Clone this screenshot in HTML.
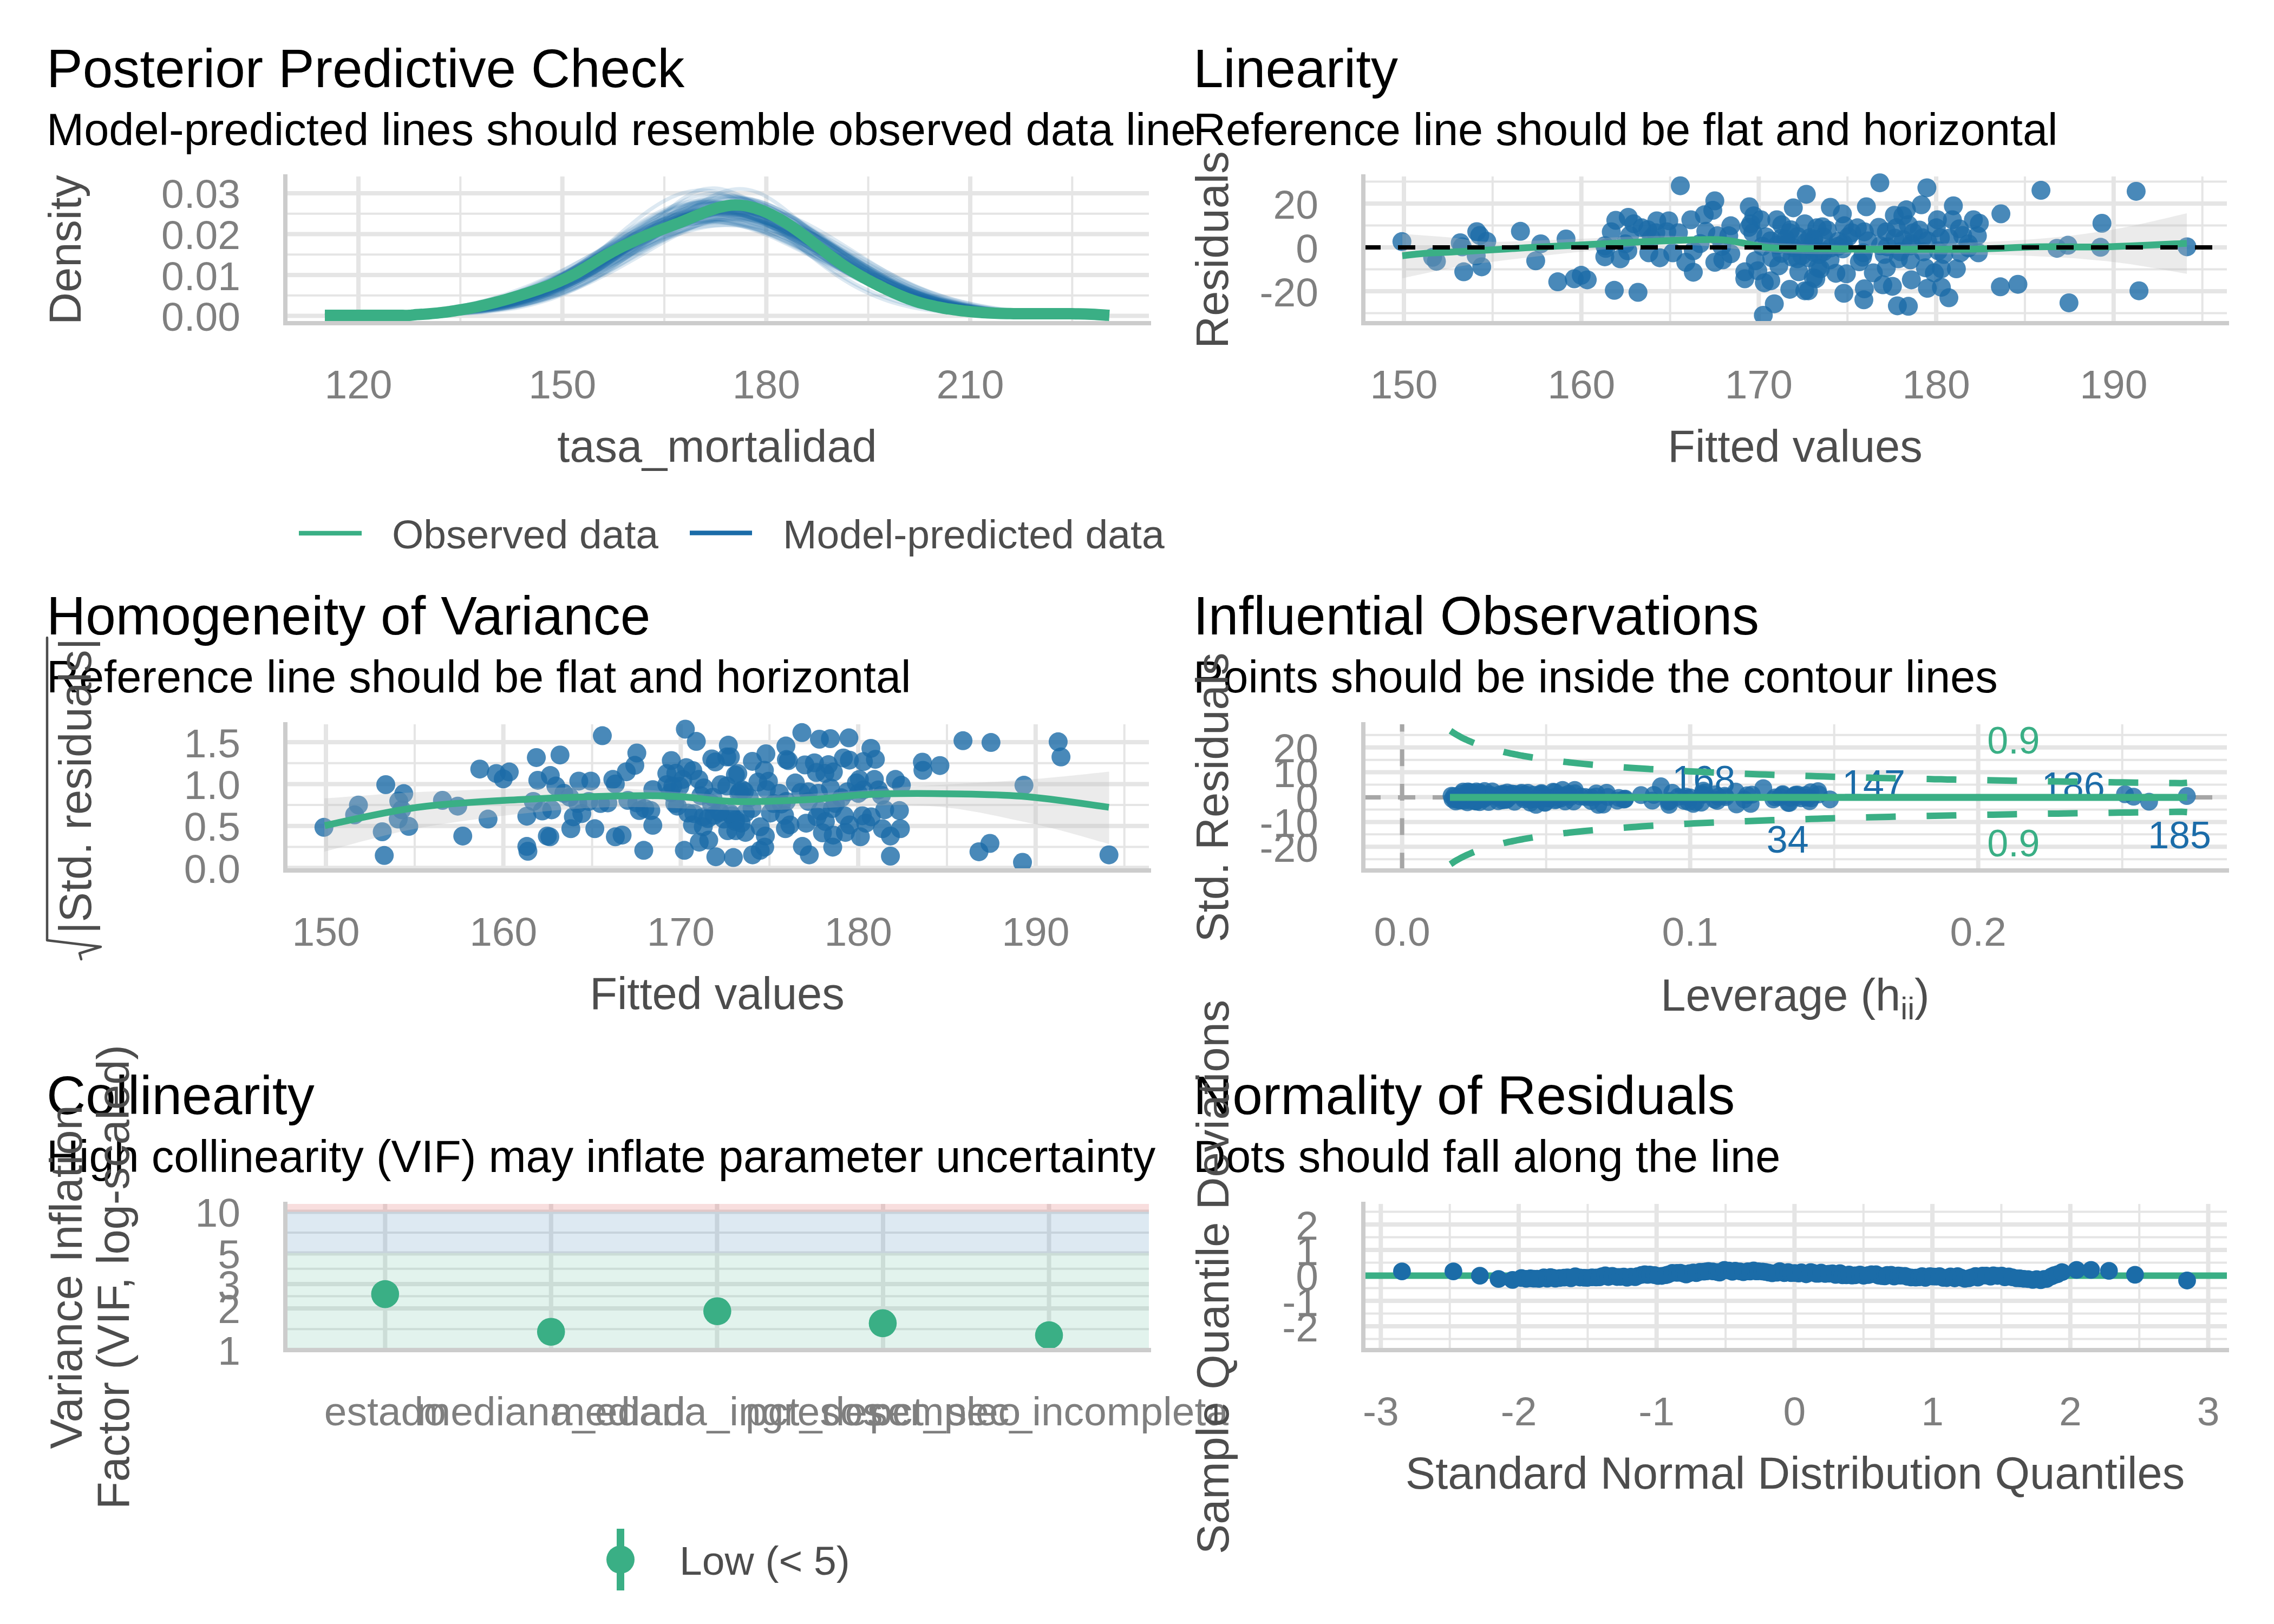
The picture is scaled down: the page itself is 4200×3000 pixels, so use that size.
<!DOCTYPE html>
<html><head><meta charset="utf-8"><style>
html,body{margin:0;padding:0;background:#fff;width:4200px;height:3000px;overflow:hidden}
svg{display:block}
text{font-family:"Liberation Sans", sans-serif}
</style></head><body>
<svg width="4200" height="3000" viewBox="0 0 4200 3000">
<rect width="4200" height="3000" fill="#fff"/>
<!-- ppc -->
<text x="86.0" y="160.8" font-size="100" fill="#000" text-anchor="start">Posterior Predictive Check</text>
<text x="86.0" y="267.9" font-size="83" fill="#000" text-anchor="start">Model-predicted lines should resemble observed data line</text>
<line x1="850.3" y1="326" x2="850.3" y2="597" stroke="#e5e5e5" stroke-width="4"/>
<line x1="1227.0" y1="326" x2="1227.0" y2="597" stroke="#e5e5e5" stroke-width="4"/>
<line x1="1603.6" y1="326" x2="1603.6" y2="597" stroke="#e5e5e5" stroke-width="4"/>
<line x1="1980.3" y1="326" x2="1980.3" y2="597" stroke="#e5e5e5" stroke-width="4"/>
<line x1="527" y1="545.8" x2="2122" y2="545.8" stroke="#e5e5e5" stroke-width="4"/>
<line x1="527" y1="470.2" x2="2122" y2="470.2" stroke="#e5e5e5" stroke-width="4"/>
<line x1="527" y1="394.7" x2="2122" y2="394.7" stroke="#e5e5e5" stroke-width="4"/>
<line x1="662.0" y1="326" x2="662.0" y2="597" stroke="#e5e5e5" stroke-width="8"/>
<line x1="1038.7" y1="326" x2="1038.7" y2="597" stroke="#e5e5e5" stroke-width="8"/>
<line x1="1415.3" y1="326" x2="1415.3" y2="597" stroke="#e5e5e5" stroke-width="8"/>
<line x1="1792.0" y1="326" x2="1792.0" y2="597" stroke="#e5e5e5" stroke-width="8"/>
<line x1="527" y1="583.6" x2="2122" y2="583.6" stroke="#e5e5e5" stroke-width="8"/>
<line x1="527" y1="508.0" x2="2122" y2="508.0" stroke="#e5e5e5" stroke-width="8"/>
<line x1="527" y1="432.5" x2="2122" y2="432.5" stroke="#e5e5e5" stroke-width="8"/>
<line x1="527" y1="356.9" x2="2122" y2="356.9" stroke="#e5e5e5" stroke-width="8"/>
<g fill="none" stroke="#1b6ca8" stroke-opacity="0.15" stroke-width="7" stroke-linejoin="round"><path d="M600.0 582.4 C603.3 582.4 613.3 582.4 620.0 582.3 C626.7 582.3 633.3 582.2 640.0 582.2 C646.7 582.1 653.3 582.1 660.0 582.0 C666.7 582.0 673.3 581.9 680.0 581.8 C686.7 581.7 693.3 581.6 700.0 581.5 C706.7 581.4 713.3 581.2 720.0 581.1 C726.7 580.9 733.3 580.7 740.0 580.5 C746.7 580.3 753.3 580.0 760.0 579.8 C766.7 579.5 773.3 579.2 780.0 578.8 C786.7 578.5 793.3 578.1 800.0 577.6 C806.7 577.1 813.3 576.6 820.0 576.1 C826.7 575.5 833.3 574.9 840.0 574.1 C846.7 573.4 853.3 572.6 860.0 571.7 C866.7 570.9 873.3 569.9 880.0 568.8 C886.7 567.8 893.3 566.6 900.0 565.3 C906.7 564.0 913.3 562.7 920.0 561.1 C926.7 559.6 933.3 558.0 940.0 556.2 C946.7 554.4 953.3 552.5 960.0 550.5 C966.7 548.4 973.3 546.3 980.0 543.9 C986.7 541.6 993.3 539.1 1000.0 536.5 C1006.7 533.9 1013.3 531.1 1020.0 528.2 C1026.7 525.3 1033.3 522.3 1040.0 519.1 C1046.7 515.9 1053.3 512.6 1060.0 509.2 C1066.7 505.8 1073.3 502.3 1080.0 498.7 C1086.7 495.1 1093.3 491.4 1100.0 487.6 C1106.7 483.9 1113.3 480.1 1120.0 476.2 C1126.7 472.4 1133.3 468.5 1140.0 464.7 C1146.7 460.8 1153.3 457.0 1160.0 453.2 C1166.7 449.5 1173.3 445.7 1180.0 442.1 C1186.7 438.5 1193.3 435.0 1200.0 431.6 C1206.7 428.3 1213.3 425.0 1220.0 422.0 C1226.7 419.0 1233.3 416.1 1240.0 413.5 C1246.7 410.9 1253.3 408.5 1260.0 406.4 C1266.7 404.3 1273.3 402.5 1280.0 400.9 C1286.7 399.4 1293.3 398.1 1300.0 397.1 C1306.7 396.2 1313.3 395.5 1320.0 395.2 C1326.7 394.9 1333.3 394.9 1340.0 395.2 C1346.7 395.5 1353.3 396.2 1360.0 397.1 C1366.7 398.1 1373.3 399.3 1380.0 400.9 C1386.7 402.4 1393.3 404.3 1400.0 406.4 C1406.7 408.5 1413.3 410.8 1420.0 413.4 C1426.7 416.0 1433.3 418.8 1440.0 421.8 C1446.7 424.8 1453.3 428.1 1460.0 431.4 C1466.7 434.7 1473.3 438.2 1480.0 441.8 C1486.7 445.4 1493.3 449.1 1500.0 452.8 C1506.7 456.6 1513.3 460.4 1520.0 464.2 C1526.7 468.0 1533.3 471.9 1540.0 475.6 C1546.7 479.4 1553.3 483.3 1560.0 487.0 C1566.7 490.7 1573.3 494.4 1580.0 498.0 C1586.7 501.5 1593.3 505.1 1600.0 508.4 C1606.7 511.8 1613.3 515.1 1620.0 518.3 C1626.7 521.4 1633.3 524.5 1640.0 527.4 C1646.7 530.3 1653.3 533.0 1660.0 535.6 C1666.7 538.3 1673.3 540.8 1680.0 543.1 C1686.7 545.4 1693.3 547.6 1700.0 549.7 C1706.7 551.8 1713.3 553.7 1720.0 555.5 C1726.7 557.3 1733.3 558.9 1740.0 560.5 C1746.7 562.0 1753.3 563.4 1760.0 564.7 C1766.7 566.0 1773.3 567.2 1780.0 568.3 C1786.7 569.4 1793.3 570.4 1800.0 571.3 C1806.7 572.2 1813.3 573.0 1820.0 573.7 C1826.7 574.5 1833.3 575.1 1840.0 575.7 C1846.7 576.3 1853.3 576.8 1860.0 577.3 C1866.7 577.8 1873.3 578.2 1880.0 578.6 C1886.7 579.0 1893.3 579.3 1900.0 579.6 C1906.7 579.9 1913.3 580.1 1920.0 580.3 C1926.7 580.6 1933.3 580.8 1940.0 580.9 C1946.7 581.1 1953.3 581.3 1960.0 581.4 C1966.7 581.5 1973.3 581.6 1980.0 581.7 C1986.7 581.8 1993.3 581.9 2000.0 582.0 C2006.7 582.0 2013.3 582.1 2020.0 582.2 C2026.7 582.2 2036.7 582.3 2040.0 582.3"/><path d="M600.0 582.4 C603.3 582.4 613.3 582.4 620.0 582.4 C626.7 582.3 633.3 582.3 640.0 582.3 C646.7 582.2 653.3 582.2 660.0 582.1 C666.7 582.1 673.3 582.0 680.0 581.9 C686.7 581.8 693.3 581.7 700.0 581.6 C706.7 581.5 713.3 581.4 720.0 581.2 C726.7 581.1 733.3 580.9 740.0 580.7 C746.7 580.5 753.3 580.3 760.0 580.0 C766.7 579.8 773.3 579.5 780.0 579.1 C786.7 578.8 793.3 578.4 800.0 577.9 C806.7 577.5 813.3 577.0 820.0 576.4 C826.7 575.8 833.3 575.2 840.0 574.4 C846.7 573.7 853.3 572.9 860.0 572.0 C866.7 571.1 873.3 570.1 880.0 569.0 C886.7 567.9 893.3 566.7 900.0 565.3 C906.7 564.0 913.3 562.5 920.0 560.9 C926.7 559.3 933.3 557.6 940.0 555.7 C946.7 553.8 953.3 551.7 960.0 549.5 C966.7 547.3 973.3 544.9 980.0 542.4 C986.7 539.8 993.3 537.1 1000.0 534.3 C1006.7 531.4 1013.3 528.4 1020.0 525.2 C1026.7 521.9 1033.3 518.6 1040.0 515.1 C1046.7 511.5 1053.3 507.8 1060.0 504.0 C1066.7 500.2 1073.3 496.3 1080.0 492.2 C1086.7 488.2 1093.3 484.0 1100.0 479.8 C1106.7 475.6 1113.3 471.2 1120.0 466.9 C1126.7 462.6 1133.3 458.2 1140.0 453.8 C1146.7 449.5 1153.3 445.1 1160.0 440.8 C1166.7 436.5 1173.3 432.3 1180.0 428.2 C1186.7 424.1 1193.3 420.1 1200.0 416.3 C1206.7 412.5 1213.3 408.8 1220.0 405.4 C1226.7 402.0 1233.3 398.8 1240.0 395.9 C1246.7 393.0 1253.3 390.3 1260.0 388.0 C1266.7 385.7 1273.3 383.7 1280.0 382.1 C1286.7 380.4 1293.3 379.1 1300.0 378.2 C1306.7 377.3 1313.3 376.7 1320.0 376.6 C1326.7 376.4 1333.3 376.6 1340.0 377.2 C1346.7 377.8 1353.3 378.8 1360.0 380.1 C1366.7 381.5 1373.3 383.2 1380.0 385.2 C1386.7 387.3 1393.3 389.7 1400.0 392.3 C1406.7 395.0 1413.3 398.0 1420.0 401.2 C1426.7 404.4 1433.3 408.0 1440.0 411.6 C1446.7 415.3 1453.3 419.2 1460.0 423.2 C1466.7 427.3 1473.3 431.5 1480.0 435.7 C1486.7 440.0 1493.3 444.4 1500.0 448.7 C1506.7 453.1 1513.3 457.6 1520.0 462.0 C1526.7 466.4 1533.3 470.8 1540.0 475.1 C1546.7 479.5 1553.3 483.8 1560.0 487.9 C1566.7 492.1 1573.3 496.2 1580.0 500.1 C1586.7 504.1 1593.3 507.9 1600.0 511.6 C1606.7 515.2 1613.3 518.8 1620.0 522.1 C1626.7 525.5 1633.3 528.6 1640.0 531.7 C1646.7 534.7 1653.3 537.5 1660.0 540.2 C1666.7 542.9 1673.3 545.4 1680.0 547.7 C1686.7 550.0 1693.3 552.2 1700.0 554.2 C1706.7 556.2 1713.3 558.0 1720.0 559.7 C1726.7 561.4 1733.3 563.0 1740.0 564.4 C1746.7 565.8 1753.3 567.1 1760.0 568.3 C1766.7 569.4 1773.3 570.5 1780.0 571.4 C1786.7 572.4 1793.3 573.2 1800.0 574.0 C1806.7 574.8 1813.3 575.5 1820.0 576.1 C1826.7 576.7 1833.3 577.2 1840.0 577.7 C1846.7 578.2 1853.3 578.6 1860.0 578.9 C1866.7 579.3 1873.3 579.6 1880.0 579.9 C1886.7 580.2 1893.3 580.4 1900.0 580.6 C1906.7 580.9 1913.3 581.0 1920.0 581.2 C1926.7 581.3 1933.3 581.5 1940.0 581.6 C1946.7 581.7 1953.3 581.8 1960.0 581.9 C1966.7 582.0 1973.3 582.0 1980.0 582.1 C1986.7 582.2 1993.3 582.2 2000.0 582.3 C2006.7 582.3 2013.3 582.3 2020.0 582.4 C2026.7 582.4 2036.7 582.4 2040.0 582.4"/><path d="M600.0 582.5 C603.3 582.5 613.3 582.5 620.0 582.5 C626.7 582.4 633.3 582.4 640.0 582.4 C646.7 582.4 653.3 582.3 660.0 582.3 C666.7 582.2 673.3 582.2 680.0 582.1 C686.7 582.1 693.3 582.0 700.0 582.0 C706.7 581.9 713.3 581.8 720.0 581.7 C726.7 581.6 733.3 581.5 740.0 581.3 C746.7 581.2 753.3 581.0 760.0 580.9 C766.7 580.7 773.3 580.5 780.0 580.2 C786.7 580.0 793.3 579.7 800.0 579.4 C806.7 579.1 813.3 578.7 820.0 578.3 C826.7 577.9 833.3 577.5 840.0 577.0 C846.7 576.4 853.3 575.9 860.0 575.2 C866.7 574.6 873.3 573.9 880.0 573.1 C886.7 572.3 893.3 571.4 900.0 570.4 C906.7 569.4 913.3 568.3 920.0 567.1 C926.7 566.0 933.3 564.7 940.0 563.2 C946.7 561.8 953.3 560.3 960.0 558.6 C966.7 556.9 973.3 555.1 980.0 553.2 C986.7 551.2 993.3 549.1 1000.0 546.9 C1006.7 544.6 1013.3 542.2 1020.0 539.7 C1026.7 537.1 1033.3 534.4 1040.0 531.6 C1046.7 528.7 1053.3 525.7 1060.0 522.5 C1066.7 519.4 1073.3 516.1 1080.0 512.7 C1086.7 509.3 1093.3 505.7 1100.0 502.1 C1106.7 498.4 1113.3 494.6 1120.0 490.8 C1126.7 487.0 1133.3 483.0 1140.0 479.0 C1146.7 475.1 1153.3 471.0 1160.0 467.0 C1166.7 463.0 1173.3 458.9 1180.0 454.9 C1186.7 450.9 1193.3 446.9 1200.0 443.0 C1206.7 439.1 1213.3 435.2 1220.0 431.5 C1226.7 427.9 1233.3 424.3 1240.0 420.9 C1246.7 417.5 1253.3 414.3 1260.0 411.3 C1266.7 408.3 1273.3 405.5 1280.0 403.0 C1286.7 400.5 1293.3 398.3 1300.0 396.3 C1306.7 394.4 1313.3 392.7 1320.0 391.4 C1326.7 390.1 1333.3 389.1 1340.0 388.4 C1346.7 387.8 1353.3 387.4 1360.0 387.4 C1366.7 387.5 1373.3 387.8 1380.0 388.5 C1386.7 389.2 1393.3 390.3 1400.0 391.6 C1406.7 393.0 1413.3 394.7 1420.0 396.6 C1426.7 398.6 1433.3 400.9 1440.0 403.4 C1446.7 406.0 1453.3 408.8 1460.0 411.8 C1466.7 414.8 1473.3 418.1 1480.0 421.5 C1486.7 424.9 1493.3 428.5 1500.0 432.2 C1506.7 436.0 1513.3 439.8 1520.0 443.7 C1526.7 447.7 1533.3 451.7 1540.0 455.7 C1546.7 459.8 1553.3 463.9 1560.0 467.9 C1566.7 471.9 1573.3 476.0 1580.0 480.0 C1586.7 484.0 1593.3 487.9 1600.0 491.8 C1606.7 495.6 1613.3 499.4 1620.0 503.1 C1626.7 506.7 1633.3 510.3 1640.0 513.7 C1646.7 517.1 1653.3 520.4 1660.0 523.5 C1666.7 526.7 1673.3 529.7 1680.0 532.5 C1686.7 535.3 1693.3 538.0 1700.0 540.5 C1706.7 543.1 1713.3 545.4 1720.0 547.7 C1726.7 549.9 1733.3 552.0 1740.0 553.9 C1746.7 555.8 1753.3 557.6 1760.0 559.3 C1766.7 560.9 1773.3 562.4 1780.0 563.8 C1786.7 565.2 1793.3 566.5 1800.0 567.7 C1806.7 568.8 1813.3 569.9 1820.0 570.8 C1826.7 571.8 1833.3 572.6 1840.0 573.4 C1846.7 574.2 1853.3 574.9 1860.0 575.5 C1866.7 576.2 1873.3 576.7 1880.0 577.2 C1886.7 577.7 1893.3 578.1 1900.0 578.5 C1906.7 578.9 1913.3 579.3 1920.0 579.6 C1926.7 579.9 1933.3 580.1 1940.0 580.4 C1946.7 580.6 1953.3 580.8 1960.0 581.0 C1966.7 581.1 1973.3 581.3 1980.0 581.4 C1986.7 581.5 1993.3 581.6 2000.0 581.7 C2006.7 581.8 2013.3 581.9 2020.0 582.0 C2026.7 582.1 2036.7 582.1 2040.0 582.2"/><path d="M600.0 582.2 C603.3 582.2 613.3 582.1 620.0 582.0 C626.7 582.0 633.3 581.9 640.0 581.8 C646.7 581.7 653.3 581.6 660.0 581.5 C666.7 581.4 673.3 581.3 680.0 581.1 C686.7 581.0 693.3 580.8 700.0 580.6 C706.7 580.4 713.3 580.2 720.0 579.9 C726.7 579.7 733.3 579.4 740.0 579.0 C746.7 578.7 753.3 578.3 760.0 577.9 C766.7 577.5 773.3 577.0 780.0 576.5 C786.7 576.0 793.3 575.4 800.0 574.8 C806.7 574.1 813.3 573.4 820.0 572.6 C826.7 571.8 833.3 570.9 840.0 569.9 C846.7 569.0 853.3 567.9 860.0 566.8 C866.7 565.6 873.3 564.4 880.0 563.0 C886.7 561.6 893.3 560.1 900.0 558.5 C906.7 556.9 913.3 555.2 920.0 553.3 C926.7 551.5 933.3 549.5 940.0 547.4 C946.7 545.2 953.3 543.0 960.0 540.6 C966.7 538.2 973.3 535.7 980.0 533.0 C986.7 530.3 993.3 527.5 1000.0 524.6 C1006.7 521.7 1013.3 518.6 1020.0 515.4 C1026.7 512.3 1033.3 508.9 1040.0 505.6 C1046.7 502.2 1053.3 498.7 1060.0 495.1 C1066.7 491.5 1073.3 487.8 1080.0 484.2 C1086.7 480.5 1093.3 476.7 1100.0 472.9 C1106.7 469.2 1113.3 465.3 1120.0 461.6 C1126.7 457.8 1133.3 454.0 1140.0 450.4 C1146.7 446.7 1153.3 443.0 1160.0 439.5 C1166.7 436.0 1173.3 432.5 1180.0 429.2 C1186.7 426.0 1193.3 422.8 1200.0 419.8 C1206.7 416.9 1213.3 414.1 1220.0 411.5 C1226.7 409.0 1233.3 406.6 1240.0 404.5 C1246.7 402.5 1253.3 400.6 1260.0 399.1 C1266.7 397.5 1273.3 396.3 1280.0 395.3 C1286.7 394.4 1293.3 393.7 1300.0 393.3 C1306.7 393.0 1313.3 392.9 1320.0 393.2 C1326.7 393.5 1333.3 394.1 1340.0 394.9 C1346.7 395.8 1353.3 397.0 1360.0 398.5 C1366.7 400.0 1373.3 401.7 1380.0 403.8 C1386.7 405.8 1393.3 408.1 1400.0 410.6 C1406.7 413.1 1413.3 415.9 1420.0 418.8 C1426.7 421.7 1433.3 424.9 1440.0 428.2 C1446.7 431.5 1453.3 434.9 1460.0 438.5 C1466.7 442.0 1473.3 445.7 1480.0 449.4 C1486.7 453.1 1493.3 456.9 1500.0 460.7 C1506.7 464.5 1513.3 468.4 1520.0 472.2 C1526.7 476.0 1533.3 479.9 1540.0 483.6 C1546.7 487.4 1553.3 491.1 1560.0 494.7 C1566.7 498.4 1573.3 501.9 1580.0 505.4 C1586.7 508.8 1593.3 512.2 1600.0 515.4 C1606.7 518.6 1613.3 521.7 1620.0 524.7 C1626.7 527.7 1633.3 530.5 1640.0 533.2 C1646.7 535.9 1653.3 538.5 1660.0 540.9 C1666.7 543.3 1673.3 545.6 1680.0 547.8 C1686.7 549.9 1693.3 551.9 1700.0 553.8 C1706.7 555.6 1713.3 557.4 1720.0 559.0 C1726.7 560.6 1733.3 562.1 1740.0 563.4 C1746.7 564.8 1753.3 566.1 1760.0 567.2 C1766.7 568.4 1773.3 569.4 1780.0 570.4 C1786.7 571.3 1793.3 572.2 1800.0 573.0 C1806.7 573.8 1813.3 574.5 1820.0 575.1 C1826.7 575.7 1833.3 576.3 1840.0 576.8 C1846.7 577.3 1853.3 577.8 1860.0 578.2 C1866.7 578.6 1873.3 578.9 1880.0 579.2 C1886.7 579.6 1893.3 579.8 1900.0 580.1 C1906.7 580.3 1913.3 580.5 1920.0 580.7 C1926.7 580.9 1933.3 581.1 1940.0 581.2 C1946.7 581.4 1953.3 581.5 1960.0 581.6 C1966.7 581.7 1973.3 581.8 1980.0 581.9 C1986.7 582.0 1993.3 582.0 2000.0 582.1 C2006.7 582.1 2013.3 582.2 2020.0 582.2 C2026.7 582.3 2036.7 582.3 2040.0 582.3"/><path d="M600.0 582.5 C603.3 582.5 613.3 582.5 620.0 582.5 C626.7 582.5 633.3 582.5 640.0 582.5 C646.7 582.5 653.3 582.4 660.0 582.4 C666.7 582.4 673.3 582.3 680.0 582.3 C686.7 582.3 693.3 582.2 700.0 582.1 C706.7 582.1 713.3 582.0 720.0 581.9 C726.7 581.8 733.3 581.7 740.0 581.6 C746.7 581.5 753.3 581.3 760.0 581.2 C766.7 581.0 773.3 580.8 780.0 580.5 C786.7 580.3 793.3 580.0 800.0 579.7 C806.7 579.3 813.3 579.0 820.0 578.5 C826.7 578.1 833.3 577.6 840.0 577.0 C846.7 576.4 853.3 575.7 860.0 574.9 C866.7 574.2 873.3 573.3 880.0 572.3 C886.7 571.4 893.3 570.3 900.0 569.0 C906.7 567.8 913.3 566.4 920.0 564.9 C926.7 563.4 933.3 561.7 940.0 559.8 C946.7 558.0 953.3 555.9 960.0 553.7 C966.7 551.5 973.3 549.0 980.0 546.4 C986.7 543.8 993.3 540.9 1000.0 537.9 C1006.7 534.8 1013.3 531.6 1020.0 528.1 C1026.7 524.6 1033.3 520.9 1040.0 517.0 C1046.7 513.2 1053.3 509.1 1060.0 504.8 C1066.7 500.6 1073.3 496.2 1080.0 491.6 C1086.7 487.1 1093.3 482.4 1100.0 477.6 C1106.7 472.8 1113.3 467.9 1120.0 463.0 C1126.7 458.2 1133.3 453.2 1140.0 448.3 C1146.7 443.4 1153.3 438.5 1160.0 433.8 C1166.7 429.1 1173.3 424.4 1180.0 419.9 C1186.7 415.5 1193.3 411.2 1200.0 407.2 C1206.7 403.2 1213.3 399.4 1220.0 396.0 C1226.7 392.6 1233.3 389.4 1240.0 386.8 C1246.7 384.1 1253.3 381.7 1260.0 379.8 C1266.7 377.9 1273.3 376.4 1280.0 375.4 C1286.7 374.4 1293.3 373.9 1300.0 373.8 C1306.7 373.7 1313.3 374.1 1320.0 374.9 C1326.7 375.8 1333.3 377.1 1340.0 378.8 C1346.7 380.5 1353.3 382.7 1360.0 385.3 C1366.7 387.8 1373.3 390.8 1380.0 394.0 C1386.7 397.3 1393.3 400.9 1400.0 404.8 C1406.7 408.7 1413.3 412.8 1420.0 417.2 C1426.7 421.5 1433.3 426.1 1440.0 430.7 C1446.7 435.3 1453.3 440.1 1460.0 444.9 C1466.7 449.7 1473.3 454.6 1480.0 459.5 C1486.7 464.3 1493.3 469.2 1500.0 473.9 C1506.7 478.7 1513.3 483.4 1520.0 487.9 C1526.7 492.5 1533.3 497.0 1540.0 501.2 C1546.7 505.5 1553.3 509.6 1560.0 513.6 C1566.7 517.5 1573.3 521.2 1580.0 524.8 C1586.7 528.3 1593.3 531.7 1600.0 534.8 C1606.7 538.0 1613.3 540.9 1620.0 543.6 C1626.7 546.4 1633.3 548.9 1640.0 551.2 C1646.7 553.6 1653.3 555.7 1660.0 557.7 C1666.7 559.6 1673.3 561.4 1680.0 563.1 C1686.7 564.7 1693.3 566.2 1700.0 567.5 C1706.7 568.8 1713.3 570.0 1720.0 571.1 C1726.7 572.1 1733.3 573.1 1740.0 573.9 C1746.7 574.8 1753.3 575.5 1760.0 576.1 C1766.7 576.8 1773.3 577.4 1780.0 577.9 C1786.7 578.4 1793.3 578.8 1800.0 579.2 C1806.7 579.5 1813.3 579.9 1820.0 580.1 C1826.7 580.4 1833.3 580.7 1840.0 580.9 C1846.7 581.1 1853.3 581.2 1860.0 581.4 C1866.7 581.5 1873.3 581.7 1880.0 581.8 C1886.7 581.9 1893.3 582.0 1900.0 582.0 C1906.7 582.1 1913.3 582.2 1920.0 582.2 C1926.7 582.3 1933.3 582.3 1940.0 582.4 C1946.7 582.4 1953.3 582.4 1960.0 582.4 C1966.7 582.5 1973.3 582.5 1980.0 582.5 C1986.7 582.5 1993.3 582.5 2000.0 582.5 C2006.7 582.5 2013.3 582.6 2020.0 582.6 C2026.7 582.6 2036.7 582.6 2040.0 582.6"/><path d="M600.0 582.5 C603.3 582.5 613.3 582.5 620.0 582.4 C626.7 582.4 633.3 582.4 640.0 582.4 C646.7 582.3 653.3 582.3 660.0 582.3 C666.7 582.2 673.3 582.2 680.0 582.1 C686.7 582.0 693.3 582.0 700.0 581.9 C706.7 581.8 713.3 581.7 720.0 581.6 C726.7 581.5 733.3 581.3 740.0 581.2 C746.7 581.0 753.3 580.9 760.0 580.6 C766.7 580.4 773.3 580.2 780.0 579.9 C786.7 579.6 793.3 579.3 800.0 579.0 C806.7 578.6 813.3 578.2 820.0 577.7 C826.7 577.3 833.3 576.7 840.0 576.1 C846.7 575.6 853.3 574.9 860.0 574.1 C866.7 573.4 873.3 572.6 880.0 571.6 C886.7 570.7 893.3 569.7 900.0 568.5 C906.7 567.4 913.3 566.2 920.0 564.8 C926.7 563.4 933.3 561.9 940.0 560.3 C946.7 558.6 953.3 556.8 960.0 554.9 C966.7 553.0 973.3 550.9 980.0 548.6 C986.7 546.4 993.3 544.0 1000.0 541.4 C1006.7 538.8 1013.3 536.1 1020.0 533.2 C1026.7 530.3 1033.3 527.2 1040.0 524.0 C1046.7 520.7 1053.3 517.3 1060.0 513.8 C1066.7 510.3 1073.3 506.6 1080.0 502.8 C1086.7 499.0 1093.3 495.1 1100.0 491.1 C1106.7 487.1 1113.3 482.9 1120.0 478.8 C1126.7 474.6 1133.3 470.4 1140.0 466.1 C1146.7 461.9 1153.3 457.6 1160.0 453.4 C1166.7 449.2 1173.3 445.0 1180.0 440.9 C1186.7 436.8 1193.3 432.7 1200.0 428.8 C1206.7 425.0 1213.3 421.2 1220.0 417.6 C1226.7 414.1 1233.3 410.7 1240.0 407.5 C1246.7 404.4 1253.3 401.5 1260.0 398.9 C1266.7 396.3 1273.3 393.9 1280.0 391.9 C1286.7 389.9 1293.3 388.2 1300.0 386.9 C1306.7 385.6 1313.3 384.5 1320.0 383.9 C1326.7 383.3 1333.3 383.0 1340.0 383.1 C1346.7 383.2 1353.3 383.6 1360.0 384.4 C1366.7 385.2 1373.3 386.4 1380.0 387.9 C1386.7 389.4 1393.3 391.2 1400.0 393.3 C1406.7 395.5 1413.3 397.9 1420.0 400.6 C1426.7 403.3 1433.3 406.3 1440.0 409.5 C1446.7 412.7 1453.3 416.2 1460.0 419.8 C1466.7 423.3 1473.3 427.1 1480.0 431.0 C1486.7 434.9 1493.3 438.9 1500.0 443.0 C1506.7 447.1 1513.3 451.2 1520.0 455.4 C1526.7 459.5 1533.3 463.8 1540.0 467.9 C1546.7 472.1 1553.3 476.2 1560.0 480.3 C1566.7 484.4 1573.3 488.4 1580.0 492.3 C1586.7 496.2 1593.3 500.1 1600.0 503.8 C1606.7 507.5 1613.3 511.1 1620.0 514.5 C1626.7 517.9 1633.3 521.3 1640.0 524.4 C1646.7 527.5 1653.3 530.5 1660.0 533.4 C1666.7 536.2 1673.3 538.9 1680.0 541.4 C1686.7 543.9 1693.3 546.3 1700.0 548.5 C1706.7 550.7 1713.3 552.8 1720.0 554.7 C1726.7 556.6 1733.3 558.3 1740.0 560.0 C1746.7 561.6 1753.3 563.1 1760.0 564.4 C1766.7 565.8 1773.3 567.1 1780.0 568.2 C1786.7 569.3 1793.3 570.4 1800.0 571.3 C1806.7 572.2 1813.3 573.1 1820.0 573.8 C1826.7 574.6 1833.3 575.3 1840.0 575.9 C1846.7 576.5 1853.3 577.0 1860.0 577.5 C1866.7 578.0 1873.3 578.4 1880.0 578.8 C1886.7 579.1 1893.3 579.4 1900.0 579.7 C1906.7 580.0 1913.3 580.3 1920.0 580.5 C1926.7 580.7 1933.3 580.9 1940.0 581.1 C1946.7 581.2 1953.3 581.4 1960.0 581.5 C1966.7 581.6 1973.3 581.7 1980.0 581.8 C1986.7 581.9 1993.3 582.0 2000.0 582.0 C2006.7 582.1 2013.3 582.2 2020.0 582.2 C2026.7 582.3 2036.7 582.3 2040.0 582.3"/><path d="M600.0 582.5 C603.3 582.5 613.3 582.4 620.0 582.4 C626.7 582.4 633.3 582.3 640.0 582.3 C646.7 582.3 653.3 582.2 660.0 582.2 C666.7 582.1 673.3 582.1 680.0 582.0 C686.7 582.0 693.3 581.9 700.0 581.8 C706.7 581.7 713.3 581.6 720.0 581.5 C726.7 581.4 733.3 581.2 740.0 581.1 C746.7 580.9 753.3 580.7 760.0 580.5 C766.7 580.3 773.3 580.1 780.0 579.8 C786.7 579.5 793.3 579.2 800.0 578.9 C806.7 578.6 813.3 578.2 820.0 577.7 C826.7 577.3 833.3 576.8 840.0 576.3 C846.7 575.7 853.3 575.1 860.0 574.5 C866.7 573.8 873.3 573.0 880.0 572.2 C886.7 571.4 893.3 570.5 900.0 569.5 C906.7 568.5 913.3 567.4 920.0 566.2 C926.7 565.0 933.3 563.7 940.0 562.3 C946.7 560.9 953.3 559.4 960.0 557.8 C966.7 556.1 973.3 554.4 980.0 552.5 C986.7 550.6 993.3 548.5 1000.0 546.4 C1006.7 544.2 1013.3 541.9 1020.0 539.5 C1026.7 537.1 1033.3 534.5 1040.0 531.8 C1046.7 529.1 1053.3 526.2 1060.0 523.3 C1066.7 520.3 1073.3 517.2 1080.0 514.0 C1086.7 510.8 1093.3 507.5 1100.0 504.1 C1106.7 500.7 1113.3 497.1 1120.0 493.6 C1126.7 490.0 1133.3 486.3 1140.0 482.6 C1146.7 478.9 1153.3 475.1 1160.0 471.4 C1166.7 467.6 1173.3 463.8 1180.0 460.1 C1186.7 456.4 1193.3 452.6 1200.0 449.0 C1206.7 445.4 1213.3 441.8 1220.0 438.3 C1226.7 434.9 1233.3 431.5 1240.0 428.3 C1246.7 425.2 1253.3 422.1 1260.0 419.3 C1266.7 416.5 1273.3 413.9 1280.0 411.5 C1286.7 409.1 1293.3 407.0 1300.0 405.1 C1306.7 403.3 1313.3 401.6 1320.0 400.4 C1326.7 399.1 1333.3 398.1 1340.0 397.4 C1346.7 396.8 1353.3 396.4 1360.0 396.4 C1366.7 396.4 1373.3 396.7 1380.0 397.3 C1386.7 398.0 1393.3 398.9 1400.0 400.2 C1406.7 401.5 1413.3 403.1 1420.0 404.9 C1426.7 406.8 1433.3 409.0 1440.0 411.4 C1446.7 413.8 1453.3 416.5 1460.0 419.4 C1466.7 422.2 1473.3 425.4 1480.0 428.6 C1486.7 431.9 1493.3 435.4 1500.0 439.0 C1506.7 442.6 1513.3 446.3 1520.0 450.1 C1526.7 453.9 1533.3 457.8 1540.0 461.6 C1546.7 465.5 1553.3 469.5 1560.0 473.4 C1566.7 477.3 1573.3 481.3 1580.0 485.1 C1586.7 489.0 1593.3 492.8 1600.0 496.5 C1606.7 500.2 1613.3 503.9 1620.0 507.4 C1626.7 510.9 1633.3 514.4 1640.0 517.6 C1646.7 520.9 1653.3 524.1 1660.0 527.1 C1666.7 530.1 1673.3 533.0 1680.0 535.7 C1686.7 538.4 1693.3 541.0 1700.0 543.4 C1706.7 545.8 1713.3 548.1 1720.0 550.2 C1726.7 552.3 1733.3 554.3 1740.0 556.1 C1746.7 557.9 1753.3 559.6 1760.0 561.2 C1766.7 562.7 1773.3 564.1 1780.0 565.4 C1786.7 566.7 1793.3 567.9 1800.0 569.0 C1806.7 570.1 1813.3 571.1 1820.0 572.0 C1826.7 572.8 1833.3 573.6 1840.0 574.3 C1846.7 575.1 1853.3 575.7 1860.0 576.3 C1866.7 576.8 1873.3 577.3 1880.0 577.8 C1886.7 578.3 1893.3 578.6 1900.0 579.0 C1906.7 579.4 1913.3 579.7 1920.0 579.9 C1926.7 580.2 1933.3 580.4 1940.0 580.6 C1946.7 580.8 1953.3 581.0 1960.0 581.2 C1966.7 581.3 1973.3 581.5 1980.0 581.6 C1986.7 581.7 1993.3 581.8 2000.0 581.9 C2006.7 582.0 2013.3 582.0 2020.0 582.1 C2026.7 582.1 2036.7 582.2 2040.0 582.2"/><path d="M600.0 582.4 C603.3 582.4 613.3 582.3 620.0 582.3 C626.7 582.2 633.3 582.2 640.0 582.1 C646.7 582.1 653.3 582.0 660.0 581.9 C666.7 581.9 673.3 581.8 680.0 581.7 C686.7 581.6 693.3 581.5 700.0 581.4 C706.7 581.2 713.3 581.1 720.0 580.9 C726.7 580.8 733.3 580.6 740.0 580.4 C746.7 580.1 753.3 579.9 760.0 579.6 C766.7 579.3 773.3 579.0 780.0 578.7 C786.7 578.3 793.3 577.9 800.0 577.4 C806.7 577.0 813.3 576.5 820.0 575.9 C826.7 575.4 833.3 574.8 840.0 574.1 C846.7 573.4 853.3 572.6 860.0 571.8 C866.7 570.9 873.3 570.0 880.0 569.0 C886.7 568.0 893.3 566.9 900.0 565.7 C906.7 564.5 913.3 563.2 920.0 561.7 C926.7 560.3 933.3 558.8 940.0 557.1 C946.7 555.5 953.3 553.7 960.0 551.8 C966.7 549.9 973.3 547.9 980.0 545.7 C986.7 543.6 993.3 541.3 1000.0 538.9 C1006.7 536.5 1013.3 533.9 1020.0 531.3 C1026.7 528.6 1033.3 525.8 1040.0 522.9 C1046.7 520.0 1053.3 517.0 1060.0 513.9 C1066.7 510.8 1073.3 507.6 1080.0 504.3 C1086.7 501.0 1093.3 497.6 1100.0 494.2 C1106.7 490.7 1113.3 487.2 1120.0 483.7 C1126.7 480.2 1133.3 476.7 1140.0 473.1 C1146.7 469.6 1153.3 466.0 1160.0 462.6 C1166.7 459.1 1173.3 455.6 1180.0 452.2 C1186.7 448.9 1193.3 445.6 1200.0 442.4 C1206.7 439.2 1213.3 436.2 1220.0 433.3 C1226.7 430.4 1233.3 427.6 1240.0 425.1 C1246.7 422.6 1253.3 420.2 1260.0 418.1 C1266.7 416.0 1273.3 414.0 1280.0 412.4 C1286.7 410.7 1293.3 409.3 1300.0 408.2 C1306.7 407.1 1313.3 406.2 1320.0 405.6 C1326.7 405.0 1333.3 404.7 1340.0 404.7 C1346.7 404.6 1353.3 404.9 1360.0 405.4 C1366.7 405.9 1373.3 406.8 1380.0 407.8 C1386.7 408.9 1393.3 410.3 1400.0 411.9 C1406.7 413.4 1413.3 415.3 1420.0 417.3 C1426.7 419.4 1433.3 421.7 1440.0 424.2 C1446.7 426.6 1453.3 429.3 1460.0 432.1 C1466.7 434.9 1473.3 437.9 1480.0 441.0 C1486.7 444.1 1493.3 447.3 1500.0 450.6 C1506.7 453.9 1513.3 457.3 1520.0 460.7 C1526.7 464.1 1533.3 467.6 1540.0 471.0 C1546.7 474.5 1553.3 478.0 1560.0 481.4 C1566.7 484.9 1573.3 488.3 1580.0 491.7 C1586.7 495.1 1593.3 498.5 1600.0 501.7 C1606.7 505.0 1613.3 508.2 1620.0 511.3 C1626.7 514.4 1633.3 517.4 1640.0 520.3 C1646.7 523.2 1653.3 526.0 1660.0 528.6 C1666.7 531.3 1673.3 533.9 1680.0 536.3 C1686.7 538.8 1693.3 541.1 1700.0 543.3 C1706.7 545.5 1713.3 547.5 1720.0 549.5 C1726.7 551.4 1733.3 553.2 1740.0 555.0 C1746.7 556.7 1753.3 558.3 1760.0 559.8 C1766.7 561.2 1773.3 562.6 1780.0 563.9 C1786.7 565.2 1793.3 566.3 1800.0 567.4 C1806.7 568.5 1813.3 569.5 1820.0 570.4 C1826.7 571.3 1833.3 572.1 1840.0 572.9 C1846.7 573.6 1853.3 574.3 1860.0 574.9 C1866.7 575.6 1873.3 576.1 1880.0 576.6 C1886.7 577.1 1893.3 577.6 1900.0 578.0 C1906.7 578.4 1913.3 578.7 1920.0 579.0 C1926.7 579.4 1933.3 579.6 1940.0 579.9 C1946.7 580.1 1953.3 580.4 1960.0 580.6 C1966.7 580.8 1973.3 580.9 1980.0 581.1 C1986.7 581.2 1993.3 581.4 2000.0 581.5 C2006.7 581.6 2013.3 581.7 2020.0 581.8 C2026.7 581.9 2036.7 582.0 2040.0 582.0"/><path d="M600.0 582.5 C603.3 582.5 613.3 582.4 620.0 582.4 C626.7 582.4 633.3 582.4 640.0 582.3 C646.7 582.3 653.3 582.2 660.0 582.2 C666.7 582.1 673.3 582.1 680.0 582.0 C686.7 581.9 693.3 581.9 700.0 581.8 C706.7 581.7 713.3 581.6 720.0 581.4 C726.7 581.3 733.3 581.1 740.0 581.0 C746.7 580.8 753.3 580.6 760.0 580.4 C766.7 580.1 773.3 579.9 780.0 579.5 C786.7 579.2 793.3 578.9 800.0 578.5 C806.7 578.1 813.3 577.6 820.0 577.1 C826.7 576.6 833.3 576.0 840.0 575.4 C846.7 574.7 853.3 574.0 860.0 573.2 C866.7 572.4 873.3 571.5 880.0 570.5 C886.7 569.5 893.3 568.4 900.0 567.2 C906.7 566.0 913.3 564.7 920.0 563.2 C926.7 561.7 933.3 560.2 940.0 558.4 C946.7 556.7 953.3 554.8 960.0 552.8 C966.7 550.8 973.3 548.6 980.0 546.2 C986.7 543.9 993.3 541.4 1000.0 538.7 C1006.7 536.1 1013.3 533.2 1020.0 530.3 C1026.7 527.3 1033.3 524.1 1040.0 520.8 C1046.7 517.5 1053.3 514.1 1060.0 510.5 C1066.7 506.9 1073.3 503.1 1080.0 499.3 C1086.7 495.5 1093.3 491.5 1100.0 487.4 C1106.7 483.4 1113.3 479.2 1120.0 475.1 C1126.7 470.9 1133.3 466.6 1140.0 462.4 C1146.7 458.2 1153.3 453.9 1160.0 449.7 C1166.7 445.5 1173.3 441.3 1180.0 437.2 C1186.7 433.2 1193.3 429.1 1200.0 425.3 C1206.7 421.5 1213.3 417.8 1220.0 414.3 C1226.7 410.8 1233.3 407.5 1240.0 404.4 C1246.7 401.4 1253.3 398.6 1260.0 396.1 C1266.7 393.6 1273.3 391.3 1280.0 389.4 C1286.7 387.5 1293.3 385.9 1300.0 384.7 C1306.7 383.5 1313.3 382.6 1320.0 382.1 C1326.7 381.6 1333.3 381.5 1340.0 381.7 C1346.7 381.9 1353.3 382.5 1360.0 383.5 C1366.7 384.4 1373.3 385.7 1380.0 387.4 C1386.7 389.0 1393.3 391.0 1400.0 393.3 C1406.7 395.6 1413.3 398.2 1420.0 401.1 C1426.7 404.0 1433.3 407.1 1440.0 410.5 C1446.7 413.8 1453.3 417.4 1460.0 421.1 C1466.7 424.9 1473.3 428.8 1480.0 432.8 C1486.7 436.8 1493.3 441.0 1500.0 445.2 C1506.7 449.4 1513.3 453.7 1520.0 457.9 C1526.7 462.2 1533.3 466.5 1540.0 470.7 C1546.7 474.9 1553.3 479.2 1560.0 483.3 C1566.7 487.4 1573.3 491.5 1580.0 495.4 C1586.7 499.4 1593.3 503.2 1600.0 506.9 C1606.7 510.7 1613.3 514.2 1620.0 517.7 C1626.7 521.1 1633.3 524.4 1640.0 527.5 C1646.7 530.6 1653.3 533.5 1660.0 536.3 C1666.7 539.1 1673.3 541.7 1680.0 544.2 C1686.7 546.6 1693.3 548.9 1700.0 551.0 C1706.7 553.2 1713.3 555.1 1720.0 557.0 C1726.7 558.8 1733.3 560.5 1740.0 562.0 C1746.7 563.6 1753.3 564.9 1760.0 566.2 C1766.7 567.5 1773.3 568.7 1780.0 569.7 C1786.7 570.8 1793.3 571.7 1800.0 572.6 C1806.7 573.5 1813.3 574.2 1820.0 574.9 C1826.7 575.6 1833.3 576.2 1840.0 576.8 C1846.7 577.3 1853.3 577.8 1860.0 578.2 C1866.7 578.6 1873.3 579.0 1880.0 579.3 C1886.7 579.7 1893.3 579.9 1900.0 580.2 C1906.7 580.5 1913.3 580.7 1920.0 580.9 C1926.7 581.0 1933.3 581.2 1940.0 581.3 C1946.7 581.5 1953.3 581.6 1960.0 581.7 C1966.7 581.8 1973.3 581.9 1980.0 582.0 C1986.7 582.0 1993.3 582.1 2000.0 582.2 C2006.7 582.2 2013.3 582.3 2020.0 582.3 C2026.7 582.3 2036.7 582.4 2040.0 582.4"/><path d="M600.0 582.5 C603.3 582.5 613.3 582.5 620.0 582.5 C626.7 582.5 633.3 582.5 640.0 582.5 C646.7 582.4 653.3 582.4 660.0 582.4 C666.7 582.4 673.3 582.3 680.0 582.3 C686.7 582.2 693.3 582.2 700.0 582.1 C706.7 582.1 713.3 582.0 720.0 581.9 C726.7 581.8 733.3 581.7 740.0 581.6 C746.7 581.5 753.3 581.4 760.0 581.2 C766.7 581.0 773.3 580.9 780.0 580.6 C786.7 580.4 793.3 580.2 800.0 579.9 C806.7 579.6 813.3 579.3 820.0 578.9 C826.7 578.5 833.3 578.1 840.0 577.6 C846.7 577.1 853.3 576.5 860.0 575.9 C866.7 575.3 873.3 574.6 880.0 573.8 C886.7 573.0 893.3 572.1 900.0 571.1 C906.7 570.1 913.3 569.0 920.0 567.8 C926.7 566.6 933.3 565.2 940.0 563.8 C946.7 562.3 953.3 560.7 960.0 558.9 C966.7 557.1 973.3 555.2 980.0 553.1 C986.7 551.0 993.3 548.8 1000.0 546.4 C1006.7 544.0 1013.3 541.4 1020.0 538.6 C1026.7 535.9 1033.3 532.9 1040.0 529.8 C1046.7 526.7 1053.3 523.4 1060.0 520.0 C1066.7 516.5 1073.3 512.9 1080.0 509.1 C1086.7 505.3 1093.3 501.4 1100.0 497.4 C1106.7 493.3 1113.3 489.2 1120.0 484.9 C1126.7 480.7 1133.3 476.3 1140.0 471.9 C1146.7 467.5 1153.3 463.1 1160.0 458.6 C1166.7 454.2 1173.3 449.7 1180.0 445.4 C1186.7 441.0 1193.3 436.6 1200.0 432.4 C1206.7 428.2 1213.3 424.1 1220.0 420.2 C1226.7 416.3 1233.3 412.5 1240.0 409.0 C1246.7 405.6 1253.3 402.3 1260.0 399.3 C1266.7 396.3 1273.3 393.6 1280.0 391.3 C1286.7 389.0 1293.3 387.0 1300.0 385.4 C1306.7 383.7 1313.3 382.5 1320.0 381.7 C1326.7 380.8 1333.3 380.4 1340.0 380.4 C1346.7 380.3 1353.3 380.7 1360.0 381.5 C1366.7 382.3 1373.3 383.6 1380.0 385.1 C1386.7 386.7 1393.3 388.7 1400.0 391.1 C1406.7 393.4 1413.3 396.1 1420.0 399.1 C1426.7 402.1 1433.3 405.5 1440.0 409.0 C1446.7 412.5 1453.3 416.4 1460.0 420.4 C1466.7 424.4 1473.3 428.6 1480.0 432.9 C1486.7 437.2 1493.3 441.7 1500.0 446.2 C1506.7 450.7 1513.3 455.4 1520.0 459.9 C1526.7 464.5 1533.3 469.1 1540.0 473.6 C1546.7 478.1 1553.3 482.6 1560.0 487.0 C1566.7 491.4 1573.3 495.7 1580.0 499.8 C1586.7 503.9 1593.3 508.0 1600.0 511.8 C1606.7 515.6 1613.3 519.3 1620.0 522.8 C1626.7 526.3 1633.3 529.6 1640.0 532.8 C1646.7 535.9 1653.3 538.8 1660.0 541.6 C1666.7 544.3 1673.3 546.9 1680.0 549.2 C1686.7 551.6 1693.3 553.8 1700.0 555.8 C1706.7 557.8 1713.3 559.7 1720.0 561.4 C1726.7 563.1 1733.3 564.6 1740.0 566.0 C1746.7 567.4 1753.3 568.6 1760.0 569.7 C1766.7 570.9 1773.3 571.9 1780.0 572.8 C1786.7 573.7 1793.3 574.5 1800.0 575.2 C1806.7 575.9 1813.3 576.5 1820.0 577.1 C1826.7 577.6 1833.3 578.1 1840.0 578.5 C1846.7 579.0 1853.3 579.3 1860.0 579.6 C1866.7 580.0 1873.3 580.2 1880.0 580.5 C1886.7 580.7 1893.3 580.9 1900.0 581.1 C1906.7 581.3 1913.3 581.4 1920.0 581.5 C1926.7 581.7 1933.3 581.8 1940.0 581.9 C1946.7 582.0 1953.3 582.0 1960.0 582.1 C1966.7 582.2 1973.3 582.2 1980.0 582.3 C1986.7 582.3 1993.3 582.3 2000.0 582.4 C2006.7 582.4 2013.3 582.4 2020.0 582.5 C2026.7 582.5 2036.7 582.5 2040.0 582.5"/><path d="M600.0 582.4 C603.3 582.4 613.3 582.3 620.0 582.3 C626.7 582.3 633.3 582.2 640.0 582.2 C646.7 582.1 653.3 582.1 660.0 582.0 C666.7 581.9 673.3 581.8 680.0 581.7 C686.7 581.6 693.3 581.5 700.0 581.4 C706.7 581.2 713.3 581.1 720.0 580.9 C726.7 580.7 733.3 580.5 740.0 580.3 C746.7 580.0 753.3 579.7 760.0 579.4 C766.7 579.1 773.3 578.7 780.0 578.3 C786.7 577.9 793.3 577.4 800.0 576.9 C806.7 576.4 813.3 575.8 820.0 575.1 C826.7 574.5 833.3 573.7 840.0 572.9 C846.7 572.1 853.3 571.1 860.0 570.1 C866.7 569.1 873.3 568.0 880.0 566.7 C886.7 565.5 893.3 564.1 900.0 562.6 C906.7 561.1 913.3 559.5 920.0 557.7 C926.7 555.9 933.3 554.0 940.0 551.9 C946.7 549.9 953.3 547.7 960.0 545.3 C966.7 542.9 973.3 540.3 980.0 537.6 C986.7 534.9 993.3 532.1 1000.0 529.0 C1006.7 526.0 1013.3 522.8 1020.0 519.5 C1026.7 516.2 1033.3 512.7 1040.0 509.1 C1046.7 505.5 1053.3 501.7 1060.0 497.9 C1066.7 494.1 1073.3 490.1 1080.0 486.1 C1086.7 482.1 1093.3 478.0 1100.0 473.9 C1106.7 469.7 1113.3 465.5 1120.0 461.4 C1126.7 457.3 1133.3 453.1 1140.0 449.0 C1146.7 445.0 1153.3 440.9 1160.0 437.0 C1166.7 433.1 1173.3 429.3 1180.0 425.6 C1186.7 422.0 1193.3 418.5 1200.0 415.3 C1206.7 412.0 1213.3 408.9 1220.0 406.1 C1226.7 403.3 1233.3 400.8 1240.0 398.5 C1246.7 396.3 1253.3 394.3 1260.0 392.6 C1266.7 391.0 1273.3 389.7 1280.0 388.7 C1286.7 387.7 1293.3 387.1 1300.0 386.8 C1306.7 386.5 1313.3 386.6 1320.0 387.0 C1326.7 387.4 1333.3 388.1 1340.0 389.2 C1346.7 390.3 1353.3 391.7 1360.0 393.5 C1366.7 395.2 1373.3 397.2 1380.0 399.5 C1386.7 401.8 1393.3 404.4 1400.0 407.2 C1406.7 410.0 1413.3 413.1 1420.0 416.3 C1426.7 419.5 1433.3 423.0 1440.0 426.6 C1446.7 430.1 1453.3 433.9 1460.0 437.6 C1466.7 441.4 1473.3 445.4 1480.0 449.3 C1486.7 453.2 1493.3 457.3 1500.0 461.3 C1506.7 465.3 1513.3 469.3 1520.0 473.2 C1526.7 477.2 1533.3 481.2 1540.0 485.0 C1546.7 488.9 1553.3 492.7 1560.0 496.4 C1566.7 500.1 1573.3 503.7 1580.0 507.2 C1586.7 510.7 1593.3 514.1 1600.0 517.3 C1606.7 520.5 1613.3 523.6 1620.0 526.6 C1626.7 529.6 1633.3 532.4 1640.0 535.1 C1646.7 537.7 1653.3 540.2 1660.0 542.6 C1666.7 545.0 1673.3 547.2 1680.0 549.3 C1686.7 551.4 1693.3 553.4 1700.0 555.2 C1706.7 557.0 1713.3 558.7 1720.0 560.2 C1726.7 561.8 1733.3 563.2 1740.0 564.5 C1746.7 565.9 1753.3 567.0 1760.0 568.2 C1766.7 569.3 1773.3 570.3 1780.0 571.2 C1786.7 572.1 1793.3 572.9 1800.0 573.6 C1806.7 574.4 1813.3 575.0 1820.0 575.7 C1826.7 576.3 1833.3 576.8 1840.0 577.3 C1846.7 577.8 1853.3 578.2 1860.0 578.6 C1866.7 578.9 1873.3 579.3 1880.0 579.6 C1886.7 579.9 1893.3 580.1 1900.0 580.3 C1906.7 580.6 1913.3 580.8 1920.0 580.9 C1926.7 581.1 1933.3 581.3 1940.0 581.4 C1946.7 581.5 1953.3 581.6 1960.0 581.7 C1966.7 581.8 1973.3 581.9 1980.0 582.0 C1986.7 582.0 1993.3 582.1 2000.0 582.2 C2006.7 582.2 2013.3 582.3 2020.0 582.3 C2026.7 582.3 2036.7 582.4 2040.0 582.4"/><path d="M600.0 582.3 C603.3 582.3 613.3 582.3 620.0 582.2 C626.7 582.2 633.3 582.1 640.0 582.1 C646.7 582.0 653.3 581.9 660.0 581.8 C666.7 581.8 673.3 581.7 680.0 581.6 C686.7 581.5 693.3 581.3 700.0 581.2 C706.7 581.1 713.3 580.9 720.0 580.7 C726.7 580.5 733.3 580.3 740.0 580.1 C746.7 579.9 753.3 579.6 760.0 579.3 C766.7 579.0 773.3 578.7 780.0 578.3 C786.7 577.9 793.3 577.5 800.0 577.0 C806.7 576.5 813.3 576.0 820.0 575.4 C826.7 574.8 833.3 574.2 840.0 573.5 C846.7 572.8 853.3 572.0 860.0 571.1 C866.7 570.3 873.3 569.3 880.0 568.3 C886.7 567.3 893.3 566.2 900.0 564.9 C906.7 563.7 913.3 562.4 920.0 561.0 C926.7 559.6 933.3 558.0 940.0 556.4 C946.7 554.8 953.3 553.0 960.0 551.2 C966.7 549.3 973.3 547.3 980.0 545.2 C986.7 543.1 993.3 540.9 1000.0 538.6 C1006.7 536.2 1013.3 533.8 1020.0 531.2 C1026.7 528.7 1033.3 526.0 1040.0 523.2 C1046.7 520.5 1053.3 517.6 1060.0 514.6 C1066.7 511.7 1073.3 508.6 1080.0 505.5 C1086.7 502.4 1093.3 499.2 1100.0 496.0 C1106.7 492.8 1113.3 489.5 1120.0 486.3 C1126.7 483.0 1133.3 479.7 1140.0 476.4 C1146.7 473.2 1153.3 469.9 1160.0 466.7 C1166.7 463.5 1173.3 460.3 1180.0 457.3 C1186.7 454.2 1193.3 451.2 1200.0 448.4 C1206.7 445.5 1213.3 442.8 1220.0 440.2 C1226.7 437.6 1233.3 435.1 1240.0 432.9 C1246.7 430.7 1253.3 428.6 1260.0 426.7 C1266.7 424.9 1273.3 423.2 1280.0 421.9 C1286.7 420.5 1293.3 419.3 1300.0 418.4 C1306.7 417.5 1313.3 416.8 1320.0 416.4 C1326.7 416.0 1333.3 415.8 1340.0 415.9 C1346.7 416.1 1353.3 416.4 1360.0 417.1 C1366.7 417.7 1373.3 418.6 1380.0 419.7 C1386.7 420.8 1393.3 422.2 1400.0 423.8 C1406.7 425.4 1413.3 427.2 1420.0 429.3 C1426.7 431.3 1433.3 433.5 1440.0 435.9 C1446.7 438.3 1453.3 440.8 1460.0 443.5 C1466.7 446.2 1473.3 449.1 1480.0 452.0 C1486.7 454.9 1493.3 458.0 1500.0 461.1 C1506.7 464.2 1513.3 467.4 1520.0 470.6 C1526.7 473.8 1533.3 477.1 1540.0 480.3 C1546.7 483.6 1553.3 486.8 1560.0 490.1 C1566.7 493.3 1573.3 496.5 1580.0 499.6 C1586.7 502.8 1593.3 505.9 1600.0 508.9 C1606.7 511.9 1613.3 514.9 1620.0 517.8 C1626.7 520.6 1633.3 523.4 1640.0 526.1 C1646.7 528.7 1653.3 531.3 1660.0 533.8 C1666.7 536.2 1673.3 538.6 1680.0 540.8 C1686.7 543.1 1693.3 545.2 1700.0 547.2 C1706.7 549.2 1713.3 551.1 1720.0 552.8 C1726.7 554.6 1733.3 556.3 1740.0 557.8 C1746.7 559.4 1753.3 560.8 1760.0 562.2 C1766.7 563.5 1773.3 564.8 1780.0 565.9 C1786.7 567.1 1793.3 568.1 1800.0 569.1 C1806.7 570.1 1813.3 571.0 1820.0 571.8 C1826.7 572.6 1833.3 573.3 1840.0 574.0 C1846.7 574.7 1853.3 575.3 1860.0 575.8 C1866.7 576.4 1873.3 576.9 1880.0 577.3 C1886.7 577.8 1893.3 578.2 1900.0 578.5 C1906.7 578.9 1913.3 579.2 1920.0 579.5 C1926.7 579.8 1933.3 580.0 1940.0 580.2 C1946.7 580.5 1953.3 580.6 1960.0 580.8 C1966.7 581.0 1973.3 581.1 1980.0 581.3 C1986.7 581.4 1993.3 581.5 2000.0 581.6 C2006.7 581.7 2013.3 581.8 2020.0 581.9 C2026.7 582.0 2036.7 582.1 2040.0 582.1"/><path d="M600.0 582.5 C603.3 582.5 613.3 582.5 620.0 582.5 C626.7 582.5 633.3 582.5 640.0 582.4 C646.7 582.4 653.3 582.4 660.0 582.4 C666.7 582.3 673.3 582.3 680.0 582.3 C686.7 582.2 693.3 582.2 700.0 582.1 C706.7 582.0 713.3 582.0 720.0 581.9 C726.7 581.8 733.3 581.7 740.0 581.6 C746.7 581.4 753.3 581.3 760.0 581.1 C766.7 581.0 773.3 580.8 780.0 580.5 C786.7 580.3 793.3 580.0 800.0 579.7 C806.7 579.4 813.3 579.1 820.0 578.7 C826.7 578.3 833.3 577.8 840.0 577.3 C846.7 576.8 853.3 576.2 860.0 575.5 C866.7 574.8 873.3 574.1 880.0 573.2 C886.7 572.4 893.3 571.4 900.0 570.4 C906.7 569.3 913.3 568.1 920.0 566.8 C926.7 565.5 933.3 564.1 940.0 562.5 C946.7 560.9 953.3 559.1 960.0 557.2 C966.7 555.3 973.3 553.3 980.0 551.1 C986.7 548.8 993.3 546.4 1000.0 543.8 C1006.7 541.2 1013.3 538.4 1020.0 535.5 C1026.7 532.5 1033.3 529.4 1040.0 526.0 C1046.7 522.7 1053.3 519.2 1060.0 515.5 C1066.7 511.8 1073.3 508.0 1080.0 504.0 C1086.7 500.0 1093.3 495.8 1100.0 491.5 C1106.7 487.3 1113.3 482.8 1120.0 478.4 C1126.7 473.9 1133.3 469.3 1140.0 464.8 C1146.7 460.2 1153.3 455.5 1160.0 450.9 C1166.7 446.4 1173.3 441.7 1180.0 437.3 C1186.7 432.8 1193.3 428.3 1200.0 424.1 C1206.7 419.8 1213.3 415.6 1220.0 411.7 C1226.7 407.8 1233.3 404.1 1240.0 400.6 C1246.7 397.2 1253.3 393.9 1260.0 391.1 C1266.7 388.2 1273.3 385.6 1280.0 383.5 C1286.7 381.3 1293.3 379.4 1300.0 378.0 C1306.7 376.5 1313.3 375.5 1320.0 374.8 C1326.7 374.2 1333.3 374.0 1340.0 374.2 C1346.7 374.4 1353.3 375.0 1360.0 376.0 C1366.7 377.0 1373.3 378.4 1380.0 380.2 C1386.7 382.0 1393.3 384.2 1400.0 386.7 C1406.7 389.2 1413.3 392.1 1420.0 395.2 C1426.7 398.4 1433.3 401.8 1440.0 405.5 C1446.7 409.2 1453.3 413.1 1460.0 417.2 C1466.7 421.3 1473.3 425.6 1480.0 430.0 C1486.7 434.3 1493.3 438.9 1500.0 443.4 C1506.7 447.9 1513.3 452.6 1520.0 457.2 C1526.7 461.8 1533.3 466.4 1540.0 470.9 C1546.7 475.4 1553.3 480.0 1560.0 484.3 C1566.7 488.7 1573.3 493.0 1580.0 497.2 C1586.7 501.3 1593.3 505.3 1600.0 509.2 C1606.7 513.0 1613.3 516.8 1620.0 520.3 C1626.7 523.8 1633.3 527.2 1640.0 530.3 C1646.7 533.5 1653.3 536.5 1660.0 539.3 C1666.7 542.1 1673.3 544.7 1680.0 547.1 C1686.7 549.5 1693.3 551.8 1700.0 553.9 C1706.7 555.9 1713.3 557.8 1720.0 559.6 C1726.7 561.4 1733.3 563.0 1740.0 564.4 C1746.7 565.9 1753.3 567.2 1760.0 568.4 C1766.7 569.6 1773.3 570.7 1780.0 571.6 C1786.7 572.6 1793.3 573.5 1800.0 574.2 C1806.7 575.0 1813.3 575.7 1820.0 576.3 C1826.7 576.9 1833.3 577.4 1840.0 577.9 C1846.7 578.4 1853.3 578.8 1860.0 579.2 C1866.7 579.5 1873.3 579.8 1880.0 580.1 C1886.7 580.4 1893.3 580.6 1900.0 580.8 C1906.7 581.0 1913.3 581.2 1920.0 581.3 C1926.7 581.5 1933.3 581.6 1940.0 581.7 C1946.7 581.8 1953.3 581.9 1960.0 582.0 C1966.7 582.1 1973.3 582.1 1980.0 582.2 C1986.7 582.2 1993.3 582.3 2000.0 582.3 C2006.7 582.4 2013.3 582.4 2020.0 582.4 C2026.7 582.4 2036.7 582.5 2040.0 582.5"/><path d="M600.0 582.2 C603.3 582.2 613.3 582.1 620.0 582.1 C626.7 582.0 633.3 582.0 640.0 581.9 C646.7 581.8 653.3 581.7 660.0 581.6 C666.7 581.5 673.3 581.4 680.0 581.2 C686.7 581.1 693.3 580.9 700.0 580.8 C706.7 580.6 713.3 580.4 720.0 580.1 C726.7 579.9 733.3 579.6 740.0 579.3 C746.7 579.0 753.3 578.7 760.0 578.3 C766.7 577.9 773.3 577.4 780.0 576.9 C786.7 576.5 793.3 575.9 800.0 575.3 C806.7 574.7 813.3 574.0 820.0 573.3 C826.7 572.5 833.3 571.7 840.0 570.8 C846.7 569.9 853.3 568.9 860.0 567.8 C866.7 566.7 873.3 565.5 880.0 564.2 C886.7 562.9 893.3 561.5 900.0 560.0 C906.7 558.4 913.3 556.8 920.0 555.0 C926.7 553.3 933.3 551.4 940.0 549.3 C946.7 547.3 953.3 545.1 960.0 542.8 C966.7 540.5 973.3 538.1 980.0 535.5 C986.7 533.0 993.3 530.3 1000.0 527.4 C1006.7 524.6 1013.3 521.6 1020.0 518.5 C1026.7 515.4 1033.3 512.2 1040.0 508.9 C1046.7 505.6 1053.3 502.1 1060.0 498.6 C1066.7 495.1 1073.3 491.5 1080.0 487.8 C1086.7 484.1 1093.3 480.4 1100.0 476.6 C1106.7 472.8 1113.3 469.0 1120.0 465.2 C1126.7 461.4 1133.3 457.6 1140.0 453.9 C1146.7 450.1 1153.3 446.4 1160.0 442.8 C1166.7 439.1 1173.3 435.6 1180.0 432.1 C1186.7 428.7 1193.3 425.4 1200.0 422.3 C1206.7 419.2 1213.3 416.2 1220.0 413.4 C1226.7 410.7 1233.3 408.1 1240.0 405.8 C1246.7 403.5 1253.3 401.4 1260.0 399.6 C1266.7 397.8 1273.3 396.3 1280.0 395.1 C1286.7 393.8 1293.3 392.9 1300.0 392.3 C1306.7 391.7 1313.3 391.4 1320.0 391.4 C1326.7 391.4 1333.3 391.7 1340.0 392.4 C1346.7 393.0 1353.3 394.0 1360.0 395.2 C1366.7 396.5 1373.3 398.0 1380.0 399.9 C1386.7 401.7 1393.3 403.8 1400.0 406.2 C1406.7 408.5 1413.3 411.2 1420.0 414.0 C1426.7 416.8 1433.3 419.9 1440.0 423.1 C1446.7 426.3 1453.3 429.7 1460.0 433.2 C1466.7 436.7 1473.3 440.4 1480.0 444.1 C1486.7 447.8 1493.3 451.6 1500.0 455.5 C1506.7 459.3 1513.3 463.2 1520.0 467.1 C1526.7 471.0 1533.3 474.9 1540.0 478.8 C1546.7 482.6 1553.3 486.4 1560.0 490.2 C1566.7 493.9 1573.3 497.6 1580.0 501.2 C1586.7 504.8 1593.3 508.3 1600.0 511.6 C1606.7 515.0 1613.3 518.2 1620.0 521.3 C1626.7 524.4 1633.3 527.4 1640.0 530.3 C1646.7 533.1 1653.3 535.8 1660.0 538.3 C1666.7 540.9 1673.3 543.3 1680.0 545.5 C1686.7 547.8 1693.3 549.9 1700.0 551.9 C1706.7 553.9 1713.3 555.7 1720.0 557.4 C1726.7 559.1 1733.3 560.7 1740.0 562.2 C1746.7 563.6 1753.3 564.9 1760.0 566.2 C1766.7 567.4 1773.3 568.5 1780.0 569.5 C1786.7 570.5 1793.3 571.5 1800.0 572.3 C1806.7 573.1 1813.3 573.9 1820.0 574.6 C1826.7 575.2 1833.3 575.8 1840.0 576.4 C1846.7 576.9 1853.3 577.4 1860.0 577.9 C1866.7 578.3 1873.3 578.7 1880.0 579.0 C1886.7 579.4 1893.3 579.6 1900.0 579.9 C1906.7 580.2 1913.3 580.4 1920.0 580.6 C1926.7 580.8 1933.3 581.0 1940.0 581.1 C1946.7 581.3 1953.3 581.4 1960.0 581.5 C1966.7 581.7 1973.3 581.7 1980.0 581.8 C1986.7 581.9 1993.3 582.0 2000.0 582.1 C2006.7 582.1 2013.3 582.2 2020.0 582.2 C2026.7 582.3 2036.7 582.3 2040.0 582.3"/><path d="M600.0 582.5 C603.3 582.5 613.3 582.5 620.0 582.5 C626.7 582.4 633.3 582.4 640.0 582.4 C646.7 582.4 653.3 582.3 660.0 582.3 C666.7 582.3 673.3 582.2 680.0 582.2 C686.7 582.1 693.3 582.0 700.0 582.0 C706.7 581.9 713.3 581.8 720.0 581.7 C726.7 581.6 733.3 581.5 740.0 581.4 C746.7 581.2 753.3 581.1 760.0 580.9 C766.7 580.7 773.3 580.5 780.0 580.3 C786.7 580.0 793.3 579.8 800.0 579.4 C806.7 579.1 813.3 578.8 820.0 578.4 C826.7 578.0 833.3 577.5 840.0 577.0 C846.7 576.5 853.3 575.9 860.0 575.3 C866.7 574.6 873.3 573.9 880.0 573.1 C886.7 572.3 893.3 571.4 900.0 570.4 C906.7 569.4 913.3 568.3 920.0 567.1 C926.7 565.9 933.3 564.6 940.0 563.1 C946.7 561.7 953.3 560.1 960.0 558.4 C966.7 556.7 973.3 554.9 980.0 552.9 C986.7 550.9 993.3 548.7 1000.0 546.4 C1006.7 544.1 1013.3 541.7 1020.0 539.1 C1026.7 536.5 1033.3 533.7 1040.0 530.8 C1046.7 527.9 1053.3 524.8 1060.0 521.6 C1066.7 518.4 1073.3 515.1 1080.0 511.6 C1086.7 508.1 1093.3 504.5 1100.0 500.8 C1106.7 497.1 1113.3 493.3 1120.0 489.4 C1126.7 485.5 1133.3 481.5 1140.0 477.5 C1146.7 473.5 1153.3 469.5 1160.0 465.4 C1166.7 461.4 1173.3 457.4 1180.0 453.4 C1186.7 449.4 1193.3 445.4 1200.0 441.6 C1206.7 437.8 1213.3 434.0 1220.0 430.5 C1226.7 426.9 1233.3 423.4 1240.0 420.2 C1246.7 416.9 1253.3 413.9 1260.0 411.1 C1266.7 408.3 1273.3 405.7 1280.0 403.4 C1286.7 401.1 1293.3 399.0 1300.0 397.3 C1306.7 395.6 1313.3 394.2 1320.0 393.1 C1326.7 392.0 1333.3 391.2 1340.0 390.8 C1346.7 390.4 1353.3 390.3 1360.0 390.5 C1366.7 390.8 1373.3 391.4 1380.0 392.3 C1386.7 393.2 1393.3 394.4 1400.0 395.9 C1406.7 397.4 1413.3 399.3 1420.0 401.4 C1426.7 403.5 1433.3 405.9 1440.0 408.5 C1446.7 411.1 1453.3 414.0 1460.0 417.1 C1466.7 420.1 1473.3 423.4 1480.0 426.8 C1486.7 430.2 1493.3 433.8 1500.0 437.4 C1506.7 441.1 1513.3 444.8 1520.0 448.7 C1526.7 452.5 1533.3 456.4 1540.0 460.3 C1546.7 464.2 1553.3 468.1 1560.0 472.0 C1566.7 475.9 1573.3 479.8 1580.0 483.6 C1586.7 487.4 1593.3 491.1 1600.0 494.8 C1606.7 498.5 1613.3 502.1 1620.0 505.5 C1626.7 509.0 1633.3 512.4 1640.0 515.6 C1646.7 518.9 1653.3 522.0 1660.0 525.0 C1666.7 527.9 1673.3 530.8 1680.0 533.5 C1686.7 536.2 1693.3 538.7 1700.0 541.1 C1706.7 543.6 1713.3 545.8 1720.0 548.0 C1726.7 550.1 1733.3 552.1 1740.0 554.0 C1746.7 555.8 1753.3 557.5 1760.0 559.1 C1766.7 560.7 1773.3 562.2 1780.0 563.6 C1786.7 564.9 1793.3 566.2 1800.0 567.3 C1806.7 568.5 1813.3 569.5 1820.0 570.5 C1826.7 571.4 1833.3 572.3 1840.0 573.1 C1846.7 573.8 1853.3 574.5 1860.0 575.2 C1866.7 575.8 1873.3 576.4 1880.0 576.9 C1886.7 577.4 1893.3 577.8 1900.0 578.2 C1906.7 578.6 1913.3 579.0 1920.0 579.3 C1926.7 579.6 1933.3 579.9 1940.0 580.1 C1946.7 580.4 1953.3 580.6 1960.0 580.8 C1966.7 581.0 1973.3 581.1 1980.0 581.3 C1986.7 581.4 1993.3 581.5 2000.0 581.6 C2006.7 581.7 2013.3 581.8 2020.0 581.9 C2026.7 582.0 2036.7 582.1 2040.0 582.1"/><path d="M600.0 582.5 C603.3 582.5 613.3 582.5 620.0 582.5 C626.7 582.5 633.3 582.5 640.0 582.5 C646.7 582.4 653.3 582.4 660.0 582.4 C666.7 582.4 673.3 582.3 680.0 582.3 C686.7 582.3 693.3 582.2 700.0 582.2 C706.7 582.1 713.3 582.0 720.0 582.0 C726.7 581.9 733.3 581.8 740.0 581.7 C746.7 581.6 753.3 581.4 760.0 581.3 C766.7 581.1 773.3 581.0 780.0 580.8 C786.7 580.6 793.3 580.3 800.0 580.0 C806.7 579.8 813.3 579.5 820.0 579.1 C826.7 578.7 833.3 578.3 840.0 577.8 C846.7 577.4 853.3 576.8 860.0 576.2 C866.7 575.6 873.3 574.9 880.0 574.1 C886.7 573.4 893.3 572.5 900.0 571.5 C906.7 570.5 913.3 569.5 920.0 568.3 C926.7 567.0 933.3 565.7 940.0 564.2 C946.7 562.8 953.3 561.2 960.0 559.4 C966.7 557.6 973.3 555.7 980.0 553.6 C986.7 551.5 993.3 549.3 1000.0 546.9 C1006.7 544.4 1013.3 541.8 1020.0 539.0 C1026.7 536.3 1033.3 533.3 1040.0 530.2 C1046.7 527.0 1053.3 523.7 1060.0 520.2 C1066.7 516.7 1073.3 513.1 1080.0 509.3 C1086.7 505.5 1093.3 501.5 1100.0 497.5 C1106.7 493.4 1113.3 489.2 1120.0 484.9 C1126.7 480.7 1133.3 476.3 1140.0 471.9 C1146.7 467.6 1153.3 463.1 1160.0 458.7 C1166.7 454.3 1173.3 449.9 1180.0 445.6 C1186.7 441.3 1193.3 437.0 1200.0 432.9 C1206.7 428.8 1213.3 424.8 1220.0 421.0 C1226.7 417.3 1233.3 413.6 1240.0 410.3 C1246.7 407.0 1253.3 403.8 1260.0 401.0 C1266.7 398.3 1273.3 395.7 1280.0 393.6 C1286.7 391.4 1293.3 389.6 1300.0 388.1 C1306.7 386.7 1313.3 385.6 1320.0 384.9 C1326.7 384.2 1333.3 383.9 1340.0 383.9 C1346.7 384.0 1353.3 384.5 1360.0 385.3 C1366.7 386.2 1373.3 387.4 1380.0 389.0 C1386.7 390.5 1393.3 392.5 1400.0 394.7 C1406.7 397.0 1413.3 399.6 1420.0 402.4 C1426.7 405.3 1433.3 408.4 1440.0 411.8 C1446.7 415.1 1453.3 418.7 1460.0 422.5 C1466.7 426.2 1473.3 430.1 1480.0 434.2 C1486.7 438.2 1493.3 442.4 1500.0 446.6 C1506.7 450.7 1513.3 455.0 1520.0 459.3 C1526.7 463.6 1533.3 467.9 1540.0 472.1 C1546.7 476.3 1553.3 480.5 1560.0 484.7 C1566.7 488.8 1573.3 492.8 1580.0 496.7 C1586.7 500.7 1593.3 504.5 1600.0 508.2 C1606.7 511.8 1613.3 515.4 1620.0 518.8 C1626.7 522.2 1633.3 525.4 1640.0 528.5 C1646.7 531.6 1653.3 534.5 1660.0 537.2 C1666.7 540.0 1673.3 542.5 1680.0 545.0 C1686.7 547.4 1693.3 549.6 1700.0 551.7 C1706.7 553.8 1713.3 555.8 1720.0 557.6 C1726.7 559.4 1733.3 561.0 1740.0 562.5 C1746.7 564.0 1753.3 565.4 1760.0 566.7 C1766.7 567.9 1773.3 569.1 1780.0 570.1 C1786.7 571.2 1793.3 572.1 1800.0 572.9 C1806.7 573.8 1813.3 574.5 1820.0 575.2 C1826.7 575.9 1833.3 576.4 1840.0 577.0 C1846.7 577.5 1853.3 578.0 1860.0 578.4 C1866.7 578.8 1873.3 579.2 1880.0 579.5 C1886.7 579.8 1893.3 580.1 1900.0 580.3 C1906.7 580.6 1913.3 580.8 1920.0 580.9 C1926.7 581.1 1933.3 581.3 1940.0 581.4 C1946.7 581.6 1953.3 581.7 1960.0 581.8 C1966.7 581.9 1973.3 581.9 1980.0 582.0 C1986.7 582.1 1993.3 582.1 2000.0 582.2 C2006.7 582.2 2013.3 582.3 2020.0 582.3 C2026.7 582.4 2036.7 582.4 2040.0 582.4"/><path d="M600.0 582.5 C603.3 582.5 613.3 582.4 620.0 582.4 C626.7 582.4 633.3 582.4 640.0 582.3 C646.7 582.3 653.3 582.2 660.0 582.2 C666.7 582.1 673.3 582.1 680.0 582.0 C686.7 581.9 693.3 581.8 700.0 581.7 C706.7 581.6 713.3 581.5 720.0 581.3 C726.7 581.2 733.3 581.0 740.0 580.8 C746.7 580.6 753.3 580.4 760.0 580.1 C766.7 579.8 773.3 579.5 780.0 579.2 C786.7 578.8 793.3 578.4 800.0 577.9 C806.7 577.4 813.3 576.9 820.0 576.3 C826.7 575.7 833.3 575.0 840.0 574.2 C846.7 573.4 853.3 572.6 860.0 571.6 C866.7 570.6 873.3 569.5 880.0 568.2 C886.7 567.0 893.3 565.7 900.0 564.2 C906.7 562.7 913.3 561.0 920.0 559.2 C926.7 557.4 933.3 555.4 940.0 553.2 C946.7 551.1 953.3 548.8 960.0 546.2 C966.7 543.7 973.3 541.0 980.0 538.1 C986.7 535.2 993.3 532.1 1000.0 528.8 C1006.7 525.5 1013.3 522.0 1020.0 518.3 C1026.7 514.6 1033.3 510.8 1040.0 506.8 C1046.7 502.7 1053.3 498.5 1060.0 494.2 C1066.7 489.9 1073.3 485.4 1080.0 480.9 C1086.7 476.3 1093.3 471.7 1100.0 467.0 C1106.7 462.3 1113.3 457.5 1120.0 452.8 C1126.7 448.0 1133.3 443.3 1140.0 438.6 C1146.7 434.0 1153.3 429.3 1160.0 424.9 C1166.7 420.4 1173.3 416.0 1180.0 411.9 C1186.7 407.8 1193.3 403.8 1200.0 400.1 C1206.7 396.5 1213.3 393.0 1220.0 389.9 C1226.7 386.8 1233.3 384.0 1240.0 381.6 C1246.7 379.2 1253.3 377.1 1260.0 375.4 C1266.7 373.7 1273.3 372.4 1280.0 371.6 C1286.7 370.7 1293.3 370.2 1300.0 370.2 C1306.7 370.2 1313.3 370.5 1320.0 371.3 C1326.7 372.1 1333.3 373.3 1340.0 374.9 C1346.7 376.4 1353.3 378.4 1360.0 380.7 C1366.7 383.0 1373.3 385.7 1380.0 388.6 C1386.7 391.5 1393.3 394.8 1400.0 398.3 C1406.7 401.8 1413.3 405.5 1420.0 409.4 C1426.7 413.4 1433.3 417.5 1440.0 421.7 C1446.7 425.9 1453.3 430.3 1460.0 434.8 C1466.7 439.2 1473.3 443.7 1480.0 448.2 C1486.7 452.7 1493.3 457.3 1500.0 461.7 C1506.7 466.2 1513.3 470.7 1520.0 475.1 C1526.7 479.4 1533.3 483.8 1540.0 488.0 C1546.7 492.1 1553.3 496.2 1560.0 500.2 C1566.7 504.1 1573.3 507.9 1580.0 511.6 C1586.7 515.2 1593.3 518.7 1600.0 522.0 C1606.7 525.3 1613.3 528.5 1620.0 531.5 C1626.7 534.5 1633.3 537.3 1640.0 539.9 C1646.7 542.6 1653.3 545.0 1660.0 547.4 C1666.7 549.7 1673.3 551.8 1680.0 553.8 C1686.7 555.8 1693.3 557.6 1700.0 559.3 C1706.7 561.0 1713.3 562.5 1720.0 564.0 C1726.7 565.4 1733.3 566.7 1740.0 567.9 C1746.7 569.0 1753.3 570.1 1760.0 571.1 C1766.7 572.0 1773.3 572.9 1780.0 573.7 C1786.7 574.5 1793.3 575.1 1800.0 575.8 C1806.7 576.4 1813.3 576.9 1820.0 577.4 C1826.7 577.9 1833.3 578.3 1840.0 578.7 C1846.7 579.1 1853.3 579.4 1860.0 579.7 C1866.7 580.0 1873.3 580.3 1880.0 580.5 C1886.7 580.7 1893.3 580.9 1900.0 581.1 C1906.7 581.3 1913.3 581.4 1920.0 581.5 C1926.7 581.6 1933.3 581.7 1940.0 581.8 C1946.7 581.9 1953.3 582.0 1960.0 582.1 C1966.7 582.1 1973.3 582.2 1980.0 582.2 C1986.7 582.3 1993.3 582.3 2000.0 582.3 C2006.7 582.4 2013.3 582.4 2020.0 582.4 C2026.7 582.5 2036.7 582.5 2040.0 582.5"/><path d="M600.0 582.3 C603.3 582.3 613.3 582.3 620.0 582.2 C626.7 582.2 633.3 582.1 640.0 582.1 C646.7 582.0 653.3 581.9 660.0 581.8 C666.7 581.8 673.3 581.7 680.0 581.5 C686.7 581.4 693.3 581.3 700.0 581.1 C706.7 581.0 713.3 580.8 720.0 580.6 C726.7 580.4 733.3 580.2 740.0 579.9 C746.7 579.6 753.3 579.3 760.0 579.0 C766.7 578.6 773.3 578.2 780.0 577.8 C786.7 577.3 793.3 576.8 800.0 576.2 C806.7 575.7 813.3 575.0 820.0 574.3 C826.7 573.6 833.3 572.8 840.0 571.9 C846.7 571.1 853.3 570.1 860.0 569.0 C866.7 568.0 873.3 566.8 880.0 565.5 C886.7 564.2 893.3 562.8 900.0 561.3 C906.7 559.7 913.3 558.1 920.0 556.2 C926.7 554.4 933.3 552.5 940.0 550.4 C946.7 548.3 953.3 546.0 960.0 543.6 C966.7 541.2 973.3 538.7 980.0 536.0 C986.7 533.2 993.3 530.4 1000.0 527.4 C1006.7 524.3 1013.3 521.1 1020.0 517.8 C1026.7 514.5 1033.3 511.0 1040.0 507.4 C1046.7 503.8 1053.3 500.1 1060.0 496.3 C1066.7 492.4 1073.3 488.5 1080.0 484.4 C1086.7 480.4 1093.3 476.3 1100.0 472.2 C1106.7 468.0 1113.3 463.8 1120.0 459.6 C1126.7 455.4 1133.3 451.2 1140.0 447.1 C1146.7 442.9 1153.3 438.8 1160.0 434.8 C1166.7 430.8 1173.3 426.8 1180.0 423.0 C1186.7 419.3 1193.3 415.6 1200.0 412.2 C1206.7 408.7 1213.3 405.4 1220.0 402.4 C1226.7 399.4 1233.3 396.6 1240.0 394.1 C1246.7 391.6 1253.3 389.3 1260.0 387.4 C1266.7 385.5 1273.3 383.9 1280.0 382.6 C1286.7 381.4 1293.3 380.4 1300.0 379.9 C1306.7 379.3 1313.3 379.1 1320.0 379.2 C1326.7 379.4 1333.3 379.9 1340.0 380.8 C1346.7 381.6 1353.3 382.8 1360.0 384.4 C1366.7 385.9 1373.3 387.8 1380.0 390.0 C1386.7 392.1 1393.3 394.7 1400.0 397.4 C1406.7 400.2 1413.3 403.2 1420.0 406.4 C1426.7 409.7 1433.3 413.2 1440.0 416.8 C1446.7 420.5 1453.3 424.3 1460.0 428.3 C1466.7 432.2 1473.3 436.3 1480.0 440.4 C1486.7 444.6 1493.3 448.8 1500.0 453.1 C1506.7 457.3 1513.3 461.6 1520.0 465.8 C1526.7 470.1 1533.3 474.3 1540.0 478.5 C1546.7 482.6 1553.3 486.7 1560.0 490.7 C1566.7 494.7 1573.3 498.6 1580.0 502.4 C1586.7 506.2 1593.3 509.9 1600.0 513.4 C1606.7 516.9 1613.3 520.3 1620.0 523.5 C1626.7 526.7 1633.3 529.7 1640.0 532.6 C1646.7 535.5 1653.3 538.3 1660.0 540.8 C1666.7 543.4 1673.3 545.8 1680.0 548.1 C1686.7 550.3 1693.3 552.4 1700.0 554.3 C1706.7 556.3 1713.3 558.1 1720.0 559.7 C1726.7 561.4 1733.3 562.9 1740.0 564.3 C1746.7 565.7 1753.3 566.9 1760.0 568.1 C1766.7 569.2 1773.3 570.3 1780.0 571.2 C1786.7 572.2 1793.3 573.0 1800.0 573.8 C1806.7 574.5 1813.3 575.2 1820.0 575.8 C1826.7 576.4 1833.3 577.0 1840.0 577.5 C1846.7 577.9 1853.3 578.4 1860.0 578.7 C1866.7 579.1 1873.3 579.4 1880.0 579.7 C1886.7 580.0 1893.3 580.3 1900.0 580.5 C1906.7 580.7 1913.3 580.9 1920.0 581.1 C1926.7 581.2 1933.3 581.4 1940.0 581.5 C1946.7 581.6 1953.3 581.7 1960.0 581.8 C1966.7 581.9 1973.3 582.0 1980.0 582.0 C1986.7 582.1 1993.3 582.2 2000.0 582.2 C2006.7 582.3 2013.3 582.3 2020.0 582.3 C2026.7 582.4 2036.7 582.4 2040.0 582.4"/><path d="M600.0 582.6 C603.3 582.6 613.3 582.6 620.0 582.6 C626.7 582.6 633.3 582.5 640.0 582.5 C646.7 582.5 653.3 582.5 660.0 582.5 C666.7 582.5 673.3 582.4 680.0 582.4 C686.7 582.4 693.3 582.4 700.0 582.3 C706.7 582.3 713.3 582.2 720.0 582.2 C726.7 582.1 733.3 582.0 740.0 581.9 C746.7 581.8 753.3 581.7 760.0 581.6 C766.7 581.4 773.3 581.3 780.0 581.1 C786.7 580.9 793.3 580.6 800.0 580.4 C806.7 580.1 813.3 579.8 820.0 579.4 C826.7 579.0 833.3 578.6 840.0 578.0 C846.7 577.5 853.3 576.9 860.0 576.2 C866.7 575.5 873.3 574.7 880.0 573.8 C886.7 572.8 893.3 571.8 900.0 570.6 C906.7 569.4 913.3 568.0 920.0 566.5 C926.7 565.0 933.3 563.3 940.0 561.4 C946.7 559.5 953.3 557.4 960.0 555.0 C966.7 552.7 973.3 550.2 980.0 547.3 C986.7 544.5 993.3 541.5 1000.0 538.2 C1006.7 534.9 1013.3 531.3 1020.0 527.4 C1026.7 523.6 1033.3 519.5 1040.0 515.2 C1046.7 510.8 1053.3 506.2 1060.0 501.4 C1066.7 496.6 1073.3 491.5 1080.0 486.3 C1086.7 481.1 1093.3 475.7 1100.0 470.1 C1106.7 464.6 1113.3 458.9 1120.0 453.2 C1126.7 447.5 1133.3 441.7 1140.0 436.0 C1146.7 430.3 1153.3 424.6 1160.0 419.0 C1166.7 413.5 1173.3 408.0 1180.0 402.8 C1186.7 397.6 1193.3 392.6 1200.0 387.9 C1206.7 383.3 1213.3 378.9 1220.0 375.0 C1226.7 371.1 1233.3 367.6 1240.0 364.5 C1246.7 361.5 1253.3 358.9 1260.0 356.9 C1266.7 355.0 1273.3 353.5 1280.0 352.6 C1286.7 351.7 1293.3 351.3 1300.0 351.6 C1306.7 351.8 1313.3 352.6 1320.0 354.0 C1326.7 355.3 1333.3 357.3 1340.0 359.7 C1346.7 362.1 1353.3 365.1 1360.0 368.4 C1366.7 371.8 1373.3 375.6 1380.0 379.8 C1386.7 384.0 1393.3 388.6 1400.0 393.4 C1406.7 398.2 1413.3 403.3 1420.0 408.6 C1426.7 413.8 1433.3 419.4 1440.0 424.9 C1446.7 430.4 1453.3 436.1 1460.0 441.7 C1466.7 447.3 1473.3 453.0 1480.0 458.5 C1486.7 464.1 1493.3 469.6 1500.0 474.9 C1506.7 480.3 1513.3 485.5 1520.0 490.5 C1526.7 495.5 1533.3 500.3 1540.0 504.9 C1546.7 509.5 1553.3 513.9 1560.0 518.0 C1566.7 522.2 1573.3 526.1 1580.0 529.7 C1586.7 533.3 1593.3 536.7 1600.0 539.9 C1606.7 543.0 1613.3 545.9 1620.0 548.6 C1626.7 551.3 1633.3 553.7 1640.0 555.9 C1646.7 558.1 1653.3 560.1 1660.0 562.0 C1666.7 563.8 1673.3 565.4 1680.0 566.9 C1686.7 568.3 1693.3 569.6 1700.0 570.8 C1706.7 572.0 1713.3 573.0 1720.0 573.9 C1726.7 574.8 1733.3 575.5 1740.0 576.2 C1746.7 576.9 1753.3 577.5 1760.0 578.0 C1766.7 578.5 1773.3 579.0 1780.0 579.4 C1786.7 579.7 1793.3 580.1 1800.0 580.3 C1806.7 580.6 1813.3 580.8 1820.0 581.0 C1826.7 581.2 1833.3 581.4 1840.0 581.5 C1846.7 581.7 1853.3 581.8 1860.0 581.9 C1866.7 582.0 1873.3 582.1 1880.0 582.1 C1886.7 582.2 1893.3 582.3 1900.0 582.3 C1906.7 582.3 1913.3 582.4 1920.0 582.4 C1926.7 582.4 1933.3 582.5 1940.0 582.5 C1946.7 582.5 1953.3 582.5 1960.0 582.5 C1966.7 582.5 1973.3 582.5 1980.0 582.6 C1986.7 582.6 1993.3 582.6 2000.0 582.6 C2006.7 582.6 2013.3 582.6 2020.0 582.6 C2026.7 582.6 2036.7 582.6 2040.0 582.6"/><path d="M600.0 582.2 C603.3 582.2 613.3 582.1 620.0 582.1 C626.7 582.0 633.3 582.0 640.0 581.9 C646.7 581.8 653.3 581.7 660.0 581.6 C666.7 581.5 673.3 581.4 680.0 581.2 C686.7 581.1 693.3 580.9 700.0 580.7 C706.7 580.5 713.3 580.3 720.0 580.1 C726.7 579.8 733.3 579.6 740.0 579.3 C746.7 578.9 753.3 578.6 760.0 578.2 C766.7 577.8 773.3 577.4 780.0 576.8 C786.7 576.3 793.3 575.8 800.0 575.2 C806.7 574.5 813.3 573.9 820.0 573.1 C826.7 572.3 833.3 571.5 840.0 570.6 C846.7 569.6 853.3 568.6 860.0 567.5 C866.7 566.4 873.3 565.2 880.0 563.8 C886.7 562.5 893.3 561.1 900.0 559.5 C906.7 557.9 913.3 556.3 920.0 554.4 C926.7 552.6 933.3 550.7 940.0 548.6 C946.7 546.5 953.3 544.3 960.0 542.0 C966.7 539.6 973.3 537.1 980.0 534.5 C986.7 531.9 993.3 529.1 1000.0 526.2 C1006.7 523.3 1013.3 520.3 1020.0 517.1 C1026.7 514.0 1033.3 510.7 1040.0 507.3 C1046.7 503.9 1053.3 500.4 1060.0 496.9 C1066.7 493.3 1073.3 489.6 1080.0 485.9 C1086.7 482.2 1093.3 478.4 1100.0 474.6 C1106.7 470.8 1113.3 466.9 1120.0 463.1 C1126.7 459.3 1133.3 455.4 1140.0 451.6 C1146.7 447.9 1153.3 444.1 1160.0 440.5 C1166.7 436.9 1173.3 433.3 1180.0 429.9 C1186.7 426.5 1193.3 423.2 1200.0 420.1 C1206.7 417.0 1213.3 414.0 1220.0 411.3 C1226.7 408.6 1233.3 406.0 1240.0 403.8 C1246.7 401.5 1253.3 399.5 1260.0 397.7 C1266.7 396.0 1273.3 394.5 1280.0 393.3 C1286.7 392.2 1293.3 391.3 1300.0 390.7 C1306.7 390.2 1313.3 389.9 1320.0 389.9 C1326.7 390.0 1333.3 390.4 1340.0 391.0 C1346.7 391.7 1353.3 392.7 1360.0 394.0 C1366.7 395.2 1373.3 396.8 1380.0 398.7 C1386.7 400.5 1393.3 402.6 1400.0 405.0 C1406.7 407.3 1413.3 409.9 1420.0 412.7 C1426.7 415.5 1433.3 418.6 1440.0 421.7 C1446.7 424.9 1453.3 428.3 1460.0 431.7 C1466.7 435.2 1473.3 438.8 1480.0 442.5 C1486.7 446.2 1493.3 450.0 1500.0 453.8 C1506.7 457.5 1513.3 461.4 1520.0 465.3 C1526.7 469.1 1533.3 473.0 1540.0 476.8 C1546.7 480.6 1553.3 484.4 1560.0 488.1 C1566.7 491.8 1573.3 495.5 1580.0 499.0 C1586.7 502.6 1593.3 506.1 1600.0 509.4 C1606.7 512.8 1613.3 516.0 1620.0 519.1 C1626.7 522.2 1633.3 525.2 1640.0 528.1 C1646.7 530.9 1653.3 533.7 1660.0 536.2 C1666.7 538.8 1673.3 541.3 1680.0 543.6 C1686.7 545.9 1693.3 548.0 1700.0 550.0 C1706.7 552.1 1713.3 554.0 1720.0 555.7 C1726.7 557.5 1733.3 559.1 1740.0 560.6 C1746.7 562.1 1753.3 563.5 1760.0 564.8 C1766.7 566.1 1773.3 567.2 1780.0 568.3 C1786.7 569.4 1793.3 570.4 1800.0 571.3 C1806.7 572.2 1813.3 573.0 1820.0 573.7 C1826.7 574.4 1833.3 575.1 1840.0 575.7 C1846.7 576.2 1853.3 576.8 1860.0 577.2 C1866.7 577.7 1873.3 578.1 1880.0 578.5 C1886.7 578.9 1893.3 579.2 1900.0 579.5 C1906.7 579.8 1913.3 580.1 1920.0 580.3 C1926.7 580.5 1933.3 580.7 1940.0 580.9 C1946.7 581.1 1953.3 581.2 1960.0 581.3 C1966.7 581.5 1973.3 581.6 1980.0 581.7 C1986.7 581.8 1993.3 581.9 2000.0 581.9 C2006.7 582.0 2013.3 582.1 2020.0 582.1 C2026.7 582.2 2036.7 582.2 2040.0 582.3"/><path d="M600.0 582.4 C603.3 582.4 613.3 582.4 620.0 582.4 C626.7 582.3 633.3 582.3 640.0 582.3 C646.7 582.2 653.3 582.2 660.0 582.1 C666.7 582.1 673.3 582.0 680.0 581.9 C686.7 581.8 693.3 581.8 700.0 581.6 C706.7 581.5 713.3 581.4 720.0 581.3 C726.7 581.1 733.3 581.0 740.0 580.8 C746.7 580.6 753.3 580.4 760.0 580.1 C766.7 579.9 773.3 579.6 780.0 579.3 C786.7 579.0 793.3 578.6 800.0 578.2 C806.7 577.8 813.3 577.3 820.0 576.8 C826.7 576.3 833.3 575.7 840.0 575.1 C846.7 574.4 853.3 573.7 860.0 572.9 C866.7 572.1 873.3 571.2 880.0 570.3 C886.7 569.3 893.3 568.2 900.0 567.0 C906.7 565.8 913.3 564.5 920.0 563.1 C926.7 561.7 933.3 560.2 940.0 558.5 C946.7 556.9 953.3 555.1 960.0 553.1 C966.7 551.2 973.3 549.1 980.0 546.9 C986.7 544.6 993.3 542.3 1000.0 539.7 C1006.7 537.2 1013.3 534.5 1020.0 531.7 C1026.7 528.8 1033.3 525.8 1040.0 522.7 C1046.7 519.6 1053.3 516.3 1060.0 512.9 C1066.7 509.5 1073.3 505.9 1080.0 502.2 C1086.7 498.6 1093.3 494.8 1100.0 490.9 C1106.7 487.1 1113.3 483.1 1120.0 479.1 C1126.7 475.0 1133.3 470.9 1140.0 466.8 C1146.7 462.7 1153.3 458.6 1160.0 454.5 C1166.7 450.4 1173.3 446.2 1180.0 442.2 C1186.7 438.2 1193.3 434.2 1200.0 430.3 C1206.7 426.5 1213.3 422.7 1220.0 419.1 C1226.7 415.5 1233.3 412.0 1240.0 408.8 C1246.7 405.6 1253.3 402.6 1260.0 399.8 C1266.7 397.0 1273.3 394.5 1280.0 392.2 C1286.7 390.0 1293.3 388.0 1300.0 386.4 C1306.7 384.7 1313.3 383.4 1320.0 382.4 C1326.7 381.4 1333.3 380.8 1340.0 380.5 C1346.7 380.2 1353.3 380.2 1360.0 380.6 C1366.7 381.0 1373.3 381.7 1380.0 382.8 C1386.7 383.9 1393.3 385.3 1400.0 387.0 C1406.7 388.8 1413.3 390.8 1420.0 393.2 C1426.7 395.5 1433.3 398.1 1440.0 401.0 C1446.7 403.9 1453.3 407.0 1460.0 410.3 C1466.7 413.6 1473.3 417.2 1480.0 420.9 C1486.7 424.6 1493.3 428.4 1500.0 432.4 C1506.7 436.3 1513.3 440.4 1520.0 444.5 C1526.7 448.6 1533.3 452.8 1540.0 457.0 C1546.7 461.2 1553.3 465.4 1560.0 469.6 C1566.7 473.7 1573.3 477.9 1580.0 481.9 C1586.7 486.0 1593.3 490.0 1600.0 493.9 C1606.7 497.8 1613.3 501.6 1620.0 505.3 C1626.7 508.9 1633.3 512.5 1640.0 515.9 C1646.7 519.3 1653.3 522.5 1660.0 525.6 C1666.7 528.7 1673.3 531.7 1680.0 534.5 C1686.7 537.3 1693.3 539.9 1700.0 542.4 C1706.7 544.9 1713.3 547.2 1720.0 549.3 C1726.7 551.5 1733.3 553.5 1740.0 555.4 C1746.7 557.2 1753.3 559.0 1760.0 560.5 C1766.7 562.1 1773.3 563.6 1780.0 564.9 C1786.7 566.3 1793.3 567.5 1800.0 568.6 C1806.7 569.7 1813.3 570.7 1820.0 571.6 C1826.7 572.5 1833.3 573.3 1840.0 574.1 C1846.7 574.8 1853.3 575.4 1860.0 576.0 C1866.7 576.6 1873.3 577.1 1880.0 577.6 C1886.7 578.1 1893.3 578.5 1900.0 578.8 C1906.7 579.2 1913.3 579.5 1920.0 579.8 C1926.7 580.1 1933.3 580.3 1940.0 580.5 C1946.7 580.7 1953.3 580.9 1960.0 581.1 C1966.7 581.3 1973.3 581.4 1980.0 581.5 C1986.7 581.6 1993.3 581.7 2000.0 581.8 C2006.7 581.9 2013.3 582.0 2020.0 582.0 C2026.7 582.1 2036.7 582.2 2040.0 582.2"/><path d="M600.0 582.5 C603.3 582.5 613.3 582.4 620.0 582.4 C626.7 582.4 633.3 582.3 640.0 582.3 C646.7 582.3 653.3 582.2 660.0 582.2 C666.7 582.1 673.3 582.1 680.0 582.0 C686.7 582.0 693.3 581.9 700.0 581.8 C706.7 581.7 713.3 581.6 720.0 581.5 C726.7 581.4 733.3 581.2 740.0 581.1 C746.7 580.9 753.3 580.8 760.0 580.5 C766.7 580.3 773.3 580.1 780.0 579.9 C786.7 579.6 793.3 579.3 800.0 579.0 C806.7 578.6 813.3 578.3 820.0 577.8 C826.7 577.4 833.3 576.9 840.0 576.4 C846.7 575.9 853.3 575.3 860.0 574.6 C866.7 574.0 873.3 573.3 880.0 572.4 C886.7 571.6 893.3 570.8 900.0 569.8 C906.7 568.8 913.3 567.8 920.0 566.6 C926.7 565.5 933.3 564.2 940.0 562.8 C946.7 561.5 953.3 560.0 960.0 558.4 C966.7 556.8 973.3 555.1 980.0 553.3 C986.7 551.5 993.3 549.5 1000.0 547.4 C1006.7 545.3 1013.3 543.1 1020.0 540.8 C1026.7 538.5 1033.3 536.0 1040.0 533.4 C1046.7 530.8 1053.3 528.1 1060.0 525.2 C1066.7 522.4 1073.3 519.4 1080.0 516.3 C1086.7 513.3 1093.3 510.1 1100.0 506.8 C1106.7 503.6 1113.3 500.2 1120.0 496.8 C1126.7 493.4 1133.3 489.9 1140.0 486.3 C1146.7 482.8 1153.3 479.2 1160.0 475.7 C1166.7 472.1 1173.3 468.5 1180.0 465.0 C1186.7 461.5 1193.3 457.9 1200.0 454.5 C1206.7 451.1 1213.3 447.7 1220.0 444.4 C1226.7 441.2 1233.3 438.0 1240.0 435.0 C1246.7 432.1 1253.3 429.2 1260.0 426.6 C1266.7 423.9 1273.3 421.4 1280.0 419.2 C1286.7 417.0 1293.3 415.0 1300.0 413.3 C1306.7 411.5 1313.3 410.0 1320.0 408.8 C1326.7 407.7 1333.3 406.7 1340.0 406.1 C1346.7 405.5 1353.3 405.2 1360.0 405.2 C1366.7 405.2 1373.3 405.4 1380.0 406.0 C1386.7 406.6 1393.3 407.5 1400.0 408.7 C1406.7 409.9 1413.3 411.4 1420.0 413.1 C1426.7 414.8 1433.3 416.9 1440.0 419.1 C1446.7 421.3 1453.3 423.9 1460.0 426.5 C1466.7 429.2 1473.3 432.2 1480.0 435.2 C1486.7 438.3 1493.3 441.5 1500.0 444.8 C1506.7 448.2 1513.3 451.7 1520.0 455.2 C1526.7 458.7 1533.3 462.4 1540.0 466.0 C1546.7 469.7 1553.3 473.4 1560.0 477.1 C1566.7 480.8 1573.3 484.5 1580.0 488.1 C1586.7 491.7 1593.3 495.3 1600.0 498.8 C1606.7 502.4 1613.3 505.8 1620.0 509.2 C1626.7 512.5 1633.3 515.8 1640.0 518.9 C1646.7 522.0 1653.3 525.0 1660.0 527.9 C1666.7 530.8 1673.3 533.6 1680.0 536.2 C1686.7 538.8 1693.3 541.3 1700.0 543.6 C1706.7 545.9 1713.3 548.1 1720.0 550.2 C1726.7 552.2 1733.3 554.1 1740.0 555.9 C1746.7 557.7 1753.3 559.4 1760.0 560.9 C1766.7 562.4 1773.3 563.8 1780.0 565.1 C1786.7 566.4 1793.3 567.6 1800.0 568.7 C1806.7 569.7 1813.3 570.7 1820.0 571.6 C1826.7 572.5 1833.3 573.3 1840.0 574.0 C1846.7 574.7 1853.3 575.4 1860.0 576.0 C1866.7 576.6 1873.3 577.1 1880.0 577.5 C1886.7 578.0 1893.3 578.4 1900.0 578.8 C1906.7 579.1 1913.3 579.4 1920.0 579.7 C1926.7 580.0 1933.3 580.3 1940.0 580.5 C1946.7 580.7 1953.3 580.9 1960.0 581.0 C1966.7 581.2 1973.3 581.3 1980.0 581.5 C1986.7 581.6 1993.3 581.7 2000.0 581.8 C2006.7 581.9 2013.3 582.0 2020.0 582.0 C2026.7 582.1 2036.7 582.2 2040.0 582.2"/><path d="M600.0 582.5 C603.3 582.5 613.3 582.4 620.0 582.4 C626.7 582.4 633.3 582.4 640.0 582.3 C646.7 582.3 653.3 582.3 660.0 582.2 C666.7 582.2 673.3 582.1 680.0 582.1 C686.7 582.0 693.3 582.0 700.0 581.9 C706.7 581.8 713.3 581.7 720.0 581.6 C726.7 581.5 733.3 581.4 740.0 581.2 C746.7 581.1 753.3 580.9 760.0 580.7 C766.7 580.5 773.3 580.3 780.0 580.0 C786.7 579.8 793.3 579.5 800.0 579.2 C806.7 578.8 813.3 578.5 820.0 578.0 C826.7 577.6 833.3 577.2 840.0 576.6 C846.7 576.1 853.3 575.5 860.0 574.9 C866.7 574.2 873.3 573.5 880.0 572.7 C886.7 571.9 893.3 571.0 900.0 570.0 C906.7 569.0 913.3 567.9 920.0 566.8 C926.7 565.6 933.3 564.3 940.0 562.9 C946.7 561.5 953.3 560.0 960.0 558.3 C966.7 556.7 973.3 554.9 980.0 553.0 C986.7 551.1 993.3 549.1 1000.0 546.9 C1006.7 544.8 1013.3 542.5 1020.0 540.0 C1026.7 537.6 1033.3 535.0 1040.0 532.3 C1046.7 529.7 1053.3 526.8 1060.0 523.9 C1066.7 520.9 1073.3 517.8 1080.0 514.7 C1086.7 511.5 1093.3 508.2 1100.0 504.9 C1106.7 501.5 1113.3 498.1 1120.0 494.6 C1126.7 491.1 1133.3 487.5 1140.0 483.9 C1146.7 480.4 1153.3 476.7 1160.0 473.2 C1166.7 469.6 1173.3 466.0 1180.0 462.5 C1186.7 459.0 1193.3 455.5 1200.0 452.1 C1206.7 448.8 1213.3 445.5 1220.0 442.4 C1226.7 439.2 1233.3 436.2 1240.0 433.4 C1246.7 430.6 1253.3 427.9 1260.0 425.5 C1266.7 423.1 1273.3 420.9 1280.0 418.9 C1286.7 417.0 1293.3 415.2 1300.0 413.8 C1306.7 412.4 1313.3 411.2 1320.0 410.3 C1326.7 409.4 1333.3 408.8 1340.0 408.5 C1346.7 408.3 1353.3 408.3 1360.0 408.6 C1366.7 408.9 1373.3 409.5 1380.0 410.3 C1386.7 411.2 1393.3 412.4 1400.0 413.8 C1406.7 415.3 1413.3 417.0 1420.0 418.9 C1426.7 420.9 1433.3 423.1 1440.0 425.5 C1446.7 427.9 1453.3 430.5 1460.0 433.3 C1466.7 436.0 1473.3 439.0 1480.0 442.1 C1486.7 445.2 1493.3 448.4 1500.0 451.7 C1506.7 455.0 1513.3 458.5 1520.0 461.9 C1526.7 465.4 1533.3 468.9 1540.0 472.4 C1546.7 475.9 1553.3 479.5 1560.0 483.0 C1566.7 486.5 1573.3 490.1 1580.0 493.5 C1586.7 496.9 1593.3 500.3 1600.0 503.7 C1606.7 507.0 1613.3 510.2 1620.0 513.3 C1626.7 516.5 1633.3 519.5 1640.0 522.5 C1646.7 525.4 1653.3 528.2 1660.0 530.9 C1666.7 533.6 1673.3 536.1 1680.0 538.6 C1686.7 541.0 1693.3 543.3 1700.0 545.5 C1706.7 547.7 1713.3 549.7 1720.0 551.6 C1726.7 553.6 1733.3 555.3 1740.0 557.0 C1746.7 558.7 1753.3 560.2 1760.0 561.7 C1766.7 563.1 1773.3 564.4 1780.0 565.7 C1786.7 566.9 1793.3 568.0 1800.0 569.0 C1806.7 570.0 1813.3 571.0 1820.0 571.8 C1826.7 572.7 1833.3 573.4 1840.0 574.1 C1846.7 574.8 1853.3 575.4 1860.0 576.0 C1866.7 576.6 1873.3 577.1 1880.0 577.5 C1886.7 578.0 1893.3 578.4 1900.0 578.7 C1906.7 579.1 1913.3 579.4 1920.0 579.7 C1926.7 580.0 1933.3 580.2 1940.0 580.4 C1946.7 580.6 1953.3 580.8 1960.0 581.0 C1966.7 581.2 1973.3 581.3 1980.0 581.4 C1986.7 581.5 1993.3 581.7 2000.0 581.7 C2006.7 581.8 2013.3 581.9 2020.0 582.0 C2026.7 582.1 2036.7 582.1 2040.0 582.2"/><path d="M600.0 582.6 C603.3 582.6 613.3 582.6 620.0 582.6 C626.7 582.6 633.3 582.6 640.0 582.6 C646.7 582.6 653.3 582.5 660.0 582.5 C666.7 582.5 673.3 582.5 680.0 582.5 C686.7 582.5 693.3 582.5 700.0 582.4 C706.7 582.4 713.3 582.4 720.0 582.4 C726.7 582.3 733.3 582.3 740.0 582.2 C746.7 582.2 753.3 582.1 760.0 582.1 C766.7 582.0 773.3 581.9 780.0 581.8 C786.7 581.7 793.3 581.6 800.0 581.4 C806.7 581.3 813.3 581.1 820.0 580.9 C826.7 580.7 833.3 580.5 840.0 580.2 C846.7 579.9 853.3 579.6 860.0 579.2 C866.7 578.9 873.3 578.5 880.0 578.0 C886.7 577.5 893.3 576.9 900.0 576.3 C906.7 575.6 913.3 574.9 920.0 574.1 C926.7 573.2 933.3 572.3 940.0 571.3 C946.7 570.2 953.3 569.1 960.0 567.7 C966.7 566.4 973.3 565.0 980.0 563.4 C986.7 561.8 993.3 560.0 1000.0 558.0 C1006.7 556.1 1013.3 554.0 1020.0 551.6 C1026.7 549.3 1033.3 546.8 1040.0 544.1 C1046.7 541.3 1053.3 538.4 1060.0 535.3 C1066.7 532.1 1073.3 528.8 1080.0 525.2 C1086.7 521.7 1093.3 517.9 1100.0 513.9 C1106.7 510.0 1113.3 505.8 1120.0 501.5 C1126.7 497.2 1133.3 492.6 1140.0 488.0 C1146.7 483.4 1153.3 478.6 1160.0 473.7 C1166.7 468.9 1173.3 463.9 1180.0 458.9 C1186.7 453.9 1193.3 448.8 1200.0 443.9 C1206.7 438.9 1213.3 433.9 1220.0 429.0 C1226.7 424.2 1233.3 419.4 1240.0 414.8 C1246.7 410.2 1253.3 405.8 1260.0 401.7 C1266.7 397.5 1273.3 393.6 1280.0 390.0 C1286.7 386.5 1293.3 383.2 1300.0 380.4 C1306.7 377.6 1313.3 375.1 1320.0 373.1 C1326.7 371.1 1333.3 369.5 1340.0 368.4 C1346.7 367.3 1353.3 366.7 1360.0 366.5 C1366.7 366.4 1373.3 366.8 1380.0 367.6 C1386.7 368.4 1393.3 369.8 1400.0 371.6 C1406.7 373.3 1413.3 375.6 1420.0 378.3 C1426.7 380.9 1433.3 384.0 1440.0 387.4 C1446.7 390.9 1453.3 394.7 1460.0 398.8 C1466.7 402.9 1473.3 407.3 1480.0 411.8 C1486.7 416.4 1493.3 421.3 1500.0 426.2 C1506.7 431.1 1513.3 436.2 1520.0 441.3 C1526.7 446.4 1533.3 451.6 1540.0 456.7 C1546.7 461.8 1553.3 467.0 1560.0 472.0 C1566.7 477.0 1573.3 482.0 1580.0 486.8 C1586.7 491.6 1593.3 496.3 1600.0 500.8 C1606.7 505.2 1613.3 509.6 1620.0 513.7 C1626.7 517.8 1633.3 521.7 1640.0 525.3 C1646.7 529.0 1653.3 532.5 1660.0 535.7 C1666.7 538.9 1673.3 541.9 1680.0 544.7 C1686.7 547.5 1693.3 550.1 1700.0 552.4 C1706.7 554.8 1713.3 556.9 1720.0 558.9 C1726.7 560.9 1733.3 562.6 1740.0 564.2 C1746.7 565.8 1753.3 567.3 1760.0 568.6 C1766.7 569.9 1773.3 571.0 1780.0 572.0 C1786.7 573.0 1793.3 573.9 1800.0 574.7 C1806.7 575.5 1813.3 576.2 1820.0 576.8 C1826.7 577.4 1833.3 578.0 1840.0 578.4 C1846.7 578.9 1853.3 579.3 1860.0 579.6 C1866.7 580.0 1873.3 580.2 1880.0 580.5 C1886.7 580.8 1893.3 581.0 1900.0 581.1 C1906.7 581.3 1913.3 581.5 1920.0 581.6 C1926.7 581.7 1933.3 581.8 1940.0 581.9 C1946.7 582.0 1953.3 582.1 1960.0 582.2 C1966.7 582.2 1973.3 582.3 1980.0 582.3 C1986.7 582.3 1993.3 582.4 2000.0 582.4 C2006.7 582.4 2013.3 582.5 2020.0 582.5 C2026.7 582.5 2036.7 582.5 2040.0 582.5"/><path d="M600.0 582.0 C603.3 582.0 613.3 581.9 620.0 581.8 C626.7 581.7 633.3 581.6 640.0 581.5 C646.7 581.4 653.3 581.3 660.0 581.2 C666.7 581.0 673.3 580.9 680.0 580.7 C686.7 580.5 693.3 580.3 700.0 580.0 C706.7 579.8 713.3 579.5 720.0 579.2 C726.7 578.9 733.3 578.6 740.0 578.2 C746.7 577.8 753.3 577.4 760.0 576.9 C766.7 576.5 773.3 575.9 780.0 575.3 C786.7 574.8 793.3 574.1 800.0 573.4 C806.7 572.7 813.3 571.9 820.0 571.0 C826.7 570.2 833.3 569.2 840.0 568.2 C846.7 567.1 853.3 566.0 860.0 564.8 C866.7 563.6 873.3 562.2 880.0 560.8 C886.7 559.4 893.3 557.8 900.0 556.2 C906.7 554.5 913.3 552.8 920.0 550.9 C926.7 549.0 933.3 547.0 940.0 544.8 C946.7 542.7 953.3 540.4 960.0 538.0 C966.7 535.7 973.3 533.2 980.0 530.5 C986.7 527.9 993.3 525.2 1000.0 522.3 C1006.7 519.4 1013.3 516.5 1020.0 513.4 C1026.7 510.3 1033.3 507.2 1040.0 503.9 C1046.7 500.7 1053.3 497.3 1060.0 493.9 C1066.7 490.5 1073.3 487.1 1080.0 483.6 C1086.7 480.1 1093.3 476.6 1100.0 473.1 C1106.7 469.6 1113.3 466.0 1120.0 462.5 C1126.7 459.0 1133.3 455.6 1140.0 452.2 C1146.7 448.8 1153.3 445.4 1160.0 442.2 C1166.7 439.0 1173.3 435.8 1180.0 432.9 C1186.7 429.9 1193.3 427.0 1200.0 424.3 C1206.7 421.7 1213.3 419.1 1220.0 416.8 C1226.7 414.5 1233.3 412.4 1240.0 410.6 C1246.7 408.7 1253.3 407.1 1260.0 405.7 C1266.7 404.3 1273.3 403.2 1280.0 402.3 C1286.7 401.4 1293.3 400.8 1300.0 400.5 C1306.7 400.2 1313.3 400.2 1320.0 400.4 C1326.7 400.6 1333.3 401.2 1340.0 401.9 C1346.7 402.7 1353.3 403.8 1360.0 405.1 C1366.7 406.4 1373.3 407.9 1380.0 409.7 C1386.7 411.5 1393.3 413.6 1400.0 415.8 C1406.7 418.0 1413.3 420.5 1420.0 423.1 C1426.7 425.7 1433.3 428.5 1440.0 431.4 C1446.7 434.4 1453.3 437.5 1460.0 440.6 C1466.7 443.8 1473.3 447.1 1480.0 450.5 C1486.7 453.8 1493.3 457.3 1500.0 460.8 C1506.7 464.2 1513.3 467.8 1520.0 471.2 C1526.7 474.7 1533.3 478.3 1540.0 481.8 C1546.7 485.2 1553.3 488.7 1560.0 492.1 C1566.7 495.5 1573.3 498.8 1580.0 502.1 C1586.7 505.3 1593.3 508.5 1600.0 511.6 C1606.7 514.7 1613.3 517.7 1620.0 520.6 C1626.7 523.5 1633.3 526.3 1640.0 528.9 C1646.7 531.6 1653.3 534.1 1660.0 536.6 C1666.7 539.0 1673.3 541.3 1680.0 543.5 C1686.7 545.6 1693.3 547.7 1700.0 549.6 C1706.7 551.6 1713.3 553.4 1720.0 555.1 C1726.7 556.8 1733.3 558.4 1740.0 559.8 C1746.7 561.3 1753.3 562.7 1760.0 563.9 C1766.7 565.2 1773.3 566.4 1780.0 567.4 C1786.7 568.5 1793.3 569.5 1800.0 570.4 C1806.7 571.3 1813.3 572.1 1820.0 572.9 C1826.7 573.6 1833.3 574.3 1840.0 574.9 C1846.7 575.5 1853.3 576.1 1860.0 576.6 C1866.7 577.1 1873.3 577.5 1880.0 577.9 C1886.7 578.3 1893.3 578.7 1900.0 579.0 C1906.7 579.3 1913.3 579.6 1920.0 579.8 C1926.7 580.1 1933.3 580.3 1940.0 580.5 C1946.7 580.7 1953.3 580.9 1960.0 581.0 C1966.7 581.2 1973.3 581.3 1980.0 581.4 C1986.7 581.6 1993.3 581.7 2000.0 581.8 C2006.7 581.8 2013.3 581.9 2020.0 582.0 C2026.7 582.0 2036.7 582.1 2040.0 582.2"/><path d="M600.0 582.4 C603.3 582.4 613.3 582.4 620.0 582.4 C626.7 582.3 633.3 582.3 640.0 582.2 C646.7 582.2 653.3 582.2 660.0 582.1 C666.7 582.0 673.3 582.0 680.0 581.9 C686.7 581.8 693.3 581.7 700.0 581.6 C706.7 581.5 713.3 581.4 720.0 581.3 C726.7 581.1 733.3 581.0 740.0 580.8 C746.7 580.6 753.3 580.4 760.0 580.2 C766.7 579.9 773.3 579.7 780.0 579.4 C786.7 579.0 793.3 578.7 800.0 578.3 C806.7 577.9 813.3 577.5 820.0 577.0 C826.7 576.5 833.3 576.0 840.0 575.4 C846.7 574.8 853.3 574.1 860.0 573.3 C866.7 572.6 873.3 571.8 880.0 570.9 C886.7 569.9 893.3 569.0 900.0 567.9 C906.7 566.8 913.3 565.6 920.0 564.3 C926.7 563.0 933.3 561.6 940.0 560.0 C946.7 558.5 953.3 556.9 960.0 555.1 C966.7 553.3 973.3 551.4 980.0 549.4 C986.7 547.4 993.3 545.2 1000.0 542.9 C1006.7 540.6 1013.3 538.1 1020.0 535.6 C1026.7 533.0 1033.3 530.3 1040.0 527.4 C1046.7 524.6 1053.3 521.6 1060.0 518.5 C1066.7 515.4 1073.3 512.2 1080.0 508.9 C1086.7 505.5 1093.3 502.1 1100.0 498.6 C1106.7 495.1 1113.3 491.4 1120.0 487.8 C1126.7 484.1 1133.3 480.3 1140.0 476.6 C1146.7 472.8 1153.3 469.0 1160.0 465.3 C1166.7 461.5 1173.3 457.7 1180.0 453.9 C1186.7 450.2 1193.3 446.5 1200.0 442.9 C1206.7 439.3 1213.3 435.8 1220.0 432.4 C1226.7 429.1 1233.3 425.8 1240.0 422.7 C1246.7 419.6 1253.3 416.7 1260.0 414.0 C1266.7 411.4 1273.3 408.9 1280.0 406.6 C1286.7 404.4 1293.3 402.4 1300.0 400.7 C1306.7 399.1 1313.3 397.6 1320.0 396.5 C1326.7 395.4 1333.3 394.6 1340.0 394.1 C1346.7 393.6 1353.3 393.4 1360.0 393.6 C1366.7 393.7 1373.3 394.2 1380.0 395.0 C1386.7 395.7 1393.3 396.8 1400.0 398.2 C1406.7 399.6 1413.3 401.3 1420.0 403.3 C1426.7 405.2 1433.3 407.5 1440.0 410.0 C1446.7 412.5 1453.3 415.2 1460.0 418.2 C1466.7 421.1 1473.3 424.3 1480.0 427.6 C1486.7 430.9 1493.3 434.4 1500.0 437.9 C1506.7 441.5 1513.3 445.2 1520.0 449.0 C1526.7 452.8 1533.3 456.7 1540.0 460.5 C1546.7 464.4 1553.3 468.3 1560.0 472.2 C1566.7 476.1 1573.3 480.0 1580.0 483.8 C1586.7 487.6 1593.3 491.4 1600.0 495.1 C1606.7 498.8 1613.3 502.5 1620.0 506.0 C1626.7 509.5 1633.3 512.9 1640.0 516.1 C1646.7 519.4 1653.3 522.6 1660.0 525.6 C1666.7 528.6 1673.3 531.5 1680.0 534.2 C1686.7 536.9 1693.3 539.5 1700.0 541.9 C1706.7 544.4 1713.3 546.6 1720.0 548.8 C1726.7 550.9 1733.3 552.9 1740.0 554.8 C1746.7 556.6 1753.3 558.3 1760.0 559.9 C1766.7 561.5 1773.3 563.0 1780.0 564.3 C1786.7 565.7 1793.3 566.9 1800.0 568.0 C1806.7 569.2 1813.3 570.2 1820.0 571.1 C1826.7 572.0 1833.3 572.9 1840.0 573.6 C1846.7 574.4 1853.3 575.0 1860.0 575.6 C1866.7 576.3 1873.3 576.8 1880.0 577.3 C1886.7 577.8 1893.3 578.2 1900.0 578.6 C1906.7 579.0 1913.3 579.3 1920.0 579.6 C1926.7 579.9 1933.3 580.1 1940.0 580.4 C1946.7 580.6 1953.3 580.8 1960.0 581.0 C1966.7 581.1 1973.3 581.3 1980.0 581.4 C1986.7 581.5 1993.3 581.6 2000.0 581.7 C2006.7 581.8 2013.3 581.9 2020.0 582.0 C2026.7 582.1 2036.7 582.1 2040.0 582.2"/><path d="M600.0 582.5 C603.3 582.5 613.3 582.4 620.0 582.4 C626.7 582.4 633.3 582.4 640.0 582.3 C646.7 582.3 653.3 582.3 660.0 582.2 C666.7 582.2 673.3 582.1 680.0 582.0 C686.7 582.0 693.3 581.9 700.0 581.8 C706.7 581.7 713.3 581.6 720.0 581.5 C726.7 581.3 733.3 581.2 740.0 581.0 C746.7 580.8 753.3 580.6 760.0 580.4 C766.7 580.2 773.3 579.9 780.0 579.6 C786.7 579.3 793.3 578.9 800.0 578.5 C806.7 578.1 813.3 577.7 820.0 577.1 C826.7 576.6 833.3 576.0 840.0 575.3 C846.7 574.7 853.3 573.9 860.0 573.1 C866.7 572.2 873.3 571.3 880.0 570.3 C886.7 569.2 893.3 568.1 900.0 566.8 C906.7 565.5 913.3 564.1 920.0 562.6 C926.7 561.0 933.3 559.4 940.0 557.5 C946.7 555.7 953.3 553.7 960.0 551.6 C966.7 549.4 973.3 547.1 980.0 544.6 C986.7 542.1 993.3 539.4 1000.0 536.6 C1006.7 533.8 1013.3 530.8 1020.0 527.6 C1026.7 524.4 1033.3 521.0 1040.0 517.5 C1046.7 514.0 1053.3 510.3 1060.0 506.4 C1066.7 502.6 1073.3 498.6 1080.0 494.5 C1086.7 490.4 1093.3 486.2 1100.0 481.9 C1106.7 477.6 1113.3 473.1 1120.0 468.7 C1126.7 464.3 1133.3 459.8 1140.0 455.3 C1146.7 450.8 1153.3 446.3 1160.0 441.9 C1166.7 437.5 1173.3 433.1 1180.0 428.9 C1186.7 424.6 1193.3 420.5 1200.0 416.5 C1206.7 412.6 1213.3 408.8 1220.0 405.2 C1226.7 401.7 1233.3 398.3 1240.0 395.3 C1246.7 392.3 1253.3 389.5 1260.0 387.1 C1266.7 384.6 1273.3 382.5 1280.0 380.8 C1286.7 379.0 1293.3 377.6 1300.0 376.6 C1306.7 375.6 1313.3 375.0 1320.0 374.8 C1326.7 374.6 1333.3 374.7 1340.0 375.3 C1346.7 375.9 1353.3 376.8 1360.0 378.1 C1366.7 379.5 1373.3 381.2 1380.0 383.2 C1386.7 385.3 1393.3 387.7 1400.0 390.4 C1406.7 393.1 1413.3 396.2 1420.0 399.4 C1426.7 402.7 1433.3 406.3 1440.0 410.0 C1446.7 413.7 1453.3 417.7 1460.0 421.8 C1466.7 425.9 1473.3 430.1 1480.0 434.5 C1486.7 438.8 1493.3 443.3 1500.0 447.7 C1506.7 452.1 1513.3 456.7 1520.0 461.1 C1526.7 465.6 1533.3 470.1 1540.0 474.5 C1546.7 478.9 1553.3 483.2 1560.0 487.5 C1566.7 491.7 1573.3 495.8 1580.0 499.8 C1586.7 503.8 1593.3 507.7 1600.0 511.4 C1606.7 515.1 1613.3 518.7 1620.0 522.0 C1626.7 525.4 1633.3 528.6 1640.0 531.7 C1646.7 534.7 1653.3 537.6 1660.0 540.3 C1666.7 543.0 1673.3 545.5 1680.0 547.8 C1686.7 550.2 1693.3 552.3 1700.0 554.3 C1706.7 556.3 1713.3 558.2 1720.0 559.9 C1726.7 561.6 1733.3 563.1 1740.0 564.6 C1746.7 566.0 1753.3 567.3 1760.0 568.4 C1766.7 569.6 1773.3 570.6 1780.0 571.6 C1786.7 572.6 1793.3 573.4 1800.0 574.2 C1806.7 574.9 1813.3 575.6 1820.0 576.2 C1826.7 576.8 1833.3 577.3 1840.0 577.8 C1846.7 578.3 1853.3 578.7 1860.0 579.0 C1866.7 579.4 1873.3 579.7 1880.0 580.0 C1886.7 580.3 1893.3 580.5 1900.0 580.7 C1906.7 580.9 1913.3 581.1 1920.0 581.2 C1926.7 581.4 1933.3 581.5 1940.0 581.6 C1946.7 581.8 1953.3 581.8 1960.0 581.9 C1966.7 582.0 1973.3 582.1 1980.0 582.1 C1986.7 582.2 1993.3 582.2 2000.0 582.3 C2006.7 582.3 2013.3 582.4 2020.0 582.4 C2026.7 582.4 2036.7 582.4 2040.0 582.5"/><path d="M600.0 582.3 C603.3 582.2 613.3 582.2 620.0 582.1 C626.7 582.1 633.3 582.0 640.0 581.9 C646.7 581.8 653.3 581.7 660.0 581.6 C666.7 581.5 673.3 581.4 680.0 581.3 C686.7 581.1 693.3 581.0 700.0 580.8 C706.7 580.6 713.3 580.4 720.0 580.2 C726.7 579.9 733.3 579.7 740.0 579.4 C746.7 579.1 753.3 578.7 760.0 578.3 C766.7 577.9 773.3 577.5 780.0 577.0 C786.7 576.5 793.3 576.0 800.0 575.3 C806.7 574.7 813.3 574.1 820.0 573.3 C826.7 572.5 833.3 571.7 840.0 570.8 C846.7 569.8 853.3 568.8 860.0 567.7 C866.7 566.6 873.3 565.3 880.0 564.0 C886.7 562.7 893.3 561.2 900.0 559.6 C906.7 558.0 913.3 556.3 920.0 554.5 C926.7 552.7 933.3 550.7 940.0 548.6 C946.7 546.5 953.3 544.2 960.0 541.8 C966.7 539.4 973.3 536.9 980.0 534.2 C986.7 531.5 993.3 528.7 1000.0 525.7 C1006.7 522.8 1013.3 519.7 1020.0 516.4 C1026.7 513.2 1033.3 509.8 1040.0 506.4 C1046.7 502.9 1053.3 499.3 1060.0 495.6 C1066.7 492.0 1073.3 488.2 1080.0 484.4 C1086.7 480.6 1093.3 476.7 1100.0 472.8 C1106.7 468.9 1113.3 464.9 1120.0 461.0 C1126.7 457.1 1133.3 453.1 1140.0 449.3 C1146.7 445.4 1153.3 441.6 1160.0 437.9 C1166.7 434.1 1173.3 430.5 1180.0 427.0 C1186.7 423.5 1193.3 420.2 1200.0 417.0 C1206.7 413.9 1213.3 410.9 1220.0 408.1 C1226.7 405.4 1233.3 402.8 1240.0 400.5 C1246.7 398.2 1253.3 396.2 1260.0 394.5 C1266.7 392.7 1273.3 391.2 1280.0 390.1 C1286.7 388.9 1293.3 388.1 1300.0 387.6 C1306.7 387.0 1313.3 386.8 1320.0 386.9 C1326.7 387.0 1333.3 387.4 1340.0 388.2 C1346.7 388.9 1353.3 390.0 1360.0 391.3 C1366.7 392.6 1373.3 394.3 1380.0 396.2 C1386.7 398.1 1393.3 400.3 1400.0 402.7 C1406.7 405.1 1413.3 407.8 1420.0 410.7 C1426.7 413.6 1433.3 416.7 1440.0 419.9 C1446.7 423.1 1453.3 426.6 1460.0 430.1 C1466.7 433.6 1473.3 437.3 1480.0 441.0 C1486.7 444.7 1493.3 448.6 1500.0 452.4 C1506.7 456.3 1513.3 460.2 1520.0 464.0 C1526.7 467.9 1533.3 471.8 1540.0 475.7 C1546.7 479.5 1553.3 483.3 1560.0 487.1 C1566.7 490.8 1573.3 494.5 1580.0 498.1 C1586.7 501.7 1593.3 505.2 1600.0 508.5 C1606.7 511.9 1613.3 515.2 1620.0 518.3 C1626.7 521.4 1633.3 524.5 1640.0 527.3 C1646.7 530.2 1653.3 532.9 1660.0 535.5 C1666.7 538.1 1673.3 540.6 1680.0 542.9 C1686.7 545.2 1693.3 547.4 1700.0 549.5 C1706.7 551.5 1713.3 553.4 1720.0 555.2 C1726.7 557.0 1733.3 558.6 1740.0 560.1 C1746.7 561.7 1753.3 563.1 1760.0 564.4 C1766.7 565.7 1773.3 566.9 1780.0 567.9 C1786.7 569.0 1793.3 570.0 1800.0 570.9 C1806.7 571.8 1813.3 572.7 1820.0 573.4 C1826.7 574.2 1833.3 574.8 1840.0 575.4 C1846.7 576.0 1853.3 576.6 1860.0 577.1 C1866.7 577.5 1873.3 578.0 1880.0 578.4 C1886.7 578.7 1893.3 579.1 1900.0 579.4 C1906.7 579.7 1913.3 579.9 1920.0 580.2 C1926.7 580.4 1933.3 580.6 1940.0 580.8 C1946.7 581.0 1953.3 581.1 1960.0 581.3 C1966.7 581.4 1973.3 581.5 1980.0 581.6 C1986.7 581.7 1993.3 581.8 2000.0 581.9 C2006.7 582.0 2013.3 582.0 2020.0 582.1 C2026.7 582.2 2036.7 582.2 2040.0 582.2"/><path d="M600.0 582.4 C603.3 582.4 613.3 582.4 620.0 582.3 C626.7 582.3 633.3 582.3 640.0 582.2 C646.7 582.2 653.3 582.1 660.0 582.0 C666.7 582.0 673.3 581.9 680.0 581.8 C686.7 581.7 693.3 581.6 700.0 581.5 C706.7 581.3 713.3 581.2 720.0 581.0 C726.7 580.8 733.3 580.6 740.0 580.4 C746.7 580.2 753.3 579.9 760.0 579.6 C766.7 579.3 773.3 579.0 780.0 578.6 C786.7 578.2 793.3 577.7 800.0 577.2 C806.7 576.7 813.3 576.2 820.0 575.5 C826.7 574.9 833.3 574.2 840.0 573.4 C846.7 572.6 853.3 571.7 860.0 570.7 C866.7 569.7 873.3 568.6 880.0 567.4 C886.7 566.2 893.3 564.9 900.0 563.4 C906.7 562.0 913.3 560.4 920.0 558.7 C926.7 556.9 933.3 555.1 940.0 553.0 C946.7 551.0 953.3 548.9 960.0 546.5 C966.7 544.2 973.3 541.7 980.0 539.0 C986.7 536.4 993.3 533.6 1000.0 530.6 C1006.7 527.6 1013.3 524.5 1020.0 521.2 C1026.7 517.9 1033.3 514.5 1040.0 510.9 C1046.7 507.4 1053.3 503.7 1060.0 499.9 C1066.7 496.0 1073.3 492.1 1080.0 488.1 C1086.7 484.1 1093.3 480.0 1100.0 475.9 C1106.7 471.8 1113.3 467.6 1120.0 463.5 C1126.7 459.3 1133.3 455.1 1140.0 451.1 C1146.7 447.0 1153.3 442.9 1160.0 438.9 C1166.7 435.0 1173.3 431.1 1180.0 427.5 C1186.7 423.8 1193.3 420.2 1200.0 416.9 C1206.7 413.6 1213.3 410.4 1220.0 407.6 C1226.7 404.7 1233.3 402.1 1240.0 399.8 C1246.7 397.5 1253.3 395.4 1260.0 393.7 C1266.7 392.0 1273.3 390.6 1280.0 389.6 C1286.7 388.6 1293.3 387.9 1300.0 387.6 C1306.7 387.3 1313.3 387.3 1320.0 387.7 C1326.7 388.1 1333.3 388.9 1340.0 390.0 C1346.7 391.0 1353.3 392.5 1360.0 394.3 C1366.7 396.0 1373.3 398.1 1380.0 400.5 C1386.7 402.8 1393.3 405.5 1400.0 408.4 C1406.7 411.3 1413.3 414.5 1420.0 417.8 C1426.7 421.2 1433.3 424.7 1440.0 428.4 C1446.7 432.1 1453.3 436.0 1460.0 439.9 C1466.7 443.8 1473.3 447.9 1480.0 452.0 C1486.7 456.0 1493.3 460.2 1500.0 464.3 C1506.7 468.4 1513.3 472.6 1520.0 476.6 C1526.7 480.7 1533.3 484.8 1540.0 488.7 C1546.7 492.7 1553.3 496.6 1560.0 500.3 C1566.7 504.1 1573.3 507.8 1580.0 511.3 C1586.7 514.8 1593.3 518.2 1600.0 521.4 C1606.7 524.7 1613.3 527.8 1620.0 530.7 C1626.7 533.7 1633.3 536.4 1640.0 539.1 C1646.7 541.7 1653.3 544.2 1660.0 546.5 C1666.7 548.8 1673.3 550.9 1680.0 552.9 C1686.7 554.9 1693.3 556.8 1700.0 558.5 C1706.7 560.2 1713.3 561.8 1720.0 563.3 C1726.7 564.7 1733.3 566.0 1740.0 567.2 C1746.7 568.4 1753.3 569.5 1760.0 570.5 C1766.7 571.5 1773.3 572.4 1780.0 573.2 C1786.7 574.0 1793.3 574.7 1800.0 575.4 C1806.7 576.0 1813.3 576.6 1820.0 577.1 C1826.7 577.6 1833.3 578.1 1840.0 578.5 C1846.7 578.9 1853.3 579.2 1860.0 579.5 C1866.7 579.8 1873.3 580.1 1880.0 580.3 C1886.7 580.6 1893.3 580.8 1900.0 581.0 C1906.7 581.1 1913.3 581.3 1920.0 581.4 C1926.7 581.6 1933.3 581.7 1940.0 581.8 C1946.7 581.9 1953.3 581.9 1960.0 582.0 C1966.7 582.1 1973.3 582.1 1980.0 582.2 C1986.7 582.2 1993.3 582.3 2000.0 582.3 C2006.7 582.4 2013.3 582.4 2020.0 582.4 C2026.7 582.4 2036.7 582.5 2040.0 582.5"/><path d="M600.0 582.6 C603.3 582.6 613.3 582.6 620.0 582.6 C626.7 582.5 633.3 582.5 640.0 582.5 C646.7 582.5 653.3 582.5 660.0 582.5 C666.7 582.5 673.3 582.5 680.0 582.4 C686.7 582.4 693.3 582.4 700.0 582.3 C706.7 582.3 713.3 582.3 720.0 582.2 C726.7 582.2 733.3 582.1 740.0 582.0 C746.7 582.0 753.3 581.9 760.0 581.8 C766.7 581.7 773.3 581.5 780.0 581.4 C786.7 581.2 793.3 581.1 800.0 580.9 C806.7 580.7 813.3 580.4 820.0 580.2 C826.7 579.9 833.3 579.6 840.0 579.2 C846.7 578.9 853.3 578.4 860.0 578.0 C866.7 577.5 873.3 576.9 880.0 576.3 C886.7 575.7 893.3 575.0 900.0 574.1 C906.7 573.3 913.3 572.4 920.0 571.4 C926.7 570.4 933.3 569.2 940.0 568.0 C946.7 566.7 953.3 565.3 960.0 563.7 C966.7 562.1 973.3 560.4 980.0 558.5 C986.7 556.6 993.3 554.5 1000.0 552.3 C1006.7 550.0 1013.3 547.5 1020.0 544.9 C1026.7 542.2 1033.3 539.3 1040.0 536.3 C1046.7 533.2 1053.3 529.9 1060.0 526.4 C1066.7 523.0 1073.3 519.3 1080.0 515.4 C1086.7 511.5 1093.3 507.4 1100.0 503.2 C1106.7 499.0 1113.3 494.5 1120.0 490.0 C1126.7 485.4 1133.3 480.7 1140.0 475.9 C1146.7 471.2 1153.3 466.2 1160.0 461.3 C1166.7 456.4 1173.3 451.4 1180.0 446.5 C1186.7 441.5 1193.3 436.5 1200.0 431.7 C1206.7 426.9 1213.3 422.1 1220.0 417.5 C1226.7 412.9 1233.3 408.4 1240.0 404.2 C1246.7 400.0 1253.3 396.0 1260.0 392.3 C1266.7 388.6 1273.3 385.2 1280.0 382.1 C1286.7 379.1 1293.3 376.4 1300.0 374.1 C1306.7 371.8 1313.3 369.9 1320.0 368.4 C1326.7 366.9 1333.3 365.9 1340.0 365.3 C1346.7 364.7 1353.3 364.5 1360.0 364.8 C1366.7 365.1 1373.3 365.9 1380.0 367.1 C1386.7 368.2 1393.3 369.9 1400.0 371.9 C1406.7 373.9 1413.3 376.3 1420.0 379.0 C1426.7 381.8 1433.3 385.0 1440.0 388.3 C1446.7 391.7 1453.3 395.5 1460.0 399.4 C1466.7 403.4 1473.3 407.6 1480.0 411.9 C1486.7 416.3 1493.3 420.9 1500.0 425.5 C1506.7 430.1 1513.3 434.9 1520.0 439.6 C1526.7 444.4 1533.3 449.2 1540.0 454.0 C1546.7 458.8 1553.3 463.6 1560.0 468.3 C1566.7 473.0 1573.3 477.7 1580.0 482.2 C1586.7 486.7 1593.3 491.2 1600.0 495.4 C1606.7 499.7 1613.3 503.8 1620.0 507.8 C1626.7 511.7 1633.3 515.5 1640.0 519.1 C1646.7 522.7 1653.3 526.1 1660.0 529.4 C1666.7 532.6 1673.3 535.6 1680.0 538.5 C1686.7 541.3 1693.3 544.0 1700.0 546.4 C1706.7 548.9 1713.3 551.2 1720.0 553.3 C1726.7 555.4 1733.3 557.4 1740.0 559.2 C1746.7 561.0 1753.3 562.6 1760.0 564.1 C1766.7 565.6 1773.3 566.9 1780.0 568.1 C1786.7 569.3 1793.3 570.4 1800.0 571.4 C1806.7 572.4 1813.3 573.3 1820.0 574.1 C1826.7 574.9 1833.3 575.5 1840.0 576.2 C1846.7 576.8 1853.3 577.3 1860.0 577.8 C1866.7 578.3 1873.3 578.7 1880.0 579.1 C1886.7 579.4 1893.3 579.8 1900.0 580.0 C1906.7 580.3 1913.3 580.5 1920.0 580.8 C1926.7 581.0 1933.3 581.1 1940.0 581.3 C1946.7 581.4 1953.3 581.6 1960.0 581.7 C1966.7 581.8 1973.3 581.9 1980.0 582.0 C1986.7 582.0 1993.3 582.1 2000.0 582.2 C2006.7 582.2 2013.3 582.3 2020.0 582.3 C2026.7 582.3 2036.7 582.4 2040.0 582.4"/><path d="M600.0 582.3 C603.3 582.3 613.3 582.3 620.0 582.2 C626.7 582.2 633.3 582.1 640.0 582.1 C646.7 582.0 653.3 581.9 660.0 581.9 C666.7 581.8 673.3 581.7 680.0 581.6 C686.7 581.5 693.3 581.3 700.0 581.2 C706.7 581.0 713.3 580.9 720.0 580.7 C726.7 580.5 733.3 580.3 740.0 580.0 C746.7 579.8 753.3 579.5 760.0 579.1 C766.7 578.8 773.3 578.5 780.0 578.0 C786.7 577.6 793.3 577.2 800.0 576.6 C806.7 576.1 813.3 575.5 820.0 574.9 C826.7 574.2 833.3 573.5 840.0 572.7 C846.7 571.9 853.3 571.1 860.0 570.1 C866.7 569.1 873.3 568.1 880.0 566.9 C886.7 565.7 893.3 564.4 900.0 563.1 C906.7 561.7 913.3 560.2 920.0 558.5 C926.7 556.9 933.3 555.2 940.0 553.3 C946.7 551.4 953.3 549.4 960.0 547.2 C966.7 545.0 973.3 542.7 980.0 540.3 C986.7 537.8 993.3 535.2 1000.0 532.5 C1006.7 529.7 1013.3 526.9 1020.0 523.8 C1026.7 520.8 1033.3 517.7 1040.0 514.4 C1046.7 511.1 1053.3 507.7 1060.0 504.2 C1066.7 500.7 1073.3 497.0 1080.0 493.3 C1086.7 489.6 1093.3 485.8 1100.0 481.9 C1106.7 478.1 1113.3 474.2 1120.0 470.2 C1126.7 466.3 1133.3 462.3 1140.0 458.4 C1146.7 454.4 1153.3 450.5 1160.0 446.6 C1166.7 442.7 1173.3 438.9 1180.0 435.2 C1186.7 431.5 1193.3 427.8 1200.0 424.3 C1206.7 420.9 1213.3 417.5 1220.0 414.4 C1226.7 411.3 1233.3 408.3 1240.0 405.6 C1246.7 402.9 1253.3 400.4 1260.0 398.2 C1266.7 396.0 1273.3 394.0 1280.0 392.4 C1286.7 390.7 1293.3 389.4 1300.0 388.3 C1306.7 387.3 1313.3 386.6 1320.0 386.2 C1326.7 385.8 1333.3 385.8 1340.0 386.1 C1346.7 386.3 1353.3 387.0 1360.0 387.9 C1366.7 388.8 1373.3 390.1 1380.0 391.7 C1386.7 393.2 1393.3 395.1 1400.0 397.3 C1406.7 399.4 1413.3 401.9 1420.0 404.5 C1426.7 407.2 1433.3 410.2 1440.0 413.3 C1446.7 416.4 1453.3 419.8 1460.0 423.3 C1466.7 426.7 1473.3 430.4 1480.0 434.2 C1486.7 437.9 1493.3 441.8 1500.0 445.8 C1506.7 449.7 1513.3 453.8 1520.0 457.8 C1526.7 461.8 1533.3 465.9 1540.0 469.9 C1546.7 473.9 1553.3 478.0 1560.0 481.9 C1566.7 485.8 1573.3 489.8 1580.0 493.6 C1586.7 497.4 1593.3 501.1 1600.0 504.7 C1606.7 508.3 1613.3 511.8 1620.0 515.1 C1626.7 518.5 1633.3 521.7 1640.0 524.8 C1646.7 527.8 1653.3 530.8 1660.0 533.6 C1666.7 536.3 1673.3 539.0 1680.0 541.4 C1686.7 543.9 1693.3 546.2 1700.0 548.4 C1706.7 550.6 1713.3 552.6 1720.0 554.5 C1726.7 556.4 1733.3 558.1 1740.0 559.7 C1746.7 561.3 1753.3 562.8 1760.0 564.2 C1766.7 565.5 1773.3 566.8 1780.0 567.9 C1786.7 569.1 1793.3 570.1 1800.0 571.0 C1806.7 572.0 1813.3 572.8 1820.0 573.6 C1826.7 574.3 1833.3 575.0 1840.0 575.6 C1846.7 576.2 1853.3 576.8 1860.0 577.3 C1866.7 577.7 1873.3 578.2 1880.0 578.6 C1886.7 578.9 1893.3 579.3 1900.0 579.6 C1906.7 579.9 1913.3 580.1 1920.0 580.3 C1926.7 580.6 1933.3 580.8 1940.0 580.9 C1946.7 581.1 1953.3 581.3 1960.0 581.4 C1966.7 581.5 1973.3 581.6 1980.0 581.7 C1986.7 581.8 1993.3 581.9 2000.0 582.0 C2006.7 582.1 2013.3 582.1 2020.0 582.2 C2026.7 582.2 2036.7 582.3 2040.0 582.3"/><path d="M600.0 582.5 C603.3 582.5 613.3 582.4 620.0 582.4 C626.7 582.4 633.3 582.4 640.0 582.3 C646.7 582.3 653.3 582.3 660.0 582.2 C666.7 582.2 673.3 582.1 680.0 582.1 C686.7 582.0 693.3 581.9 700.0 581.9 C706.7 581.8 713.3 581.7 720.0 581.6 C726.7 581.4 733.3 581.3 740.0 581.1 C746.7 581.0 753.3 580.8 760.0 580.6 C766.7 580.4 773.3 580.2 780.0 579.9 C786.7 579.6 793.3 579.3 800.0 579.0 C806.7 578.6 813.3 578.2 820.0 577.8 C826.7 577.3 833.3 576.8 840.0 576.3 C846.7 575.7 853.3 575.1 860.0 574.4 C866.7 573.7 873.3 572.9 880.0 572.0 C886.7 571.1 893.3 570.2 900.0 569.1 C906.7 568.0 913.3 566.9 920.0 565.6 C926.7 564.3 933.3 562.9 940.0 561.4 C946.7 559.9 953.3 558.2 960.0 556.4 C966.7 554.6 973.3 552.7 980.0 550.6 C986.7 548.6 993.3 546.4 1000.0 544.0 C1006.7 541.6 1013.3 539.1 1020.0 536.4 C1026.7 533.8 1033.3 530.9 1040.0 528.0 C1046.7 525.0 1053.3 521.9 1060.0 518.6 C1066.7 515.4 1073.3 512.0 1080.0 508.5 C1086.7 504.9 1093.3 501.3 1100.0 497.6 C1106.7 493.8 1113.3 490.0 1120.0 486.1 C1126.7 482.2 1133.3 478.2 1140.0 474.2 C1146.7 470.2 1153.3 466.1 1160.0 462.1 C1166.7 458.1 1173.3 454.0 1180.0 450.1 C1186.7 446.1 1193.3 442.2 1200.0 438.4 C1206.7 434.6 1213.3 430.8 1220.0 427.3 C1226.7 423.7 1233.3 420.3 1240.0 417.0 C1246.7 413.8 1253.3 410.8 1260.0 408.0 C1266.7 405.2 1273.3 402.7 1280.0 400.4 C1286.7 398.1 1293.3 396.1 1300.0 394.5 C1306.7 392.8 1313.3 391.4 1320.0 390.4 C1326.7 389.4 1333.3 388.7 1340.0 388.3 C1346.7 388.0 1353.3 388.0 1360.0 388.3 C1366.7 388.7 1373.3 389.4 1380.0 390.4 C1386.7 391.4 1393.3 392.8 1400.0 394.4 C1406.7 396.1 1413.3 398.1 1420.0 400.4 C1426.7 402.7 1433.3 405.2 1440.0 408.0 C1446.7 410.8 1453.3 413.9 1460.0 417.2 C1466.7 420.4 1473.3 423.9 1480.0 427.5 C1486.7 431.1 1493.3 434.9 1500.0 438.8 C1506.7 442.6 1513.3 446.7 1520.0 450.7 C1526.7 454.7 1533.3 458.8 1540.0 462.9 C1546.7 467.0 1553.3 471.1 1560.0 475.1 C1566.7 479.2 1573.3 483.3 1580.0 487.2 C1586.7 491.1 1593.3 495.0 1600.0 498.8 C1606.7 502.6 1613.3 506.3 1620.0 509.8 C1626.7 513.4 1633.3 516.8 1640.0 520.1 C1646.7 523.3 1653.3 526.5 1660.0 529.4 C1666.7 532.4 1673.3 535.2 1680.0 537.9 C1686.7 540.6 1693.3 543.1 1700.0 545.4 C1706.7 547.8 1713.3 550.0 1720.0 552.0 C1726.7 554.1 1733.3 556.0 1740.0 557.7 C1746.7 559.5 1753.3 561.1 1760.0 562.6 C1766.7 564.1 1773.3 565.4 1780.0 566.6 C1786.7 567.9 1793.3 569.0 1800.0 570.0 C1806.7 571.1 1813.3 572.0 1820.0 572.8 C1826.7 573.6 1833.3 574.4 1840.0 575.0 C1846.7 575.7 1853.3 576.3 1860.0 576.8 C1866.7 577.4 1873.3 577.8 1880.0 578.3 C1886.7 578.7 1893.3 579.0 1900.0 579.4 C1906.7 579.7 1913.3 580.0 1920.0 580.2 C1926.7 580.5 1933.3 580.7 1940.0 580.8 C1946.7 581.0 1953.3 581.2 1960.0 581.3 C1966.7 581.5 1973.3 581.6 1980.0 581.7 C1986.7 581.8 1993.3 581.9 2000.0 582.0 C2006.7 582.0 2013.3 582.1 2020.0 582.2 C2026.7 582.2 2036.7 582.3 2040.0 582.3"/><path d="M600.0 582.4 C603.3 582.4 613.3 582.4 620.0 582.4 C626.7 582.3 633.3 582.3 640.0 582.3 C646.7 582.2 653.3 582.2 660.0 582.1 C666.7 582.0 673.3 582.0 680.0 581.9 C686.7 581.8 693.3 581.7 700.0 581.6 C706.7 581.5 713.3 581.4 720.0 581.2 C726.7 581.1 733.3 580.9 740.0 580.7 C746.7 580.5 753.3 580.3 760.0 580.0 C766.7 579.8 773.3 579.5 780.0 579.2 C786.7 578.8 793.3 578.4 800.0 578.0 C806.7 577.6 813.3 577.1 820.0 576.6 C826.7 576.0 833.3 575.4 840.0 574.7 C846.7 574.0 853.3 573.3 860.0 572.4 C866.7 571.6 873.3 570.7 880.0 569.6 C886.7 568.6 893.3 567.5 900.0 566.2 C906.7 565.0 913.3 563.6 920.0 562.1 C926.7 560.6 933.3 559.0 940.0 557.3 C946.7 555.5 953.3 553.6 960.0 551.6 C966.7 549.5 973.3 547.4 980.0 545.0 C986.7 542.7 993.3 540.2 1000.0 537.6 C1006.7 534.9 1013.3 532.1 1020.0 529.2 C1026.7 526.3 1033.3 523.2 1040.0 519.9 C1046.7 516.7 1053.3 513.3 1060.0 509.8 C1066.7 506.3 1073.3 502.7 1080.0 498.9 C1086.7 495.2 1093.3 491.4 1100.0 487.4 C1106.7 483.5 1113.3 479.5 1120.0 475.5 C1126.7 471.5 1133.3 467.4 1140.0 463.4 C1146.7 459.3 1153.3 455.2 1160.0 451.2 C1166.7 447.2 1173.3 443.2 1180.0 439.3 C1186.7 435.5 1193.3 431.6 1200.0 428.0 C1206.7 424.4 1213.3 420.8 1220.0 417.5 C1226.7 414.2 1233.3 411.1 1240.0 408.2 C1246.7 405.3 1253.3 402.6 1260.0 400.3 C1266.7 397.9 1273.3 395.8 1280.0 394.0 C1286.7 392.2 1293.3 390.6 1300.0 389.5 C1306.7 388.3 1313.3 387.5 1320.0 387.0 C1326.7 386.5 1333.3 386.3 1340.0 386.5 C1346.7 386.7 1353.3 387.2 1360.0 388.0 C1366.7 388.9 1373.3 390.1 1380.0 391.6 C1386.7 393.1 1393.3 395.0 1400.0 397.1 C1406.7 399.2 1413.3 401.7 1420.0 404.3 C1426.7 407.0 1433.3 409.9 1440.0 413.0 C1446.7 416.1 1453.3 419.5 1460.0 423.0 C1466.7 426.5 1473.3 430.2 1480.0 434.0 C1486.7 437.7 1493.3 441.7 1500.0 445.6 C1506.7 449.6 1513.3 453.6 1520.0 457.7 C1526.7 461.7 1533.3 465.8 1540.0 469.9 C1546.7 473.9 1553.3 478.0 1560.0 481.9 C1566.7 485.9 1573.3 489.8 1580.0 493.7 C1586.7 497.5 1593.3 501.2 1600.0 504.8 C1606.7 508.4 1613.3 511.9 1620.0 515.3 C1626.7 518.7 1633.3 521.9 1640.0 525.0 C1646.7 528.1 1653.3 531.0 1660.0 533.8 C1666.7 536.6 1673.3 539.2 1680.0 541.7 C1686.7 544.2 1693.3 546.5 1700.0 548.6 C1706.7 550.8 1713.3 552.8 1720.0 554.7 C1726.7 556.6 1733.3 558.3 1740.0 560.0 C1746.7 561.6 1753.3 563.0 1760.0 564.4 C1766.7 565.8 1773.3 567.0 1780.0 568.1 C1786.7 569.3 1793.3 570.3 1800.0 571.2 C1806.7 572.1 1813.3 573.0 1820.0 573.7 C1826.7 574.5 1833.3 575.1 1840.0 575.8 C1846.7 576.4 1853.3 576.9 1860.0 577.4 C1866.7 577.9 1873.3 578.3 1880.0 578.7 C1886.7 579.0 1893.3 579.4 1900.0 579.7 C1906.7 580.0 1913.3 580.2 1920.0 580.4 C1926.7 580.7 1933.3 580.8 1940.0 581.0 C1946.7 581.2 1953.3 581.3 1960.0 581.5 C1966.7 581.6 1973.3 581.7 1980.0 581.8 C1986.7 581.9 1993.3 581.9 2000.0 582.0 C2006.7 582.1 2013.3 582.1 2020.0 582.2 C2026.7 582.2 2036.7 582.3 2040.0 582.3"/><path d="M600.0 582.4 C603.3 582.4 613.3 582.4 620.0 582.4 C626.7 582.4 633.3 582.3 640.0 582.3 C646.7 582.2 653.3 582.2 660.0 582.1 C666.7 582.1 673.3 582.0 680.0 582.0 C686.7 581.9 693.3 581.8 700.0 581.7 C706.7 581.6 713.3 581.5 720.0 581.4 C726.7 581.2 733.3 581.1 740.0 580.9 C746.7 580.7 753.3 580.5 760.0 580.3 C766.7 580.1 773.3 579.8 780.0 579.5 C786.7 579.2 793.3 578.9 800.0 578.5 C806.7 578.1 813.3 577.7 820.0 577.2 C826.7 576.7 833.3 576.1 840.0 575.5 C846.7 574.9 853.3 574.2 860.0 573.4 C866.7 572.7 873.3 571.8 880.0 570.9 C886.7 570.0 893.3 568.9 900.0 567.8 C906.7 566.7 913.3 565.4 920.0 564.1 C926.7 562.7 933.3 561.2 940.0 559.6 C946.7 558.0 953.3 556.3 960.0 554.4 C966.7 552.5 973.3 550.5 980.0 548.3 C986.7 546.2 993.3 543.9 1000.0 541.4 C1006.7 538.9 1013.3 536.3 1020.0 533.6 C1026.7 530.8 1033.3 527.9 1040.0 524.8 C1046.7 521.7 1053.3 518.5 1060.0 515.1 C1066.7 511.8 1073.3 508.3 1080.0 504.7 C1086.7 501.1 1093.3 497.3 1100.0 493.5 C1106.7 489.7 1113.3 485.7 1120.0 481.7 C1126.7 477.7 1133.3 473.6 1140.0 469.5 C1146.7 465.4 1153.3 461.2 1160.0 457.1 C1166.7 453.0 1173.3 448.8 1180.0 444.7 C1186.7 440.7 1193.3 436.6 1200.0 432.7 C1206.7 428.7 1213.3 424.9 1220.0 421.2 C1226.7 417.5 1233.3 413.9 1240.0 410.6 C1246.7 407.2 1253.3 404.0 1260.0 401.1 C1266.7 398.1 1273.3 395.4 1280.0 393.0 C1286.7 390.6 1293.3 388.4 1300.0 386.6 C1306.7 384.7 1313.3 383.2 1320.0 381.9 C1326.7 380.7 1333.3 379.8 1340.0 379.3 C1346.7 378.8 1353.3 378.6 1360.0 378.7 C1366.7 378.9 1373.3 379.4 1380.0 380.2 C1386.7 381.0 1393.3 382.2 1400.0 383.7 C1406.7 385.2 1413.3 387.0 1420.0 389.1 C1426.7 391.2 1433.3 393.7 1440.0 396.3 C1446.7 399.0 1453.3 401.9 1460.0 405.1 C1466.7 408.2 1473.3 411.6 1480.0 415.2 C1486.7 418.7 1493.3 422.4 1500.0 426.3 C1506.7 430.1 1513.3 434.1 1520.0 438.1 C1526.7 442.2 1533.3 446.3 1540.0 450.5 C1546.7 454.6 1553.3 458.8 1560.0 463.0 C1566.7 467.2 1573.3 471.3 1580.0 475.4 C1586.7 479.5 1593.3 483.6 1600.0 487.6 C1606.7 491.5 1613.3 495.4 1620.0 499.2 C1626.7 502.9 1633.3 506.6 1640.0 510.1 C1646.7 513.7 1653.3 517.1 1660.0 520.3 C1666.7 523.5 1673.3 526.6 1680.0 529.6 C1686.7 532.5 1693.3 535.3 1700.0 537.9 C1706.7 540.6 1713.3 543.0 1720.0 545.4 C1726.7 547.7 1733.3 549.9 1740.0 551.9 C1746.7 553.9 1753.3 555.8 1760.0 557.5 C1766.7 559.3 1773.3 560.8 1780.0 562.3 C1786.7 563.8 1793.3 565.1 1800.0 566.4 C1806.7 567.6 1813.3 568.7 1820.0 569.8 C1826.7 570.8 1833.3 571.7 1840.0 572.5 C1846.7 573.4 1853.3 574.1 1860.0 574.8 C1866.7 575.5 1873.3 576.1 1880.0 576.6 C1886.7 577.1 1893.3 577.6 1900.0 578.0 C1906.7 578.5 1913.3 578.8 1920.0 579.2 C1926.7 579.5 1933.3 579.8 1940.0 580.0 C1946.7 580.3 1953.3 580.5 1960.0 580.7 C1966.7 580.9 1973.3 581.1 1980.0 581.2 C1986.7 581.4 1993.3 581.5 2000.0 581.6 C2006.7 581.7 2013.3 581.8 2020.0 581.9 C2026.7 582.0 2036.7 582.1 2040.0 582.1"/><path d="M600.0 582.5 C603.3 582.5 613.3 582.5 620.0 582.4 C626.7 582.4 633.3 582.4 640.0 582.4 C646.7 582.3 653.3 582.3 660.0 582.3 C666.7 582.2 673.3 582.2 680.0 582.1 C686.7 582.0 693.3 582.0 700.0 581.9 C706.7 581.8 713.3 581.7 720.0 581.6 C726.7 581.5 733.3 581.4 740.0 581.2 C746.7 581.0 753.3 580.9 760.0 580.7 C766.7 580.5 773.3 580.2 780.0 580.0 C786.7 579.7 793.3 579.4 800.0 579.0 C806.7 578.7 813.3 578.3 820.0 577.8 C826.7 577.3 833.3 576.8 840.0 576.2 C846.7 575.6 853.3 575.0 860.0 574.3 C866.7 573.5 873.3 572.7 880.0 571.8 C886.7 570.9 893.3 569.9 900.0 568.8 C906.7 567.6 913.3 566.4 920.0 565.1 C926.7 563.7 933.3 562.3 940.0 560.6 C946.7 559.0 953.3 557.3 960.0 555.4 C966.7 553.5 973.3 551.4 980.0 549.2 C986.7 547.0 993.3 544.7 1000.0 542.2 C1006.7 539.6 1013.3 537.0 1020.0 534.1 C1026.7 531.3 1033.3 528.2 1040.0 525.1 C1046.7 521.9 1053.3 518.6 1060.0 515.1 C1066.7 511.6 1073.3 508.0 1080.0 504.3 C1086.7 500.5 1093.3 496.7 1100.0 492.7 C1106.7 488.7 1113.3 484.6 1120.0 480.5 C1126.7 476.4 1133.3 472.2 1140.0 468.0 C1146.7 463.7 1153.3 459.5 1160.0 455.2 C1166.7 451.0 1173.3 446.8 1180.0 442.7 C1186.7 438.6 1193.3 434.5 1200.0 430.5 C1206.7 426.6 1213.3 422.8 1220.0 419.2 C1226.7 415.6 1233.3 412.1 1240.0 408.9 C1246.7 405.7 1253.3 402.7 1260.0 400.0 C1266.7 397.3 1273.3 394.9 1280.0 392.8 C1286.7 390.7 1293.3 388.9 1300.0 387.5 C1306.7 386.1 1313.3 385.0 1320.0 384.4 C1326.7 383.7 1333.3 383.3 1340.0 383.4 C1346.7 383.5 1353.3 383.9 1360.0 384.7 C1366.7 385.5 1373.3 386.7 1380.0 388.2 C1386.7 389.7 1393.3 391.7 1400.0 393.9 C1406.7 396.1 1413.3 398.6 1420.0 401.4 C1426.7 404.2 1433.3 407.4 1440.0 410.7 C1446.7 414.0 1453.3 417.6 1460.0 421.4 C1466.7 425.1 1473.3 429.1 1480.0 433.1 C1486.7 437.2 1493.3 441.4 1500.0 445.6 C1506.7 449.9 1513.3 454.2 1520.0 458.5 C1526.7 462.9 1533.3 467.3 1540.0 471.6 C1546.7 475.9 1553.3 480.2 1560.0 484.3 C1566.7 488.5 1573.3 492.7 1580.0 496.7 C1586.7 500.7 1593.3 504.6 1600.0 508.3 C1606.7 512.1 1613.3 515.7 1620.0 519.2 C1626.7 522.6 1633.3 525.9 1640.0 529.0 C1646.7 532.2 1653.3 535.1 1660.0 537.9 C1666.7 540.7 1673.3 543.3 1680.0 545.7 C1686.7 548.2 1693.3 550.4 1700.0 552.5 C1706.7 554.7 1713.3 556.6 1720.0 558.4 C1726.7 560.2 1733.3 561.8 1740.0 563.3 C1746.7 564.8 1753.3 566.2 1760.0 567.4 C1766.7 568.7 1773.3 569.8 1780.0 570.8 C1786.7 571.8 1793.3 572.7 1800.0 573.5 C1806.7 574.3 1813.3 575.0 1820.0 575.7 C1826.7 576.3 1833.3 576.9 1840.0 577.4 C1846.7 577.9 1853.3 578.3 1860.0 578.7 C1866.7 579.1 1873.3 579.5 1880.0 579.8 C1886.7 580.1 1893.3 580.3 1900.0 580.5 C1906.7 580.8 1913.3 580.9 1920.0 581.1 C1926.7 581.3 1933.3 581.4 1940.0 581.5 C1946.7 581.7 1953.3 581.8 1960.0 581.9 C1966.7 582.0 1973.3 582.0 1980.0 582.1 C1986.7 582.2 1993.3 582.2 2000.0 582.2 C2006.7 582.3 2013.3 582.3 2020.0 582.4 C2026.7 582.4 2036.7 582.4 2040.0 582.4"/><path d="M600.0 582.4 C603.3 582.4 613.3 582.3 620.0 582.3 C626.7 582.3 633.3 582.2 640.0 582.2 C646.7 582.1 653.3 582.0 660.0 582.0 C666.7 581.9 673.3 581.8 680.0 581.7 C686.7 581.6 693.3 581.5 700.0 581.3 C706.7 581.2 713.3 581.0 720.0 580.9 C726.7 580.7 733.3 580.5 740.0 580.2 C746.7 580.0 753.3 579.7 760.0 579.3 C766.7 579.0 773.3 578.7 780.0 578.2 C786.7 577.8 793.3 577.3 800.0 576.8 C806.7 576.2 813.3 575.6 820.0 574.9 C826.7 574.2 833.3 573.5 840.0 572.6 C846.7 571.7 853.3 570.8 860.0 569.7 C866.7 568.6 873.3 567.5 880.0 566.2 C886.7 564.9 893.3 563.5 900.0 561.9 C906.7 560.3 913.3 558.6 920.0 556.8 C926.7 554.9 933.3 552.9 940.0 550.7 C946.7 548.5 953.3 546.2 960.0 543.7 C966.7 541.2 973.3 538.5 980.0 535.7 C986.7 532.8 993.3 529.8 1000.0 526.6 C1006.7 523.4 1013.3 520.0 1020.0 516.5 C1026.7 513.0 1033.3 509.3 1040.0 505.5 C1046.7 501.7 1053.3 497.7 1060.0 493.6 C1066.7 489.5 1073.3 485.3 1080.0 481.1 C1086.7 476.8 1093.3 472.5 1100.0 468.1 C1106.7 463.7 1113.3 459.3 1120.0 454.9 C1126.7 450.5 1133.3 446.1 1140.0 441.8 C1146.7 437.4 1153.3 433.1 1160.0 429.0 C1166.7 424.9 1173.3 420.8 1180.0 417.0 C1186.7 413.2 1193.3 409.5 1200.0 406.0 C1206.7 402.6 1213.3 399.3 1220.0 396.4 C1226.7 393.5 1233.3 390.8 1240.0 388.4 C1246.7 386.1 1253.3 384.0 1260.0 382.3 C1266.7 380.7 1273.3 379.3 1280.0 378.3 C1286.7 377.3 1293.3 376.7 1300.0 376.4 C1306.7 376.2 1313.3 376.3 1320.0 376.8 C1326.7 377.2 1333.3 378.1 1340.0 379.3 C1346.7 380.4 1353.3 382.0 1360.0 383.8 C1366.7 385.7 1373.3 387.9 1380.0 390.3 C1386.7 392.7 1393.3 395.5 1400.0 398.5 C1406.7 401.4 1413.3 404.7 1420.0 408.1 C1426.7 411.4 1433.3 415.1 1440.0 418.8 C1446.7 422.5 1453.3 426.4 1460.0 430.4 C1466.7 434.3 1473.3 438.4 1480.0 442.5 C1486.7 446.6 1493.3 450.8 1500.0 454.9 C1506.7 459.1 1513.3 463.2 1520.0 467.4 C1526.7 471.5 1533.3 475.5 1540.0 479.5 C1546.7 483.5 1553.3 487.5 1560.0 491.3 C1566.7 495.1 1573.3 498.9 1580.0 502.5 C1586.7 506.1 1593.3 509.6 1600.0 512.9 C1606.7 516.3 1613.3 519.5 1620.0 522.6 C1626.7 525.6 1633.3 528.6 1640.0 531.4 C1646.7 534.1 1653.3 536.8 1660.0 539.3 C1666.7 541.7 1673.3 544.1 1680.0 546.3 C1686.7 548.5 1693.3 550.5 1700.0 552.4 C1706.7 554.4 1713.3 556.1 1720.0 557.8 C1726.7 559.5 1733.3 561.0 1740.0 562.4 C1746.7 563.8 1753.3 565.1 1760.0 566.3 C1766.7 567.5 1773.3 568.6 1780.0 569.6 C1786.7 570.6 1793.3 571.5 1800.0 572.3 C1806.7 573.1 1813.3 573.8 1820.0 574.5 C1826.7 575.2 1833.3 575.8 1840.0 576.3 C1846.7 576.9 1853.3 577.3 1860.0 577.8 C1866.7 578.2 1873.3 578.6 1880.0 578.9 C1886.7 579.3 1893.3 579.6 1900.0 579.8 C1906.7 580.1 1913.3 580.3 1920.0 580.5 C1926.7 580.8 1933.3 580.9 1940.0 581.1 C1946.7 581.2 1953.3 581.4 1960.0 581.5 C1966.7 581.6 1973.3 581.7 1980.0 581.8 C1986.7 581.9 1993.3 582.0 2000.0 582.0 C2006.7 582.1 2013.3 582.1 2020.0 582.2 C2026.7 582.2 2036.7 582.3 2040.0 582.3"/><path d="M600.0 582.4 C603.3 582.4 613.3 582.3 620.0 582.3 C626.7 582.2 633.3 582.2 640.0 582.1 C646.7 582.1 653.3 582.0 660.0 581.9 C666.7 581.9 673.3 581.8 680.0 581.7 C686.7 581.6 693.3 581.5 700.0 581.3 C706.7 581.2 713.3 581.0 720.0 580.8 C726.7 580.6 733.3 580.4 740.0 580.2 C746.7 579.9 753.3 579.7 760.0 579.4 C766.7 579.0 773.3 578.7 780.0 578.3 C786.7 577.9 793.3 577.4 800.0 576.9 C806.7 576.4 813.3 575.8 820.0 575.1 C826.7 574.5 833.3 573.8 840.0 573.0 C846.7 572.2 853.3 571.3 860.0 570.3 C866.7 569.3 873.3 568.2 880.0 567.0 C886.7 565.8 893.3 564.5 900.0 563.1 C906.7 561.7 913.3 560.1 920.0 558.4 C926.7 556.7 933.3 554.9 940.0 552.9 C946.7 551.0 953.3 548.9 960.0 546.6 C966.7 544.4 973.3 542.0 980.0 539.4 C986.7 536.8 993.3 534.1 1000.0 531.3 C1006.7 528.4 1013.3 525.4 1020.0 522.2 C1026.7 519.1 1033.3 515.8 1040.0 512.4 C1046.7 508.9 1053.3 505.4 1060.0 501.7 C1066.7 498.1 1073.3 494.3 1080.0 490.4 C1086.7 486.6 1093.3 482.6 1100.0 478.6 C1106.7 474.7 1113.3 470.6 1120.0 466.6 C1126.7 462.6 1133.3 458.5 1140.0 454.5 C1146.7 450.5 1153.3 446.5 1160.0 442.6 C1166.7 438.7 1173.3 434.9 1180.0 431.2 C1186.7 427.5 1193.3 423.9 1200.0 420.6 C1206.7 417.2 1213.3 414.0 1220.0 411.0 C1226.7 408.0 1233.3 405.2 1240.0 402.8 C1246.7 400.3 1253.3 398.0 1260.0 396.1 C1266.7 394.2 1273.3 392.5 1280.0 391.2 C1286.7 389.9 1293.3 388.9 1300.0 388.3 C1306.7 387.6 1313.3 387.3 1320.0 387.4 C1326.7 387.4 1333.3 387.8 1340.0 388.5 C1346.7 389.2 1353.3 390.3 1360.0 391.6 C1366.7 393.0 1373.3 394.7 1380.0 396.7 C1386.7 398.7 1393.3 401.0 1400.0 403.6 C1406.7 406.1 1413.3 409.0 1420.0 412.0 C1426.7 415.0 1433.3 418.3 1440.0 421.7 C1446.7 425.2 1453.3 428.8 1460.0 432.5 C1466.7 436.2 1473.3 440.1 1480.0 444.1 C1486.7 448.0 1493.3 452.0 1500.0 456.1 C1506.7 460.1 1513.3 464.2 1520.0 468.3 C1526.7 472.3 1533.3 476.4 1540.0 480.4 C1546.7 484.4 1553.3 488.3 1560.0 492.2 C1566.7 496.0 1573.3 499.8 1580.0 503.4 C1586.7 507.1 1593.3 510.6 1600.0 514.1 C1606.7 517.5 1613.3 520.7 1620.0 523.9 C1626.7 527.0 1633.3 530.0 1640.0 532.8 C1646.7 535.6 1653.3 538.3 1660.0 540.8 C1666.7 543.4 1673.3 545.7 1680.0 547.9 C1686.7 550.2 1693.3 552.2 1700.0 554.1 C1706.7 556.1 1713.3 557.8 1720.0 559.5 C1726.7 561.1 1733.3 562.6 1740.0 564.0 C1746.7 565.4 1753.3 566.7 1760.0 567.8 C1766.7 569.0 1773.3 570.0 1780.0 571.0 C1786.7 571.9 1793.3 572.8 1800.0 573.5 C1806.7 574.3 1813.3 575.0 1820.0 575.6 C1826.7 576.2 1833.3 576.8 1840.0 577.3 C1846.7 577.8 1853.3 578.2 1860.0 578.6 C1866.7 579.0 1873.3 579.3 1880.0 579.6 C1886.7 579.9 1893.3 580.2 1900.0 580.4 C1906.7 580.6 1913.3 580.8 1920.0 581.0 C1926.7 581.2 1933.3 581.3 1940.0 581.4 C1946.7 581.6 1953.3 581.7 1960.0 581.8 C1966.7 581.9 1973.3 581.9 1980.0 582.0 C1986.7 582.1 1993.3 582.1 2000.0 582.2 C2006.7 582.2 2013.3 582.3 2020.0 582.3 C2026.7 582.3 2036.7 582.4 2040.0 582.4"/><path d="M600.0 582.4 C603.3 582.3 613.3 582.3 620.0 582.3 C626.7 582.2 633.3 582.2 640.0 582.1 C646.7 582.1 653.3 582.0 660.0 581.9 C666.7 581.8 673.3 581.8 680.0 581.7 C686.7 581.6 693.3 581.4 700.0 581.3 C706.7 581.2 713.3 581.0 720.0 580.8 C726.7 580.6 733.3 580.4 740.0 580.2 C746.7 579.9 753.3 579.7 760.0 579.4 C766.7 579.0 773.3 578.7 780.0 578.3 C786.7 577.9 793.3 577.4 800.0 576.9 C806.7 576.4 813.3 575.9 820.0 575.2 C826.7 574.6 833.3 573.9 840.0 573.1 C846.7 572.3 853.3 571.5 860.0 570.5 C866.7 569.6 873.3 568.5 880.0 567.4 C886.7 566.2 893.3 564.9 900.0 563.6 C906.7 562.2 913.3 560.7 920.0 559.1 C926.7 557.4 933.3 555.7 940.0 553.8 C946.7 551.9 953.3 549.9 960.0 547.7 C966.7 545.5 973.3 543.2 980.0 540.8 C986.7 538.3 993.3 535.7 1000.0 533.0 C1006.7 530.2 1013.3 527.3 1020.0 524.3 C1026.7 521.3 1033.3 518.1 1040.0 514.9 C1046.7 511.6 1053.3 508.2 1060.0 504.7 C1066.7 501.2 1073.3 497.5 1080.0 493.8 C1086.7 490.2 1093.3 486.4 1100.0 482.6 C1106.7 478.8 1113.3 474.9 1120.0 471.0 C1126.7 467.1 1133.3 463.2 1140.0 459.4 C1146.7 455.5 1153.3 451.6 1160.0 447.9 C1166.7 444.2 1173.3 440.4 1180.0 436.9 C1186.7 433.3 1193.3 429.8 1200.0 426.6 C1206.7 423.3 1213.3 420.1 1220.0 417.2 C1226.7 414.3 1233.3 411.5 1240.0 409.1 C1246.7 406.6 1253.3 404.3 1260.0 402.4 C1266.7 400.4 1273.3 398.7 1280.0 397.3 C1286.7 395.9 1293.3 394.8 1300.0 394.1 C1306.7 393.3 1313.3 392.8 1320.0 392.7 C1326.7 392.5 1333.3 392.7 1340.0 393.2 C1346.7 393.7 1353.3 394.5 1360.0 395.6 C1366.7 396.7 1373.3 398.1 1380.0 399.8 C1386.7 401.5 1393.3 403.5 1400.0 405.7 C1406.7 407.9 1413.3 410.5 1420.0 413.1 C1426.7 415.8 1433.3 418.8 1440.0 421.9 C1446.7 425.0 1453.3 428.3 1460.0 431.7 C1466.7 435.0 1473.3 438.6 1480.0 442.2 C1486.7 445.9 1493.3 449.6 1500.0 453.4 C1506.7 457.1 1513.3 461.0 1520.0 464.8 C1526.7 468.6 1533.3 472.5 1540.0 476.3 C1546.7 480.1 1553.3 483.9 1560.0 487.6 C1566.7 491.3 1573.3 495.0 1580.0 498.5 C1586.7 502.1 1593.3 505.6 1600.0 508.9 C1606.7 512.3 1613.3 515.6 1620.0 518.7 C1626.7 521.8 1633.3 524.8 1640.0 527.7 C1646.7 530.6 1653.3 533.3 1660.0 535.9 C1666.7 538.5 1673.3 540.9 1680.0 543.3 C1686.7 545.6 1693.3 547.8 1700.0 549.8 C1706.7 551.8 1713.3 553.7 1720.0 555.5 C1726.7 557.3 1733.3 558.9 1740.0 560.5 C1746.7 562.0 1753.3 563.4 1760.0 564.7 C1766.7 566.0 1773.3 567.1 1780.0 568.2 C1786.7 569.3 1793.3 570.3 1800.0 571.2 C1806.7 572.1 1813.3 572.9 1820.0 573.6 C1826.7 574.4 1833.3 575.0 1840.0 575.6 C1846.7 576.2 1853.3 576.8 1860.0 577.2 C1866.7 577.7 1873.3 578.1 1880.0 578.5 C1886.7 578.9 1893.3 579.2 1900.0 579.5 C1906.7 579.8 1913.3 580.1 1920.0 580.3 C1926.7 580.5 1933.3 580.7 1940.0 580.9 C1946.7 581.1 1953.3 581.2 1960.0 581.3 C1966.7 581.5 1973.3 581.6 1980.0 581.7 C1986.7 581.8 1993.3 581.9 2000.0 581.9 C2006.7 582.0 2013.3 582.1 2020.0 582.1 C2026.7 582.2 2036.7 582.3 2040.0 582.3"/><path d="M600.0 582.5 C603.3 582.5 613.3 582.5 620.0 582.5 C626.7 582.5 633.3 582.5 640.0 582.5 C646.7 582.4 653.3 582.4 660.0 582.4 C666.7 582.4 673.3 582.3 680.0 582.3 C686.7 582.3 693.3 582.2 700.0 582.2 C706.7 582.1 713.3 582.1 720.0 582.0 C726.7 581.9 733.3 581.9 740.0 581.8 C746.7 581.7 753.3 581.6 760.0 581.4 C766.7 581.3 773.3 581.2 780.0 581.0 C786.7 580.8 793.3 580.6 800.0 580.4 C806.7 580.2 813.3 579.9 820.0 579.6 C826.7 579.3 833.3 579.0 840.0 578.6 C846.7 578.3 853.3 577.8 860.0 577.4 C866.7 576.9 873.3 576.4 880.0 575.8 C886.7 575.2 893.3 574.5 900.0 573.7 C906.7 573.0 913.3 572.2 920.0 571.3 C926.7 570.3 933.3 569.3 940.0 568.2 C946.7 567.1 953.3 565.9 960.0 564.6 C966.7 563.3 973.3 561.8 980.0 560.2 C986.7 558.7 993.3 557.0 1000.0 555.1 C1006.7 553.3 1013.3 551.4 1020.0 549.2 C1026.7 547.1 1033.3 544.9 1040.0 542.5 C1046.7 540.1 1053.3 537.5 1060.0 534.8 C1066.7 532.2 1073.3 529.3 1080.0 526.4 C1086.7 523.4 1093.3 520.3 1100.0 517.0 C1106.7 513.8 1113.3 510.4 1120.0 507.0 C1126.7 503.5 1133.3 499.9 1140.0 496.3 C1146.7 492.7 1153.3 488.9 1160.0 485.1 C1166.7 481.3 1173.3 477.5 1180.0 473.6 C1186.7 469.8 1193.3 465.9 1200.0 462.1 C1206.7 458.2 1213.3 454.4 1220.0 450.7 C1226.7 446.9 1233.3 443.2 1240.0 439.7 C1246.7 436.1 1253.3 432.7 1260.0 429.4 C1266.7 426.1 1273.3 423.0 1280.0 420.1 C1286.7 417.2 1293.3 414.4 1300.0 412.0 C1306.7 409.5 1313.3 407.3 1320.0 405.3 C1326.7 403.4 1333.3 401.7 1340.0 400.3 C1346.7 399.0 1353.3 397.9 1360.0 397.2 C1366.7 396.4 1373.3 396.0 1380.0 395.9 C1386.7 395.8 1393.3 396.0 1400.0 396.5 C1406.7 397.1 1413.3 398.0 1420.0 399.1 C1426.7 400.3 1433.3 401.8 1440.0 403.5 C1446.7 405.3 1453.3 407.4 1460.0 409.7 C1466.7 412.0 1473.3 414.5 1480.0 417.3 C1486.7 420.1 1493.3 423.1 1500.0 426.2 C1506.7 429.4 1513.3 432.8 1520.0 436.2 C1526.7 439.7 1533.3 443.3 1540.0 447.0 C1546.7 450.7 1553.3 454.5 1560.0 458.3 C1566.7 462.1 1573.3 465.9 1580.0 469.8 C1586.7 473.6 1593.3 477.5 1600.0 481.3 C1606.7 485.1 1613.3 488.9 1620.0 492.6 C1626.7 496.2 1633.3 499.9 1640.0 503.4 C1646.7 506.9 1653.3 510.4 1660.0 513.7 C1666.7 517.0 1673.3 520.2 1680.0 523.2 C1686.7 526.3 1693.3 529.2 1700.0 532.0 C1706.7 534.7 1713.3 537.4 1720.0 539.9 C1726.7 542.4 1733.3 544.7 1740.0 546.9 C1746.7 549.1 1753.3 551.2 1760.0 553.1 C1766.7 555.0 1773.3 556.8 1780.0 558.5 C1786.7 560.1 1793.3 561.7 1800.0 563.1 C1806.7 564.5 1813.3 565.8 1820.0 567.0 C1826.7 568.1 1833.3 569.2 1840.0 570.2 C1846.7 571.2 1853.3 572.1 1860.0 572.9 C1866.7 573.7 1873.3 574.4 1880.0 575.0 C1886.7 575.7 1893.3 576.3 1900.0 576.8 C1906.7 577.3 1913.3 577.8 1920.0 578.2 C1926.7 578.6 1933.3 579.0 1940.0 579.3 C1946.7 579.6 1953.3 579.9 1960.0 580.1 C1966.7 580.4 1973.3 580.6 1980.0 580.8 C1986.7 581.0 1993.3 581.1 2000.0 581.3 C2006.7 581.4 2013.3 581.5 2020.0 581.6 C2026.7 581.7 2036.7 581.9 2040.0 581.9"/><path d="M600.0 582.5 C603.3 582.5 613.3 582.5 620.0 582.4 C626.7 582.4 633.3 582.4 640.0 582.4 C646.7 582.3 653.3 582.3 660.0 582.2 C666.7 582.2 673.3 582.1 680.0 582.1 C686.7 582.0 693.3 582.0 700.0 581.9 C706.7 581.8 713.3 581.7 720.0 581.6 C726.7 581.5 733.3 581.3 740.0 581.2 C746.7 581.0 753.3 580.8 760.0 580.6 C766.7 580.4 773.3 580.2 780.0 579.9 C786.7 579.6 793.3 579.3 800.0 579.0 C806.7 578.6 813.3 578.2 820.0 577.8 C826.7 577.3 833.3 576.8 840.0 576.2 C846.7 575.6 853.3 575.0 860.0 574.3 C866.7 573.6 873.3 572.8 880.0 571.9 C886.7 571.0 893.3 570.0 900.0 568.9 C906.7 567.8 913.3 566.7 920.0 565.4 C926.7 564.0 933.3 562.6 940.0 561.1 C946.7 559.5 953.3 557.9 960.0 556.1 C966.7 554.2 973.3 552.3 980.0 550.2 C986.7 548.1 993.3 545.9 1000.0 543.5 C1006.7 541.2 1013.3 538.6 1020.0 536.0 C1026.7 533.3 1033.3 530.5 1040.0 527.6 C1046.7 524.7 1053.3 521.6 1060.0 518.4 C1066.7 515.2 1073.3 511.9 1080.0 508.5 C1086.7 505.1 1093.3 501.6 1100.0 498.0 C1106.7 494.5 1113.3 490.8 1120.0 487.1 C1126.7 483.5 1133.3 479.7 1140.0 476.1 C1146.7 472.4 1153.3 468.6 1160.0 465.0 C1166.7 461.3 1173.3 457.7 1180.0 454.2 C1186.7 450.7 1193.3 447.2 1200.0 444.0 C1206.7 440.7 1213.3 437.5 1220.0 434.6 C1226.7 431.6 1233.3 428.8 1240.0 426.3 C1246.7 423.8 1253.3 421.4 1260.0 419.4 C1266.7 417.3 1273.3 415.5 1280.0 414.0 C1286.7 412.5 1293.3 411.2 1300.0 410.3 C1306.7 409.4 1313.3 408.8 1320.0 408.5 C1326.7 408.2 1333.3 408.3 1340.0 408.6 C1346.7 409.0 1353.3 409.6 1360.0 410.6 C1366.7 411.6 1373.3 412.8 1380.0 414.4 C1386.7 415.9 1393.3 417.8 1400.0 419.9 C1406.7 422.0 1413.3 424.4 1420.0 426.9 C1426.7 429.5 1433.3 432.3 1440.0 435.2 C1446.7 438.2 1453.3 441.3 1460.0 444.6 C1466.7 447.9 1473.3 451.3 1480.0 454.8 C1486.7 458.2 1493.3 461.8 1500.0 465.4 C1506.7 469.1 1513.3 472.7 1520.0 476.4 C1526.7 480.0 1533.3 483.7 1540.0 487.3 C1546.7 490.9 1553.3 494.6 1560.0 498.1 C1566.7 501.6 1573.3 505.0 1580.0 508.4 C1586.7 511.7 1593.3 515.0 1600.0 518.1 C1606.7 521.3 1613.3 524.3 1620.0 527.2 C1626.7 530.1 1633.3 532.9 1640.0 535.5 C1646.7 538.2 1653.3 540.7 1660.0 543.0 C1666.7 545.4 1673.3 547.6 1680.0 549.7 C1686.7 551.7 1693.3 553.7 1700.0 555.5 C1706.7 557.3 1713.3 559.0 1720.0 560.5 C1726.7 562.1 1733.3 563.5 1740.0 564.8 C1746.7 566.1 1753.3 567.3 1760.0 568.4 C1766.7 569.5 1773.3 570.5 1780.0 571.4 C1786.7 572.3 1793.3 573.1 1800.0 573.9 C1806.7 574.6 1813.3 575.3 1820.0 575.9 C1826.7 576.5 1833.3 577.0 1840.0 577.5 C1846.7 577.9 1853.3 578.4 1860.0 578.7 C1866.7 579.1 1873.3 579.4 1880.0 579.7 C1886.7 580.0 1893.3 580.2 1900.0 580.5 C1906.7 580.7 1913.3 580.9 1920.0 581.0 C1926.7 581.2 1933.3 581.3 1940.0 581.5 C1946.7 581.6 1953.3 581.7 1960.0 581.8 C1966.7 581.9 1973.3 582.0 1980.0 582.0 C1986.7 582.1 1993.3 582.2 2000.0 582.2 C2006.7 582.2 2013.3 582.3 2020.0 582.3 C2026.7 582.4 2036.7 582.4 2040.0 582.4"/><path d="M600.0 582.6 C603.3 582.6 613.3 582.6 620.0 582.6 C626.7 582.6 633.3 582.5 640.0 582.5 C646.7 582.5 653.3 582.5 660.0 582.5 C666.7 582.5 673.3 582.5 680.0 582.4 C686.7 582.4 693.3 582.4 700.0 582.4 C706.7 582.3 713.3 582.3 720.0 582.2 C726.7 582.2 733.3 582.1 740.0 582.1 C746.7 582.0 753.3 581.9 760.0 581.8 C766.7 581.7 773.3 581.6 780.0 581.5 C786.7 581.3 793.3 581.2 800.0 581.0 C806.7 580.8 813.3 580.6 820.0 580.4 C826.7 580.1 833.3 579.8 840.0 579.5 C846.7 579.2 853.3 578.8 860.0 578.4 C866.7 577.9 873.3 577.4 880.0 576.9 C886.7 576.3 893.3 575.7 900.0 574.9 C906.7 574.2 913.3 573.4 920.0 572.5 C926.7 571.6 933.3 570.6 940.0 569.4 C946.7 568.3 953.3 567.1 960.0 565.7 C966.7 564.3 973.3 562.8 980.0 561.1 C986.7 559.4 993.3 557.6 1000.0 555.6 C1006.7 553.5 1013.3 551.4 1020.0 549.0 C1026.7 546.7 1033.3 544.2 1040.0 541.4 C1046.7 538.7 1053.3 535.8 1060.0 532.7 C1066.7 529.6 1073.3 526.4 1080.0 522.9 C1086.7 519.5 1093.3 515.8 1100.0 512.0 C1106.7 508.2 1113.3 504.2 1120.0 500.1 C1126.7 496.0 1133.3 491.7 1140.0 487.3 C1146.7 483.0 1153.3 478.5 1160.0 473.9 C1166.7 469.4 1173.3 464.7 1180.0 460.1 C1186.7 455.4 1193.3 450.7 1200.0 446.1 C1206.7 441.5 1213.3 436.9 1220.0 432.4 C1226.7 428.0 1233.3 423.5 1240.0 419.3 C1246.7 415.1 1253.3 411.1 1260.0 407.3 C1266.7 403.5 1273.3 399.8 1280.0 396.6 C1286.7 393.3 1293.3 390.3 1300.0 387.6 C1306.7 385.0 1313.3 382.7 1320.0 380.8 C1326.7 378.9 1333.3 377.3 1340.0 376.2 C1346.7 375.1 1353.3 374.4 1360.0 374.2 C1366.7 373.9 1373.3 374.1 1380.0 374.8 C1386.7 375.4 1393.3 376.4 1400.0 377.9 C1406.7 379.4 1413.3 381.3 1420.0 383.5 C1426.7 385.8 1433.3 388.5 1440.0 391.4 C1446.7 394.4 1453.3 397.8 1460.0 401.4 C1466.7 404.9 1473.3 408.9 1480.0 412.9 C1486.7 417.0 1493.3 421.4 1500.0 425.8 C1506.7 430.2 1513.3 434.9 1520.0 439.5 C1526.7 444.2 1533.3 449.0 1540.0 453.7 C1546.7 458.5 1553.3 463.3 1560.0 468.0 C1566.7 472.7 1573.3 477.4 1580.0 482.0 C1586.7 486.6 1593.3 491.1 1600.0 495.4 C1606.7 499.8 1613.3 504.0 1620.0 508.0 C1626.7 512.0 1633.3 515.9 1640.0 519.6 C1646.7 523.3 1653.3 526.8 1660.0 530.1 C1666.7 533.4 1673.3 536.5 1680.0 539.4 C1686.7 542.3 1693.3 545.0 1700.0 547.5 C1706.7 550.0 1713.3 552.3 1720.0 554.4 C1726.7 556.6 1733.3 558.5 1740.0 560.3 C1746.7 562.1 1753.3 563.7 1760.0 565.1 C1766.7 566.6 1773.3 567.9 1780.0 569.1 C1786.7 570.3 1793.3 571.4 1800.0 572.3 C1806.7 573.3 1813.3 574.1 1820.0 574.9 C1826.7 575.6 1833.3 576.3 1840.0 576.9 C1846.7 577.4 1853.3 577.9 1860.0 578.4 C1866.7 578.8 1873.3 579.2 1880.0 579.5 C1886.7 579.9 1893.3 580.2 1900.0 580.4 C1906.7 580.7 1913.3 580.9 1920.0 581.1 C1926.7 581.2 1933.3 581.4 1940.0 581.5 C1946.7 581.7 1953.3 581.8 1960.0 581.9 C1966.7 582.0 1973.3 582.0 1980.0 582.1 C1986.7 582.2 1993.3 582.2 2000.0 582.3 C2006.7 582.3 2013.3 582.3 2020.0 582.4 C2026.7 582.4 2036.7 582.4 2040.0 582.5"/><path d="M600.0 582.4 C603.3 582.3 613.3 582.3 620.0 582.3 C626.7 582.2 633.3 582.2 640.0 582.1 C646.7 582.1 653.3 582.0 660.0 581.9 C666.7 581.9 673.3 581.8 680.0 581.7 C686.7 581.6 693.3 581.5 700.0 581.4 C706.7 581.2 713.3 581.1 720.0 580.9 C726.7 580.8 733.3 580.6 740.0 580.4 C746.7 580.2 753.3 580.0 760.0 579.7 C766.7 579.4 773.3 579.1 780.0 578.8 C786.7 578.4 793.3 578.1 800.0 577.7 C806.7 577.2 813.3 576.8 820.0 576.2 C826.7 575.7 833.3 575.1 840.0 574.5 C846.7 573.9 853.3 573.2 860.0 572.4 C866.7 571.6 873.3 570.7 880.0 569.8 C886.7 568.9 893.3 567.9 900.0 566.8 C906.7 565.6 913.3 564.5 920.0 563.2 C926.7 561.9 933.3 560.5 940.0 559.0 C946.7 557.4 953.3 555.8 960.0 554.1 C966.7 552.4 973.3 550.5 980.0 548.6 C986.7 546.6 993.3 544.6 1000.0 542.4 C1006.7 540.2 1013.3 537.9 1020.0 535.5 C1026.7 533.1 1033.3 530.5 1040.0 527.9 C1046.7 525.3 1053.3 522.5 1060.0 519.7 C1066.7 516.9 1073.3 514.0 1080.0 511.0 C1086.7 508.0 1093.3 504.9 1100.0 501.8 C1106.7 498.6 1113.3 495.4 1120.0 492.2 C1126.7 489.0 1133.3 485.7 1140.0 482.5 C1146.7 479.2 1153.3 475.9 1160.0 472.7 C1166.7 469.5 1173.3 466.2 1180.0 463.1 C1186.7 460.0 1193.3 456.8 1200.0 453.9 C1206.7 450.9 1213.3 448.0 1220.0 445.2 C1226.7 442.4 1233.3 439.8 1240.0 437.3 C1246.7 434.8 1253.3 432.5 1260.0 430.4 C1266.7 428.3 1273.3 426.3 1280.0 424.6 C1286.7 422.9 1293.3 421.4 1300.0 420.1 C1306.7 418.9 1313.3 417.8 1320.0 417.1 C1326.7 416.3 1333.3 415.8 1340.0 415.5 C1346.7 415.2 1353.3 415.2 1360.0 415.4 C1366.7 415.7 1373.3 416.2 1380.0 416.9 C1386.7 417.7 1393.3 418.7 1400.0 419.9 C1406.7 421.1 1413.3 422.6 1420.0 424.3 C1426.7 426.0 1433.3 427.9 1440.0 430.0 C1446.7 432.0 1453.3 434.3 1460.0 436.8 C1466.7 439.2 1473.3 441.8 1480.0 444.5 C1486.7 447.3 1493.3 450.1 1500.0 453.1 C1506.7 456.0 1513.3 459.1 1520.0 462.2 C1526.7 465.3 1533.3 468.5 1540.0 471.7 C1546.7 474.9 1553.3 478.2 1560.0 481.4 C1566.7 484.6 1573.3 487.8 1580.0 491.0 C1586.7 494.2 1593.3 497.4 1600.0 500.5 C1606.7 503.6 1613.3 506.7 1620.0 509.7 C1626.7 512.7 1633.3 515.6 1640.0 518.4 C1646.7 521.3 1653.3 524.0 1660.0 526.6 C1666.7 529.3 1673.3 531.8 1680.0 534.2 C1686.7 536.6 1693.3 539.0 1700.0 541.2 C1706.7 543.4 1713.3 545.5 1720.0 547.4 C1726.7 549.4 1733.3 551.3 1740.0 553.0 C1746.7 554.8 1753.3 556.4 1760.0 557.9 C1766.7 559.5 1773.3 560.9 1780.0 562.2 C1786.7 563.6 1793.3 564.8 1800.0 565.9 C1806.7 567.1 1813.3 568.1 1820.0 569.1 C1826.7 570.1 1833.3 570.9 1840.0 571.7 C1846.7 572.5 1853.3 573.3 1860.0 574.0 C1866.7 574.6 1873.3 575.2 1880.0 575.8 C1886.7 576.3 1893.3 576.8 1900.0 577.3 C1906.7 577.7 1913.3 578.1 1920.0 578.5 C1926.7 578.8 1933.3 579.1 1940.0 579.4 C1946.7 579.7 1953.3 580.0 1960.0 580.2 C1966.7 580.4 1973.3 580.6 1980.0 580.8 C1986.7 581.0 1993.3 581.1 2000.0 581.2 C2006.7 581.4 2013.3 581.5 2020.0 581.6 C2026.7 581.7 2036.7 581.8 2040.0 581.9"/><path d="M600.0 582.4 C603.3 582.3 613.3 582.3 620.0 582.3 C626.7 582.2 633.3 582.2 640.0 582.1 C646.7 582.0 653.3 582.0 660.0 581.9 C666.7 581.8 673.3 581.7 680.0 581.6 C686.7 581.5 693.3 581.4 700.0 581.2 C706.7 581.1 713.3 580.9 720.0 580.7 C726.7 580.5 733.3 580.3 740.0 580.0 C746.7 579.7 753.3 579.4 760.0 579.1 C766.7 578.7 773.3 578.4 780.0 577.9 C786.7 577.5 793.3 577.0 800.0 576.4 C806.7 575.8 813.3 575.2 820.0 574.5 C826.7 573.8 833.3 573.0 840.0 572.1 C846.7 571.2 853.3 570.3 860.0 569.2 C866.7 568.1 873.3 566.9 880.0 565.6 C886.7 564.3 893.3 562.9 900.0 561.3 C906.7 559.7 913.3 558.0 920.0 556.2 C926.7 554.3 933.3 552.3 940.0 550.2 C946.7 548.0 953.3 545.7 960.0 543.2 C966.7 540.8 973.3 538.1 980.0 535.3 C986.7 532.5 993.3 529.6 1000.0 526.5 C1006.7 523.4 1013.3 520.1 1020.0 516.7 C1026.7 513.3 1033.3 509.7 1040.0 506.0 C1046.7 502.3 1053.3 498.5 1060.0 494.6 C1066.7 490.7 1073.3 486.7 1080.0 482.6 C1086.7 478.5 1093.3 474.4 1100.0 470.2 C1106.7 466.0 1113.3 461.8 1120.0 457.7 C1126.7 453.5 1133.3 449.3 1140.0 445.2 C1146.7 441.2 1153.3 437.1 1160.0 433.2 C1166.7 429.4 1173.3 425.5 1180.0 422.0 C1186.7 418.4 1193.3 414.9 1200.0 411.7 C1206.7 408.5 1213.3 405.5 1220.0 402.8 C1226.7 400.1 1233.3 397.6 1240.0 395.4 C1246.7 393.3 1253.3 391.4 1260.0 389.8 C1266.7 388.3 1273.3 387.1 1280.0 386.2 C1286.7 385.3 1293.3 384.8 1300.0 384.6 C1306.7 384.4 1313.3 384.6 1320.0 385.1 C1326.7 385.5 1333.3 386.4 1340.0 387.5 C1346.7 388.7 1353.3 390.2 1360.0 392.0 C1366.7 393.7 1373.3 395.8 1380.0 398.2 C1386.7 400.5 1393.3 403.1 1400.0 405.9 C1406.7 408.8 1413.3 411.8 1420.0 415.1 C1426.7 418.3 1433.3 421.7 1440.0 425.2 C1446.7 428.8 1453.3 432.5 1460.0 436.2 C1466.7 440.0 1473.3 443.8 1480.0 447.7 C1486.7 451.6 1493.3 455.5 1500.0 459.5 C1506.7 463.4 1513.3 467.3 1520.0 471.2 C1526.7 475.1 1533.3 479.0 1540.0 482.8 C1546.7 486.6 1553.3 490.3 1560.0 494.0 C1566.7 497.6 1573.3 501.1 1580.0 504.6 C1586.7 508.0 1593.3 511.3 1600.0 514.5 C1606.7 517.7 1613.3 520.8 1620.0 523.8 C1626.7 526.7 1633.3 529.5 1640.0 532.2 C1646.7 534.9 1653.3 537.4 1660.0 539.8 C1666.7 542.2 1673.3 544.5 1680.0 546.6 C1686.7 548.7 1693.3 550.7 1700.0 552.6 C1706.7 554.4 1713.3 556.2 1720.0 557.8 C1726.7 559.4 1733.3 560.9 1740.0 562.3 C1746.7 563.7 1753.3 564.9 1760.0 566.1 C1766.7 567.3 1773.3 568.4 1780.0 569.3 C1786.7 570.3 1793.3 571.2 1800.0 572.0 C1806.7 572.9 1813.3 573.6 1820.0 574.3 C1826.7 574.9 1833.3 575.5 1840.0 576.1 C1846.7 576.6 1853.3 577.1 1860.0 577.6 C1866.7 578.0 1873.3 578.4 1880.0 578.7 C1886.7 579.1 1893.3 579.4 1900.0 579.7 C1906.7 579.9 1913.3 580.2 1920.0 580.4 C1926.7 580.6 1933.3 580.8 1940.0 581.0 C1946.7 581.1 1953.3 581.3 1960.0 581.4 C1966.7 581.5 1973.3 581.6 1980.0 581.7 C1986.7 581.8 1993.3 581.9 2000.0 582.0 C2006.7 582.0 2013.3 582.1 2020.0 582.1 C2026.7 582.2 2036.7 582.3 2040.0 582.3"/><path d="M600.0 582.6 C603.3 582.6 613.3 582.6 620.0 582.6 C626.7 582.6 633.3 582.6 640.0 582.5 C646.7 582.5 653.3 582.5 660.0 582.5 C666.7 582.5 673.3 582.5 680.0 582.5 C686.7 582.4 693.3 582.4 700.0 582.4 C706.7 582.4 713.3 582.3 720.0 582.3 C726.7 582.2 733.3 582.2 740.0 582.1 C746.7 582.1 753.3 582.0 760.0 581.9 C766.7 581.8 773.3 581.7 780.0 581.6 C786.7 581.4 793.3 581.3 800.0 581.1 C806.7 580.9 813.3 580.7 820.0 580.5 C826.7 580.2 833.3 579.9 840.0 579.6 C846.7 579.2 853.3 578.9 860.0 578.4 C866.7 577.9 873.3 577.4 880.0 576.8 C886.7 576.2 893.3 575.5 900.0 574.7 C906.7 574.0 913.3 573.1 920.0 572.1 C926.7 571.1 933.3 570.0 940.0 568.7 C946.7 567.4 953.3 566.0 960.0 564.5 C966.7 562.9 973.3 561.2 980.0 559.3 C986.7 557.3 993.3 555.3 1000.0 553.0 C1006.7 550.7 1013.3 548.2 1020.0 545.4 C1026.7 542.7 1033.3 539.8 1040.0 536.7 C1046.7 533.5 1053.3 530.1 1060.0 526.6 C1066.7 523.0 1073.3 519.2 1080.0 515.2 C1086.7 511.2 1093.3 506.9 1100.0 502.5 C1106.7 498.1 1113.3 493.5 1120.0 488.8 C1126.7 484.1 1133.3 479.2 1140.0 474.2 C1146.7 469.3 1153.3 464.2 1160.0 459.1 C1166.7 454.0 1173.3 448.8 1180.0 443.7 C1186.7 438.6 1193.3 433.5 1200.0 428.5 C1206.7 423.6 1213.3 418.6 1220.0 414.0 C1226.7 409.3 1233.3 404.7 1240.0 400.5 C1246.7 396.3 1253.3 392.2 1260.0 388.6 C1266.7 385.0 1273.3 381.6 1280.0 378.7 C1286.7 375.7 1293.3 373.2 1300.0 371.1 C1306.7 369.0 1313.3 367.3 1320.0 366.1 C1326.7 364.9 1333.3 364.1 1340.0 363.8 C1346.7 363.6 1353.3 363.8 1360.0 364.4 C1366.7 365.1 1373.3 366.3 1380.0 367.9 C1386.7 369.4 1393.3 371.5 1400.0 373.9 C1406.7 376.4 1413.3 379.2 1420.0 382.4 C1426.7 385.6 1433.3 389.1 1440.0 392.9 C1446.7 396.7 1453.3 400.9 1460.0 405.2 C1466.7 409.5 1473.3 414.0 1480.0 418.7 C1486.7 423.3 1493.3 428.2 1500.0 433.0 C1506.7 437.9 1513.3 442.9 1520.0 447.8 C1526.7 452.7 1533.3 457.7 1540.0 462.6 C1546.7 467.4 1553.3 472.3 1560.0 477.0 C1566.7 481.7 1573.3 486.4 1580.0 490.9 C1586.7 495.3 1593.3 499.7 1600.0 503.8 C1606.7 508.0 1613.3 512.0 1620.0 515.8 C1626.7 519.6 1633.3 523.2 1640.0 526.6 C1646.7 530.0 1653.3 533.3 1660.0 536.3 C1666.7 539.3 1673.3 542.1 1680.0 544.7 C1686.7 547.3 1693.3 549.8 1700.0 552.0 C1706.7 554.2 1713.3 556.3 1720.0 558.2 C1726.7 560.1 1733.3 561.8 1740.0 563.4 C1746.7 564.9 1753.3 566.3 1760.0 567.6 C1766.7 568.9 1773.3 570.0 1780.0 571.1 C1786.7 572.1 1793.3 573.0 1800.0 573.8 C1806.7 574.7 1813.3 575.4 1820.0 576.0 C1826.7 576.7 1833.3 577.2 1840.0 577.7 C1846.7 578.2 1853.3 578.7 1860.0 579.0 C1866.7 579.4 1873.3 579.7 1880.0 580.0 C1886.7 580.3 1893.3 580.6 1900.0 580.8 C1906.7 581.0 1913.3 581.2 1920.0 581.3 C1926.7 581.5 1933.3 581.6 1940.0 581.7 C1946.7 581.8 1953.3 581.9 1960.0 582.0 C1966.7 582.1 1973.3 582.1 1980.0 582.2 C1986.7 582.2 1993.3 582.3 2000.0 582.3 C2006.7 582.4 2013.3 582.4 2020.0 582.4 C2026.7 582.4 2036.7 582.5 2040.0 582.5"/><path d="M600.0 582.3 C603.3 582.3 613.3 582.3 620.0 582.2 C626.7 582.2 633.3 582.1 640.0 582.1 C646.7 582.0 653.3 582.0 660.0 581.9 C666.7 581.8 673.3 581.7 680.0 581.6 C686.7 581.5 693.3 581.4 700.0 581.2 C706.7 581.1 713.3 580.9 720.0 580.8 C726.7 580.6 733.3 580.4 740.0 580.2 C746.7 579.9 753.3 579.7 760.0 579.4 C766.7 579.1 773.3 578.7 780.0 578.3 C786.7 578.0 793.3 577.6 800.0 577.1 C806.7 576.6 813.3 576.1 820.0 575.5 C826.7 574.9 833.3 574.3 840.0 573.5 C846.7 572.8 853.3 572.0 860.0 571.2 C866.7 570.3 873.3 569.3 880.0 568.3 C886.7 567.2 893.3 566.1 900.0 564.9 C906.7 563.6 913.3 562.3 920.0 560.8 C926.7 559.4 933.3 557.8 940.0 556.1 C946.7 554.5 953.3 552.7 960.0 550.7 C966.7 548.8 973.3 546.8 980.0 544.6 C986.7 542.4 993.3 540.1 1000.0 537.7 C1006.7 535.2 1013.3 532.7 1020.0 530.0 C1026.7 527.3 1033.3 524.5 1040.0 521.6 C1046.7 518.7 1053.3 515.6 1060.0 512.5 C1066.7 509.4 1073.3 506.1 1080.0 502.8 C1086.7 499.5 1093.3 496.1 1100.0 492.7 C1106.7 489.2 1113.3 485.7 1120.0 482.2 C1126.7 478.7 1133.3 475.1 1140.0 471.5 C1146.7 468.0 1153.3 464.4 1160.0 460.9 C1166.7 457.4 1173.3 453.9 1180.0 450.5 C1186.7 447.1 1193.3 443.7 1200.0 440.5 C1206.7 437.3 1213.3 434.2 1220.0 431.2 C1226.7 428.3 1233.3 425.5 1240.0 422.9 C1246.7 420.3 1253.3 417.8 1260.0 415.6 C1266.7 413.5 1273.3 411.5 1280.0 409.7 C1286.7 408.0 1293.3 406.5 1300.0 405.3 C1306.7 404.1 1313.3 403.1 1320.0 402.5 C1326.7 401.8 1333.3 401.4 1340.0 401.3 C1346.7 401.2 1353.3 401.4 1360.0 401.9 C1366.7 402.4 1373.3 403.2 1380.0 404.2 C1386.7 405.2 1393.3 406.5 1400.0 408.1 C1406.7 409.7 1413.3 411.5 1420.0 413.6 C1426.7 415.6 1433.3 417.9 1440.0 420.4 C1446.7 422.9 1453.3 425.6 1460.0 428.4 C1466.7 431.3 1473.3 434.3 1480.0 437.5 C1486.7 440.6 1493.3 443.9 1500.0 447.3 C1506.7 450.6 1513.3 454.1 1520.0 457.6 C1526.7 461.1 1533.3 464.7 1540.0 468.3 C1546.7 471.8 1553.3 475.4 1560.0 479.0 C1566.7 482.6 1573.3 486.1 1580.0 489.6 C1586.7 493.1 1593.3 496.6 1600.0 500.0 C1606.7 503.3 1613.3 506.6 1620.0 509.8 C1626.7 513.0 1633.3 516.2 1640.0 519.1 C1646.7 522.1 1653.3 525.0 1660.0 527.8 C1666.7 530.6 1673.3 533.2 1680.0 535.7 C1686.7 538.2 1693.3 540.6 1700.0 542.9 C1706.7 545.1 1713.3 547.2 1720.0 549.3 C1726.7 551.3 1733.3 553.1 1740.0 554.9 C1746.7 556.6 1753.3 558.3 1760.0 559.8 C1766.7 561.3 1773.3 562.7 1780.0 564.0 C1786.7 565.3 1793.3 566.5 1800.0 567.6 C1806.7 568.7 1813.3 569.6 1820.0 570.6 C1826.7 571.5 1833.3 572.3 1840.0 573.1 C1846.7 573.8 1853.3 574.5 1860.0 575.1 C1866.7 575.7 1873.3 576.3 1880.0 576.8 C1886.7 577.3 1893.3 577.7 1900.0 578.1 C1906.7 578.5 1913.3 578.9 1920.0 579.2 C1926.7 579.5 1933.3 579.8 1940.0 580.0 C1946.7 580.3 1953.3 580.5 1960.0 580.7 C1966.7 580.9 1973.3 581.0 1980.0 581.2 C1986.7 581.3 1993.3 581.4 2000.0 581.5 C2006.7 581.7 2013.3 581.8 2020.0 581.8 C2026.7 581.9 2036.7 582.0 2040.0 582.0"/><path d="M600.0 582.5 C603.3 582.5 613.3 582.5 620.0 582.5 C626.7 582.4 633.3 582.4 640.0 582.4 C646.7 582.4 653.3 582.3 660.0 582.3 C666.7 582.3 673.3 582.2 680.0 582.2 C686.7 582.1 693.3 582.1 700.0 582.0 C706.7 581.9 713.3 581.8 720.0 581.7 C726.7 581.6 733.3 581.5 740.0 581.4 C746.7 581.3 753.3 581.1 760.0 580.9 C766.7 580.8 773.3 580.6 780.0 580.3 C786.7 580.1 793.3 579.9 800.0 579.6 C806.7 579.3 813.3 578.9 820.0 578.6 C826.7 578.2 833.3 577.8 840.0 577.3 C846.7 576.8 853.3 576.3 860.0 575.7 C866.7 575.0 873.3 574.4 880.0 573.6 C886.7 572.9 893.3 572.1 900.0 571.2 C906.7 570.2 913.3 569.2 920.0 568.1 C926.7 567.0 933.3 565.8 940.0 564.5 C946.7 563.2 953.3 561.7 960.0 560.2 C966.7 558.6 973.3 556.9 980.0 555.1 C986.7 553.3 993.3 551.3 1000.0 549.2 C1006.7 547.1 1013.3 544.9 1020.0 542.5 C1026.7 540.1 1033.3 537.6 1040.0 534.9 C1046.7 532.2 1053.3 529.4 1060.0 526.5 C1066.7 523.5 1073.3 520.4 1080.0 517.2 C1086.7 513.9 1093.3 510.5 1100.0 507.1 C1106.7 503.6 1113.3 500.0 1120.0 496.3 C1126.7 492.6 1133.3 488.8 1140.0 485.0 C1146.7 481.1 1153.3 477.2 1160.0 473.2 C1166.7 469.3 1173.3 465.3 1180.0 461.4 C1186.7 457.4 1193.3 453.4 1200.0 449.5 C1206.7 445.7 1213.3 441.8 1220.0 438.0 C1226.7 434.3 1233.3 430.6 1240.0 427.2 C1246.7 423.7 1253.3 420.3 1260.0 417.2 C1266.7 414.0 1273.3 411.1 1280.0 408.4 C1286.7 405.7 1293.3 403.2 1300.0 401.0 C1306.7 398.8 1313.3 396.9 1320.0 395.3 C1326.7 393.7 1333.3 392.4 1340.0 391.4 C1346.7 390.5 1353.3 389.9 1360.0 389.6 C1366.7 389.3 1373.3 389.4 1380.0 389.8 C1386.7 390.2 1393.3 391.0 1400.0 392.1 C1406.7 393.2 1413.3 394.7 1420.0 396.4 C1426.7 398.2 1433.3 400.3 1440.0 402.6 C1446.7 405.0 1453.3 407.7 1460.0 410.5 C1466.7 413.4 1473.3 416.6 1480.0 419.9 C1486.7 423.2 1493.3 426.8 1500.0 430.5 C1506.7 434.1 1513.3 438.0 1520.0 441.9 C1526.7 445.8 1533.3 449.9 1540.0 454.0 C1546.7 458.0 1553.3 462.2 1560.0 466.3 C1566.7 470.4 1573.3 474.5 1580.0 478.6 C1586.7 482.7 1593.3 486.7 1600.0 490.7 C1606.7 494.6 1613.3 498.5 1620.0 502.2 C1626.7 506.0 1633.3 509.6 1640.0 513.1 C1646.7 516.6 1653.3 520.0 1660.0 523.2 C1666.7 526.4 1673.3 529.5 1680.0 532.4 C1686.7 535.3 1693.3 538.1 1700.0 540.7 C1706.7 543.2 1713.3 545.7 1720.0 547.9 C1726.7 550.2 1733.3 552.3 1740.0 554.3 C1746.7 556.2 1753.3 558.0 1760.0 559.7 C1766.7 561.4 1773.3 562.9 1780.0 564.3 C1786.7 565.7 1793.3 567.0 1800.0 568.1 C1806.7 569.3 1813.3 570.3 1820.0 571.3 C1826.7 572.2 1833.3 573.1 1840.0 573.8 C1846.7 574.6 1853.3 575.3 1860.0 575.9 C1866.7 576.5 1873.3 577.1 1880.0 577.5 C1886.7 578.0 1893.3 578.4 1900.0 578.8 C1906.7 579.2 1913.3 579.5 1920.0 579.8 C1926.7 580.1 1933.3 580.3 1940.0 580.5 C1946.7 580.8 1953.3 580.9 1960.0 581.1 C1966.7 581.3 1973.3 581.4 1980.0 581.5 C1986.7 581.7 1993.3 581.8 2000.0 581.8 C2006.7 581.9 2013.3 582.0 2020.0 582.1 C2026.7 582.1 2036.7 582.2 2040.0 582.2"/><path d="M600.0 582.5 C603.3 582.5 613.3 582.5 620.0 582.5 C626.7 582.5 633.3 582.5 640.0 582.4 C646.7 582.4 653.3 582.4 660.0 582.4 C666.7 582.3 673.3 582.3 680.0 582.2 C686.7 582.2 693.3 582.1 700.0 582.1 C706.7 582.0 713.3 581.9 720.0 581.8 C726.7 581.8 733.3 581.7 740.0 581.5 C746.7 581.4 753.3 581.3 760.0 581.1 C766.7 580.9 773.3 580.7 780.0 580.5 C786.7 580.3 793.3 580.0 800.0 579.7 C806.7 579.4 813.3 579.0 820.0 578.6 C826.7 578.2 833.3 577.8 840.0 577.2 C846.7 576.7 853.3 576.1 860.0 575.5 C866.7 574.8 873.3 574.0 880.0 573.2 C886.7 572.3 893.3 571.4 900.0 570.3 C906.7 569.3 913.3 568.1 920.0 566.8 C926.7 565.5 933.3 564.1 940.0 562.5 C946.7 560.9 953.3 559.2 960.0 557.3 C966.7 555.4 973.3 553.3 980.0 551.1 C986.7 548.8 993.3 546.4 1000.0 543.8 C1006.7 541.2 1013.3 538.5 1020.0 535.5 C1026.7 532.5 1033.3 529.3 1040.0 526.0 C1046.7 522.6 1053.3 519.1 1060.0 515.3 C1066.7 511.6 1073.3 507.7 1080.0 503.7 C1086.7 499.6 1093.3 495.3 1100.0 491.0 C1106.7 486.6 1113.3 482.1 1120.0 477.5 C1126.7 473.0 1133.3 468.2 1140.0 463.5 C1146.7 458.8 1153.3 454.0 1160.0 449.2 C1166.7 444.4 1173.3 439.6 1180.0 434.9 C1186.7 430.1 1193.3 425.4 1200.0 420.9 C1206.7 416.4 1213.3 411.9 1220.0 407.7 C1226.7 403.4 1233.3 399.3 1240.0 395.5 C1246.7 391.7 1253.3 388.1 1260.0 384.8 C1266.7 381.6 1273.3 378.6 1280.0 375.9 C1286.7 373.3 1293.3 371.0 1300.0 369.1 C1306.7 367.2 1313.3 365.7 1320.0 364.6 C1326.7 363.5 1333.3 362.7 1340.0 362.4 C1346.7 362.1 1353.3 362.3 1360.0 362.8 C1366.7 363.3 1373.3 364.3 1380.0 365.6 C1386.7 366.9 1393.3 368.7 1400.0 370.8 C1406.7 372.8 1413.3 375.3 1420.0 378.1 C1426.7 380.9 1433.3 384.0 1440.0 387.3 C1446.7 390.7 1453.3 394.4 1460.0 398.2 C1466.7 402.0 1473.3 406.2 1480.0 410.4 C1486.7 414.6 1493.3 419.0 1500.0 423.5 C1506.7 427.9 1513.3 432.6 1520.0 437.2 C1526.7 441.8 1533.3 446.5 1540.0 451.1 C1546.7 455.7 1553.3 460.4 1560.0 465.0 C1566.7 469.6 1573.3 474.1 1580.0 478.5 C1586.7 483.0 1593.3 487.3 1600.0 491.5 C1606.7 495.7 1613.3 499.8 1620.0 503.7 C1626.7 507.6 1633.3 511.4 1640.0 515.0 C1646.7 518.6 1653.3 522.0 1660.0 525.3 C1666.7 528.5 1673.3 531.6 1680.0 534.5 C1686.7 537.4 1693.3 540.2 1700.0 542.7 C1706.7 545.3 1713.3 547.6 1720.0 549.9 C1726.7 552.1 1733.3 554.1 1740.0 556.0 C1746.7 557.9 1753.3 559.6 1760.0 561.2 C1766.7 562.9 1773.3 564.3 1780.0 565.6 C1786.7 567.0 1793.3 568.2 1800.0 569.3 C1806.7 570.4 1813.3 571.3 1820.0 572.2 C1826.7 573.1 1833.3 573.9 1840.0 574.6 C1846.7 575.3 1853.3 576.0 1860.0 576.5 C1866.7 577.1 1873.3 577.6 1880.0 578.0 C1886.7 578.5 1893.3 578.9 1900.0 579.2 C1906.7 579.6 1913.3 579.8 1920.0 580.1 C1926.7 580.4 1933.3 580.6 1940.0 580.8 C1946.7 581.0 1953.3 581.1 1960.0 581.3 C1966.7 581.4 1973.3 581.6 1980.0 581.7 C1986.7 581.8 1993.3 581.9 2000.0 581.9 C2006.7 582.0 2013.3 582.1 2020.0 582.1 C2026.7 582.2 2036.7 582.3 2040.0 582.3"/><path d="M600.0 582.5 C603.3 582.5 613.3 582.5 620.0 582.5 C626.7 582.5 633.3 582.5 640.0 582.4 C646.7 582.4 653.3 582.4 660.0 582.4 C666.7 582.3 673.3 582.3 680.0 582.3 C686.7 582.2 693.3 582.2 700.0 582.1 C706.7 582.1 713.3 582.0 720.0 581.9 C726.7 581.8 733.3 581.7 740.0 581.6 C746.7 581.5 753.3 581.4 760.0 581.2 C766.7 581.1 773.3 580.9 780.0 580.7 C786.7 580.5 793.3 580.3 800.0 580.0 C806.7 579.7 813.3 579.4 820.0 579.1 C826.7 578.7 833.3 578.4 840.0 577.9 C846.7 577.5 853.3 577.0 860.0 576.4 C866.7 575.8 873.3 575.2 880.0 574.5 C886.7 573.7 893.3 572.9 900.0 572.0 C906.7 571.2 913.3 570.2 920.0 569.1 C926.7 568.0 933.3 566.8 940.0 565.5 C946.7 564.1 953.3 562.7 960.0 561.1 C966.7 559.5 973.3 557.8 980.0 556.0 C986.7 554.1 993.3 552.1 1000.0 549.9 C1006.7 547.8 1013.3 545.4 1020.0 543.0 C1026.7 540.5 1033.3 537.8 1040.0 535.0 C1046.7 532.2 1053.3 529.3 1060.0 526.1 C1066.7 523.0 1073.3 519.7 1080.0 516.3 C1086.7 512.9 1093.3 509.3 1100.0 505.6 C1106.7 501.9 1113.3 498.1 1120.0 494.1 C1126.7 490.2 1133.3 486.2 1140.0 482.1 C1146.7 478.0 1153.3 473.8 1160.0 469.6 C1166.7 465.4 1173.3 461.1 1180.0 456.9 C1186.7 452.7 1193.3 448.5 1200.0 444.4 C1206.7 440.3 1213.3 436.2 1220.0 432.3 C1226.7 428.3 1233.3 424.5 1240.0 420.8 C1246.7 417.2 1253.3 413.7 1260.0 410.4 C1266.7 407.2 1273.3 404.1 1280.0 401.4 C1286.7 398.7 1293.3 396.1 1300.0 394.0 C1306.7 391.8 1313.3 389.9 1320.0 388.4 C1326.7 386.9 1333.3 385.7 1340.0 384.9 C1346.7 384.1 1353.3 383.6 1360.0 383.6 C1366.7 383.5 1373.3 383.8 1380.0 384.5 C1386.7 385.1 1393.3 386.2 1400.0 387.6 C1406.7 388.9 1413.3 390.7 1420.0 392.7 C1426.7 394.8 1433.3 397.2 1440.0 399.9 C1446.7 402.6 1453.3 405.5 1460.0 408.7 C1466.7 411.9 1473.3 415.4 1480.0 419.0 C1486.7 422.7 1493.3 426.5 1500.0 430.5 C1506.7 434.4 1513.3 438.5 1520.0 442.7 C1526.7 446.9 1533.3 451.2 1540.0 455.4 C1546.7 459.7 1553.3 464.0 1560.0 468.3 C1566.7 472.6 1573.3 476.9 1580.0 481.1 C1586.7 485.2 1593.3 489.4 1600.0 493.4 C1606.7 497.4 1613.3 501.4 1620.0 505.2 C1626.7 508.9 1633.3 512.6 1640.0 516.1 C1646.7 519.6 1653.3 523.0 1660.0 526.2 C1666.7 529.4 1673.3 532.4 1680.0 535.3 C1686.7 538.1 1693.3 540.8 1700.0 543.3 C1706.7 545.9 1713.3 548.2 1720.0 550.4 C1726.7 552.6 1733.3 554.6 1740.0 556.5 C1746.7 558.4 1753.3 560.1 1760.0 561.7 C1766.7 563.3 1773.3 564.7 1780.0 566.0 C1786.7 567.4 1793.3 568.5 1800.0 569.6 C1806.7 570.7 1813.3 571.7 1820.0 572.5 C1826.7 573.4 1833.3 574.2 1840.0 574.9 C1846.7 575.6 1853.3 576.2 1860.0 576.8 C1866.7 577.3 1873.3 577.8 1880.0 578.2 C1886.7 578.7 1893.3 579.0 1900.0 579.4 C1906.7 579.7 1913.3 580.0 1920.0 580.2 C1926.7 580.5 1933.3 580.7 1940.0 580.9 C1946.7 581.1 1953.3 581.2 1960.0 581.4 C1966.7 581.5 1973.3 581.6 1980.0 581.7 C1986.7 581.8 1993.3 581.9 2000.0 582.0 C2006.7 582.1 2013.3 582.1 2020.0 582.2 C2026.7 582.2 2036.7 582.3 2040.0 582.3"/><path d="M600.0 582.4 C603.3 582.4 613.3 582.4 620.0 582.3 C626.7 582.3 633.3 582.3 640.0 582.2 C646.7 582.2 653.3 582.1 660.0 582.1 C666.7 582.0 673.3 582.0 680.0 581.9 C686.7 581.8 693.3 581.7 700.0 581.6 C706.7 581.5 713.3 581.3 720.0 581.2 C726.7 581.0 733.3 580.9 740.0 580.7 C746.7 580.5 753.3 580.3 760.0 580.0 C766.7 579.7 773.3 579.5 780.0 579.1 C786.7 578.8 793.3 578.4 800.0 578.0 C806.7 577.6 813.3 577.1 820.0 576.6 C826.7 576.0 833.3 575.4 840.0 574.8 C846.7 574.1 853.3 573.3 860.0 572.5 C866.7 571.7 873.3 570.8 880.0 569.8 C886.7 568.8 893.3 567.7 900.0 566.5 C906.7 565.2 913.3 563.9 920.0 562.5 C926.7 561.0 933.3 559.5 940.0 557.8 C946.7 556.1 953.3 554.3 960.0 552.4 C966.7 550.4 973.3 548.3 980.0 546.1 C986.7 543.9 993.3 541.5 1000.0 539.0 C1006.7 536.5 1013.3 533.9 1020.0 531.1 C1026.7 528.3 1033.3 525.4 1040.0 522.4 C1046.7 519.3 1053.3 516.2 1060.0 512.9 C1066.7 509.7 1073.3 506.3 1080.0 502.8 C1086.7 499.4 1093.3 495.8 1100.0 492.3 C1106.7 488.7 1113.3 485.0 1120.0 481.4 C1126.7 477.7 1133.3 474.0 1140.0 470.4 C1146.7 466.7 1153.3 463.0 1160.0 459.5 C1166.7 455.9 1173.3 452.3 1180.0 448.9 C1186.7 445.5 1193.3 442.2 1200.0 439.0 C1206.7 435.9 1213.3 432.9 1220.0 430.0 C1226.7 427.2 1233.3 424.6 1240.0 422.2 C1246.7 419.8 1253.3 417.5 1260.0 415.6 C1266.7 413.7 1273.3 412.0 1280.0 410.6 C1286.7 409.2 1293.3 408.1 1300.0 407.3 C1306.7 406.5 1313.3 405.9 1320.0 405.7 C1326.7 405.5 1333.3 405.6 1340.0 406.0 C1346.7 406.3 1353.3 407.0 1360.0 408.0 C1366.7 409.0 1373.3 410.2 1380.0 411.7 C1386.7 413.2 1393.3 415.0 1400.0 417.1 C1406.7 419.1 1413.3 421.3 1420.0 423.8 C1426.7 426.2 1433.3 428.9 1440.0 431.8 C1446.7 434.6 1453.3 437.6 1460.0 440.7 C1466.7 443.9 1473.3 447.1 1480.0 450.5 C1486.7 453.8 1493.3 457.3 1500.0 460.7 C1506.7 464.2 1513.3 467.7 1520.0 471.3 C1526.7 474.8 1533.3 478.3 1540.0 481.8 C1546.7 485.4 1553.3 488.9 1560.0 492.3 C1566.7 495.7 1573.3 499.1 1580.0 502.4 C1586.7 505.7 1593.3 509.0 1600.0 512.1 C1606.7 515.2 1613.3 518.3 1620.0 521.2 C1626.7 524.1 1633.3 526.9 1640.0 529.6 C1646.7 532.3 1653.3 534.9 1660.0 537.3 C1666.7 539.8 1673.3 542.1 1680.0 544.3 C1686.7 546.5 1693.3 548.5 1700.0 550.5 C1706.7 552.4 1713.3 554.2 1720.0 555.9 C1726.7 557.6 1733.3 559.2 1740.0 560.6 C1746.7 562.1 1753.3 563.4 1760.0 564.7 C1766.7 566.0 1773.3 567.1 1780.0 568.2 C1786.7 569.2 1793.3 570.2 1800.0 571.1 C1806.7 571.9 1813.3 572.7 1820.0 573.5 C1826.7 574.2 1833.3 574.8 1840.0 575.4 C1846.7 576.0 1853.3 576.6 1860.0 577.0 C1866.7 577.5 1873.3 577.9 1880.0 578.3 C1886.7 578.7 1893.3 579.0 1900.0 579.3 C1906.7 579.7 1913.3 579.9 1920.0 580.2 C1926.7 580.4 1933.3 580.6 1940.0 580.8 C1946.7 581.0 1953.3 581.1 1960.0 581.3 C1966.7 581.4 1973.3 581.5 1980.0 581.6 C1986.7 581.7 1993.3 581.8 2000.0 581.9 C2006.7 582.0 2013.3 582.0 2020.0 582.1 C2026.7 582.1 2036.7 582.2 2040.0 582.2"/><path d="M600.0 582.6 C603.3 582.6 613.3 582.5 620.0 582.5 C626.7 582.5 633.3 582.5 640.0 582.5 C646.7 582.5 653.3 582.5 660.0 582.5 C666.7 582.4 673.3 582.4 680.0 582.4 C686.7 582.3 693.3 582.3 700.0 582.3 C706.7 582.2 713.3 582.2 720.0 582.1 C726.7 582.0 733.3 582.0 740.0 581.9 C746.7 581.8 753.3 581.7 760.0 581.5 C766.7 581.4 773.3 581.3 780.0 581.1 C786.7 580.9 793.3 580.7 800.0 580.5 C806.7 580.2 813.3 580.0 820.0 579.6 C826.7 579.3 833.3 579.0 840.0 578.5 C846.7 578.1 853.3 577.6 860.0 577.1 C866.7 576.5 873.3 575.9 880.0 575.2 C886.7 574.5 893.3 573.7 900.0 572.8 C906.7 571.9 913.3 570.9 920.0 569.7 C926.7 568.6 933.3 567.4 940.0 566.0 C946.7 564.6 953.3 563.1 960.0 561.4 C966.7 559.7 973.3 557.8 980.0 555.8 C986.7 553.8 993.3 551.6 1000.0 549.2 C1006.7 546.9 1013.3 544.3 1020.0 541.6 C1026.7 538.8 1033.3 535.9 1040.0 532.8 C1046.7 529.7 1053.3 526.4 1060.0 522.9 C1066.7 519.4 1073.3 515.8 1080.0 512.0 C1086.7 508.2 1093.3 504.2 1100.0 500.1 C1106.7 496.0 1113.3 491.7 1120.0 487.4 C1126.7 483.1 1133.3 478.6 1140.0 474.2 C1146.7 469.7 1153.3 465.1 1160.0 460.7 C1166.7 456.2 1173.3 451.6 1180.0 447.2 C1186.7 442.8 1193.3 438.4 1200.0 434.2 C1206.7 430.0 1213.3 425.8 1220.0 422.0 C1226.7 418.1 1233.3 414.4 1240.0 410.9 C1246.7 407.5 1253.3 404.3 1260.0 401.5 C1266.7 398.6 1273.3 396.0 1280.0 393.8 C1286.7 391.6 1293.3 389.8 1300.0 388.3 C1306.7 386.9 1313.3 385.8 1320.0 385.1 C1326.7 384.5 1333.3 384.2 1340.0 384.3 C1346.7 384.5 1353.3 385.0 1360.0 386.0 C1366.7 386.9 1373.3 388.3 1380.0 390.0 C1386.7 391.7 1393.3 393.8 1400.0 396.1 C1406.7 398.5 1413.3 401.3 1420.0 404.3 C1426.7 407.2 1433.3 410.6 1440.0 414.0 C1446.7 417.5 1453.3 421.3 1460.0 425.2 C1466.7 429.0 1473.3 433.1 1480.0 437.3 C1486.7 441.4 1493.3 445.7 1500.0 450.0 C1506.7 454.3 1513.3 458.7 1520.0 463.0 C1526.7 467.4 1533.3 471.7 1540.0 476.0 C1546.7 480.3 1553.3 484.5 1560.0 488.6 C1566.7 492.8 1573.3 496.8 1580.0 500.7 C1586.7 504.6 1593.3 508.5 1600.0 512.1 C1606.7 515.7 1613.3 519.2 1620.0 522.6 C1626.7 525.9 1633.3 529.1 1640.0 532.0 C1646.7 535.0 1653.3 537.9 1660.0 540.5 C1666.7 543.2 1673.3 545.7 1680.0 548.0 C1686.7 550.3 1693.3 552.4 1700.0 554.4 C1706.7 556.4 1713.3 558.3 1720.0 560.0 C1726.7 561.7 1733.3 563.2 1740.0 564.6 C1746.7 566.0 1753.3 567.3 1760.0 568.5 C1766.7 569.6 1773.3 570.7 1780.0 571.6 C1786.7 572.6 1793.3 573.4 1800.0 574.2 C1806.7 574.9 1813.3 575.6 1820.0 576.2 C1826.7 576.8 1833.3 577.3 1840.0 577.8 C1846.7 578.3 1853.3 578.7 1860.0 579.1 C1866.7 579.4 1873.3 579.7 1880.0 580.0 C1886.7 580.3 1893.3 580.5 1900.0 580.7 C1906.7 580.9 1913.3 581.1 1920.0 581.3 C1926.7 581.4 1933.3 581.5 1940.0 581.7 C1946.7 581.8 1953.3 581.9 1960.0 581.9 C1966.7 582.0 1973.3 582.1 1980.0 582.1 C1986.7 582.2 1993.3 582.3 2000.0 582.3 C2006.7 582.3 2013.3 582.4 2020.0 582.4 C2026.7 582.4 2036.7 582.5 2040.0 582.5"/><path d="M600.0 582.5 C603.3 582.4 613.3 582.4 620.0 582.4 C626.7 582.4 633.3 582.3 640.0 582.3 C646.7 582.3 653.3 582.2 660.0 582.2 C666.7 582.1 673.3 582.1 680.0 582.0 C686.7 581.9 693.3 581.8 700.0 581.7 C706.7 581.6 713.3 581.5 720.0 581.4 C726.7 581.3 733.3 581.1 740.0 581.0 C746.7 580.8 753.3 580.6 760.0 580.4 C766.7 580.1 773.3 579.9 780.0 579.6 C786.7 579.3 793.3 579.0 800.0 578.6 C806.7 578.2 813.3 577.8 820.0 577.3 C826.7 576.8 833.3 576.3 840.0 575.7 C846.7 575.1 853.3 574.4 860.0 573.7 C866.7 572.9 873.3 572.1 880.0 571.2 C886.7 570.3 893.3 569.3 900.0 568.1 C906.7 567.0 913.3 565.8 920.0 564.4 C926.7 563.1 933.3 561.7 940.0 560.1 C946.7 558.5 953.3 556.8 960.0 554.9 C966.7 553.0 973.3 551.1 980.0 548.9 C986.7 546.8 993.3 544.5 1000.0 542.0 C1006.7 539.6 1013.3 537.0 1020.0 534.2 C1026.7 531.5 1033.3 528.6 1040.0 525.6 C1046.7 522.5 1053.3 519.3 1060.0 516.0 C1066.7 512.7 1073.3 509.2 1080.0 505.7 C1086.7 502.1 1093.3 498.4 1100.0 494.6 C1106.7 490.8 1113.3 486.9 1120.0 483.0 C1126.7 479.1 1133.3 475.0 1140.0 471.0 C1146.7 467.0 1153.3 462.9 1160.0 458.9 C1166.7 454.8 1173.3 450.8 1180.0 446.8 C1186.7 442.8 1193.3 438.9 1200.0 435.1 C1206.7 431.3 1213.3 427.6 1220.0 424.0 C1226.7 420.5 1233.3 417.0 1240.0 413.8 C1246.7 410.6 1253.3 407.6 1260.0 404.8 C1266.7 402.1 1273.3 399.5 1280.0 397.3 C1286.7 395.0 1293.3 393.0 1300.0 391.3 C1306.7 389.6 1313.3 388.2 1320.0 387.2 C1326.7 386.1 1333.3 385.3 1340.0 384.9 C1346.7 384.5 1353.3 384.4 1360.0 384.6 C1366.7 384.9 1373.3 385.5 1380.0 386.3 C1386.7 387.2 1393.3 388.5 1400.0 390.0 C1406.7 391.5 1413.3 393.3 1420.0 395.4 C1426.7 397.5 1433.3 399.8 1440.0 402.4 C1446.7 405.0 1453.3 407.9 1460.0 410.9 C1466.7 414.0 1473.3 417.2 1480.0 420.6 C1486.7 424.0 1493.3 427.6 1500.0 431.2 C1506.7 434.9 1513.3 438.7 1520.0 442.5 C1526.7 446.4 1533.3 450.3 1540.0 454.2 C1546.7 458.2 1553.3 462.1 1560.0 466.1 C1566.7 470.0 1573.3 474.0 1580.0 477.9 C1586.7 481.7 1593.3 485.6 1600.0 489.3 C1606.7 493.1 1613.3 496.8 1620.0 500.4 C1626.7 503.9 1633.3 507.4 1640.0 510.8 C1646.7 514.1 1653.3 517.4 1660.0 520.5 C1666.7 523.6 1673.3 526.6 1680.0 529.4 C1686.7 532.2 1693.3 534.9 1700.0 537.4 C1706.7 540.0 1713.3 542.4 1720.0 544.7 C1726.7 546.9 1733.3 549.0 1740.0 551.0 C1746.7 553.0 1753.3 554.8 1760.0 556.6 C1766.7 558.3 1773.3 559.9 1780.0 561.3 C1786.7 562.8 1793.3 564.2 1800.0 565.4 C1806.7 566.7 1813.3 567.8 1820.0 568.8 C1826.7 569.9 1833.3 570.8 1840.0 571.7 C1846.7 572.6 1853.3 573.3 1860.0 574.0 C1866.7 574.7 1873.3 575.4 1880.0 575.9 C1886.7 576.5 1893.3 577.0 1900.0 577.5 C1906.7 577.9 1913.3 578.3 1920.0 578.7 C1926.7 579.1 1933.3 579.4 1940.0 579.7 C1946.7 579.9 1953.3 580.2 1960.0 580.4 C1966.7 580.6 1973.3 580.8 1980.0 581.0 C1986.7 581.1 1993.3 581.3 2000.0 581.4 C2006.7 581.5 2013.3 581.6 2020.0 581.7 C2026.7 581.8 2036.7 581.9 2040.0 582.0"/><path d="M600.0 582.6 C603.3 582.6 613.3 582.5 620.0 582.5 C626.7 582.5 633.3 582.5 640.0 582.5 C646.7 582.5 653.3 582.5 660.0 582.4 C666.7 582.4 673.3 582.4 680.0 582.4 C686.7 582.3 693.3 582.3 700.0 582.2 C706.7 582.2 713.3 582.1 720.0 582.1 C726.7 582.0 733.3 581.9 740.0 581.8 C746.7 581.7 753.3 581.6 760.0 581.5 C766.7 581.3 773.3 581.2 780.0 581.0 C786.7 580.8 793.3 580.6 800.0 580.3 C806.7 580.1 813.3 579.8 820.0 579.5 C826.7 579.2 833.3 578.8 840.0 578.3 C846.7 577.9 853.3 577.4 860.0 576.9 C866.7 576.3 873.3 575.7 880.0 575.0 C886.7 574.2 893.3 573.4 900.0 572.5 C906.7 571.6 913.3 570.6 920.0 569.5 C926.7 568.4 933.3 567.2 940.0 565.8 C946.7 564.4 953.3 562.9 960.0 561.2 C966.7 559.6 973.3 557.8 980.0 555.8 C986.7 553.8 993.3 551.7 1000.0 549.4 C1006.7 547.0 1013.3 544.5 1020.0 541.8 C1026.7 539.1 1033.3 536.3 1040.0 533.2 C1046.7 530.1 1053.3 526.9 1060.0 523.4 C1066.7 520.0 1073.3 516.4 1080.0 512.6 C1086.7 508.8 1093.3 504.8 1100.0 500.7 C1106.7 496.5 1113.3 492.2 1120.0 487.8 C1126.7 483.4 1133.3 478.9 1140.0 474.3 C1146.7 469.6 1153.3 464.9 1160.0 460.2 C1166.7 455.4 1173.3 450.6 1180.0 445.9 C1186.7 441.1 1193.3 436.3 1200.0 431.7 C1206.7 427.0 1213.3 422.4 1220.0 418.0 C1226.7 413.6 1233.3 409.2 1240.0 405.2 C1246.7 401.1 1253.3 397.2 1260.0 393.7 C1266.7 390.1 1273.3 386.8 1280.0 383.8 C1286.7 380.9 1293.3 378.2 1300.0 376.0 C1306.7 373.8 1313.3 371.9 1320.0 370.5 C1326.7 369.1 1333.3 368.1 1340.0 367.6 C1346.7 367.0 1353.3 366.9 1360.0 367.3 C1366.7 367.6 1373.3 368.4 1380.0 369.7 C1386.7 370.9 1393.3 372.6 1400.0 374.7 C1406.7 376.8 1413.3 379.4 1420.0 382.2 C1426.7 385.1 1433.3 388.4 1440.0 391.9 C1446.7 395.5 1453.3 399.4 1460.0 403.5 C1466.7 407.6 1473.3 412.0 1480.0 416.5 C1486.7 421.0 1493.3 425.8 1500.0 430.6 C1506.7 435.3 1513.3 440.3 1520.0 445.2 C1526.7 450.2 1533.3 455.2 1540.0 460.1 C1546.7 465.0 1553.3 470.0 1560.0 474.8 C1566.7 479.6 1573.3 484.4 1580.0 489.0 C1586.7 493.6 1593.3 498.1 1600.0 502.3 C1606.7 506.6 1613.3 510.8 1620.0 514.7 C1626.7 518.6 1633.3 522.4 1640.0 525.9 C1646.7 529.4 1653.3 532.7 1660.0 535.9 C1666.7 539.0 1673.3 541.9 1680.0 544.6 C1686.7 547.3 1693.3 549.8 1700.0 552.1 C1706.7 554.4 1713.3 556.5 1720.0 558.4 C1726.7 560.3 1733.3 562.1 1740.0 563.7 C1746.7 565.2 1753.3 566.7 1760.0 568.0 C1766.7 569.3 1773.3 570.4 1780.0 571.4 C1786.7 572.5 1793.3 573.4 1800.0 574.2 C1806.7 575.0 1813.3 575.7 1820.0 576.3 C1826.7 577.0 1833.3 577.5 1840.0 578.0 C1846.7 578.5 1853.3 578.9 1860.0 579.3 C1866.7 579.6 1873.3 579.9 1880.0 580.2 C1886.7 580.5 1893.3 580.7 1900.0 580.9 C1906.7 581.1 1913.3 581.3 1920.0 581.4 C1926.7 581.6 1933.3 581.7 1940.0 581.8 C1946.7 581.9 1953.3 582.0 1960.0 582.0 C1966.7 582.1 1973.3 582.2 1980.0 582.2 C1986.7 582.3 1993.3 582.3 2000.0 582.4 C2006.7 582.4 2013.3 582.4 2020.0 582.4 C2026.7 582.5 2036.7 582.5 2040.0 582.5"/><path d="M600.0 582.1 C603.3 582.1 613.3 582.0 620.0 581.9 C626.7 581.8 633.3 581.8 640.0 581.7 C646.7 581.6 653.3 581.5 660.0 581.3 C666.7 581.2 673.3 581.1 680.0 580.9 C686.7 580.7 693.3 580.5 700.0 580.3 C706.7 580.1 713.3 579.9 720.0 579.6 C726.7 579.3 733.3 579.0 740.0 578.6 C746.7 578.3 753.3 577.9 760.0 577.5 C766.7 577.0 773.3 576.5 780.0 576.0 C786.7 575.4 793.3 574.9 800.0 574.2 C806.7 573.5 813.3 572.8 820.0 572.0 C826.7 571.1 833.3 570.3 840.0 569.3 C846.7 568.3 853.3 567.2 860.0 566.1 C866.7 564.9 873.3 563.7 880.0 562.3 C886.7 560.9 893.3 559.4 900.0 557.9 C906.7 556.3 913.3 554.6 920.0 552.7 C926.7 550.9 933.3 549.0 940.0 546.9 C946.7 544.8 953.3 542.6 960.0 540.3 C966.7 538.0 973.3 535.5 980.0 532.9 C986.7 530.3 993.3 527.6 1000.0 524.8 C1006.7 522.0 1013.3 519.0 1020.0 516.0 C1026.7 513.0 1033.3 509.8 1040.0 506.5 C1046.7 503.3 1053.3 499.9 1060.0 496.5 C1066.7 493.1 1073.3 489.6 1080.0 486.1 C1086.7 482.6 1093.3 479.0 1100.0 475.4 C1106.7 471.8 1113.3 468.2 1120.0 464.6 C1126.7 461.0 1133.3 457.4 1140.0 453.9 C1146.7 450.4 1153.3 446.9 1160.0 443.5 C1166.7 440.1 1173.3 436.8 1180.0 433.7 C1186.7 430.5 1193.3 427.4 1200.0 424.6 C1206.7 421.7 1213.3 419.0 1220.0 416.5 C1226.7 414.0 1233.3 411.6 1240.0 409.5 C1246.7 407.5 1253.3 405.6 1260.0 404.0 C1266.7 402.4 1273.3 401.0 1280.0 399.9 C1286.7 398.8 1293.3 398.0 1300.0 397.4 C1306.7 396.9 1313.3 396.6 1320.0 396.7 C1326.7 396.7 1333.3 397.0 1340.0 397.6 C1346.7 398.2 1353.3 399.0 1360.0 400.2 C1366.7 401.3 1373.3 402.7 1380.0 404.3 C1386.7 406.0 1393.3 407.9 1400.0 410.0 C1406.7 412.1 1413.3 414.5 1420.0 417.0 C1426.7 419.5 1433.3 422.3 1440.0 425.2 C1446.7 428.1 1453.3 431.1 1460.0 434.3 C1466.7 437.5 1473.3 440.8 1480.0 444.1 C1486.7 447.5 1493.3 451.0 1500.0 454.5 C1506.7 458.0 1513.3 461.6 1520.0 465.2 C1526.7 468.7 1533.3 472.4 1540.0 475.9 C1546.7 479.5 1553.3 483.1 1560.0 486.6 C1566.7 490.1 1573.3 493.6 1580.0 496.9 C1586.7 500.3 1593.3 503.6 1600.0 506.9 C1606.7 510.1 1613.3 513.2 1620.0 516.3 C1626.7 519.3 1633.3 522.2 1640.0 525.0 C1646.7 527.8 1653.3 530.5 1660.0 533.1 C1666.7 535.6 1673.3 538.1 1680.0 540.4 C1686.7 542.7 1693.3 544.9 1700.0 546.9 C1706.7 549.0 1713.3 550.9 1720.0 552.7 C1726.7 554.5 1733.3 556.2 1740.0 557.8 C1746.7 559.4 1753.3 560.9 1760.0 562.2 C1766.7 563.6 1773.3 564.8 1780.0 566.0 C1786.7 567.2 1793.3 568.2 1800.0 569.2 C1806.7 570.2 1813.3 571.1 1820.0 571.9 C1826.7 572.7 1833.3 573.4 1840.0 574.1 C1846.7 574.8 1853.3 575.4 1860.0 575.9 C1866.7 576.5 1873.3 577.0 1880.0 577.4 C1886.7 577.9 1893.3 578.2 1900.0 578.6 C1906.7 579.0 1913.3 579.3 1920.0 579.5 C1926.7 579.8 1933.3 580.1 1940.0 580.3 C1946.7 580.5 1953.3 580.7 1960.0 580.9 C1966.7 581.0 1973.3 581.2 1980.0 581.3 C1986.7 581.4 1993.3 581.5 2000.0 581.6 C2006.7 581.7 2013.3 581.8 2020.0 581.9 C2026.7 582.0 2036.7 582.1 2040.0 582.1"/><path d="M600.0 582.0 C603.3 581.9 613.3 581.8 620.0 581.8 C626.7 581.7 633.3 581.6 640.0 581.4 C646.7 581.3 653.3 581.2 660.0 581.0 C666.7 580.9 673.3 580.7 680.0 580.5 C686.7 580.3 693.3 580.1 700.0 579.8 C706.7 579.5 713.3 579.3 720.0 578.9 C726.7 578.6 733.3 578.2 740.0 577.8 C746.7 577.4 753.3 576.9 760.0 576.4 C766.7 575.9 773.3 575.3 780.0 574.7 C786.7 574.0 793.3 573.3 800.0 572.5 C806.7 571.7 813.3 570.9 820.0 569.9 C826.7 569.0 833.3 568.0 840.0 566.8 C846.7 565.7 853.3 564.5 860.0 563.1 C866.7 561.8 873.3 560.4 880.0 558.8 C886.7 557.3 893.3 555.6 900.0 553.8 C906.7 552.0 913.3 550.1 920.0 548.1 C926.7 546.0 933.3 543.9 940.0 541.6 C946.7 539.3 953.3 536.9 960.0 534.4 C966.7 531.8 973.3 529.1 980.0 526.4 C986.7 523.6 993.3 520.7 1000.0 517.7 C1006.7 514.7 1013.3 511.6 1020.0 508.4 C1026.7 505.2 1033.3 501.9 1040.0 498.5 C1046.7 495.2 1053.3 491.7 1060.0 488.2 C1066.7 484.8 1073.3 481.3 1080.0 477.7 C1086.7 474.2 1093.3 470.7 1100.0 467.2 C1106.7 463.7 1113.3 460.1 1120.0 456.7 C1126.7 453.3 1133.3 449.9 1140.0 446.6 C1146.7 443.3 1153.3 440.1 1160.0 437.1 C1166.7 434.0 1173.3 431.1 1180.0 428.3 C1186.7 425.6 1193.3 423.0 1200.0 420.6 C1206.7 418.2 1213.3 416.0 1220.0 414.1 C1226.7 412.2 1233.3 410.4 1240.0 409.0 C1246.7 407.5 1253.3 406.3 1260.0 405.3 C1266.7 404.4 1273.3 403.7 1280.0 403.3 C1286.7 402.9 1293.3 402.8 1300.0 403.0 C1306.7 403.1 1313.3 403.6 1320.0 404.3 C1326.7 405.0 1333.3 406.0 1340.0 407.2 C1346.7 408.4 1353.3 409.9 1360.0 411.7 C1366.7 413.4 1373.3 415.4 1380.0 417.6 C1386.7 419.7 1393.3 422.1 1400.0 424.7 C1406.7 427.3 1413.3 430.0 1420.0 432.9 C1426.7 435.8 1433.3 438.9 1440.0 442.0 C1446.7 445.1 1453.3 448.4 1460.0 451.7 C1466.7 455.1 1473.3 458.5 1480.0 461.9 C1486.7 465.3 1493.3 468.8 1500.0 472.3 C1506.7 475.8 1513.3 479.3 1520.0 482.7 C1526.7 486.2 1533.3 489.6 1540.0 493.0 C1546.7 496.3 1553.3 499.6 1560.0 502.9 C1566.7 506.1 1573.3 509.3 1580.0 512.3 C1586.7 515.4 1593.3 518.4 1600.0 521.2 C1606.7 524.1 1613.3 526.9 1620.0 529.5 C1626.7 532.1 1633.3 534.7 1640.0 537.1 C1646.7 539.5 1653.3 541.7 1660.0 543.9 C1666.7 546.0 1673.3 548.1 1680.0 550.0 C1686.7 551.9 1693.3 553.7 1700.0 555.4 C1706.7 557.1 1713.3 558.6 1720.0 560.1 C1726.7 561.6 1733.3 562.9 1740.0 564.2 C1746.7 565.4 1753.3 566.6 1760.0 567.6 C1766.7 568.7 1773.3 569.7 1780.0 570.6 C1786.7 571.4 1793.3 572.3 1800.0 573.0 C1806.7 573.7 1813.3 574.4 1820.0 575.0 C1826.7 575.6 1833.3 576.2 1840.0 576.7 C1846.7 577.2 1853.3 577.6 1860.0 578.0 C1866.7 578.4 1873.3 578.7 1880.0 579.1 C1886.7 579.4 1893.3 579.7 1900.0 579.9 C1906.7 580.2 1913.3 580.4 1920.0 580.6 C1926.7 580.8 1933.3 580.9 1940.0 581.1 C1946.7 581.2 1953.3 581.4 1960.0 581.5 C1966.7 581.6 1973.3 581.7 1980.0 581.8 C1986.7 581.9 1993.3 581.9 2000.0 582.0 C2006.7 582.1 2013.3 582.1 2020.0 582.2 C2026.7 582.2 2036.7 582.3 2040.0 582.3"/><path d="M600.0 582.4 C603.3 582.4 613.3 582.4 620.0 582.4 C626.7 582.3 633.3 582.3 640.0 582.3 C646.7 582.2 653.3 582.2 660.0 582.1 C666.7 582.1 673.3 582.0 680.0 581.9 C686.7 581.8 693.3 581.8 700.0 581.7 C706.7 581.5 713.3 581.4 720.0 581.3 C726.7 581.1 733.3 581.0 740.0 580.8 C746.7 580.6 753.3 580.4 760.0 580.1 C766.7 579.9 773.3 579.6 780.0 579.3 C786.7 578.9 793.3 578.6 800.0 578.1 C806.7 577.7 813.3 577.2 820.0 576.7 C826.7 576.2 833.3 575.6 840.0 574.9 C846.7 574.2 853.3 573.4 860.0 572.6 C866.7 571.7 873.3 570.8 880.0 569.8 C886.7 568.7 893.3 567.6 900.0 566.3 C906.7 565.1 913.3 563.7 920.0 562.2 C926.7 560.7 933.3 559.1 940.0 557.3 C946.7 555.5 953.3 553.6 960.0 551.5 C966.7 549.4 973.3 547.2 980.0 544.8 C986.7 542.4 993.3 539.9 1000.0 537.2 C1006.7 534.5 1013.3 531.6 1020.0 528.6 C1026.7 525.6 1033.3 522.4 1040.0 519.1 C1046.7 515.7 1053.3 512.2 1060.0 508.6 C1066.7 505.0 1073.3 501.3 1080.0 497.4 C1086.7 493.6 1093.3 489.6 1100.0 485.5 C1106.7 481.5 1113.3 477.3 1120.0 473.2 C1126.7 469.0 1133.3 464.8 1140.0 460.6 C1146.7 456.4 1153.3 452.1 1160.0 448.0 C1166.7 443.8 1173.3 439.7 1180.0 435.6 C1186.7 431.6 1193.3 427.7 1200.0 423.9 C1206.7 420.1 1213.3 416.5 1220.0 413.0 C1226.7 409.6 1233.3 406.3 1240.0 403.4 C1246.7 400.4 1253.3 397.6 1260.0 395.1 C1266.7 392.6 1273.3 390.4 1280.0 388.5 C1286.7 386.7 1293.3 385.1 1300.0 383.9 C1306.7 382.6 1313.3 381.7 1320.0 381.2 C1326.7 380.6 1333.3 380.4 1340.0 380.6 C1346.7 380.8 1353.3 381.3 1360.0 382.1 C1366.7 382.9 1373.3 384.1 1380.0 385.6 C1386.7 387.1 1393.3 389.0 1400.0 391.1 C1406.7 393.2 1413.3 395.7 1420.0 398.3 C1426.7 401.0 1433.3 403.9 1440.0 407.1 C1446.7 410.2 1453.3 413.6 1460.0 417.1 C1466.7 420.6 1473.3 424.3 1480.0 428.1 C1486.7 431.9 1493.3 435.8 1500.0 439.8 C1506.7 443.8 1513.3 447.9 1520.0 452.0 C1526.7 456.1 1533.3 460.2 1540.0 464.3 C1546.7 468.4 1553.3 472.5 1560.0 476.5 C1566.7 480.5 1573.3 484.5 1580.0 488.4 C1586.7 492.3 1593.3 496.1 1600.0 499.8 C1606.7 503.5 1613.3 507.1 1620.0 510.5 C1626.7 514.0 1633.3 517.3 1640.0 520.5 C1646.7 523.7 1653.3 526.7 1660.0 529.6 C1666.7 532.5 1673.3 535.2 1680.0 537.8 C1686.7 540.4 1693.3 542.9 1700.0 545.2 C1706.7 547.5 1713.3 549.6 1720.0 551.6 C1726.7 553.6 1733.3 555.5 1740.0 557.2 C1746.7 558.9 1753.3 560.5 1760.0 562.0 C1766.7 563.4 1773.3 564.8 1780.0 566.0 C1786.7 567.3 1793.3 568.4 1800.0 569.4 C1806.7 570.4 1813.3 571.4 1820.0 572.2 C1826.7 573.1 1833.3 573.8 1840.0 574.5 C1846.7 575.2 1853.3 575.8 1860.0 576.4 C1866.7 576.9 1873.3 577.4 1880.0 577.8 C1886.7 578.3 1893.3 578.6 1900.0 579.0 C1906.7 579.3 1913.3 579.6 1920.0 579.9 C1926.7 580.2 1933.3 580.4 1940.0 580.6 C1946.7 580.8 1953.3 581.0 1960.0 581.1 C1966.7 581.3 1973.3 581.4 1980.0 581.5 C1986.7 581.7 1993.3 581.8 2000.0 581.8 C2006.7 581.9 2013.3 582.0 2020.0 582.1 C2026.7 582.1 2036.7 582.2 2040.0 582.2"/><path d="M600.0 582.4 C603.3 582.3 613.3 582.3 620.0 582.2 C626.7 582.2 633.3 582.2 640.0 582.1 C646.7 582.1 653.3 582.0 660.0 581.9 C666.7 581.8 673.3 581.8 680.0 581.7 C686.7 581.6 693.3 581.5 700.0 581.3 C706.7 581.2 713.3 581.1 720.0 580.9 C726.7 580.7 733.3 580.5 740.0 580.3 C746.7 580.1 753.3 579.8 760.0 579.6 C766.7 579.3 773.3 579.0 780.0 578.6 C786.7 578.2 793.3 577.9 800.0 577.4 C806.7 576.9 813.3 576.5 820.0 575.9 C826.7 575.3 833.3 574.7 840.0 574.0 C846.7 573.4 853.3 572.6 860.0 571.8 C866.7 570.9 873.3 570.0 880.0 569.0 C886.7 568.0 893.3 567.0 900.0 565.8 C906.7 564.6 913.3 563.3 920.0 561.9 C926.7 560.5 933.3 559.0 940.0 557.3 C946.7 555.7 953.3 554.0 960.0 552.1 C966.7 550.2 973.3 548.2 980.0 546.1 C986.7 544.0 993.3 541.7 1000.0 539.3 C1006.7 536.9 1013.3 534.4 1020.0 531.8 C1026.7 529.1 1033.3 526.3 1040.0 523.4 C1046.7 520.5 1053.3 517.5 1060.0 514.4 C1066.7 511.3 1073.3 508.0 1080.0 504.7 C1086.7 501.3 1093.3 497.9 1100.0 494.4 C1106.7 490.9 1113.3 487.3 1120.0 483.7 C1126.7 480.1 1133.3 476.4 1140.0 472.7 C1146.7 469.0 1153.3 465.3 1160.0 461.6 C1166.7 457.9 1173.3 454.2 1180.0 450.6 C1186.7 447.0 1193.3 443.5 1200.0 440.0 C1206.7 436.6 1213.3 433.2 1220.0 429.9 C1226.7 426.7 1233.3 423.6 1240.0 420.7 C1246.7 417.8 1253.3 415.0 1260.0 412.4 C1266.7 409.9 1273.3 407.5 1280.0 405.4 C1286.7 403.3 1293.3 401.4 1300.0 399.8 C1306.7 398.1 1313.3 396.8 1320.0 395.7 C1326.7 394.6 1333.3 393.8 1340.0 393.3 C1346.7 392.8 1353.3 392.6 1360.0 392.6 C1366.7 392.7 1373.3 393.0 1380.0 393.7 C1386.7 394.3 1393.3 395.3 1400.0 396.5 C1406.7 397.7 1413.3 399.2 1420.0 400.9 C1426.7 402.6 1433.3 404.6 1440.0 406.9 C1446.7 409.1 1453.3 411.5 1460.0 414.2 C1466.7 416.8 1473.3 419.6 1480.0 422.6 C1486.7 425.6 1493.3 428.8 1500.0 432.1 C1506.7 435.3 1513.3 438.8 1520.0 442.2 C1526.7 445.7 1533.3 449.3 1540.0 452.9 C1546.7 456.5 1553.3 460.2 1560.0 463.9 C1566.7 467.5 1573.3 471.3 1580.0 474.9 C1586.7 478.6 1593.3 482.2 1600.0 485.8 C1606.7 489.4 1613.3 492.9 1620.0 496.4 C1626.7 499.8 1633.3 503.2 1640.0 506.5 C1646.7 509.8 1653.3 513.0 1660.0 516.0 C1666.7 519.1 1673.3 522.1 1680.0 524.9 C1686.7 527.8 1693.3 530.5 1700.0 533.1 C1706.7 535.7 1713.3 538.1 1720.0 540.5 C1726.7 542.8 1733.3 545.0 1740.0 547.1 C1746.7 549.2 1753.3 551.1 1760.0 552.9 C1766.7 554.7 1773.3 556.4 1780.0 558.0 C1786.7 559.6 1793.3 561.1 1800.0 562.4 C1806.7 563.8 1813.3 565.1 1820.0 566.2 C1826.7 567.4 1833.3 568.4 1840.0 569.4 C1846.7 570.4 1853.3 571.3 1860.0 572.1 C1866.7 572.9 1873.3 573.6 1880.0 574.3 C1886.7 574.9 1893.3 575.5 1900.0 576.1 C1906.7 576.6 1913.3 577.1 1920.0 577.5 C1926.7 578.0 1933.3 578.4 1940.0 578.7 C1946.7 579.1 1953.3 579.4 1960.0 579.6 C1966.7 579.9 1973.3 580.1 1980.0 580.4 C1986.7 580.6 1993.3 580.8 2000.0 580.9 C2006.7 581.1 2013.3 581.2 2020.0 581.4 C2026.7 581.5 2036.7 581.6 2040.0 581.7"/><path d="M600.0 582.3 C603.3 582.3 613.3 582.2 620.0 582.1 C626.7 582.1 633.3 582.0 640.0 582.0 C646.7 581.9 653.3 581.8 660.0 581.7 C666.7 581.6 673.3 581.5 680.0 581.4 C686.7 581.3 693.3 581.1 700.0 580.9 C706.7 580.8 713.3 580.6 720.0 580.4 C726.7 580.2 733.3 579.9 740.0 579.6 C746.7 579.4 753.3 579.0 760.0 578.7 C766.7 578.3 773.3 577.9 780.0 577.5 C786.7 577.0 793.3 576.5 800.0 576.0 C806.7 575.4 813.3 574.8 820.0 574.1 C826.7 573.4 833.3 572.7 840.0 571.8 C846.7 571.0 853.3 570.0 860.0 569.0 C866.7 568.0 873.3 566.9 880.0 565.7 C886.7 564.5 893.3 563.2 900.0 561.7 C906.7 560.3 913.3 558.8 920.0 557.1 C926.7 555.4 933.3 553.7 940.0 551.8 C946.7 549.8 953.3 547.8 960.0 545.6 C966.7 543.5 973.3 541.2 980.0 538.7 C986.7 536.3 993.3 533.7 1000.0 531.0 C1006.7 528.3 1013.3 525.5 1020.0 522.5 C1026.7 519.6 1033.3 516.5 1040.0 513.3 C1046.7 510.2 1053.3 506.9 1060.0 503.5 C1066.7 500.1 1073.3 496.6 1080.0 493.1 C1086.7 489.6 1093.3 486.0 1100.0 482.4 C1106.7 478.7 1113.3 475.0 1120.0 471.4 C1126.7 467.7 1133.3 464.0 1140.0 460.4 C1146.7 456.8 1153.3 453.1 1160.0 449.6 C1166.7 446.1 1173.3 442.6 1180.0 439.2 C1186.7 435.9 1193.3 432.6 1200.0 429.5 C1206.7 426.5 1213.3 423.5 1220.0 420.8 C1226.7 418.1 1233.3 415.5 1240.0 413.2 C1246.7 410.8 1253.3 408.7 1260.0 406.9 C1266.7 405.1 1273.3 403.4 1280.0 402.1 C1286.7 400.8 1293.3 399.8 1300.0 399.0 C1306.7 398.3 1313.3 397.8 1320.0 397.7 C1326.7 397.5 1333.3 397.7 1340.0 398.1 C1346.7 398.6 1353.3 399.3 1360.0 400.3 C1366.7 401.4 1373.3 402.7 1380.0 404.3 C1386.7 405.8 1393.3 407.7 1400.0 409.8 C1406.7 411.9 1413.3 414.2 1420.0 416.8 C1426.7 419.3 1433.3 422.1 1440.0 425.0 C1446.7 427.9 1453.3 431.0 1460.0 434.2 C1466.7 437.5 1473.3 440.9 1480.0 444.3 C1486.7 447.8 1493.3 451.4 1500.0 455.0 C1506.7 458.6 1513.3 462.2 1520.0 465.9 C1526.7 469.6 1533.3 473.3 1540.0 477.0 C1546.7 480.6 1553.3 484.3 1560.0 487.9 C1566.7 491.5 1573.3 495.0 1580.0 498.5 C1586.7 502.0 1593.3 505.4 1600.0 508.7 C1606.7 511.9 1613.3 515.2 1620.0 518.2 C1626.7 521.3 1633.3 524.3 1640.0 527.1 C1646.7 529.9 1653.3 532.6 1660.0 535.2 C1666.7 537.8 1673.3 540.2 1680.0 542.5 C1686.7 544.8 1693.3 547.0 1700.0 549.0 C1706.7 551.1 1713.3 553.0 1720.0 554.8 C1726.7 556.5 1733.3 558.2 1740.0 559.7 C1746.7 561.3 1753.3 562.7 1760.0 564.0 C1766.7 565.3 1773.3 566.5 1780.0 567.6 C1786.7 568.7 1793.3 569.7 1800.0 570.6 C1806.7 571.6 1813.3 572.4 1820.0 573.2 C1826.7 573.9 1833.3 574.6 1840.0 575.2 C1846.7 575.8 1853.3 576.4 1860.0 576.9 C1866.7 577.4 1873.3 577.8 1880.0 578.2 C1886.7 578.6 1893.3 578.9 1900.0 579.3 C1906.7 579.6 1913.3 579.8 1920.0 580.1 C1926.7 580.3 1933.3 580.5 1940.0 580.7 C1946.7 580.9 1953.3 581.1 1960.0 581.2 C1966.7 581.4 1973.3 581.5 1980.0 581.6 C1986.7 581.7 1993.3 581.8 2000.0 581.9 C2006.7 581.9 2013.3 582.0 2020.0 582.1 C2026.7 582.1 2036.7 582.2 2040.0 582.2"/><path d="M600.0 582.5 C603.3 582.5 613.3 582.5 620.0 582.5 C626.7 582.5 633.3 582.5 640.0 582.5 C646.7 582.5 653.3 582.4 660.0 582.4 C666.7 582.4 673.3 582.4 680.0 582.3 C686.7 582.3 693.3 582.3 700.0 582.2 C706.7 582.2 713.3 582.1 720.0 582.1 C726.7 582.0 733.3 581.9 740.0 581.8 C746.7 581.7 753.3 581.6 760.0 581.5 C766.7 581.4 773.3 581.2 780.0 581.1 C786.7 580.9 793.3 580.7 800.0 580.5 C806.7 580.3 813.3 580.0 820.0 579.7 C826.7 579.4 833.3 579.1 840.0 578.7 C846.7 578.3 853.3 577.9 860.0 577.4 C866.7 576.9 873.3 576.4 880.0 575.8 C886.7 575.2 893.3 574.5 900.0 573.7 C906.7 572.9 913.3 572.1 920.0 571.1 C926.7 570.2 933.3 569.1 940.0 567.9 C946.7 566.8 953.3 565.5 960.0 564.1 C966.7 562.7 973.3 561.2 980.0 559.5 C986.7 557.9 993.3 556.1 1000.0 554.1 C1006.7 552.2 1013.3 550.1 1020.0 547.9 C1026.7 545.6 1033.3 543.3 1040.0 540.7 C1046.7 538.2 1053.3 535.5 1060.0 532.7 C1066.7 529.8 1073.3 526.8 1080.0 523.7 C1086.7 520.6 1093.3 517.3 1100.0 514.0 C1106.7 510.6 1113.3 507.1 1120.0 503.5 C1126.7 499.9 1133.3 496.2 1140.0 492.5 C1146.7 488.7 1153.3 484.9 1160.0 481.0 C1166.7 477.2 1173.3 473.3 1180.0 469.5 C1186.7 465.6 1193.3 461.8 1200.0 458.0 C1206.7 454.2 1213.3 450.5 1220.0 446.9 C1226.7 443.3 1233.3 439.8 1240.0 436.5 C1246.7 433.2 1253.3 430.0 1260.0 427.0 C1266.7 424.1 1273.3 421.3 1280.0 418.9 C1286.7 416.4 1293.3 414.1 1300.0 412.2 C1306.7 410.2 1313.3 408.5 1320.0 407.2 C1326.7 405.8 1333.3 404.8 1340.0 404.1 C1346.7 403.3 1353.3 403.0 1360.0 402.9 C1366.7 402.9 1373.3 403.2 1380.0 403.8 C1386.7 404.4 1393.3 405.3 1400.0 406.6 C1406.7 407.9 1413.3 409.5 1420.0 411.3 C1426.7 413.2 1433.3 415.4 1440.0 417.7 C1446.7 420.1 1453.3 422.8 1460.0 425.7 C1466.7 428.6 1473.3 431.7 1480.0 434.9 C1486.7 438.1 1493.3 441.6 1500.0 445.1 C1506.7 448.6 1513.3 452.3 1520.0 456.0 C1526.7 459.7 1533.3 463.5 1540.0 467.3 C1546.7 471.1 1553.3 475.0 1560.0 478.8 C1566.7 482.6 1573.3 486.4 1580.0 490.1 C1586.7 493.9 1593.3 497.6 1600.0 501.1 C1606.7 504.7 1613.3 508.2 1620.0 511.6 C1626.7 515.0 1633.3 518.3 1640.0 521.4 C1646.7 524.6 1653.3 527.6 1660.0 530.5 C1666.7 533.3 1673.3 536.1 1680.0 538.7 C1686.7 541.2 1693.3 543.7 1700.0 546.0 C1706.7 548.3 1713.3 550.4 1720.0 552.4 C1726.7 554.4 1733.3 556.2 1740.0 558.0 C1746.7 559.7 1753.3 561.3 1760.0 562.7 C1766.7 564.2 1773.3 565.5 1780.0 566.8 C1786.7 568.0 1793.3 569.1 1800.0 570.1 C1806.7 571.1 1813.3 572.0 1820.0 572.8 C1826.7 573.7 1833.3 574.4 1840.0 575.1 C1846.7 575.7 1853.3 576.3 1860.0 576.9 C1866.7 577.4 1873.3 577.8 1880.0 578.3 C1886.7 578.7 1893.3 579.0 1900.0 579.4 C1906.7 579.7 1913.3 580.0 1920.0 580.2 C1926.7 580.5 1933.3 580.7 1940.0 580.9 C1946.7 581.0 1953.3 581.2 1960.0 581.3 C1966.7 581.5 1973.3 581.6 1980.0 581.7 C1986.7 581.8 1993.3 581.9 2000.0 582.0 C2006.7 582.0 2013.3 582.1 2020.0 582.2 C2026.7 582.2 2036.7 582.3 2040.0 582.3"/><path d="M600.0 582.2 C603.3 582.1 613.3 582.1 620.0 582.0 C626.7 581.9 633.3 581.9 640.0 581.8 C646.7 581.7 653.3 581.6 660.0 581.4 C666.7 581.3 673.3 581.2 680.0 581.0 C686.7 580.8 693.3 580.7 700.0 580.4 C706.7 580.2 713.3 580.0 720.0 579.7 C726.7 579.4 733.3 579.1 740.0 578.8 C746.7 578.4 753.3 578.0 760.0 577.5 C766.7 577.1 773.3 576.6 780.0 576.0 C786.7 575.4 793.3 574.8 800.0 574.1 C806.7 573.4 813.3 572.6 820.0 571.7 C826.7 570.9 833.3 569.9 840.0 568.9 C846.7 567.8 853.3 566.7 860.0 565.4 C866.7 564.1 873.3 562.8 880.0 561.3 C886.7 559.8 893.3 558.2 900.0 556.4 C906.7 554.7 913.3 552.8 920.0 550.8 C926.7 548.8 933.3 546.7 940.0 544.4 C946.7 542.1 953.3 539.7 960.0 537.1 C966.7 534.5 973.3 531.8 980.0 528.9 C986.7 526.1 993.3 523.1 1000.0 520.0 C1006.7 516.9 1013.3 513.6 1020.0 510.3 C1026.7 506.9 1033.3 503.5 1040.0 499.9 C1046.7 496.4 1053.3 492.7 1060.0 489.0 C1066.7 485.3 1073.3 481.5 1080.0 477.7 C1086.7 474.0 1093.3 470.1 1100.0 466.3 C1106.7 462.5 1113.3 458.6 1120.0 454.9 C1126.7 451.1 1133.3 447.4 1140.0 443.8 C1146.7 440.1 1153.3 436.6 1160.0 433.2 C1166.7 429.8 1173.3 426.5 1180.0 423.4 C1186.7 420.4 1193.3 417.4 1200.0 414.7 C1206.7 412.0 1213.3 409.5 1220.0 407.3 C1226.7 405.1 1233.3 403.1 1240.0 401.4 C1246.7 399.7 1253.3 398.3 1260.0 397.1 C1266.7 396.0 1273.3 395.2 1280.0 394.7 C1286.7 394.2 1293.3 394.0 1300.0 394.1 C1306.7 394.2 1313.3 394.6 1320.0 395.3 C1326.7 396.0 1333.3 397.1 1340.0 398.4 C1346.7 399.7 1353.3 401.3 1360.0 403.2 C1366.7 405.0 1373.3 407.2 1380.0 409.5 C1386.7 411.9 1393.3 414.5 1400.0 417.3 C1406.7 420.1 1413.3 423.1 1420.0 426.3 C1426.7 429.4 1433.3 432.8 1440.0 436.2 C1446.7 439.6 1453.3 443.2 1460.0 446.8 C1466.7 450.4 1473.3 454.2 1480.0 457.9 C1486.7 461.6 1493.3 465.4 1500.0 469.2 C1506.7 472.9 1513.3 476.7 1520.0 480.4 C1526.7 484.1 1533.3 487.8 1540.0 491.4 C1546.7 495.0 1553.3 498.6 1560.0 502.0 C1566.7 505.5 1573.3 508.8 1580.0 512.1 C1586.7 515.3 1593.3 518.5 1600.0 521.5 C1606.7 524.5 1613.3 527.4 1620.0 530.1 C1626.7 532.9 1633.3 535.5 1640.0 538.0 C1646.7 540.5 1653.3 542.8 1660.0 545.1 C1666.7 547.3 1673.3 549.3 1680.0 551.3 C1686.7 553.2 1693.3 555.1 1700.0 556.8 C1706.7 558.4 1713.3 560.0 1720.0 561.5 C1726.7 562.9 1733.3 564.2 1740.0 565.5 C1746.7 566.7 1753.3 567.8 1760.0 568.9 C1766.7 569.9 1773.3 570.8 1780.0 571.7 C1786.7 572.6 1793.3 573.3 1800.0 574.0 C1806.7 574.7 1813.3 575.4 1820.0 575.9 C1826.7 576.5 1833.3 577.0 1840.0 577.4 C1846.7 577.9 1853.3 578.3 1860.0 578.7 C1866.7 579.0 1873.3 579.3 1880.0 579.6 C1886.7 579.9 1893.3 580.2 1900.0 580.4 C1906.7 580.6 1913.3 580.8 1920.0 580.9 C1926.7 581.1 1933.3 581.3 1940.0 581.4 C1946.7 581.5 1953.3 581.6 1960.0 581.7 C1966.7 581.8 1973.3 581.9 1980.0 582.0 C1986.7 582.0 1993.3 582.1 2000.0 582.1 C2006.7 582.2 2013.3 582.2 2020.0 582.3 C2026.7 582.3 2036.7 582.4 2040.0 582.4"/><path d="M600.0 582.4 C603.3 582.4 613.3 582.3 620.0 582.3 C626.7 582.3 633.3 582.2 640.0 582.2 C646.7 582.1 653.3 582.1 660.0 582.0 C666.7 581.9 673.3 581.8 680.0 581.8 C686.7 581.7 693.3 581.6 700.0 581.4 C706.7 581.3 713.3 581.2 720.0 581.0 C726.7 580.9 733.3 580.7 740.0 580.5 C746.7 580.3 753.3 580.0 760.0 579.8 C766.7 579.5 773.3 579.2 780.0 578.8 C786.7 578.5 793.3 578.1 800.0 577.7 C806.7 577.3 813.3 576.8 820.0 576.2 C826.7 575.7 833.3 575.1 840.0 574.4 C846.7 573.8 853.3 573.1 860.0 572.2 C866.7 571.4 873.3 570.6 880.0 569.6 C886.7 568.6 893.3 567.5 900.0 566.4 C906.7 565.2 913.3 564.0 920.0 562.6 C926.7 561.2 933.3 559.7 940.0 558.1 C946.7 556.5 953.3 554.8 960.0 553.0 C966.7 551.1 973.3 549.2 980.0 547.1 C986.7 545.0 993.3 542.7 1000.0 540.4 C1006.7 538.0 1013.3 535.5 1020.0 532.9 C1026.7 530.3 1033.3 527.5 1040.0 524.7 C1046.7 521.8 1053.3 518.8 1060.0 515.7 C1066.7 512.5 1073.3 509.3 1080.0 506.0 C1086.7 502.7 1093.3 499.2 1100.0 495.7 C1106.7 492.3 1113.3 488.7 1120.0 485.0 C1126.7 481.4 1133.3 477.7 1140.0 474.1 C1146.7 470.4 1153.3 466.6 1160.0 463.0 C1166.7 459.3 1173.3 455.6 1180.0 452.0 C1186.7 448.4 1193.3 444.8 1200.0 441.3 C1206.7 437.9 1213.3 434.5 1220.0 431.2 C1226.7 428.0 1233.3 424.9 1240.0 422.0 C1246.7 419.1 1253.3 416.3 1260.0 413.8 C1266.7 411.3 1273.3 409.0 1280.0 407.0 C1286.7 404.9 1293.3 403.1 1300.0 401.6 C1306.7 400.1 1313.3 398.8 1320.0 397.9 C1326.7 396.9 1333.3 396.2 1340.0 395.9 C1346.7 395.6 1353.3 395.5 1360.0 395.8 C1366.7 396.1 1373.3 396.7 1380.0 397.6 C1386.7 398.5 1393.3 399.7 1400.0 401.1 C1406.7 402.6 1413.3 404.4 1420.0 406.4 C1426.7 408.5 1433.3 410.8 1440.0 413.3 C1446.7 415.8 1453.3 418.6 1460.0 421.5 C1466.7 424.5 1473.3 427.7 1480.0 430.9 C1486.7 434.2 1493.3 437.7 1500.0 441.3 C1506.7 444.8 1513.3 448.5 1520.0 452.2 C1526.7 455.9 1533.3 459.8 1540.0 463.6 C1546.7 467.4 1553.3 471.2 1560.0 475.0 C1566.7 478.8 1573.3 482.7 1580.0 486.4 C1586.7 490.1 1593.3 493.9 1600.0 497.5 C1606.7 501.1 1613.3 504.6 1620.0 508.0 C1626.7 511.4 1633.3 514.8 1640.0 517.9 C1646.7 521.1 1653.3 524.2 1660.0 527.1 C1666.7 530.0 1673.3 532.8 1680.0 535.5 C1686.7 538.1 1693.3 540.6 1700.0 543.0 C1706.7 545.4 1713.3 547.6 1720.0 549.7 C1726.7 551.7 1733.3 553.7 1740.0 555.5 C1746.7 557.3 1753.3 558.9 1760.0 560.5 C1766.7 562.0 1773.3 563.5 1780.0 564.8 C1786.7 566.1 1793.3 567.3 1800.0 568.4 C1806.7 569.5 1813.3 570.4 1820.0 571.3 C1826.7 572.2 1833.3 573.1 1840.0 573.8 C1846.7 574.5 1853.3 575.2 1860.0 575.8 C1866.7 576.4 1873.3 576.9 1880.0 577.4 C1886.7 577.8 1893.3 578.3 1900.0 578.6 C1906.7 579.0 1913.3 579.3 1920.0 579.6 C1926.7 579.9 1933.3 580.2 1940.0 580.4 C1946.7 580.6 1953.3 580.8 1960.0 581.0 C1966.7 581.1 1973.3 581.3 1980.0 581.4 C1986.7 581.5 1993.3 581.6 2000.0 581.7 C2006.7 581.8 2013.3 581.9 2020.0 582.0 C2026.7 582.1 2036.7 582.1 2040.0 582.2"/><path d="M600.0 582.3 C603.3 582.3 613.3 582.3 620.0 582.2 C626.7 582.2 633.3 582.1 640.0 582.1 C646.7 582.0 653.3 581.9 660.0 581.9 C666.7 581.8 673.3 581.7 680.0 581.6 C686.7 581.5 693.3 581.4 700.0 581.2 C706.7 581.1 713.3 580.9 720.0 580.8 C726.7 580.6 733.3 580.4 740.0 580.1 C746.7 579.9 753.3 579.6 760.0 579.3 C766.7 579.0 773.3 578.7 780.0 578.3 C786.7 577.9 793.3 577.5 800.0 577.1 C806.7 576.6 813.3 576.1 820.0 575.5 C826.7 574.9 833.3 574.2 840.0 573.5 C846.7 572.8 853.3 572.0 860.0 571.1 C866.7 570.3 873.3 569.3 880.0 568.3 C886.7 567.2 893.3 566.1 900.0 564.8 C906.7 563.6 913.3 562.3 920.0 560.8 C926.7 559.4 933.3 557.8 940.0 556.1 C946.7 554.4 953.3 552.6 960.0 550.7 C966.7 548.7 973.3 546.7 980.0 544.5 C986.7 542.3 993.3 539.9 1000.0 537.5 C1006.7 535.0 1013.3 532.4 1020.0 529.7 C1026.7 527.0 1033.3 524.1 1040.0 521.1 C1046.7 518.1 1053.3 515.0 1060.0 511.8 C1066.7 508.6 1073.3 505.2 1080.0 501.8 C1086.7 498.4 1093.3 494.8 1100.0 491.2 C1106.7 487.6 1113.3 483.9 1120.0 480.2 C1126.7 476.4 1133.3 472.6 1140.0 468.8 C1146.7 465.0 1153.3 461.2 1160.0 457.4 C1166.7 453.6 1173.3 449.8 1180.0 446.0 C1186.7 442.3 1193.3 438.6 1200.0 435.0 C1206.7 431.5 1213.3 428.0 1220.0 424.6 C1226.7 421.3 1233.3 418.1 1240.0 415.0 C1246.7 412.0 1253.3 409.2 1260.0 406.5 C1266.7 403.9 1273.3 401.5 1280.0 399.4 C1286.7 397.2 1293.3 395.3 1300.0 393.7 C1306.7 392.1 1313.3 390.7 1320.0 389.7 C1326.7 388.7 1333.3 387.9 1340.0 387.5 C1346.7 387.1 1353.3 387.0 1360.0 387.2 C1366.7 387.4 1373.3 388.0 1380.0 388.8 C1386.7 389.7 1393.3 390.9 1400.0 392.3 C1406.7 393.8 1413.3 395.6 1420.0 397.6 C1426.7 399.6 1433.3 402.0 1440.0 404.5 C1446.7 407.1 1453.3 409.9 1460.0 412.9 C1466.7 415.9 1473.3 419.1 1480.0 422.5 C1486.7 425.8 1493.3 429.4 1500.0 433.0 C1506.7 436.7 1513.3 440.5 1520.0 444.3 C1526.7 448.2 1533.3 452.1 1540.0 456.1 C1546.7 460.0 1553.3 464.0 1560.0 468.0 C1566.7 471.9 1573.3 475.9 1580.0 479.8 C1586.7 483.7 1593.3 487.6 1600.0 491.4 C1606.7 495.1 1613.3 498.8 1620.0 502.4 C1626.7 506.0 1633.3 509.5 1640.0 512.9 C1646.7 516.2 1653.3 519.5 1660.0 522.6 C1666.7 525.7 1673.3 528.6 1680.0 531.5 C1686.7 534.3 1693.3 536.9 1700.0 539.5 C1706.7 542.0 1713.3 544.4 1720.0 546.6 C1726.7 548.8 1733.3 550.9 1740.0 552.8 C1746.7 554.8 1753.3 556.6 1760.0 558.2 C1766.7 559.9 1773.3 561.4 1780.0 562.9 C1786.7 564.3 1793.3 565.6 1800.0 566.8 C1806.7 568.0 1813.3 569.0 1820.0 570.0 C1826.7 571.0 1833.3 571.9 1840.0 572.7 C1846.7 573.5 1853.3 574.3 1860.0 574.9 C1866.7 575.6 1873.3 576.1 1880.0 576.7 C1886.7 577.2 1893.3 577.7 1900.0 578.1 C1906.7 578.5 1913.3 578.9 1920.0 579.2 C1926.7 579.5 1933.3 579.8 1940.0 580.0 C1946.7 580.3 1953.3 580.5 1960.0 580.7 C1966.7 580.9 1973.3 581.1 1980.0 581.2 C1986.7 581.4 1993.3 581.5 2000.0 581.6 C2006.7 581.7 2013.3 581.8 2020.0 581.9 C2026.7 582.0 2036.7 582.0 2040.0 582.1"/><path d="M600.0 582.3 C603.3 582.3 613.3 582.3 620.0 582.2 C626.7 582.2 633.3 582.1 640.0 582.0 C646.7 582.0 653.3 581.9 660.0 581.8 C666.7 581.7 673.3 581.6 680.0 581.5 C686.7 581.4 693.3 581.3 700.0 581.1 C706.7 581.0 713.3 580.8 720.0 580.6 C726.7 580.4 733.3 580.2 740.0 579.9 C746.7 579.7 753.3 579.4 760.0 579.1 C766.7 578.7 773.3 578.4 780.0 577.9 C786.7 577.5 793.3 577.1 800.0 576.5 C806.7 576.0 813.3 575.4 820.0 574.8 C826.7 574.1 833.3 573.4 840.0 572.6 C846.7 571.8 853.3 570.9 860.0 569.9 C866.7 569.0 873.3 567.9 880.0 566.7 C886.7 565.6 893.3 564.3 900.0 562.9 C906.7 561.5 913.3 560.1 920.0 558.5 C926.7 556.8 933.3 555.1 940.0 553.3 C946.7 551.4 953.3 549.4 960.0 547.3 C966.7 545.2 973.3 543.0 980.0 540.6 C986.7 538.2 993.3 535.7 1000.0 533.1 C1006.7 530.5 1013.3 527.7 1020.0 524.8 C1026.7 522.0 1033.3 519.0 1040.0 515.9 C1046.7 512.8 1053.3 509.6 1060.0 506.4 C1066.7 503.1 1073.3 499.7 1080.0 496.4 C1086.7 493.0 1093.3 489.5 1100.0 486.0 C1106.7 482.5 1113.3 479.0 1120.0 475.5 C1126.7 472.1 1133.3 468.6 1140.0 465.1 C1146.7 461.7 1153.3 458.3 1160.0 455.0 C1166.7 451.7 1173.3 448.5 1180.0 445.4 C1186.7 442.4 1193.3 439.4 1200.0 436.6 C1206.7 433.8 1213.3 431.2 1220.0 428.8 C1226.7 426.4 1233.3 424.2 1240.0 422.2 C1246.7 420.2 1253.3 418.4 1260.0 417.0 C1266.7 415.5 1273.3 414.2 1280.0 413.3 C1286.7 412.3 1293.3 411.6 1300.0 411.2 C1306.7 410.8 1313.3 410.7 1320.0 410.8 C1326.7 411.0 1333.3 411.4 1340.0 412.2 C1346.7 412.9 1353.3 413.9 1360.0 415.1 C1366.7 416.4 1373.3 417.9 1380.0 419.6 C1386.7 421.4 1393.3 423.4 1400.0 425.6 C1406.7 427.7 1413.3 430.2 1420.0 432.7 C1426.7 435.3 1433.3 438.1 1440.0 441.0 C1446.7 443.8 1453.3 446.9 1460.0 450.0 C1466.7 453.1 1473.3 456.4 1480.0 459.6 C1486.7 462.9 1493.3 466.3 1500.0 469.7 C1506.7 473.0 1513.3 476.5 1520.0 479.9 C1526.7 483.2 1533.3 486.7 1540.0 490.0 C1546.7 493.4 1553.3 496.7 1560.0 499.9 C1566.7 503.2 1573.3 506.4 1580.0 509.5 C1586.7 512.6 1593.3 515.6 1600.0 518.6 C1606.7 521.5 1613.3 524.3 1620.0 527.0 C1626.7 529.7 1633.3 532.3 1640.0 534.8 C1646.7 537.3 1653.3 539.7 1660.0 541.9 C1666.7 544.1 1673.3 546.3 1680.0 548.3 C1686.7 550.3 1693.3 552.1 1700.0 553.9 C1706.7 555.7 1713.3 557.3 1720.0 558.8 C1726.7 560.4 1733.3 561.8 1740.0 563.1 C1746.7 564.4 1753.3 565.7 1760.0 566.8 C1766.7 567.9 1773.3 568.9 1780.0 569.9 C1786.7 570.8 1793.3 571.7 1800.0 572.5 C1806.7 573.2 1813.3 573.9 1820.0 574.6 C1826.7 575.2 1833.3 575.8 1840.0 576.3 C1846.7 576.9 1853.3 577.3 1860.0 577.8 C1866.7 578.2 1873.3 578.5 1880.0 578.9 C1886.7 579.2 1893.3 579.5 1900.0 579.8 C1906.7 580.0 1913.3 580.3 1920.0 580.5 C1926.7 580.7 1933.3 580.9 1940.0 581.0 C1946.7 581.2 1953.3 581.3 1960.0 581.4 C1966.7 581.6 1973.3 581.7 1980.0 581.7 C1986.7 581.8 1993.3 581.9 2000.0 582.0 C2006.7 582.1 2013.3 582.1 2020.0 582.2 C2026.7 582.2 2036.7 582.3 2040.0 582.3"/><path d="M600.0 582.1 C603.3 582.1 613.3 582.0 620.0 581.9 C626.7 581.9 633.3 581.8 640.0 581.7 C646.7 581.6 653.3 581.5 660.0 581.4 C666.7 581.2 673.3 581.1 680.0 580.9 C686.7 580.7 693.3 580.6 700.0 580.3 C706.7 580.1 713.3 579.9 720.0 579.6 C726.7 579.3 733.3 579.0 740.0 578.6 C746.7 578.3 753.3 577.9 760.0 577.4 C766.7 577.0 773.3 576.5 780.0 575.9 C786.7 575.4 793.3 574.8 800.0 574.1 C806.7 573.4 813.3 572.6 820.0 571.8 C826.7 571.0 833.3 570.1 840.0 569.0 C846.7 568.0 853.3 567.0 860.0 565.8 C866.7 564.6 873.3 563.3 880.0 561.9 C886.7 560.5 893.3 559.0 900.0 557.3 C906.7 555.7 913.3 554.0 920.0 552.1 C926.7 550.2 933.3 548.3 940.0 546.1 C946.7 544.0 953.3 541.8 960.0 539.4 C966.7 537.1 973.3 534.6 980.0 532.0 C986.7 529.4 993.3 526.6 1000.0 523.8 C1006.7 521.0 1013.3 518.0 1020.0 515.0 C1026.7 511.9 1033.3 508.8 1040.0 505.6 C1046.7 502.3 1053.3 499.0 1060.0 495.7 C1066.7 492.3 1073.3 488.9 1080.0 485.5 C1086.7 482.0 1093.3 478.5 1100.0 475.1 C1106.7 471.6 1113.3 468.1 1120.0 464.7 C1126.7 461.3 1133.3 457.9 1140.0 454.6 C1146.7 451.4 1153.3 448.1 1160.0 445.0 C1166.7 441.9 1173.3 438.9 1180.0 436.1 C1186.7 433.3 1193.3 430.5 1200.0 428.1 C1206.7 425.6 1213.3 423.2 1220.0 421.2 C1226.7 419.1 1233.3 417.2 1240.0 415.6 C1246.7 414.0 1253.3 412.6 1260.0 411.5 C1266.7 410.4 1273.3 409.5 1280.0 408.9 C1286.7 408.4 1293.3 408.1 1300.0 408.0 C1306.7 408.0 1313.3 408.3 1320.0 408.8 C1326.7 409.4 1333.3 410.2 1340.0 411.3 C1346.7 412.4 1353.3 413.7 1360.0 415.3 C1366.7 416.9 1373.3 418.8 1380.0 420.8 C1386.7 422.9 1393.3 425.2 1400.0 427.6 C1406.7 430.1 1413.3 432.8 1420.0 435.6 C1426.7 438.4 1433.3 441.4 1440.0 444.5 C1446.7 447.5 1453.3 450.8 1460.0 454.1 C1466.7 457.3 1473.3 460.7 1480.0 464.1 C1486.7 467.5 1493.3 471.0 1500.0 474.5 C1506.7 477.9 1513.3 481.4 1520.0 484.8 C1526.7 488.3 1533.3 491.7 1540.0 495.1 C1546.7 498.4 1553.3 501.7 1560.0 505.0 C1566.7 508.2 1573.3 511.4 1580.0 514.4 C1586.7 517.5 1593.3 520.4 1600.0 523.3 C1606.7 526.1 1613.3 528.9 1620.0 531.5 C1626.7 534.1 1633.3 536.6 1640.0 539.0 C1646.7 541.4 1653.3 543.6 1660.0 545.7 C1666.7 547.9 1673.3 549.9 1680.0 551.8 C1686.7 553.6 1693.3 555.4 1700.0 557.0 C1706.7 558.7 1713.3 560.2 1720.0 561.6 C1726.7 563.0 1733.3 564.3 1740.0 565.5 C1746.7 566.7 1753.3 567.8 1760.0 568.8 C1766.7 569.9 1773.3 570.8 1780.0 571.6 C1786.7 572.5 1793.3 573.2 1800.0 573.9 C1806.7 574.6 1813.3 575.3 1820.0 575.8 C1826.7 576.4 1833.3 576.9 1840.0 577.3 C1846.7 577.8 1853.3 578.2 1860.0 578.6 C1866.7 578.9 1873.3 579.2 1880.0 579.5 C1886.7 579.8 1893.3 580.1 1900.0 580.3 C1906.7 580.5 1913.3 580.7 1920.0 580.9 C1926.7 581.1 1933.3 581.2 1940.0 581.3 C1946.7 581.5 1953.3 581.6 1960.0 581.7 C1966.7 581.8 1973.3 581.9 1980.0 581.9 C1986.7 582.0 1993.3 582.1 2000.0 582.1 C2006.7 582.2 2013.3 582.2 2020.0 582.3 C2026.7 582.3 2036.7 582.3 2040.0 582.4"/><path d="M600.0 582.5 C603.3 582.5 613.3 582.4 620.0 582.4 C626.7 582.4 633.3 582.4 640.0 582.3 C646.7 582.3 653.3 582.3 660.0 582.2 C666.7 582.2 673.3 582.1 680.0 582.0 C686.7 582.0 693.3 581.9 700.0 581.8 C706.7 581.7 713.3 581.6 720.0 581.5 C726.7 581.4 733.3 581.2 740.0 581.1 C746.7 580.9 753.3 580.7 760.0 580.5 C766.7 580.3 773.3 580.0 780.0 579.7 C786.7 579.4 793.3 579.1 800.0 578.7 C806.7 578.3 813.3 577.9 820.0 577.4 C826.7 577.0 833.3 576.4 840.0 575.8 C846.7 575.2 853.3 574.5 860.0 573.8 C866.7 573.0 873.3 572.2 880.0 571.3 C886.7 570.3 893.3 569.3 900.0 568.2 C906.7 567.0 913.3 565.8 920.0 564.4 C926.7 563.0 933.3 561.6 940.0 559.9 C946.7 558.3 953.3 556.6 960.0 554.7 C966.7 552.8 973.3 550.7 980.0 548.5 C986.7 546.3 993.3 544.0 1000.0 541.5 C1006.7 539.0 1013.3 536.4 1020.0 533.6 C1026.7 530.8 1033.3 527.8 1040.0 524.7 C1046.7 521.6 1053.3 518.4 1060.0 515.0 C1066.7 511.7 1073.3 508.1 1080.0 504.5 C1086.7 500.9 1093.3 497.2 1100.0 493.4 C1106.7 489.6 1113.3 485.7 1120.0 481.7 C1126.7 477.8 1133.3 473.8 1140.0 469.8 C1146.7 465.8 1153.3 461.7 1160.0 457.8 C1166.7 453.8 1173.3 449.8 1180.0 446.0 C1186.7 442.1 1193.3 438.3 1200.0 434.7 C1206.7 431.0 1213.3 427.5 1220.0 424.2 C1226.7 420.8 1233.3 417.6 1240.0 414.7 C1246.7 411.8 1253.3 409.1 1260.0 406.6 C1266.7 404.2 1273.3 402.0 1280.0 400.2 C1286.7 398.3 1293.3 396.7 1300.0 395.5 C1306.7 394.2 1313.3 393.3 1320.0 392.7 C1326.7 392.2 1333.3 391.9 1340.0 392.1 C1346.7 392.2 1353.3 392.6 1360.0 393.4 C1366.7 394.2 1373.3 395.4 1380.0 396.9 C1386.7 398.3 1393.3 400.1 1400.0 402.2 C1406.7 404.3 1413.3 406.7 1420.0 409.3 C1426.7 411.9 1433.3 414.8 1440.0 417.9 C1446.7 421.0 1453.3 424.3 1460.0 427.8 C1466.7 431.2 1473.3 434.9 1480.0 438.7 C1486.7 442.4 1493.3 446.3 1500.0 450.2 C1506.7 454.2 1513.3 458.2 1520.0 462.2 C1526.7 466.2 1533.3 470.3 1540.0 474.3 C1546.7 478.3 1553.3 482.3 1560.0 486.2 C1566.7 490.1 1573.3 494.0 1580.0 497.8 C1586.7 501.5 1593.3 505.2 1600.0 508.8 C1606.7 512.3 1613.3 515.8 1620.0 519.0 C1626.7 522.3 1633.3 525.5 1640.0 528.5 C1646.7 531.5 1653.3 534.3 1660.0 537.0 C1666.7 539.7 1673.3 542.2 1680.0 544.6 C1686.7 547.0 1693.3 549.2 1700.0 551.3 C1706.7 553.4 1713.3 555.3 1720.0 557.1 C1726.7 558.9 1733.3 560.5 1740.0 562.0 C1746.7 563.6 1753.3 564.9 1760.0 566.2 C1766.7 567.5 1773.3 568.6 1780.0 569.7 C1786.7 570.7 1793.3 571.7 1800.0 572.5 C1806.7 573.4 1813.3 574.1 1820.0 574.8 C1826.7 575.5 1833.3 576.1 1840.0 576.7 C1846.7 577.2 1853.3 577.7 1860.0 578.1 C1866.7 578.5 1873.3 578.9 1880.0 579.3 C1886.7 579.6 1893.3 579.9 1900.0 580.1 C1906.7 580.4 1913.3 580.6 1920.0 580.8 C1926.7 581.0 1933.3 581.1 1940.0 581.3 C1946.7 581.4 1953.3 581.6 1960.0 581.7 C1966.7 581.8 1973.3 581.9 1980.0 581.9 C1986.7 582.0 1993.3 582.1 2000.0 582.1 C2006.7 582.2 2013.3 582.2 2020.0 582.3 C2026.7 582.3 2036.7 582.4 2040.0 582.4"/><path d="M600.0 582.5 C603.3 582.5 613.3 582.5 620.0 582.5 C626.7 582.5 633.3 582.5 640.0 582.5 C646.7 582.4 653.3 582.4 660.0 582.4 C666.7 582.4 673.3 582.3 680.0 582.3 C686.7 582.3 693.3 582.2 700.0 582.2 C706.7 582.1 713.3 582.1 720.0 582.0 C726.7 581.9 733.3 581.8 740.0 581.7 C746.7 581.6 753.3 581.5 760.0 581.4 C766.7 581.2 773.3 581.1 780.0 580.9 C786.7 580.7 793.3 580.5 800.0 580.3 C806.7 580.1 813.3 579.8 820.0 579.5 C826.7 579.2 833.3 578.8 840.0 578.4 C846.7 578.0 853.3 577.6 860.0 577.1 C866.7 576.6 873.3 576.0 880.0 575.4 C886.7 574.8 893.3 574.1 900.0 573.3 C906.7 572.5 913.3 571.6 920.0 570.7 C926.7 569.7 933.3 568.6 940.0 567.5 C946.7 566.3 953.3 565.0 960.0 563.6 C966.7 562.2 973.3 560.7 980.0 559.0 C986.7 557.4 993.3 555.6 1000.0 553.6 C1006.7 551.7 1013.3 549.6 1020.0 547.4 C1026.7 545.2 1033.3 542.8 1040.0 540.2 C1046.7 537.7 1053.3 535.0 1060.0 532.2 C1066.7 529.3 1073.3 526.3 1080.0 523.2 C1086.7 520.0 1093.3 516.7 1100.0 513.3 C1106.7 509.9 1113.3 506.3 1120.0 502.6 C1126.7 499.0 1133.3 495.1 1140.0 491.3 C1146.7 487.4 1153.3 483.4 1160.0 479.4 C1166.7 475.3 1173.3 471.2 1180.0 467.1 C1186.7 463.0 1193.3 458.8 1200.0 454.7 C1206.7 450.6 1213.3 446.5 1220.0 442.5 C1226.7 438.5 1233.3 434.5 1240.0 430.7 C1246.7 426.9 1253.3 423.2 1260.0 419.7 C1266.7 416.2 1273.3 412.8 1280.0 409.6 C1286.7 406.5 1293.3 403.6 1300.0 400.9 C1306.7 398.3 1313.3 395.9 1320.0 393.8 C1326.7 391.7 1333.3 389.9 1340.0 388.5 C1346.7 387.0 1353.3 385.9 1360.0 385.1 C1366.7 384.4 1373.3 383.9 1380.0 383.9 C1386.7 383.8 1393.3 384.1 1400.0 384.8 C1406.7 385.4 1413.3 386.5 1420.0 387.8 C1426.7 389.2 1433.3 390.9 1440.0 392.9 C1446.7 394.9 1453.3 397.2 1460.0 399.8 C1466.7 402.4 1473.3 405.3 1480.0 408.5 C1486.7 411.6 1493.3 415.0 1500.0 418.5 C1506.7 422.0 1513.3 425.8 1520.0 429.7 C1526.7 433.5 1533.3 437.6 1540.0 441.7 C1546.7 445.8 1553.3 450.0 1560.0 454.2 C1566.7 458.4 1573.3 462.6 1580.0 466.8 C1586.7 471.1 1593.3 475.3 1600.0 479.4 C1606.7 483.6 1613.3 487.7 1620.0 491.7 C1626.7 495.7 1633.3 499.6 1640.0 503.4 C1646.7 507.1 1653.3 510.8 1660.0 514.3 C1666.7 517.8 1673.3 521.2 1680.0 524.4 C1686.7 527.6 1693.3 530.7 1700.0 533.5 C1706.7 536.4 1713.3 539.2 1720.0 541.7 C1726.7 544.3 1733.3 546.7 1740.0 548.9 C1746.7 551.1 1753.3 553.2 1760.0 555.1 C1766.7 557.1 1773.3 558.8 1780.0 560.5 C1786.7 562.1 1793.3 563.6 1800.0 565.0 C1806.7 566.3 1813.3 567.6 1820.0 568.7 C1826.7 569.8 1833.3 570.8 1840.0 571.7 C1846.7 572.7 1853.3 573.5 1860.0 574.2 C1866.7 575.0 1873.3 575.6 1880.0 576.2 C1886.7 576.8 1893.3 577.3 1900.0 577.8 C1906.7 578.2 1913.3 578.6 1920.0 579.0 C1926.7 579.4 1933.3 579.7 1940.0 579.9 C1946.7 580.2 1953.3 580.5 1960.0 580.7 C1966.7 580.9 1973.3 581.0 1980.0 581.2 C1986.7 581.4 1993.3 581.5 2000.0 581.6 C2006.7 581.7 2013.3 581.8 2020.0 581.9 C2026.7 582.0 2036.7 582.1 2040.0 582.1"/><path d="M600.0 582.6 C603.3 582.6 613.3 582.5 620.0 582.5 C626.7 582.5 633.3 582.5 640.0 582.5 C646.7 582.5 653.3 582.5 660.0 582.4 C666.7 582.4 673.3 582.4 680.0 582.4 C686.7 582.3 693.3 582.3 700.0 582.2 C706.7 582.2 713.3 582.1 720.0 582.1 C726.7 582.0 733.3 581.9 740.0 581.8 C746.7 581.7 753.3 581.6 760.0 581.5 C766.7 581.4 773.3 581.2 780.0 581.0 C786.7 580.9 793.3 580.7 800.0 580.4 C806.7 580.2 813.3 579.9 820.0 579.6 C826.7 579.2 833.3 578.9 840.0 578.4 C846.7 578.0 853.3 577.5 860.0 577.0 C866.7 576.4 873.3 575.8 880.0 575.1 C886.7 574.3 893.3 573.5 900.0 572.6 C906.7 571.7 913.3 570.7 920.0 569.6 C926.7 568.5 933.3 567.3 940.0 565.9 C946.7 564.5 953.3 563.0 960.0 561.3 C966.7 559.6 973.3 557.8 980.0 555.8 C986.7 553.9 993.3 551.7 1000.0 549.4 C1006.7 547.0 1013.3 544.5 1020.0 541.8 C1026.7 539.1 1033.3 536.3 1040.0 533.2 C1046.7 530.1 1053.3 526.9 1060.0 523.4 C1066.7 520.0 1073.3 516.4 1080.0 512.6 C1086.7 508.8 1093.3 504.9 1100.0 500.8 C1106.7 496.7 1113.3 492.5 1120.0 488.1 C1126.7 483.8 1133.3 479.3 1140.0 474.8 C1146.7 470.3 1153.3 465.7 1160.0 461.1 C1166.7 456.5 1173.3 451.9 1180.0 447.3 C1186.7 442.7 1193.3 438.2 1200.0 433.8 C1206.7 429.3 1213.3 425.0 1220.0 420.8 C1226.7 416.7 1233.3 412.7 1240.0 408.9 C1246.7 405.2 1253.3 401.6 1260.0 398.4 C1266.7 395.2 1273.3 392.3 1280.0 389.7 C1286.7 387.2 1293.3 384.9 1300.0 383.1 C1306.7 381.3 1313.3 379.8 1320.0 378.8 C1326.7 377.8 1333.3 377.2 1340.0 377.0 C1346.7 376.8 1353.3 377.1 1360.0 377.8 C1366.7 378.5 1373.3 379.7 1380.0 381.2 C1386.7 382.7 1393.3 384.7 1400.0 387.1 C1406.7 389.4 1413.3 392.1 1420.0 395.2 C1426.7 398.2 1433.3 401.6 1440.0 405.2 C1446.7 408.9 1453.3 412.8 1460.0 416.9 C1466.7 421.0 1473.3 425.4 1480.0 429.8 C1486.7 434.3 1493.3 438.9 1500.0 443.6 C1506.7 448.2 1513.3 453.0 1520.0 457.7 C1526.7 462.4 1533.3 467.2 1540.0 471.9 C1546.7 476.5 1553.3 481.2 1560.0 485.7 C1566.7 490.2 1573.3 494.6 1580.0 498.9 C1586.7 503.2 1593.3 507.3 1600.0 511.2 C1606.7 515.2 1613.3 519.0 1620.0 522.6 C1626.7 526.1 1633.3 529.5 1640.0 532.7 C1646.7 535.9 1653.3 538.9 1660.0 541.7 C1666.7 544.5 1673.3 547.1 1680.0 549.5 C1686.7 551.9 1693.3 554.1 1700.0 556.2 C1706.7 558.2 1713.3 560.1 1720.0 561.8 C1726.7 563.5 1733.3 565.0 1740.0 566.4 C1746.7 567.8 1753.3 569.0 1760.0 570.2 C1766.7 571.3 1773.3 572.3 1780.0 573.2 C1786.7 574.1 1793.3 574.8 1800.0 575.5 C1806.7 576.2 1813.3 576.8 1820.0 577.4 C1826.7 577.9 1833.3 578.4 1840.0 578.8 C1846.7 579.2 1853.3 579.5 1860.0 579.9 C1866.7 580.2 1873.3 580.4 1880.0 580.6 C1886.7 580.9 1893.3 581.1 1900.0 581.2 C1906.7 581.4 1913.3 581.5 1920.0 581.6 C1926.7 581.8 1933.3 581.9 1940.0 581.9 C1946.7 582.0 1953.3 582.1 1960.0 582.2 C1966.7 582.2 1973.3 582.3 1980.0 582.3 C1986.7 582.3 1993.3 582.4 2000.0 582.4 C2006.7 582.4 2013.3 582.5 2020.0 582.5 C2026.7 582.5 2036.7 582.5 2040.0 582.5"/><path d="M600.0 582.5 C603.3 582.4 613.3 582.4 620.0 582.4 C626.7 582.4 633.3 582.3 640.0 582.3 C646.7 582.2 653.3 582.2 660.0 582.1 C666.7 582.1 673.3 582.0 680.0 581.9 C686.7 581.8 693.3 581.7 700.0 581.6 C706.7 581.5 713.3 581.4 720.0 581.2 C726.7 581.1 733.3 580.9 740.0 580.7 C746.7 580.5 753.3 580.2 760.0 580.0 C766.7 579.7 773.3 579.4 780.0 579.0 C786.7 578.6 793.3 578.2 800.0 577.8 C806.7 577.3 813.3 576.8 820.0 576.2 C826.7 575.5 833.3 574.9 840.0 574.1 C846.7 573.3 853.3 572.5 860.0 571.5 C866.7 570.6 873.3 569.5 880.0 568.4 C886.7 567.2 893.3 565.9 900.0 564.5 C906.7 563.0 913.3 561.5 920.0 559.8 C926.7 558.1 933.3 556.2 940.0 554.2 C946.7 552.2 953.3 550.0 960.0 547.7 C966.7 545.3 973.3 542.8 980.0 540.1 C986.7 537.4 993.3 534.5 1000.0 531.5 C1006.7 528.4 1013.3 525.2 1020.0 521.8 C1026.7 518.4 1033.3 514.8 1040.0 511.1 C1046.7 507.4 1053.3 503.5 1060.0 499.5 C1066.7 495.5 1073.3 491.3 1080.0 487.1 C1086.7 482.8 1093.3 478.4 1100.0 474.0 C1106.7 469.6 1113.3 465.0 1120.0 460.5 C1126.7 456.0 1133.3 451.4 1140.0 446.9 C1146.7 442.4 1153.3 437.9 1160.0 433.5 C1166.7 429.1 1173.3 424.8 1180.0 420.6 C1186.7 416.5 1193.3 412.4 1200.0 408.6 C1206.7 404.8 1213.3 401.2 1220.0 397.8 C1226.7 394.5 1233.3 391.4 1240.0 388.6 C1246.7 385.9 1253.3 383.4 1260.0 381.3 C1266.7 379.2 1273.3 377.4 1280.0 376.1 C1286.7 374.7 1293.3 373.7 1300.0 373.1 C1306.7 372.6 1313.3 372.4 1320.0 372.6 C1326.7 372.9 1333.3 373.5 1340.0 374.6 C1346.7 375.6 1353.3 377.1 1360.0 378.9 C1366.7 380.7 1373.3 383.0 1380.0 385.5 C1386.7 388.0 1393.3 390.9 1400.0 394.1 C1406.7 397.3 1413.3 400.8 1420.0 404.4 C1426.7 408.1 1433.3 412.1 1440.0 416.2 C1446.7 420.3 1453.3 424.6 1460.0 429.0 C1466.7 433.4 1473.3 438.0 1480.0 442.6 C1486.7 447.1 1493.3 451.8 1500.0 456.4 C1506.7 461.0 1513.3 465.7 1520.0 470.2 C1526.7 474.8 1533.3 479.3 1540.0 483.7 C1546.7 488.1 1553.3 492.5 1560.0 496.6 C1566.7 500.8 1573.3 504.9 1580.0 508.8 C1586.7 512.6 1593.3 516.4 1600.0 519.9 C1606.7 523.5 1613.3 526.8 1620.0 530.0 C1626.7 533.2 1633.3 536.2 1640.0 539.0 C1646.7 541.8 1653.3 544.5 1660.0 546.9 C1666.7 549.4 1673.3 551.6 1680.0 553.7 C1686.7 555.8 1693.3 557.7 1700.0 559.5 C1706.7 561.3 1713.3 562.9 1720.0 564.4 C1726.7 565.8 1733.3 567.1 1740.0 568.4 C1746.7 569.6 1753.3 570.6 1760.0 571.6 C1766.7 572.6 1773.3 573.4 1780.0 574.2 C1786.7 575.0 1793.3 575.7 1800.0 576.3 C1806.7 576.9 1813.3 577.4 1820.0 577.9 C1826.7 578.4 1833.3 578.8 1840.0 579.1 C1846.7 579.5 1853.3 579.8 1860.0 580.1 C1866.7 580.4 1873.3 580.6 1880.0 580.8 C1886.7 581.0 1893.3 581.2 1900.0 581.3 C1906.7 581.5 1913.3 581.6 1920.0 581.7 C1926.7 581.8 1933.3 581.9 1940.0 582.0 C1946.7 582.0 1953.3 582.1 1960.0 582.2 C1966.7 582.2 1973.3 582.3 1980.0 582.3 C1986.7 582.3 1993.3 582.4 2000.0 582.4 C2006.7 582.4 2013.3 582.5 2020.0 582.5 C2026.7 582.5 2036.7 582.5 2040.0 582.5"/><path d="M600.0 582.4 C603.3 582.4 613.3 582.3 620.0 582.3 C626.7 582.2 633.3 582.2 640.0 582.1 C646.7 582.1 653.3 582.0 660.0 581.9 C666.7 581.9 673.3 581.8 680.0 581.7 C686.7 581.6 693.3 581.5 700.0 581.3 C706.7 581.2 713.3 581.1 720.0 580.9 C726.7 580.7 733.3 580.5 740.0 580.3 C746.7 580.0 753.3 579.8 760.0 579.5 C766.7 579.2 773.3 578.8 780.0 578.5 C786.7 578.1 793.3 577.6 800.0 577.1 C806.7 576.6 813.3 576.1 820.0 575.5 C826.7 574.9 833.3 574.2 840.0 573.4 C846.7 572.7 853.3 571.8 860.0 570.9 C866.7 570.0 873.3 569.0 880.0 567.8 C886.7 566.7 893.3 565.5 900.0 564.1 C906.7 562.8 913.3 561.3 920.0 559.8 C926.7 558.2 933.3 556.5 940.0 554.6 C946.7 552.8 953.3 550.8 960.0 548.7 C966.7 546.5 973.3 544.3 980.0 541.9 C986.7 539.4 993.3 536.9 1000.0 534.2 C1006.7 531.5 1013.3 528.7 1020.0 525.7 C1026.7 522.7 1033.3 519.6 1040.0 516.4 C1046.7 513.1 1053.3 509.8 1060.0 506.3 C1066.7 502.9 1073.3 499.3 1080.0 495.7 C1086.7 492.0 1093.3 488.3 1100.0 484.5 C1106.7 480.7 1113.3 476.9 1120.0 473.1 C1126.7 469.2 1133.3 465.4 1140.0 461.5 C1146.7 457.7 1153.3 453.9 1160.0 450.2 C1166.7 446.5 1173.3 442.8 1180.0 439.3 C1186.7 435.7 1193.3 432.3 1200.0 429.0 C1206.7 425.7 1213.3 422.6 1220.0 419.7 C1226.7 416.8 1233.3 414.0 1240.0 411.6 C1246.7 409.1 1253.3 406.8 1260.0 404.9 C1266.7 402.9 1273.3 401.2 1280.0 399.8 C1286.7 398.4 1293.3 397.2 1300.0 396.4 C1306.7 395.6 1313.3 395.1 1320.0 394.9 C1326.7 394.7 1333.3 394.8 1340.0 395.2 C1346.7 395.6 1353.3 396.4 1360.0 397.4 C1366.7 398.4 1373.3 399.8 1380.0 401.4 C1386.7 403.0 1393.3 404.9 1400.0 407.0 C1406.7 409.1 1413.3 411.5 1420.0 414.1 C1426.7 416.7 1433.3 419.5 1440.0 422.5 C1446.7 425.4 1453.3 428.6 1460.0 431.9 C1466.7 435.2 1473.3 438.6 1480.0 442.1 C1486.7 445.6 1493.3 449.3 1500.0 452.9 C1506.7 456.6 1513.3 460.3 1520.0 464.0 C1526.7 467.7 1533.3 471.5 1540.0 475.2 C1546.7 478.9 1553.3 482.6 1560.0 486.2 C1566.7 489.9 1573.3 493.5 1580.0 497.0 C1586.7 500.5 1593.3 503.9 1600.0 507.2 C1606.7 510.5 1613.3 513.8 1620.0 516.9 C1626.7 520.0 1633.3 523.0 1640.0 525.8 C1646.7 528.7 1653.3 531.4 1660.0 534.0 C1666.7 536.6 1673.3 539.1 1680.0 541.4 C1686.7 543.7 1693.3 545.9 1700.0 548.0 C1706.7 550.1 1713.3 552.0 1720.0 553.8 C1726.7 555.6 1733.3 557.3 1740.0 558.9 C1746.7 560.5 1753.3 561.9 1760.0 563.3 C1766.7 564.6 1773.3 565.8 1780.0 567.0 C1786.7 568.1 1793.3 569.1 1800.0 570.1 C1806.7 571.0 1813.3 571.9 1820.0 572.7 C1826.7 573.5 1833.3 574.2 1840.0 574.8 C1846.7 575.5 1853.3 576.0 1860.0 576.5 C1866.7 577.1 1873.3 577.5 1880.0 577.9 C1886.7 578.4 1893.3 578.7 1900.0 579.0 C1906.7 579.4 1913.3 579.7 1920.0 579.9 C1926.7 580.2 1933.3 580.4 1940.0 580.6 C1946.7 580.8 1953.3 581.0 1960.0 581.1 C1966.7 581.3 1973.3 581.4 1980.0 581.5 C1986.7 581.6 1993.3 581.7 2000.0 581.8 C2006.7 581.9 2013.3 582.0 2020.0 582.0 C2026.7 582.1 2036.7 582.2 2040.0 582.2"/><path d="M600.0 582.5 C603.3 582.4 613.3 582.4 620.0 582.4 C626.7 582.4 633.3 582.3 640.0 582.3 C646.7 582.2 653.3 582.2 660.0 582.1 C666.7 582.1 673.3 582.0 680.0 581.9 C686.7 581.9 693.3 581.8 700.0 581.6 C706.7 581.5 713.3 581.4 720.0 581.2 C726.7 581.1 733.3 580.9 740.0 580.7 C746.7 580.5 753.3 580.2 760.0 579.9 C766.7 579.7 773.3 579.3 780.0 579.0 C786.7 578.6 793.3 578.2 800.0 577.7 C806.7 577.2 813.3 576.6 820.0 576.0 C826.7 575.4 833.3 574.7 840.0 573.9 C846.7 573.1 853.3 572.2 860.0 571.2 C866.7 570.2 873.3 569.1 880.0 567.8 C886.7 566.6 893.3 565.2 900.0 563.7 C906.7 562.2 913.3 560.5 920.0 558.7 C926.7 556.9 933.3 555.0 940.0 552.8 C946.7 550.7 953.3 548.4 960.0 545.9 C966.7 543.4 973.3 540.7 980.0 537.8 C986.7 535.0 993.3 531.9 1000.0 528.7 C1006.7 525.4 1013.3 522.0 1020.0 518.4 C1026.7 514.8 1033.3 511.1 1040.0 507.2 C1046.7 503.2 1053.3 499.1 1060.0 494.9 C1066.7 490.7 1073.3 486.4 1080.0 482.0 C1086.7 477.5 1093.3 473.0 1100.0 468.4 C1106.7 463.9 1113.3 459.2 1120.0 454.6 C1126.7 450.0 1133.3 445.3 1140.0 440.8 C1146.7 436.3 1153.3 431.7 1160.0 427.4 C1166.7 423.0 1173.3 418.7 1180.0 414.7 C1186.7 410.7 1193.3 406.7 1200.0 403.1 C1206.7 399.5 1213.3 396.1 1220.0 393.0 C1226.7 389.9 1233.3 387.1 1240.0 384.7 C1246.7 382.3 1253.3 380.1 1260.0 378.4 C1266.7 376.7 1273.3 375.4 1280.0 374.4 C1286.7 373.5 1293.3 372.9 1300.0 372.8 C1306.7 372.7 1313.3 373.0 1320.0 373.7 C1326.7 374.4 1333.3 375.5 1340.0 376.9 C1346.7 378.4 1353.3 380.3 1360.0 382.5 C1366.7 384.7 1373.3 387.3 1380.0 390.1 C1386.7 393.0 1393.3 396.2 1400.0 399.6 C1406.7 403.1 1413.3 406.8 1420.0 410.7 C1426.7 414.5 1433.3 418.7 1440.0 422.9 C1446.7 427.1 1453.3 431.5 1460.0 435.9 C1466.7 440.4 1473.3 444.9 1480.0 449.4 C1486.7 454.0 1493.3 458.6 1500.0 463.1 C1506.7 467.6 1513.3 472.1 1520.0 476.6 C1526.7 481.0 1533.3 485.4 1540.0 489.6 C1546.7 493.8 1553.3 498.0 1560.0 501.9 C1566.7 505.9 1573.3 509.8 1580.0 513.4 C1586.7 517.1 1593.3 520.6 1600.0 524.0 C1606.7 527.3 1613.3 530.5 1620.0 533.5 C1626.7 536.5 1633.3 539.3 1640.0 541.9 C1646.7 544.5 1653.3 547.0 1660.0 549.3 C1666.7 551.6 1673.3 553.7 1680.0 555.6 C1686.7 557.6 1693.3 559.4 1700.0 561.0 C1706.7 562.7 1713.3 564.1 1720.0 565.5 C1726.7 566.9 1733.3 568.1 1740.0 569.2 C1746.7 570.4 1753.3 571.4 1760.0 572.3 C1766.7 573.2 1773.3 574.0 1780.0 574.7 C1786.7 575.4 1793.3 576.1 1800.0 576.6 C1806.7 577.2 1813.3 577.7 1820.0 578.1 C1826.7 578.6 1833.3 579.0 1840.0 579.3 C1846.7 579.7 1853.3 579.9 1860.0 580.2 C1866.7 580.5 1873.3 580.7 1880.0 580.9 C1886.7 581.1 1893.3 581.2 1900.0 581.4 C1906.7 581.5 1913.3 581.6 1920.0 581.7 C1926.7 581.8 1933.3 581.9 1940.0 582.0 C1946.7 582.1 1953.3 582.1 1960.0 582.2 C1966.7 582.2 1973.3 582.3 1980.0 582.3 C1986.7 582.4 1993.3 582.4 2000.0 582.4 C2006.7 582.4 2013.3 582.5 2020.0 582.5 C2026.7 582.5 2036.7 582.5 2040.0 582.5"/><path d="M600.0 582.5 C603.3 582.5 613.3 582.5 620.0 582.5 C626.7 582.5 633.3 582.4 640.0 582.4 C646.7 582.4 653.3 582.3 660.0 582.3 C666.7 582.3 673.3 582.2 680.0 582.2 C686.7 582.1 693.3 582.1 700.0 582.0 C706.7 581.9 713.3 581.8 720.0 581.7 C726.7 581.6 733.3 581.5 740.0 581.3 C746.7 581.2 753.3 581.0 760.0 580.8 C766.7 580.6 773.3 580.4 780.0 580.1 C786.7 579.8 793.3 579.5 800.0 579.2 C806.7 578.8 813.3 578.4 820.0 578.0 C826.7 577.5 833.3 577.0 840.0 576.4 C846.7 575.8 853.3 575.1 860.0 574.4 C866.7 573.6 873.3 572.8 880.0 571.9 C886.7 570.9 893.3 569.9 900.0 568.7 C906.7 567.6 913.3 566.3 920.0 564.9 C926.7 563.5 933.3 561.9 940.0 560.2 C946.7 558.6 953.3 556.7 960.0 554.7 C966.7 552.7 973.3 550.6 980.0 548.3 C986.7 546.0 993.3 543.5 1000.0 540.8 C1006.7 538.2 1013.3 535.3 1020.0 532.4 C1026.7 529.4 1033.3 526.2 1040.0 522.9 C1046.7 519.6 1053.3 516.1 1060.0 512.5 C1066.7 508.9 1073.3 505.1 1080.0 501.2 C1086.7 497.4 1093.3 493.4 1100.0 489.3 C1106.7 485.3 1113.3 481.1 1120.0 476.9 C1126.7 472.7 1133.3 468.5 1140.0 464.3 C1146.7 460.1 1153.3 455.8 1160.0 451.7 C1166.7 447.5 1173.3 443.4 1180.0 439.5 C1186.7 435.5 1193.3 431.6 1200.0 428.0 C1206.7 424.3 1213.3 420.8 1220.0 417.5 C1226.7 414.3 1233.3 411.2 1240.0 408.5 C1246.7 405.8 1253.3 403.3 1260.0 401.1 C1266.7 399.0 1273.3 397.1 1280.0 395.7 C1286.7 394.2 1293.3 393.1 1300.0 392.3 C1306.7 391.6 1313.3 391.2 1320.0 391.2 C1326.7 391.2 1333.3 391.6 1340.0 392.4 C1346.7 393.1 1353.3 394.3 1360.0 395.8 C1366.7 397.2 1373.3 399.1 1380.0 401.3 C1386.7 403.4 1393.3 405.9 1400.0 408.7 C1406.7 411.4 1413.3 414.5 1420.0 417.7 C1426.7 421.0 1433.3 424.5 1440.0 428.1 C1446.7 431.8 1453.3 435.7 1460.0 439.6 C1466.7 443.6 1473.3 447.7 1480.0 451.8 C1486.7 455.9 1493.3 460.2 1500.0 464.4 C1506.7 468.5 1513.3 472.8 1520.0 477.0 C1526.7 481.1 1533.3 485.3 1540.0 489.3 C1546.7 493.4 1553.3 497.4 1560.0 501.2 C1566.7 505.1 1573.3 508.8 1580.0 512.4 C1586.7 516.0 1593.3 519.5 1600.0 522.8 C1606.7 526.1 1613.3 529.3 1620.0 532.2 C1626.7 535.2 1633.3 538.0 1640.0 540.7 C1646.7 543.3 1653.3 545.8 1660.0 548.1 C1666.7 550.4 1673.3 552.6 1680.0 554.6 C1686.7 556.6 1693.3 558.4 1700.0 560.1 C1706.7 561.8 1713.3 563.3 1720.0 564.7 C1726.7 566.2 1733.3 567.4 1740.0 568.6 C1746.7 569.8 1753.3 570.8 1760.0 571.7 C1766.7 572.7 1773.3 573.5 1780.0 574.3 C1786.7 575.0 1793.3 575.7 1800.0 576.3 C1806.7 576.9 1813.3 577.4 1820.0 577.9 C1826.7 578.4 1833.3 578.8 1840.0 579.1 C1846.7 579.5 1853.3 579.8 1860.0 580.1 C1866.7 580.3 1873.3 580.6 1880.0 580.8 C1886.7 581.0 1893.3 581.1 1900.0 581.3 C1906.7 581.4 1913.3 581.6 1920.0 581.7 C1926.7 581.8 1933.3 581.9 1940.0 582.0 C1946.7 582.0 1953.3 582.1 1960.0 582.2 C1966.7 582.2 1973.3 582.3 1980.0 582.3 C1986.7 582.3 1993.3 582.4 2000.0 582.4 C2006.7 582.4 2013.3 582.4 2020.0 582.5 C2026.7 582.5 2036.7 582.5 2040.0 582.5"/><path d="M600.0 582.4 C603.3 582.4 613.3 582.3 620.0 582.3 C626.7 582.2 633.3 582.2 640.0 582.1 C646.7 582.1 653.3 582.0 660.0 582.0 C666.7 581.9 673.3 581.8 680.0 581.7 C686.7 581.6 693.3 581.5 700.0 581.4 C706.7 581.2 713.3 581.1 720.0 580.9 C726.7 580.7 733.3 580.5 740.0 580.3 C746.7 580.1 753.3 579.8 760.0 579.5 C766.7 579.2 773.3 578.9 780.0 578.5 C786.7 578.1 793.3 577.7 800.0 577.2 C806.7 576.8 813.3 576.2 820.0 575.6 C826.7 575.0 833.3 574.4 840.0 573.6 C846.7 572.9 853.3 572.1 860.0 571.2 C866.7 570.3 873.3 569.3 880.0 568.2 C886.7 567.1 893.3 566.0 900.0 564.7 C906.7 563.4 913.3 562.0 920.0 560.5 C926.7 558.9 933.3 557.3 940.0 555.5 C946.7 553.8 953.3 551.9 960.0 549.9 C966.7 547.8 973.3 545.7 980.0 543.4 C986.7 541.1 993.3 538.7 1000.0 536.2 C1006.7 533.6 1013.3 530.9 1020.0 528.1 C1026.7 525.3 1033.3 522.4 1040.0 519.4 C1046.7 516.3 1053.3 513.2 1060.0 510.0 C1066.7 506.7 1073.3 503.4 1080.0 500.0 C1086.7 496.6 1093.3 493.1 1100.0 489.6 C1106.7 486.1 1113.3 482.6 1120.0 479.0 C1126.7 475.5 1133.3 471.9 1140.0 468.4 C1146.7 464.9 1153.3 461.4 1160.0 458.0 C1166.7 454.5 1173.3 451.2 1180.0 448.0 C1186.7 444.8 1193.3 441.6 1200.0 438.7 C1206.7 435.7 1213.3 432.9 1220.0 430.3 C1226.7 427.7 1233.3 425.3 1240.0 423.1 C1246.7 421.0 1253.3 419.0 1260.0 417.3 C1266.7 415.6 1273.3 414.2 1280.0 413.1 C1286.7 411.9 1293.3 411.1 1300.0 410.5 C1306.7 410.0 1313.3 409.7 1320.0 409.7 C1326.7 409.8 1333.3 410.1 1340.0 410.7 C1346.7 411.4 1353.3 412.3 1360.0 413.5 C1366.7 414.7 1373.3 416.2 1380.0 418.0 C1386.7 419.7 1393.3 421.7 1400.0 424.0 C1406.7 426.2 1413.3 428.7 1420.0 431.4 C1426.7 434.0 1433.3 436.9 1440.0 439.9 C1446.7 442.9 1453.3 446.1 1460.0 449.4 C1466.7 452.6 1473.3 456.1 1480.0 459.5 C1486.7 463.0 1493.3 466.5 1500.0 470.1 C1506.7 473.6 1513.3 477.2 1520.0 480.8 C1526.7 484.4 1533.3 488.0 1540.0 491.5 C1546.7 495.0 1553.3 498.5 1560.0 501.9 C1566.7 505.3 1573.3 508.6 1580.0 511.8 C1586.7 515.1 1593.3 518.2 1600.0 521.2 C1606.7 524.2 1613.3 527.2 1620.0 529.9 C1626.7 532.7 1633.3 535.4 1640.0 537.9 C1646.7 540.4 1653.3 542.8 1660.0 545.0 C1666.7 547.3 1673.3 549.4 1680.0 551.3 C1686.7 553.3 1693.3 555.2 1700.0 556.9 C1706.7 558.6 1713.3 560.2 1720.0 561.7 C1726.7 563.1 1733.3 564.5 1740.0 565.7 C1746.7 567.0 1753.3 568.1 1760.0 569.1 C1766.7 570.2 1773.3 571.1 1780.0 572.0 C1786.7 572.8 1793.3 573.6 1800.0 574.3 C1806.7 575.0 1813.3 575.6 1820.0 576.2 C1826.7 576.8 1833.3 577.3 1840.0 577.7 C1846.7 578.2 1853.3 578.5 1860.0 578.9 C1866.7 579.3 1873.3 579.6 1880.0 579.8 C1886.7 580.1 1893.3 580.3 1900.0 580.5 C1906.7 580.8 1913.3 580.9 1920.0 581.1 C1926.7 581.3 1933.3 581.4 1940.0 581.5 C1946.7 581.6 1953.3 581.7 1960.0 581.8 C1966.7 581.9 1973.3 582.0 1980.0 582.0 C1986.7 582.1 1993.3 582.2 2000.0 582.2 C2006.7 582.3 2013.3 582.3 2020.0 582.3 C2026.7 582.4 2036.7 582.4 2040.0 582.4"/><path d="M600.0 582.6 C603.3 582.6 613.3 582.6 620.0 582.6 C626.7 582.5 633.3 582.5 640.0 582.5 C646.7 582.5 653.3 582.5 660.0 582.5 C666.7 582.5 673.3 582.5 680.0 582.4 C686.7 582.4 693.3 582.4 700.0 582.3 C706.7 582.3 713.3 582.2 720.0 582.2 C726.7 582.1 733.3 582.1 740.0 582.0 C746.7 581.9 753.3 581.8 760.0 581.7 C766.7 581.5 773.3 581.4 780.0 581.2 C786.7 581.1 793.3 580.9 800.0 580.6 C806.7 580.4 813.3 580.1 820.0 579.8 C826.7 579.4 833.3 579.1 840.0 578.6 C846.7 578.2 853.3 577.7 860.0 577.1 C866.7 576.5 873.3 575.8 880.0 575.1 C886.7 574.3 893.3 573.4 900.0 572.4 C906.7 571.4 913.3 570.3 920.0 569.1 C926.7 567.8 933.3 566.4 940.0 564.8 C946.7 563.3 953.3 561.5 960.0 559.6 C966.7 557.7 973.3 555.6 980.0 553.2 C986.7 550.9 993.3 548.4 1000.0 545.6 C1006.7 542.8 1013.3 539.8 1020.0 536.6 C1026.7 533.4 1033.3 530.0 1040.0 526.3 C1046.7 522.6 1053.3 518.7 1060.0 514.5 C1066.7 510.4 1073.3 506.0 1080.0 501.5 C1086.7 497.0 1093.3 492.2 1100.0 487.3 C1106.7 482.4 1113.3 477.3 1120.0 472.1 C1126.7 467.0 1133.3 461.6 1140.0 456.3 C1146.7 451.0 1153.3 445.6 1160.0 440.3 C1166.7 434.9 1173.3 429.5 1180.0 424.3 C1186.7 419.2 1193.3 414.0 1200.0 409.1 C1206.7 404.2 1213.3 399.4 1220.0 395.0 C1226.7 390.5 1233.3 386.3 1240.0 382.5 C1246.7 378.7 1253.3 375.1 1260.0 372.1 C1266.7 369.0 1273.3 366.3 1280.0 364.2 C1286.7 362.0 1293.3 360.3 1300.0 359.1 C1306.7 357.9 1313.3 357.2 1320.0 357.0 C1326.7 356.8 1333.3 357.2 1340.0 358.0 C1346.7 358.9 1353.3 360.3 1360.0 362.1 C1366.7 363.9 1373.3 366.3 1380.0 369.0 C1386.7 371.8 1393.3 375.0 1400.0 378.5 C1406.7 382.1 1413.3 386.1 1420.0 390.3 C1426.7 394.5 1433.3 399.1 1440.0 403.8 C1446.7 408.5 1453.3 413.6 1460.0 418.6 C1466.7 423.7 1473.3 429.0 1480.0 434.3 C1486.7 439.5 1493.3 444.9 1500.0 450.2 C1506.7 455.5 1513.3 460.9 1520.0 466.1 C1526.7 471.3 1533.3 476.4 1540.0 481.4 C1546.7 486.4 1553.3 491.2 1560.0 495.9 C1566.7 500.5 1573.3 505.0 1580.0 509.3 C1586.7 513.6 1593.3 517.7 1600.0 521.5 C1606.7 525.3 1613.3 529.0 1620.0 532.3 C1626.7 535.7 1633.3 538.9 1640.0 541.8 C1646.7 544.8 1653.3 547.5 1660.0 550.0 C1666.7 552.5 1673.3 554.7 1680.0 556.8 C1686.7 558.9 1693.3 560.8 1700.0 562.5 C1706.7 564.2 1713.3 565.8 1720.0 567.2 C1726.7 568.6 1733.3 569.8 1740.0 570.9 C1746.7 572.0 1753.3 573.0 1760.0 573.9 C1766.7 574.7 1773.3 575.5 1780.0 576.2 C1786.7 576.8 1793.3 577.4 1800.0 577.9 C1806.7 578.4 1813.3 578.9 1820.0 579.2 C1826.7 579.6 1833.3 579.9 1840.0 580.2 C1846.7 580.5 1853.3 580.7 1860.0 580.9 C1866.7 581.1 1873.3 581.3 1880.0 581.5 C1886.7 581.6 1893.3 581.7 1900.0 581.8 C1906.7 581.9 1913.3 582.0 1920.0 582.1 C1926.7 582.2 1933.3 582.2 1940.0 582.3 C1946.7 582.3 1953.3 582.3 1960.0 582.4 C1966.7 582.4 1973.3 582.4 1980.0 582.5 C1986.7 582.5 1993.3 582.5 2000.0 582.5 C2006.7 582.5 2013.3 582.5 2020.0 582.5 C2026.7 582.6 2036.7 582.6 2040.0 582.6"/><path d="M600.0 582.5 C603.3 582.5 613.3 582.5 620.0 582.5 C626.7 582.5 633.3 582.4 640.0 582.4 C646.7 582.4 653.3 582.4 660.0 582.3 C666.7 582.3 673.3 582.3 680.0 582.2 C686.7 582.2 693.3 582.1 700.0 582.0 C706.7 582.0 713.3 581.9 720.0 581.8 C726.7 581.7 733.3 581.6 740.0 581.5 C746.7 581.3 753.3 581.2 760.0 581.0 C766.7 580.9 773.3 580.7 780.0 580.4 C786.7 580.2 793.3 579.9 800.0 579.6 C806.7 579.3 813.3 579.0 820.0 578.6 C826.7 578.2 833.3 577.7 840.0 577.2 C846.7 576.7 853.3 576.1 860.0 575.5 C866.7 574.8 873.3 574.1 880.0 573.3 C886.7 572.4 893.3 571.5 900.0 570.5 C906.7 569.5 913.3 568.4 920.0 567.1 C926.7 565.9 933.3 564.5 940.0 563.1 C946.7 561.6 953.3 559.9 960.0 558.2 C966.7 556.4 973.3 554.5 980.0 552.4 C986.7 550.3 993.3 548.1 1000.0 545.6 C1006.7 543.2 1013.3 540.7 1020.0 537.9 C1026.7 535.2 1033.3 532.3 1040.0 529.2 C1046.7 526.1 1053.3 522.8 1060.0 519.4 C1066.7 516.0 1073.3 512.3 1080.0 508.6 C1086.7 504.8 1093.3 500.8 1100.0 496.6 C1106.7 492.5 1113.3 488.2 1120.0 483.6 C1126.7 479.1 1133.3 474.3 1140.0 469.3 C1146.7 464.4 1153.3 459.2 1160.0 453.7 C1166.7 448.3 1173.3 442.6 1180.0 436.8 C1186.7 431.0 1193.3 424.9 1200.0 418.9 C1206.7 412.8 1213.3 406.5 1220.0 400.5 C1226.7 394.5 1233.3 388.4 1240.0 383.0 C1246.7 377.5 1253.3 372.1 1260.0 367.6 C1266.7 363.2 1273.3 359.1 1280.0 356.1 C1286.7 353.0 1293.3 350.7 1300.0 349.3 C1306.7 348.0 1313.3 347.5 1320.0 347.8 C1326.7 348.1 1333.3 349.4 1340.0 351.1 C1346.7 352.9 1353.3 355.5 1360.0 358.2 C1366.7 361.0 1373.3 364.4 1380.0 367.9 C1386.7 371.3 1393.3 375.1 1400.0 379.0 C1406.7 382.8 1413.3 386.7 1420.0 390.7 C1426.7 394.7 1433.3 398.7 1440.0 402.8 C1446.7 406.8 1453.3 410.9 1460.0 415.1 C1466.7 419.2 1473.3 423.4 1480.0 427.6 C1486.7 431.8 1493.3 436.1 1500.0 440.4 C1506.7 444.7 1513.3 449.0 1520.0 453.3 C1526.7 457.7 1533.3 462.0 1540.0 466.3 C1546.7 470.6 1553.3 474.9 1560.0 479.1 C1566.7 483.3 1573.3 487.4 1580.0 491.5 C1586.7 495.5 1593.3 499.5 1600.0 503.3 C1606.7 507.1 1613.3 510.8 1620.0 514.3 C1626.7 517.9 1633.3 521.3 1640.0 524.5 C1646.7 527.7 1653.3 530.8 1660.0 533.7 C1666.7 536.6 1673.3 539.4 1680.0 541.9 C1686.7 544.5 1693.3 546.9 1700.0 549.1 C1706.7 551.4 1713.3 553.5 1720.0 555.4 C1726.7 557.3 1733.3 559.1 1740.0 560.7 C1746.7 562.3 1753.3 563.8 1760.0 565.2 C1766.7 566.6 1773.3 567.8 1780.0 568.9 C1786.7 570.0 1793.3 571.0 1800.0 572.0 C1806.7 572.9 1813.3 573.7 1820.0 574.4 C1826.7 575.2 1833.3 575.8 1840.0 576.4 C1846.7 577.0 1853.3 577.5 1860.0 577.9 C1866.7 578.4 1873.3 578.8 1880.0 579.1 C1886.7 579.5 1893.3 579.8 1900.0 580.1 C1906.7 580.3 1913.3 580.5 1920.0 580.7 C1926.7 581.0 1933.3 581.1 1940.0 581.3 C1946.7 581.4 1953.3 581.5 1960.0 581.7 C1966.7 581.8 1973.3 581.9 1980.0 581.9 C1986.7 582.0 1993.3 582.1 2000.0 582.1 C2006.7 582.2 2013.3 582.2 2020.0 582.3 C2026.7 582.3 2036.7 582.4 2040.0 582.4"/><path d="M600.0 582.5 C603.3 582.5 613.3 582.5 620.0 582.5 C626.7 582.5 633.3 582.5 640.0 582.4 C646.7 582.4 653.3 582.4 660.0 582.4 C666.7 582.3 673.3 582.3 680.0 582.3 C686.7 582.2 693.3 582.2 700.0 582.1 C706.7 582.0 713.3 582.0 720.0 581.9 C726.7 581.8 733.3 581.7 740.0 581.6 C746.7 581.5 753.3 581.3 760.0 581.2 C766.7 581.0 773.3 580.8 780.0 580.6 C786.7 580.4 793.3 580.2 800.0 579.9 C806.7 579.6 813.3 579.3 820.0 578.9 C826.7 578.5 833.3 578.1 840.0 577.6 C846.7 577.1 853.3 576.6 860.0 576.0 C866.7 575.4 873.3 574.7 880.0 573.9 C886.7 573.2 893.3 572.3 900.0 571.4 C906.7 570.4 913.3 569.4 920.0 568.2 C926.7 567.0 933.3 565.7 940.0 564.3 C946.7 562.9 953.3 561.4 960.0 559.7 C966.7 558.0 973.3 556.2 980.0 554.2 C986.7 552.2 993.3 550.1 1000.0 547.8 C1006.7 545.5 1013.3 543.0 1020.0 540.4 C1026.7 537.8 1033.3 535.0 1040.0 532.0 C1046.7 529.1 1053.3 525.9 1060.0 522.6 C1066.7 519.4 1073.3 515.9 1080.0 512.3 C1086.7 508.8 1093.3 505.0 1100.0 501.2 C1106.7 497.4 1113.3 493.4 1120.0 489.3 C1126.7 485.2 1133.3 481.0 1140.0 476.8 C1146.7 472.6 1153.3 468.2 1160.0 463.9 C1166.7 459.5 1173.3 455.1 1180.0 450.6 C1186.7 446.2 1193.3 441.7 1200.0 437.2 C1206.7 432.7 1213.3 428.1 1220.0 423.6 C1226.7 419.0 1233.3 414.5 1240.0 409.9 C1246.7 405.4 1253.3 400.8 1260.0 396.4 C1266.7 391.9 1273.3 387.4 1280.0 383.2 C1286.7 378.9 1293.3 374.7 1300.0 370.9 C1306.7 367.2 1313.3 363.5 1320.0 360.5 C1326.7 357.5 1333.3 354.8 1340.0 352.9 C1346.7 351.0 1353.3 349.7 1360.0 349.2 C1366.7 348.7 1373.3 349.0 1380.0 350.1 C1386.7 351.2 1393.3 353.1 1400.0 355.8 C1406.7 358.4 1413.3 361.9 1420.0 365.8 C1426.7 369.8 1433.3 374.5 1440.0 379.3 C1446.7 384.2 1453.3 389.7 1460.0 395.1 C1466.7 400.5 1473.3 406.3 1480.0 411.9 C1486.7 417.5 1493.3 423.2 1500.0 428.7 C1506.7 434.3 1513.3 439.8 1520.0 445.1 C1526.7 450.3 1533.3 455.5 1540.0 460.5 C1546.7 465.5 1553.3 470.3 1560.0 474.9 C1566.7 479.5 1573.3 484.0 1580.0 488.3 C1586.7 492.6 1593.3 496.7 1600.0 500.7 C1606.7 504.7 1613.3 508.5 1620.0 512.1 C1626.7 515.8 1633.3 519.3 1640.0 522.6 C1646.7 525.9 1653.3 529.0 1660.0 532.0 C1666.7 534.9 1673.3 537.7 1680.0 540.4 C1686.7 543.0 1693.3 545.5 1700.0 547.8 C1706.7 550.1 1713.3 552.2 1720.0 554.2 C1726.7 556.2 1733.3 558.0 1740.0 559.7 C1746.7 561.4 1753.3 562.9 1760.0 564.3 C1766.7 565.7 1773.3 567.0 1780.0 568.2 C1786.7 569.4 1793.3 570.4 1800.0 571.4 C1806.7 572.3 1813.3 573.2 1820.0 573.9 C1826.7 574.7 1833.3 575.4 1840.0 576.0 C1846.7 576.6 1853.3 577.1 1860.0 577.6 C1866.7 578.1 1873.3 578.5 1880.0 578.9 C1886.7 579.3 1893.3 579.6 1900.0 579.9 C1906.7 580.2 1913.3 580.4 1920.0 580.6 C1926.7 580.8 1933.3 581.0 1940.0 581.2 C1946.7 581.3 1953.3 581.5 1960.0 581.6 C1966.7 581.7 1973.3 581.8 1980.0 581.9 C1986.7 582.0 1993.3 582.0 2000.0 582.1 C2006.7 582.2 2013.3 582.2 2020.0 582.3 C2026.7 582.3 2036.7 582.3 2040.0 582.4"/><path d="M600.0 582.5 C603.3 582.5 613.3 582.5 620.0 582.5 C626.7 582.5 633.3 582.5 640.0 582.4 C646.7 582.4 653.3 582.4 660.0 582.4 C666.7 582.3 673.3 582.3 680.0 582.3 C686.7 582.2 693.3 582.2 700.0 582.1 C706.7 582.0 713.3 582.0 720.0 581.9 C726.7 581.8 733.3 581.7 740.0 581.6 C746.7 581.4 753.3 581.3 760.0 581.1 C766.7 581.0 773.3 580.8 780.0 580.6 C786.7 580.3 793.3 580.1 800.0 579.8 C806.7 579.5 813.3 579.1 820.0 578.8 C826.7 578.4 833.3 577.9 840.0 577.4 C846.7 576.9 853.3 576.3 860.0 575.7 C866.7 575.0 873.3 574.3 880.0 573.5 C886.7 572.7 893.3 571.8 900.0 570.8 C906.7 569.8 913.3 568.6 920.0 567.4 C926.7 566.2 933.3 564.8 940.0 563.3 C946.7 561.8 953.3 560.1 960.0 558.3 C966.7 556.5 973.3 554.6 980.0 552.5 C986.7 550.3 993.3 548.1 1000.0 545.6 C1006.7 543.2 1013.3 540.5 1020.0 537.7 C1026.7 534.9 1033.3 531.9 1040.0 528.7 C1046.7 525.5 1053.3 522.2 1060.0 518.6 C1066.7 515.1 1073.3 511.4 1080.0 507.5 C1086.7 503.6 1093.3 499.5 1100.0 495.3 C1106.7 491.1 1113.3 486.6 1120.0 482.1 C1126.7 477.6 1133.3 472.9 1140.0 468.1 C1146.7 463.4 1153.3 458.4 1160.0 453.5 C1166.7 448.5 1173.3 443.5 1180.0 438.4 C1186.7 433.4 1193.3 428.3 1200.0 423.4 C1206.7 418.4 1213.3 413.4 1220.0 408.7 C1226.7 403.9 1233.3 399.3 1240.0 395.0 C1246.7 390.7 1253.3 386.5 1260.0 382.8 C1266.7 379.2 1273.3 375.8 1280.0 372.9 C1286.7 370.1 1293.3 367.6 1300.0 365.8 C1306.7 363.9 1313.3 362.5 1320.0 361.8 C1326.7 361.0 1333.3 360.8 1340.0 361.1 C1346.7 361.5 1353.3 362.4 1360.0 363.8 C1366.7 365.2 1373.3 367.2 1380.0 369.6 C1386.7 372.0 1393.3 374.9 1400.0 378.0 C1406.7 381.2 1413.3 384.8 1420.0 388.6 C1426.7 392.4 1433.3 396.5 1440.0 400.7 C1446.7 405.0 1453.3 409.5 1460.0 414.0 C1466.7 418.5 1473.3 423.2 1480.0 427.9 C1486.7 432.5 1493.3 437.3 1500.0 442.0 C1506.7 446.7 1513.3 451.5 1520.0 456.2 C1526.7 460.8 1533.3 465.5 1540.0 470.0 C1546.7 474.5 1553.3 479.0 1560.0 483.4 C1566.7 487.7 1573.3 492.0 1580.0 496.0 C1586.7 500.1 1593.3 504.1 1600.0 507.9 C1606.7 511.7 1613.3 515.4 1620.0 518.9 C1626.7 522.4 1633.3 525.7 1640.0 528.9 C1646.7 532.0 1653.3 535.0 1660.0 537.8 C1666.7 540.6 1673.3 543.2 1680.0 545.6 C1686.7 548.1 1693.3 550.4 1700.0 552.5 C1706.7 554.6 1713.3 556.5 1720.0 558.3 C1726.7 560.1 1733.3 561.8 1740.0 563.3 C1746.7 564.8 1753.3 566.2 1760.0 567.4 C1766.7 568.6 1773.3 569.8 1780.0 570.8 C1786.7 571.8 1793.3 572.7 1800.0 573.5 C1806.7 574.3 1813.3 575.0 1820.0 575.7 C1826.7 576.3 1833.3 576.9 1840.0 577.4 C1846.7 577.9 1853.3 578.4 1860.0 578.8 C1866.7 579.1 1873.3 579.5 1880.0 579.8 C1886.7 580.1 1893.3 580.3 1900.0 580.6 C1906.7 580.8 1913.3 581.0 1920.0 581.1 C1926.7 581.3 1933.3 581.4 1940.0 581.6 C1946.7 581.7 1953.3 581.8 1960.0 581.9 C1966.7 582.0 1973.3 582.0 1980.0 582.1 C1986.7 582.2 1993.3 582.2 2000.0 582.3 C2006.7 582.3 2013.3 582.3 2020.0 582.4 C2026.7 582.4 2036.7 582.4 2040.0 582.4"/></g><path d="M600.0 582.6 C602.0 582.6 608.0 582.6 612.0 582.6 C616.0 582.6 620.0 582.6 624.0 582.6 C628.0 582.6 632.0 582.6 636.0 582.6 C640.0 582.6 644.0 582.6 648.0 582.6 C652.0 582.6 656.0 582.6 660.0 582.6 C664.0 582.6 668.0 582.6 672.0 582.6 C676.0 582.6 680.0 582.6 684.0 582.6 C688.0 582.6 692.0 582.6 696.0 582.6 C700.0 582.6 704.0 582.6 708.0 582.6 C712.0 582.6 716.0 582.6 720.0 582.6 C724.0 582.6 728.0 582.6 732.0 582.6 C736.0 582.6 740.0 582.6 744.0 582.6 C748.0 582.6 752.0 582.8 756.0 582.6 C760.0 582.4 764.0 581.6 768.0 581.3 C772.0 581.0 776.0 580.8 780.0 580.6 C784.0 580.3 788.0 580.0 792.0 579.7 C796.0 579.3 800.0 579.0 804.0 578.6 C808.0 578.2 812.0 577.8 816.0 577.3 C820.0 576.8 824.0 576.4 828.0 575.8 C832.0 575.3 836.0 574.7 840.0 574.1 C844.0 573.5 848.0 572.9 852.0 572.2 C856.0 571.5 860.0 570.8 864.0 570.1 C868.0 569.3 872.0 568.5 876.0 567.7 C880.0 566.8 884.0 566.0 888.0 565.1 C892.0 564.2 896.0 563.2 900.0 562.3 C904.0 561.3 908.0 560.3 912.0 559.3 C916.0 558.3 920.0 557.2 924.0 556.1 C928.0 555.0 932.0 553.9 936.0 552.8 C940.0 551.6 944.0 550.5 948.0 549.3 C952.0 548.1 956.0 546.9 960.0 545.7 C964.0 544.4 968.0 543.2 972.0 541.9 C976.0 540.6 980.0 539.3 984.0 538.0 C988.0 536.7 992.0 535.3 996.0 534.0 C1000.0 532.6 1004.0 531.2 1008.0 529.7 C1012.0 528.3 1016.0 526.8 1020.0 525.2 C1024.0 523.6 1028.0 522.0 1032.0 520.3 C1036.0 518.6 1040.0 516.9 1044.0 515.0 C1048.0 513.2 1052.0 511.2 1056.0 509.2 C1060.0 507.2 1064.0 505.1 1068.0 502.8 C1072.0 500.6 1076.0 498.2 1080.0 495.8 C1084.0 493.4 1088.0 490.9 1092.0 488.4 C1096.0 486.0 1100.0 483.4 1104.0 481.0 C1108.0 478.5 1112.0 476.0 1116.0 473.7 C1120.0 471.3 1124.0 469.0 1128.0 466.8 C1132.0 464.6 1136.0 462.4 1140.0 460.3 C1144.0 458.2 1148.0 456.2 1152.0 454.2 C1156.0 452.2 1160.0 450.3 1164.0 448.4 C1168.0 446.5 1172.0 444.6 1176.0 442.8 C1180.0 441.1 1184.0 439.3 1188.0 437.6 C1192.0 435.9 1196.0 434.2 1200.0 432.6 C1204.0 430.9 1208.0 429.3 1212.0 427.7 C1216.0 426.2 1220.0 424.6 1224.0 423.1 C1228.0 421.6 1232.0 420.1 1236.0 418.6 C1240.0 417.1 1244.0 415.6 1248.0 414.0 C1252.0 412.5 1256.0 411.0 1260.0 409.4 C1264.0 407.8 1268.0 406.1 1272.0 404.5 C1276.0 402.8 1280.0 401.1 1284.0 399.4 C1288.0 397.7 1292.0 396.0 1296.0 394.4 C1300.0 392.8 1304.0 391.2 1308.0 389.7 C1312.0 388.2 1316.0 386.8 1320.0 385.6 C1324.0 384.3 1328.0 383.1 1332.0 382.2 C1336.0 381.2 1340.0 380.4 1344.0 379.8 C1348.0 379.3 1352.0 378.9 1356.0 378.8 C1360.0 378.6 1364.0 378.8 1368.0 379.1 C1372.0 379.4 1376.0 380.0 1380.0 380.7 C1384.0 381.5 1388.0 382.5 1392.0 383.6 C1396.0 384.7 1400.0 386.1 1404.0 387.5 C1408.0 389.0 1412.0 390.7 1416.0 392.4 C1420.0 394.2 1424.0 396.1 1428.0 398.2 C1432.0 400.2 1436.0 402.4 1440.0 404.7 C1444.0 407.0 1448.0 409.4 1452.0 411.9 C1456.0 414.4 1460.0 417.1 1464.0 419.8 C1468.0 422.6 1472.0 425.4 1476.0 428.4 C1480.0 431.3 1484.0 434.3 1488.0 437.4 C1492.0 440.4 1496.0 443.5 1500.0 446.6 C1504.0 449.8 1508.0 452.9 1512.0 456.0 C1516.0 459.2 1520.0 462.3 1524.0 465.4 C1528.0 468.5 1532.0 471.5 1536.0 474.5 C1540.0 477.5 1544.0 480.5 1548.0 483.3 C1552.0 486.2 1556.0 489.0 1560.0 491.7 C1564.0 494.4 1568.0 497.0 1572.0 499.5 C1576.0 502.0 1580.0 504.4 1584.0 506.7 C1588.0 509.0 1592.0 511.3 1596.0 513.4 C1600.0 515.6 1604.0 517.8 1608.0 519.8 C1612.0 521.9 1616.0 524.0 1620.0 526.0 C1624.0 528.0 1628.0 530.0 1632.0 531.9 C1636.0 533.9 1640.0 535.8 1644.0 537.7 C1648.0 539.6 1652.0 541.4 1656.0 543.1 C1660.0 544.9 1664.0 546.6 1668.0 548.2 C1672.0 549.8 1676.0 551.4 1680.0 552.8 C1684.0 554.3 1688.0 555.6 1692.0 556.9 C1696.0 558.2 1700.0 559.4 1704.0 560.5 C1708.0 561.6 1712.0 562.6 1716.0 563.6 C1720.0 564.5 1724.0 565.4 1728.0 566.3 C1732.0 567.1 1736.0 567.9 1740.0 568.6 C1744.0 569.4 1748.0 570.0 1752.0 570.7 C1756.0 571.3 1760.0 571.9 1764.0 572.4 C1768.0 573.0 1772.0 573.5 1776.0 574.0 C1780.0 574.4 1784.0 574.9 1788.0 575.3 C1792.0 575.7 1796.0 576.0 1800.0 576.3 C1804.0 576.7 1808.0 577.0 1812.0 577.2 C1816.0 577.5 1820.0 577.7 1824.0 577.9 C1828.0 578.1 1832.0 578.3 1836.0 578.5 C1840.0 578.6 1844.0 578.8 1848.0 578.9 C1852.0 579.0 1856.0 579.1 1860.0 579.2 C1864.0 579.3 1868.0 579.3 1872.0 579.4 C1876.0 579.4 1880.0 579.5 1884.0 579.5 C1888.0 579.5 1892.0 579.5 1896.0 579.5 C1900.0 579.5 1904.0 579.5 1908.0 579.5 C1912.0 579.5 1916.0 579.5 1920.0 579.5 C1924.0 579.5 1928.0 579.5 1932.0 579.5 C1936.0 579.4 1940.0 579.4 1944.0 579.4 C1948.0 579.4 1952.0 579.4 1956.0 579.4 C1960.0 579.4 1964.0 579.5 1968.0 579.5 C1972.0 579.5 1976.0 579.6 1980.0 579.6 C1984.0 579.7 1988.0 579.7 1992.0 579.8 C1996.0 579.9 2000.0 580.0 2004.0 580.1 C2008.0 580.3 2012.0 580.4 2016.0 580.6 C2020.0 580.7 2024.0 580.9 2028.0 581.2 C2032.0 581.4 2036.5 581.7 2040.0 581.9 C2043.5 582.1 2047.5 582.5 2049.0 582.6" fill="none" stroke="#3aaf85" stroke-width="21" stroke-linecap="butt" stroke-linejoin="round"/>
<path d="M527 326 L527 597 L2122 597" fill="none" stroke="#cccccc" stroke-width="8" stroke-linecap="square" stroke-linejoin="miter"/>
<text x="444.0" y="611.1" font-size="75" fill="#7f7f7f" text-anchor="end">0.00</text>
<text x="444.0" y="535.5" font-size="75" fill="#7f7f7f" text-anchor="end">0.01</text>
<text x="444.0" y="460.0" font-size="75" fill="#7f7f7f" text-anchor="end">0.02</text>
<text x="444.0" y="384.4" font-size="75" fill="#7f7f7f" text-anchor="end">0.03</text>
<text x="662.0" y="736.2" font-size="75" fill="#7f7f7f" text-anchor="middle">120</text>
<text x="1038.7" y="736.2" font-size="75" fill="#7f7f7f" text-anchor="middle">150</text>
<text x="1415.3" y="736.2" font-size="75" fill="#7f7f7f" text-anchor="middle">180</text>
<text x="1792.0" y="736.2" font-size="75" fill="#7f7f7f" text-anchor="middle">210</text>
<text x="1324.5" y="853.3" font-size="83" fill="#4d4d4d" text-anchor="middle">tasa_mortalidad</text>
<text x="149.0" y="461.5" font-size="83" fill="#4d4d4d" text-anchor="middle" transform="rotate(-90 149.0 461.5)">Density</text>
<line x1="552" y1="985" x2="668" y2="985" stroke="#3aaf85" stroke-width="8.5"/>
<text x="724.0" y="1013.3" font-size="75" fill="#4d4d4d" text-anchor="start">Observed data</text>
<line x1="1274" y1="984.5" x2="1389" y2="984.5" stroke="#1b6ca8" stroke-width="8.5"/>
<text x="1446.0" y="1013.3" font-size="75" fill="#4d4d4d" text-anchor="start">Model-predicted data</text>
<!-- lin -->
<text x="2204.0" y="160.8" font-size="100" fill="#000" text-anchor="start">Linearity</text>
<text x="2204.0" y="267.9" font-size="83" fill="#000" text-anchor="start">Reference line should be flat and horizontal</text>
<line x1="2756.8" y1="326" x2="2756.8" y2="597" stroke="#e5e5e5" stroke-width="4"/>
<line x1="3084.6" y1="326" x2="3084.6" y2="597" stroke="#e5e5e5" stroke-width="4"/>
<line x1="3412.2" y1="326" x2="3412.2" y2="597" stroke="#e5e5e5" stroke-width="4"/>
<line x1="3739.9" y1="326" x2="3739.9" y2="597" stroke="#e5e5e5" stroke-width="4"/>
<line x1="4067.7" y1="326" x2="4067.7" y2="597" stroke="#e5e5e5" stroke-width="4"/>
<line x1="2518" y1="578.5" x2="4113" y2="578.5" stroke="#e5e5e5" stroke-width="4"/>
<line x1="2518" y1="497.5" x2="4113" y2="497.5" stroke="#e5e5e5" stroke-width="4"/>
<line x1="2518" y1="416.5" x2="4113" y2="416.5" stroke="#e5e5e5" stroke-width="4"/>
<line x1="2518" y1="335.5" x2="4113" y2="335.5" stroke="#e5e5e5" stroke-width="4"/>
<line x1="2593.0" y1="326" x2="2593.0" y2="597" stroke="#e5e5e5" stroke-width="8"/>
<line x1="2920.7" y1="326" x2="2920.7" y2="597" stroke="#e5e5e5" stroke-width="8"/>
<line x1="3248.4" y1="326" x2="3248.4" y2="597" stroke="#e5e5e5" stroke-width="8"/>
<line x1="3576.1" y1="326" x2="3576.1" y2="597" stroke="#e5e5e5" stroke-width="8"/>
<line x1="3903.8" y1="326" x2="3903.8" y2="597" stroke="#e5e5e5" stroke-width="8"/>
<line x1="2518" y1="538.0" x2="4113" y2="538.0" stroke="#e5e5e5" stroke-width="8"/>
<line x1="2518" y1="457.0" x2="4113" y2="457.0" stroke="#e5e5e5" stroke-width="8"/>
<line x1="2518" y1="376.0" x2="4113" y2="376.0" stroke="#e5e5e5" stroke-width="8"/>
<g fill="#1b6ca8" fill-opacity="0.8"><circle cx="2589.3" cy="446.3" r="17.5"/><circle cx="2646.0" cy="475.3" r="17.5"/><circle cx="2653.0" cy="482.7" r="17.5"/><circle cx="2697.0" cy="448.5" r="17.5"/><circle cx="2700.7" cy="456.0" r="17.5"/><circle cx="2727.5" cy="428.0" r="17.5"/><circle cx="2733.0" cy="435.0" r="17.5"/><circle cx="2746.0" cy="445.8" r="17.5"/><circle cx="2726.5" cy="472.5" r="17.5"/><circle cx="2736.7" cy="492.9" r="17.5"/><circle cx="2703.5" cy="502.1" r="17.5"/><circle cx="2808.2" cy="427.3" r="17.5"/><circle cx="2845.7" cy="450.4" r="17.5"/><circle cx="2836.4" cy="481.8" r="17.5"/><circle cx="2892.4" cy="441.5" r="17.5"/><circle cx="2877.1" cy="520.6" r="17.5"/><circle cx="2907.6" cy="515.0" r="17.5"/><circle cx="2920.5" cy="508.6" r="17.5"/><circle cx="2931.6" cy="516.9" r="17.5"/><circle cx="3103.5" cy="343.2" r="17.5"/><circle cx="2981.6" cy="536.3" r="17.5"/><circle cx="3025.3" cy="540.0" r="17.5"/><circle cx="2984.3" cy="407.0" r="17.5"/><circle cx="3007.4" cy="401.4" r="17.5"/><circle cx="2976.0" cy="428.2" r="17.5"/><circle cx="3017.6" cy="413.4" r="17.5"/><circle cx="3032.4" cy="420.8" r="17.5"/><circle cx="3043.4" cy="424.5" r="17.5"/><circle cx="3060.0" cy="407.9" r="17.5"/><circle cx="3082.2" cy="407.9" r="17.5"/><circle cx="3078.5" cy="428.2" r="17.5"/><circle cx="3058.2" cy="430.0" r="17.5"/><circle cx="2964.0" cy="454.0" r="17.5"/><circle cx="3001.9" cy="450.4" r="17.5"/><circle cx="2964.0" cy="474.4" r="17.5"/><circle cx="2992.6" cy="478.1" r="17.5"/><circle cx="3006.5" cy="463.3" r="17.5"/><circle cx="3045.3" cy="467.0" r="17.5"/><circle cx="3065.6" cy="476.2" r="17.5"/><circle cx="3089.6" cy="467.0" r="17.5"/><circle cx="3122.9" cy="406.0" r="17.5"/><circle cx="3147.8" cy="396.8" r="17.5"/><circle cx="3167.2" cy="371.0" r="17.5"/><circle cx="3163.5" cy="388.5" r="17.5"/><circle cx="3150.6" cy="427.3" r="17.5"/><circle cx="3127.5" cy="463.3" r="17.5"/><circle cx="3113.6" cy="484.5" r="17.5"/><circle cx="3127.5" cy="502.9" r="17.5"/><circle cx="3171.8" cy="435.6" r="17.5"/><circle cx="3196.7" cy="417.1" r="17.5"/><circle cx="3193.0" cy="435.6" r="17.5"/><circle cx="3167.2" cy="484.5" r="17.5"/><circle cx="3182.0" cy="480.0" r="17.5"/><circle cx="3196.7" cy="468.8" r="17.5"/><circle cx="3230.9" cy="382.0" r="17.5"/><circle cx="3239.2" cy="398.7" r="17.5"/><circle cx="3233.7" cy="413.4" r="17.5"/><circle cx="3252.2" cy="406.0" r="17.5"/><circle cx="3237.4" cy="430.0" r="17.5"/><circle cx="3261.4" cy="437.4" r="17.5"/><circle cx="3242.0" cy="481.8" r="17.5"/><circle cx="3222.6" cy="502.1" r="17.5"/><circle cx="3222.6" cy="515.0" r="17.5"/><circle cx="3246.6" cy="500.2" r="17.5"/><circle cx="3258.6" cy="522.4" r="17.5"/><circle cx="3270.6" cy="518.7" r="17.5"/><circle cx="3277.1" cy="561.2" r="17.5"/><circle cx="3256.8" cy="582.4" r="17.5"/><circle cx="3281.7" cy="406.0" r="17.5"/><circle cx="3290.9" cy="415.3" r="17.5"/><circle cx="3307.6" cy="424.5" r="17.5"/><circle cx="3312.2" cy="383.9" r="17.5"/><circle cx="3336.2" cy="358.9" r="17.5"/><circle cx="3333.4" cy="413.4" r="17.5"/><circle cx="3272.5" cy="476.2" r="17.5"/><circle cx="3285.4" cy="491.0" r="17.5"/><circle cx="3298.3" cy="441.1" r="17.5"/><circle cx="3313.1" cy="457.8" r="17.5"/><circle cx="3327.9" cy="472.5" r="17.5"/><circle cx="3322.3" cy="502.1" r="17.5"/><circle cx="3305.7" cy="534.4" r="17.5"/><circle cx="3333.4" cy="537.2" r="17.5"/><circle cx="3353.7" cy="515.0" r="17.5"/><circle cx="3357.4" cy="494.7" r="17.5"/><circle cx="3355.6" cy="420.8" r="17.5"/><circle cx="3342.6" cy="439.3" r="17.5"/><circle cx="3472.0" cy="337.7" r="17.5"/><circle cx="3558.9" cy="346.9" r="17.5"/><circle cx="3548.7" cy="378.3" r="17.5"/><circle cx="3380.6" cy="383.0" r="17.5"/><circle cx="3402.8" cy="395.0" r="17.5"/><circle cx="3447.1" cy="382.0" r="17.5"/><circle cx="3607.8" cy="380.2" r="17.5"/><circle cx="3695.6" cy="395.0" r="17.5"/><circle cx="3498.8" cy="397.7" r="17.5"/><circle cx="3521.0" cy="387.6" r="17.5"/><circle cx="3514.5" cy="398.7" r="17.5"/><circle cx="3365.9" cy="419.0" r="17.5"/><circle cx="3406.5" cy="417.1" r="17.5"/><circle cx="3430.5" cy="420.8" r="17.5"/><circle cx="3443.4" cy="428.2" r="17.5"/><circle cx="3413.9" cy="437.4" r="17.5"/><circle cx="3367.7" cy="437.4" r="17.5"/><circle cx="3349.2" cy="443.0" r="17.5"/><circle cx="3484.0" cy="428.2" r="17.5"/><circle cx="3502.5" cy="420.8" r="17.5"/><circle cx="3524.7" cy="415.3" r="17.5"/><circle cx="3533.9" cy="430.0" r="17.5"/><circle cx="3515.5" cy="443.0" r="17.5"/><circle cx="3550.6" cy="439.3" r="17.5"/><circle cx="3578.3" cy="406.0" r="17.5"/><circle cx="3576.4" cy="420.8" r="17.5"/><circle cx="3606.0" cy="406.0" r="17.5"/><circle cx="3618.9" cy="422.7" r="17.5"/><circle cx="3644.8" cy="406.0" r="17.5"/><circle cx="3655.8" cy="412.5" r="17.5"/><circle cx="3652.2" cy="435.6" r="17.5"/><circle cx="3583.8" cy="439.3" r="17.5"/><circle cx="3635.5" cy="450.4" r="17.5"/><circle cx="3620.8" cy="467.0" r="17.5"/><circle cx="3654.0" cy="467.0" r="17.5"/><circle cx="3580.1" cy="463.3" r="17.5"/><circle cx="3552.4" cy="465.2" r="17.5"/><circle cx="3367.7" cy="465.2" r="17.5"/><circle cx="3340.0" cy="476.2" r="17.5"/><circle cx="3404.6" cy="450.4" r="17.5"/><circle cx="3441.6" cy="467.0" r="17.5"/><circle cx="3473.0" cy="454.0" r="17.5"/><circle cx="3506.2" cy="478.1" r="17.5"/><circle cx="3528.4" cy="480.0" r="17.5"/><circle cx="3434.2" cy="483.6" r="17.5"/><circle cx="3362.2" cy="496.6" r="17.5"/><circle cx="3349.2" cy="513.2" r="17.5"/><circle cx="3390.8" cy="504.9" r="17.5"/><circle cx="3410.2" cy="505.8" r="17.5"/><circle cx="3460.0" cy="504.0" r="17.5"/><circle cx="3484.0" cy="494.7" r="17.5"/><circle cx="3556.1" cy="494.7" r="17.5"/><circle cx="3585.7" cy="496.6" r="17.5"/><circle cx="3613.4" cy="496.6" r="17.5"/><circle cx="3572.7" cy="504.0" r="17.5"/><circle cx="3340.0" cy="537.2" r="17.5"/><circle cx="3405.6" cy="541.8" r="17.5"/><circle cx="3443.4" cy="533.5" r="17.5"/><circle cx="3442.5" cy="553.8" r="17.5"/><circle cx="3477.6" cy="526.1" r="17.5"/><circle cx="3495.2" cy="528.9" r="17.5"/><circle cx="3530.2" cy="516.9" r="17.5"/><circle cx="3559.8" cy="532.6" r="17.5"/><circle cx="3585.7" cy="530.7" r="17.5"/><circle cx="3599.5" cy="550.1" r="17.5"/><circle cx="3504.4" cy="564.9" r="17.5"/><circle cx="3524.7" cy="565.8" r="17.5"/><circle cx="3694.6" cy="529.8" r="17.5"/><circle cx="3727.0" cy="525.2" r="17.5"/><circle cx="3769.6" cy="351.6" r="17.5"/><circle cx="3945.4" cy="353.4" r="17.5"/><circle cx="3882.2" cy="412.5" r="17.5"/><circle cx="3799.1" cy="458.7" r="17.5"/><circle cx="3819.4" cy="453.1" r="17.5"/><circle cx="3879.5" cy="456.8" r="17.5"/><circle cx="4039.2" cy="455.9" r="17.5"/><circle cx="3821.3" cy="559.4" r="17.5"/><circle cx="3950.6" cy="537.2" r="17.5"/><circle cx="3420.0" cy="430.0" r="17.5"/><circle cx="3450.0" cy="445.0" r="17.5"/><circle cx="3470.0" cy="420.0" r="17.5"/><circle cx="3395.0" cy="455.0" r="17.5"/><circle cx="3500.0" cy="440.0" r="17.5"/><circle cx="3530.0" cy="450.0" r="17.5"/><circle cx="3480.0" cy="470.0" r="17.5"/><circle cx="3545.0" cy="425.0" r="17.5"/><circle cx="3560.0" cy="445.0" r="17.5"/><circle cx="3600.0" cy="440.0" r="17.5"/><circle cx="3625.0" cy="435.0" r="17.5"/><circle cx="3590.0" cy="470.0" r="17.5"/><circle cx="3375.0" cy="425.0" r="17.5"/><circle cx="3440.0" cy="475.0" r="17.5"/><circle cx="3510.0" cy="465.0" r="17.5"/><circle cx="3290.0" cy="440.0" r="17.5"/><circle cx="3320.0" cy="437.0" r="17.5"/><circle cx="3350.0" cy="442.0" r="17.5"/><circle cx="3305.0" cy="430.0" r="17.5"/><circle cx="3230.0" cy="420.0" r="17.5"/><circle cx="3255.0" cy="455.0" r="17.5"/><circle cx="3180.0" cy="455.0" r="17.5"/><circle cx="3050.0" cy="440.0" r="17.5"/><circle cx="3010.0" cy="435.0" r="17.5"/><circle cx="3100.0" cy="430.0" r="17.5"/><circle cx="3140.0" cy="450.0" r="17.5"/><circle cx="3345.5" cy="456.3" r="17.5"/><circle cx="3381.0" cy="458.1" r="17.5"/><circle cx="3485.7" cy="455.9" r="17.5"/><circle cx="3635.6" cy="457.9" r="17.5"/><circle cx="3282.5" cy="452.7" r="17.5"/><circle cx="3403.4" cy="459.8" r="17.5"/><circle cx="3529.0" cy="454.2" r="17.5"/><circle cx="2966.0" cy="458.8" r="17.5"/><circle cx="3270.0" cy="445.0" r="17.5"/><circle cx="3290.0" cy="468.0" r="17.5"/><circle cx="3310.0" cy="475.0" r="17.5"/><circle cx="3335.0" cy="448.0" r="17.5"/><circle cx="3360.0" cy="470.0" r="17.5"/><circle cx="3380.0" cy="480.0" r="17.5"/><circle cx="3300.0" cy="452.0" r="17.5"/><circle cx="3350.0" cy="466.0" r="17.5"/><circle cx="3395.0" cy="446.0" r="17.5"/><circle cx="3320.0" cy="478.0" r="17.5"/></g><path d="M2590.0 432.0 C2605.3 433.2 2654.2 436.6 2682.0 439.0 C2709.8 441.4 2717.2 446.4 2757.0 446.7 C2796.8 447.0 2863.8 442.8 2921.0 441.0 C2978.2 439.2 3036.8 434.5 3100.0 436.0 C3163.2 437.5 3233.3 447.3 3300.0 450.0 C3366.7 452.7 3426.7 453.2 3500.0 452.0 C3573.3 450.8 3673.3 447.6 3740.0 443.0 C3806.7 438.4 3850.2 432.7 3900.0 424.5 C3949.8 416.3 4015.8 399.1 4039.0 394.0 L4039.0 505.8 C4015.8 502.1 3949.8 489.2 3900.0 483.6 C3850.2 478.1 3806.7 474.9 3740.0 472.5 C3673.3 470.1 3573.3 469.8 3500.0 469.0 C3426.7 468.2 3366.7 470.8 3300.0 468.0 C3233.3 465.2 3163.2 452.5 3100.0 452.0 C3036.8 451.5 2978.2 459.7 2921.0 465.0 C2863.8 470.3 2796.8 478.7 2757.0 483.6 C2717.2 488.6 2709.8 489.6 2682.0 494.7 C2654.2 499.8 2605.3 510.8 2590.0 514.0 Z" fill="#bebebe" fill-opacity="0.3"/><path d="M2590.0 472.5 C2597.0 471.8 2609.5 469.5 2632.0 468.0 C2654.5 466.5 2694.2 465.0 2725.0 463.3 C2755.8 461.6 2786.3 459.5 2817.0 457.8 C2847.7 456.1 2885.2 454.3 2909.0 453.1 C2932.8 451.9 2939.5 451.5 2960.0 450.4 C2980.5 449.3 3004.5 447.9 3032.0 446.7 C3059.5 445.5 3100.3 443.6 3125.0 443.0 C3149.7 442.4 3164.7 442.1 3180.0 443.0 C3195.3 443.9 3201.7 446.0 3217.0 448.5 C3232.3 451.0 3248.2 455.9 3272.0 457.8 C3295.8 459.7 3322.0 459.2 3360.0 459.6 C3398.0 460.1 3451.7 460.4 3500.0 460.5 C3548.3 460.6 3606.7 460.8 3650.0 460.0 C3693.3 459.2 3720.3 456.7 3760.0 456.0 C3799.7 455.3 3841.5 457.1 3888.0 456.0 C3934.5 454.9 4013.8 450.6 4039.0 449.5" fill="none" stroke="#3aaf85" stroke-width="12.5"/><line x1="2518" y1="457" x2="4086" y2="457" stroke="#000" stroke-width="8" stroke-dasharray="32 32"/>
<path d="M2518 326 L2518 597 L4113 597" fill="none" stroke="#cccccc" stroke-width="8" stroke-linecap="square" stroke-linejoin="miter"/>
<text x="2435.0" y="565.5" font-size="75" fill="#7f7f7f" text-anchor="end">-20</text>
<text x="2435.0" y="484.5" font-size="75" fill="#7f7f7f" text-anchor="end">0</text>
<text x="2435.0" y="403.5" font-size="75" fill="#7f7f7f" text-anchor="end">20</text>
<text x="2593.0" y="736.2" font-size="75" fill="#7f7f7f" text-anchor="middle">150</text>
<text x="2920.7" y="736.2" font-size="75" fill="#7f7f7f" text-anchor="middle">160</text>
<text x="3248.4" y="736.2" font-size="75" fill="#7f7f7f" text-anchor="middle">170</text>
<text x="3576.1" y="736.2" font-size="75" fill="#7f7f7f" text-anchor="middle">180</text>
<text x="3903.8" y="736.2" font-size="75" fill="#7f7f7f" text-anchor="middle">190</text>
<text x="3315.5" y="853.3" font-size="83" fill="#4d4d4d" text-anchor="middle">Fitted values</text>
<text x="2268.0" y="461.5" font-size="83" fill="#4d4d4d" text-anchor="middle" transform="rotate(-90 2268.0 461.5)">Residuals</text>
<!-- hom -->
<text x="86.0" y="1171.8" font-size="100" fill="#000" text-anchor="start">Homogeneity of Variance</text>
<text x="86.0" y="1278.9" font-size="83" fill="#000" text-anchor="start">Reference line should be flat and horizontal</text>
<line x1="765.9" y1="1338" x2="765.9" y2="1608" stroke="#e5e5e5" stroke-width="4"/>
<line x1="1093.6" y1="1338" x2="1093.6" y2="1608" stroke="#e5e5e5" stroke-width="4"/>
<line x1="1421.2" y1="1338" x2="1421.2" y2="1608" stroke="#e5e5e5" stroke-width="4"/>
<line x1="1749.0" y1="1338" x2="1749.0" y2="1608" stroke="#e5e5e5" stroke-width="4"/>
<line x1="2076.7" y1="1338" x2="2076.7" y2="1608" stroke="#e5e5e5" stroke-width="4"/>
<line x1="527" y1="1564.5" x2="2122" y2="1564.5" stroke="#e5e5e5" stroke-width="4"/>
<line x1="527" y1="1487.1" x2="2122" y2="1487.1" stroke="#e5e5e5" stroke-width="4"/>
<line x1="527" y1="1409.7" x2="2122" y2="1409.7" stroke="#e5e5e5" stroke-width="4"/>
<line x1="602.0" y1="1338" x2="602.0" y2="1608" stroke="#e5e5e5" stroke-width="8"/>
<line x1="929.7" y1="1338" x2="929.7" y2="1608" stroke="#e5e5e5" stroke-width="8"/>
<line x1="1257.4" y1="1338" x2="1257.4" y2="1608" stroke="#e5e5e5" stroke-width="8"/>
<line x1="1585.1" y1="1338" x2="1585.1" y2="1608" stroke="#e5e5e5" stroke-width="8"/>
<line x1="1912.8" y1="1338" x2="1912.8" y2="1608" stroke="#e5e5e5" stroke-width="8"/>
<line x1="527" y1="1603.2" x2="2122" y2="1603.2" stroke="#e5e5e5" stroke-width="8"/>
<line x1="527" y1="1525.8" x2="2122" y2="1525.8" stroke="#e5e5e5" stroke-width="8"/>
<line x1="527" y1="1448.4" x2="2122" y2="1448.4" stroke="#e5e5e5" stroke-width="8"/>
<line x1="527" y1="1371.0" x2="2122" y2="1371.0" stroke="#e5e5e5" stroke-width="8"/>
<g fill="#1b6ca8" fill-opacity="0.8"><circle cx="598.3" cy="1528.3" r="17.5"/><circle cx="655.0" cy="1505.3" r="17.5"/><circle cx="662.0" cy="1487.2" r="17.5"/><circle cx="706.0" cy="1536.5" r="17.5"/><circle cx="709.7" cy="1580.3" r="17.5"/><circle cx="736.5" cy="1480.0" r="17.5"/><circle cx="742.0" cy="1495.9" r="17.5"/><circle cx="755.0" cy="1526.6" r="17.5"/><circle cx="735.5" cy="1513.1" r="17.5"/><circle cx="745.7" cy="1466.1" r="17.5"/><circle cx="712.5" cy="1449.5" r="17.5"/><circle cx="817.2" cy="1478.5" r="17.5"/><circle cx="854.7" cy="1544.4" r="17.5"/><circle cx="845.4" cy="1489.2" r="17.5"/><circle cx="901.4" cy="1513.1" r="17.5"/><circle cx="886.1" cy="1420.7" r="17.5"/><circle cx="916.6" cy="1428.9" r="17.5"/><circle cx="929.5" cy="1438.8" r="17.5"/><circle cx="940.6" cy="1426.1" r="17.5"/><circle cx="1112.5" cy="1359.1" r="17.5"/><circle cx="990.6" cy="1399.4" r="17.5"/><circle cx="1034.3" cy="1394.7" r="17.5"/><circle cx="993.3" cy="1441.4" r="17.5"/><circle cx="1016.4" cy="1432.6" r="17.5"/><circle cx="985.0" cy="1480.4" r="17.5"/><circle cx="1026.6" cy="1452.1" r="17.5"/><circle cx="1041.4" cy="1465.5" r="17.5"/><circle cx="1052.4" cy="1472.7" r="17.5"/><circle cx="1069.0" cy="1442.9" r="17.5"/><circle cx="1091.2" cy="1442.9" r="17.5"/><circle cx="1087.5" cy="1480.4" r="17.5"/><circle cx="1067.2" cy="1484.3" r="17.5"/><circle cx="973.0" cy="1563.6" r="17.5"/><circle cx="1010.9" cy="1544.4" r="17.5"/><circle cx="973.0" cy="1507.7" r="17.5"/><circle cx="1001.6" cy="1498.1" r="17.5"/><circle cx="1015.5" cy="1545.8" r="17.5"/><circle cx="1054.3" cy="1530.8" r="17.5"/><circle cx="1074.6" cy="1502.9" r="17.5"/><circle cx="1098.6" cy="1530.8" r="17.5"/><circle cx="1131.9" cy="1439.8" r="17.5"/><circle cx="1156.8" cy="1425.7" r="17.5"/><circle cx="1176.2" cy="1391.0" r="17.5"/><circle cx="1172.5" cy="1413.8" r="17.5"/><circle cx="1159.6" cy="1478.5" r="17.5"/><circle cx="1136.5" cy="1545.8" r="17.5"/><circle cx="1122.6" cy="1483.2" r="17.5"/><circle cx="1136.5" cy="1448.2" r="17.5"/><circle cx="1180.8" cy="1497.3" r="17.5"/><circle cx="1205.7" cy="1458.7" r="17.5"/><circle cx="1202.0" cy="1497.3" r="17.5"/><circle cx="1176.2" cy="1483.2" r="17.5"/><circle cx="1191.0" cy="1493.5" r="17.5"/><circle cx="1205.7" cy="1524.6" r="17.5"/><circle cx="1239.9" cy="1405.0" r="17.5"/><circle cx="1248.2" cy="1428.5" r="17.5"/><circle cx="1242.7" cy="1452.1" r="17.5"/><circle cx="1261.2" cy="1439.8" r="17.5"/><circle cx="1246.4" cy="1484.3" r="17.5"/><circle cx="1270.4" cy="1501.9" r="17.5"/><circle cx="1251.0" cy="1489.2" r="17.5"/><circle cx="1231.6" cy="1449.5" r="17.5"/><circle cx="1231.6" cy="1428.9" r="17.5"/><circle cx="1255.6" cy="1452.8" r="17.5"/><circle cx="1267.6" cy="1418.1" r="17.5"/><circle cx="1279.6" cy="1423.5" r="17.5"/><circle cx="1286.1" cy="1369.6" r="17.5"/><circle cx="1265.8" cy="1347.0" r="17.5"/><circle cx="1290.7" cy="1439.8" r="17.5"/><circle cx="1299.9" cy="1455.4" r="17.5"/><circle cx="1316.6" cy="1472.7" r="17.5"/><circle cx="1321.2" cy="1407.6" r="17.5"/><circle cx="1345.2" cy="1376.6" r="17.5"/><circle cx="1342.4" cy="1452.1" r="17.5"/><circle cx="1281.5" cy="1502.9" r="17.5"/><circle cx="1294.4" cy="1469.8" r="17.5"/><circle cx="1307.3" cy="1512.0" r="17.5"/><circle cx="1322.1" cy="1582.7" r="17.5"/><circle cx="1336.9" cy="1513.1" r="17.5"/><circle cx="1331.3" cy="1449.5" r="17.5"/><circle cx="1314.7" cy="1401.9" r="17.5"/><circle cx="1342.4" cy="1398.3" r="17.5"/><circle cx="1362.7" cy="1428.9" r="17.5"/><circle cx="1366.4" cy="1462.7" r="17.5"/><circle cx="1364.6" cy="1465.5" r="17.5"/><circle cx="1351.6" cy="1506.9" r="17.5"/><circle cx="1481.0" cy="1353.3" r="17.5"/><circle cx="1567.9" cy="1363.1" r="17.5"/><circle cx="1557.7" cy="1400.2" r="17.5"/><circle cx="1389.6" cy="1406.4" r="17.5"/><circle cx="1411.8" cy="1423.0" r="17.5"/><circle cx="1456.1" cy="1405.0" r="17.5"/><circle cx="1616.8" cy="1402.7" r="17.5"/><circle cx="1704.6" cy="1423.0" r="17.5"/><circle cx="1507.8" cy="1427.0" r="17.5"/><circle cx="1530.0" cy="1412.6" r="17.5"/><circle cx="1523.5" cy="1428.5" r="17.5"/><circle cx="1374.9" cy="1462.1" r="17.5"/><circle cx="1415.5" cy="1458.7" r="17.5"/><circle cx="1439.5" cy="1465.5" r="17.5"/><circle cx="1452.4" cy="1480.4" r="17.5"/><circle cx="1422.9" cy="1501.9" r="17.5"/><circle cx="1376.7" cy="1501.9" r="17.5"/><circle cx="1358.2" cy="1517.6" r="17.5"/><circle cx="1493.0" cy="1480.4" r="17.5"/><circle cx="1511.5" cy="1465.5" r="17.5"/><circle cx="1533.7" cy="1455.4" r="17.5"/><circle cx="1542.9" cy="1484.3" r="17.5"/><circle cx="1524.5" cy="1517.6" r="17.5"/><circle cx="1559.6" cy="1506.9" r="17.5"/><circle cx="1587.3" cy="1439.8" r="17.5"/><circle cx="1585.4" cy="1465.5" r="17.5"/><circle cx="1615.0" cy="1439.8" r="17.5"/><circle cx="1627.9" cy="1469.2" r="17.5"/><circle cx="1653.8" cy="1439.8" r="17.5"/><circle cx="1664.8" cy="1450.6" r="17.5"/><circle cx="1661.2" cy="1497.3" r="17.5"/><circle cx="1592.8" cy="1506.9" r="17.5"/><circle cx="1644.5" cy="1544.4" r="17.5"/><circle cx="1629.8" cy="1530.8" r="17.5"/><circle cx="1663.0" cy="1530.8" r="17.5"/><circle cx="1589.1" cy="1545.8" r="17.5"/><circle cx="1561.4" cy="1537.7" r="17.5"/><circle cx="1376.7" cy="1537.7" r="17.5"/><circle cx="1349.0" cy="1502.9" r="17.5"/><circle cx="1413.6" cy="1544.4" r="17.5"/><circle cx="1450.6" cy="1530.8" r="17.5"/><circle cx="1482.0" cy="1563.6" r="17.5"/><circle cx="1515.2" cy="1498.1" r="17.5"/><circle cx="1537.4" cy="1493.5" r="17.5"/><circle cx="1443.2" cy="1485.2" r="17.5"/><circle cx="1371.2" cy="1459.2" r="17.5"/><circle cx="1358.2" cy="1431.7" r="17.5"/><circle cx="1399.8" cy="1444.8" r="17.5"/><circle cx="1419.2" cy="1443.3" r="17.5"/><circle cx="1469.0" cy="1446.3" r="17.5"/><circle cx="1493.0" cy="1462.7" r="17.5"/><circle cx="1565.1" cy="1462.7" r="17.5"/><circle cx="1594.7" cy="1459.2" r="17.5"/><circle cx="1622.4" cy="1459.2" r="17.5"/><circle cx="1581.7" cy="1446.3" r="17.5"/><circle cx="1349.0" cy="1398.3" r="17.5"/><circle cx="1414.6" cy="1392.5" r="17.5"/><circle cx="1452.4" cy="1403.1" r="17.5"/><circle cx="1451.5" cy="1378.1" r="17.5"/><circle cx="1486.6" cy="1413.0" r="17.5"/><circle cx="1504.2" cy="1409.2" r="17.5"/><circle cx="1539.2" cy="1426.1" r="17.5"/><circle cx="1568.8" cy="1404.2" r="17.5"/><circle cx="1594.7" cy="1406.8" r="17.5"/><circle cx="1608.5" cy="1382.4" r="17.5"/><circle cx="1513.4" cy="1365.5" r="17.5"/><circle cx="1533.7" cy="1364.5" r="17.5"/><circle cx="1703.6" cy="1408.0" r="17.5"/><circle cx="1736.0" cy="1414.2" r="17.5"/><circle cx="1778.6" cy="1368.3" r="17.5"/><circle cx="1954.4" cy="1370.3" r="17.5"/><circle cx="1891.2" cy="1450.6" r="17.5"/><circle cx="1808.1" cy="1573.4" r="17.5"/><circle cx="1828.4" cy="1558.0" r="17.5"/><circle cx="1888.5" cy="1593.0" r="17.5"/><circle cx="2048.2" cy="1579.2" r="17.5"/><circle cx="1830.3" cy="1371.6" r="17.5"/><circle cx="1959.6" cy="1398.3" r="17.5"/><circle cx="1429.0" cy="1484.3" r="17.5"/><circle cx="1459.0" cy="1523.9" r="17.5"/><circle cx="1479.0" cy="1464.0" r="17.5"/><circle cx="1404.0" cy="1570.8" r="17.5"/><circle cx="1509.0" cy="1508.9" r="17.5"/><circle cx="1539.0" cy="1542.7" r="17.5"/><circle cx="1489.0" cy="1520.7" r="17.5"/><circle cx="1554.0" cy="1473.8" r="17.5"/><circle cx="1569.0" cy="1523.9" r="17.5"/><circle cx="1609.0" cy="1508.9" r="17.5"/><circle cx="1634.0" cy="1495.9" r="17.5"/><circle cx="1599.0" cy="1520.7" r="17.5"/><circle cx="1384.0" cy="1473.8" r="17.5"/><circle cx="1449.0" cy="1506.1" r="17.5"/><circle cx="1519.0" cy="1538.5" r="17.5"/><circle cx="1299.0" cy="1508.9" r="17.5"/><circle cx="1329.0" cy="1500.9" r="17.5"/><circle cx="1359.0" cy="1514.6" r="17.5"/><circle cx="1314.0" cy="1484.3" r="17.5"/><circle cx="1239.0" cy="1464.0" r="17.5"/><circle cx="1264.0" cy="1570.8" r="17.5"/><circle cx="1189.0" cy="1570.8" r="17.5"/><circle cx="1059.0" cy="1508.9" r="17.5"/><circle cx="1019.0" cy="1495.9" r="17.5"/><circle cx="1109.0" cy="1484.3" r="17.5"/><circle cx="1149.0" cy="1542.7" r="17.5"/><circle cx="1354.5" cy="1584.1" r="17.5"/><circle cx="1390.0" cy="1579.2" r="17.5"/><circle cx="1494.7" cy="1579.2" r="17.5"/><circle cx="1644.6" cy="1581.5" r="17.5"/><circle cx="1291.5" cy="1555.7" r="17.5"/><circle cx="1412.4" cy="1564.9" r="17.5"/><circle cx="1538.0" cy="1564.9" r="17.5"/><circle cx="975.0" cy="1572.5" r="17.5"/><circle cx="1279.0" cy="1523.9" r="17.5"/><circle cx="1299.0" cy="1527.3" r="17.5"/><circle cx="1319.0" cy="1506.1" r="17.5"/><circle cx="1344.0" cy="1534.6" r="17.5"/><circle cx="1369.0" cy="1520.7" r="17.5"/><circle cx="1389.0" cy="1493.5" r="17.5"/><circle cx="1309.0" cy="1552.0" r="17.5"/><circle cx="1359.0" cy="1534.6" r="17.5"/><circle cx="1404.0" cy="1527.3" r="17.5"/><circle cx="1329.0" cy="1498.3" r="17.5"/></g><path d="M599.0 1474.8 C632.5 1472.7 716.5 1465.3 800.0 1462.0 C883.5 1458.7 1000.0 1453.7 1100.0 1455.0 C1200.0 1456.3 1300.0 1470.5 1400.0 1470.0 C1500.0 1469.5 1616.7 1457.0 1700.0 1452.0 C1783.3 1447.0 1841.9 1444.4 1900.0 1440.0 C1958.1 1435.6 2023.8 1427.9 2048.5 1425.5 L2048.5 1559.2 C2023.8 1552.7 1958.1 1531.9 1900.0 1520.0 C1841.9 1508.1 1783.3 1491.8 1700.0 1488.0 C1616.7 1484.2 1500.0 1496.3 1400.0 1497.0 C1300.0 1497.7 1200.0 1487.3 1100.0 1492.0 C1000.0 1496.7 883.5 1511.5 800.0 1525.0 C716.5 1538.5 632.5 1565.2 599.0 1573.3 Z" fill="#bebebe" fill-opacity="0.3"/><path d="M599.8 1525.0 C628.8 1519.3 712.7 1499.0 774.0 1491.0 C835.3 1483.0 903.0 1480.2 967.5 1476.7 C1032.0 1473.2 1112.6 1470.8 1161.0 1470.0 C1209.4 1469.2 1225.5 1470.0 1257.8 1471.8 C1290.0 1473.5 1314.2 1479.7 1354.5 1480.5 C1394.8 1481.3 1459.3 1478.8 1499.6 1476.7 C1539.9 1474.6 1559.3 1469.8 1596.4 1468.0 C1633.5 1466.2 1673.6 1465.5 1722.0 1466.0 C1770.4 1466.5 1832.3 1466.6 1886.6 1470.8 C1940.9 1475.0 2021.1 1487.8 2048.0 1491.2" fill="none" stroke="#3aaf85" stroke-width="12.5"/>
<path d="M527 1338 L527 1608 L2122 1608" fill="none" stroke="#cccccc" stroke-width="8" stroke-linecap="square" stroke-linejoin="miter"/>
<text x="444.0" y="1630.7" font-size="75" fill="#7f7f7f" text-anchor="end">0.0</text>
<text x="444.0" y="1553.3" font-size="75" fill="#7f7f7f" text-anchor="end">0.5</text>
<text x="444.0" y="1475.9" font-size="75" fill="#7f7f7f" text-anchor="end">1.0</text>
<text x="444.0" y="1398.5" font-size="75" fill="#7f7f7f" text-anchor="end">1.5</text>
<text x="602.0" y="1747.2" font-size="75" fill="#7f7f7f" text-anchor="middle">150</text>
<text x="929.7" y="1747.2" font-size="75" fill="#7f7f7f" text-anchor="middle">160</text>
<text x="1257.4" y="1747.2" font-size="75" fill="#7f7f7f" text-anchor="middle">170</text>
<text x="1585.1" y="1747.2" font-size="75" fill="#7f7f7f" text-anchor="middle">180</text>
<text x="1912.8" y="1747.2" font-size="75" fill="#7f7f7f" text-anchor="middle">190</text>
<text x="1324.5" y="1864.3" font-size="83" fill="#4d4d4d" text-anchor="middle">Fitted values</text>
<text x="168.0" y="1452.0" font-size="83" fill="#4d4d4d" text-anchor="middle" transform="rotate(-90 168.0 1452.0)">|Std. residuals|</text>
<path d="M87 1178 L87 1737 L186 1749 L147 1761 L150 1772" fill="none" stroke="#4d4d4d" stroke-width="4.5" stroke-linejoin="round" stroke-linecap="round"/>
<!-- inf -->
<text x="2204.0" y="1171.8" font-size="100" fill="#000" text-anchor="start">Influential Observations</text>
<text x="2204.0" y="1278.9" font-size="83" fill="#000" text-anchor="start">Points should be inside the contour lines</text>
<line x1="2855.7" y1="1338" x2="2855.7" y2="1608" stroke="#e5e5e5" stroke-width="4"/>
<line x1="3387.7" y1="1338" x2="3387.7" y2="1608" stroke="#e5e5e5" stroke-width="4"/>
<line x1="3919.7" y1="1338" x2="3919.7" y2="1608" stroke="#e5e5e5" stroke-width="4"/>
<line x1="2518" y1="1587.2" x2="4113" y2="1587.2" stroke="#e5e5e5" stroke-width="4"/>
<line x1="2518" y1="1541.3" x2="4113" y2="1541.3" stroke="#e5e5e5" stroke-width="4"/>
<line x1="2518" y1="1495.4" x2="4113" y2="1495.4" stroke="#e5e5e5" stroke-width="4"/>
<line x1="2518" y1="1449.6" x2="4113" y2="1449.6" stroke="#e5e5e5" stroke-width="4"/>
<line x1="2518" y1="1403.7" x2="4113" y2="1403.7" stroke="#e5e5e5" stroke-width="4"/>
<line x1="2518" y1="1357.8" x2="4113" y2="1357.8" stroke="#e5e5e5" stroke-width="4"/>
<line x1="2589.7" y1="1338" x2="2589.7" y2="1608" stroke="#e5e5e5" stroke-width="8"/>
<line x1="3121.7" y1="1338" x2="3121.7" y2="1608" stroke="#e5e5e5" stroke-width="8"/>
<line x1="3653.7" y1="1338" x2="3653.7" y2="1608" stroke="#e5e5e5" stroke-width="8"/>
<line x1="2518" y1="1564.2" x2="4113" y2="1564.2" stroke="#e5e5e5" stroke-width="8"/>
<line x1="2518" y1="1518.4" x2="4113" y2="1518.4" stroke="#e5e5e5" stroke-width="8"/>
<line x1="2518" y1="1472.5" x2="4113" y2="1472.5" stroke="#e5e5e5" stroke-width="8"/>
<line x1="2518" y1="1426.6" x2="4113" y2="1426.6" stroke="#e5e5e5" stroke-width="8"/>
<line x1="2518" y1="1380.8" x2="4113" y2="1380.8" stroke="#e5e5e5" stroke-width="8"/>
<line x1="2518" y1="1473" x2="4086" y2="1473" stroke="#a6a6a6" stroke-width="8" stroke-dasharray="32 32"/><line x1="2589.6" y1="1338" x2="2589.6" y2="1608" stroke="#a6a6a6" stroke-width="8" stroke-dasharray="31 32.7" stroke-dashoffset="17.5"/><g fill="#1b6ca8" fill-opacity="0.8"><circle cx="2808.2" cy="1466.4" r="16.5"/><circle cx="2814.5" cy="1476.4" r="16.5"/><circle cx="2797.2" cy="1481.1" r="16.5"/><circle cx="2749.5" cy="1481.6" r="16.5"/><circle cx="2865.4" cy="1473.7" r="16.5"/><circle cx="3345.2" cy="1474.8" r="16.5"/><circle cx="3187.3" cy="1472.4" r="16.5"/><circle cx="2693.8" cy="1472.0" r="16.5"/><circle cx="2735.5" cy="1465.7" r="16.5"/><circle cx="2872.9" cy="1471.6" r="16.5"/><circle cx="2826.6" cy="1482.8" r="16.5"/><circle cx="2743.8" cy="1473.0" r="16.5"/><circle cx="3359.2" cy="1467.4" r="16.5"/><circle cx="2732.7" cy="1481.8" r="16.5"/><circle cx="2696.2" cy="1472.3" r="16.5"/><circle cx="3083.7" cy="1479.7" r="16.5"/><circle cx="3292.1" cy="1468.4" r="16.5"/><circle cx="3121.4" cy="1473.0" r="16.5"/><circle cx="3088.6" cy="1464.6" r="16.5"/><circle cx="3030.9" cy="1468.8" r="16.5"/><circle cx="2756.2" cy="1462.1" r="16.5"/><circle cx="2736.5" cy="1475.5" r="16.5"/><circle cx="2693.8" cy="1471.8" r="16.5"/><circle cx="2782.5" cy="1477.0" r="16.5"/><circle cx="2847.6" cy="1466.5" r="16.5"/><circle cx="2776.4" cy="1466.0" r="16.5"/><circle cx="2741.9" cy="1461.2" r="16.5"/><circle cx="2882.6" cy="1475.2" r="16.5"/><circle cx="2770.3" cy="1467.2" r="16.5"/><circle cx="2906.5" cy="1480.6" r="16.5"/><circle cx="2739.2" cy="1472.2" r="16.5"/><circle cx="2696.9" cy="1478.9" r="16.5"/><circle cx="2813.4" cy="1472.6" r="16.5"/><circle cx="2783.8" cy="1464.0" r="16.5"/><circle cx="3127.6" cy="1484.9" r="16.5"/><circle cx="2715.4" cy="1479.0" r="16.5"/><circle cx="3278.7" cy="1473.0" r="16.5"/><circle cx="3334.2" cy="1468.7" r="16.5"/><circle cx="2897.5" cy="1466.3" r="16.5"/><circle cx="2703.9" cy="1479.1" r="16.5"/><circle cx="2900.4" cy="1472.2" r="16.5"/><circle cx="2868.6" cy="1462.6" r="16.5"/><circle cx="2747.3" cy="1468.2" r="16.5"/><circle cx="2732.4" cy="1463.5" r="16.5"/><circle cx="2875.1" cy="1477.1" r="16.5"/><circle cx="3001.1" cy="1476.5" r="16.5"/><circle cx="2741.7" cy="1475.2" r="16.5"/><circle cx="2764.5" cy="1472.2" r="16.5"/><circle cx="2710.2" cy="1482.1" r="16.5"/><circle cx="3206.0" cy="1462.3" r="16.5"/><circle cx="3173.2" cy="1471.9" r="16.5"/><circle cx="2888.4" cy="1471.6" r="16.5"/><circle cx="3344.3" cy="1463.6" r="16.5"/><circle cx="2847.2" cy="1471.7" r="16.5"/><circle cx="2908.8" cy="1465.6" r="16.5"/><circle cx="3316.0" cy="1469.2" r="16.5"/><circle cx="3227.1" cy="1469.0" r="16.5"/><circle cx="2836.9" cy="1486.8" r="16.5"/><circle cx="3302.8" cy="1483.2" r="16.5"/><circle cx="3167.9" cy="1467.2" r="16.5"/><circle cx="3081.8" cy="1480.9" r="16.5"/><circle cx="2826.4" cy="1477.5" r="16.5"/><circle cx="3306.7" cy="1473.9" r="16.5"/><circle cx="3171.6" cy="1479.5" r="16.5"/><circle cx="2871.9" cy="1463.4" r="16.5"/><circle cx="2817.7" cy="1467.4" r="16.5"/><circle cx="2732.8" cy="1475.5" r="16.5"/><circle cx="2890.7" cy="1480.4" r="16.5"/><circle cx="2682.7" cy="1476.2" r="16.5"/><circle cx="2718.9" cy="1463.5" r="16.5"/><circle cx="3207.3" cy="1486.1" r="16.5"/><circle cx="2832.5" cy="1468.0" r="16.5"/><circle cx="2778.7" cy="1467.9" r="16.5"/><circle cx="3082.7" cy="1486.8" r="16.5"/><circle cx="2752.5" cy="1467.9" r="16.5"/><circle cx="3292.7" cy="1467.1" r="16.5"/><circle cx="3338.5" cy="1473.7" r="16.5"/><circle cx="2743.1" cy="1469.0" r="16.5"/><circle cx="2774.8" cy="1478.5" r="16.5"/><circle cx="2872.1" cy="1478.5" r="16.5"/><circle cx="3113.5" cy="1471.5" r="16.5"/><circle cx="2927.7" cy="1472.2" r="16.5"/><circle cx="3166.9" cy="1477.3" r="16.5"/><circle cx="2711.2" cy="1462.0" r="16.5"/><circle cx="2685.8" cy="1470.6" r="16.5"/><circle cx="2690.9" cy="1477.3" r="16.5"/><circle cx="3110.8" cy="1479.6" r="16.5"/><circle cx="3342.3" cy="1480.1" r="16.5"/><circle cx="2999.0" cy="1477.1" r="16.5"/><circle cx="2788.2" cy="1472.4" r="16.5"/><circle cx="2989.9" cy="1473.9" r="16.5"/><circle cx="3144.2" cy="1466.9" r="16.5"/><circle cx="2853.1" cy="1482.2" r="16.5"/><circle cx="2948.3" cy="1465.7" r="16.5"/><circle cx="3235.6" cy="1468.0" r="16.5"/><circle cx="3320.4" cy="1467.7" r="16.5"/><circle cx="2810.3" cy="1464.4" r="16.5"/><circle cx="3118.6" cy="1481.2" r="16.5"/><circle cx="3001.6" cy="1475.2" r="16.5"/><circle cx="3233.4" cy="1485.1" r="16.5"/><circle cx="2886.0" cy="1459.2" r="16.5"/><circle cx="2861.0" cy="1475.2" r="16.5"/><circle cx="2888.3" cy="1469.2" r="16.5"/><circle cx="2781.0" cy="1477.8" r="16.5"/><circle cx="2855.9" cy="1474.6" r="16.5"/><circle cx="2937.9" cy="1472.9" r="16.5"/><circle cx="2987.1" cy="1479.0" r="16.5"/><circle cx="2714.2" cy="1462.9" r="16.5"/><circle cx="2845.7" cy="1467.6" r="16.5"/><circle cx="3131.6" cy="1481.6" r="16.5"/><circle cx="2947.8" cy="1471.5" r="16.5"/><circle cx="2846.9" cy="1465.0" r="16.5"/><circle cx="3145.3" cy="1468.3" r="16.5"/><circle cx="2767.3" cy="1480.1" r="16.5"/><circle cx="3316.1" cy="1469.6" r="16.5"/><circle cx="3146.0" cy="1460.5" r="16.5"/><circle cx="2726.1" cy="1480.7" r="16.5"/><circle cx="2686.5" cy="1474.8" r="16.5"/><circle cx="3142.2" cy="1482.7" r="16.5"/><circle cx="2792.5" cy="1466.0" r="16.5"/><circle cx="2938.7" cy="1479.7" r="16.5"/><circle cx="3326.5" cy="1474.7" r="16.5"/><circle cx="2788.4" cy="1468.0" r="16.5"/><circle cx="3316.1" cy="1467.9" r="16.5"/><circle cx="2752.7" cy="1469.7" r="16.5"/><circle cx="2967.4" cy="1464.4" r="16.5"/><circle cx="2919.2" cy="1471.4" r="16.5"/><circle cx="3054.5" cy="1468.5" r="16.5"/><circle cx="2821.9" cy="1464.5" r="16.5"/><circle cx="2796.9" cy="1466.4" r="16.5"/><circle cx="2725.4" cy="1480.0" r="16.5"/><circle cx="2774.7" cy="1474.4" r="16.5"/><circle cx="2716.7" cy="1470.3" r="16.5"/><circle cx="3148.4" cy="1464.0" r="16.5"/><circle cx="3185.5" cy="1470.0" r="16.5"/><circle cx="3275.4" cy="1476.8" r="16.5"/><circle cx="3051.7" cy="1479.0" r="16.5"/><circle cx="2908.5" cy="1459.2" r="16.5"/><circle cx="2969.5" cy="1472.3" r="16.5"/><circle cx="2702.3" cy="1462.3" r="16.5"/><circle cx="3099.6" cy="1472.1" r="16.5"/><circle cx="2836.9" cy="1476.3" r="16.5"/><circle cx="2726.1" cy="1479.0" r="16.5"/><circle cx="2961.1" cy="1486.3" r="16.5"/><circle cx="2853.6" cy="1483.1" r="16.5"/><circle cx="2696.3" cy="1473.2" r="16.5"/><circle cx="2688.7" cy="1480.6" r="16.5"/><circle cx="2713.7" cy="1475.6" r="16.5"/><circle cx="2726.8" cy="1462.1" r="16.5"/><circle cx="2952.0" cy="1486.8" r="16.5"/><circle cx="2681.0" cy="1470.0" r="16.5"/><circle cx="2690.0" cy="1476.0" r="16.5"/><circle cx="2700.0" cy="1466.0" r="16.5"/><circle cx="3067.6" cy="1452.6" r="16.5"/><circle cx="3256.7" cy="1455.9" r="16.5"/><circle cx="3357.8" cy="1461.4" r="16.5"/><circle cx="3379.8" cy="1476.7" r="16.5"/><circle cx="3221.5" cy="1476.7" r="16.5"/><circle cx="3305.0" cy="1483.3" r="16.5"/><circle cx="3319.4" cy="1472.3" r="16.5"/><circle cx="3287.5" cy="1472.3" r="16.5"/><circle cx="3924.7" cy="1467.2" r="16.5"/><circle cx="3940.7" cy="1471.8" r="16.5"/><circle cx="3969.3" cy="1480.9" r="16.5"/><circle cx="4039.0" cy="1470.6" r="16.5"/></g><text x="3146.7" y="1463.5" font-size="70" fill="#1b6ca8" text-anchor="middle">168</text><text x="3460.6" y="1471.7" font-size="70" fill="#1b6ca8" text-anchor="middle">147</text><text x="3829.2" y="1475.9" font-size="70" fill="#1b6ca8" text-anchor="middle">186</text><text x="3301.8" y="1575.1" font-size="70" fill="#1b6ca8" text-anchor="middle">34</text><text x="4025.6" y="1567.4" font-size="70" fill="#1b6ca8" text-anchor="middle">185</text><text x="3718.9" y="1392.0" font-size="70" fill="#3aaf85" text-anchor="middle">0.9</text><text x="3718.9" y="1582.1" font-size="70" fill="#3aaf85" text-anchor="middle">0.9</text><path d="M2679.0 1350.0 L2682.0 1352.0 L2685.0 1354.0 L2688.0 1355.9 L2691.0 1357.6 L2694.0 1359.3 L2697.0 1361.0 L2700.0 1362.6 L2703.0 1364.1 L2706.0 1365.5 L2709.0 1366.9 L2712.0 1368.2 L2715.0 1369.5 L2718.0 1370.8 L2721.0 1372.0 L2724.0 1373.2 L2727.0 1374.3 L2730.0 1375.4 L2733.0 1376.4 L2736.0 1377.5 L2739.0 1378.5 L2742.0 1379.4 L2745.0 1380.4 L2748.0 1381.3 L2751.0 1382.2 L2754.0 1383.0 L2757.0 1383.8 L2760.0 1384.7 L2763.0 1385.5 L2766.0 1386.2 L2769.0 1387.0 L2772.0 1387.7 L2775.0 1388.4 L2778.0 1389.2 L2781.0 1389.8 L2784.0 1390.5 L2787.0 1391.2 L2790.0 1391.8 L2793.0 1392.4 L2796.0 1393.0 L2799.0 1393.6 L2802.0 1394.2 L2805.0 1394.8 L2808.0 1395.4 L2811.0 1395.9 L2814.0 1396.5 L2817.0 1397.0 L2820.0 1397.5 L2823.0 1398.0 L2826.0 1398.5 L2829.0 1399.0 L2832.0 1399.5 L2835.0 1400.0 L2838.0 1400.4 L2841.0 1400.9 L2844.0 1401.3 L2847.0 1401.8 L2850.0 1402.2 L2853.0 1402.6 L2856.0 1403.1 L2859.0 1403.5 L2862.0 1403.9 L2865.0 1404.3 L2868.0 1404.7 L2871.0 1405.1 L2874.0 1405.4 L2877.0 1405.8 L2880.0 1406.2 L2883.0 1406.5 L2886.0 1406.9 L2889.0 1407.3 L2892.0 1407.6 L2895.0 1407.9 L2898.0 1408.3 L2901.0 1408.6 L2913.0 1409.9 L2925.0 1411.1 L2937.0 1412.3 L2949.0 1413.4 L2961.0 1414.4 L2973.0 1415.4 L2985.0 1416.4 L2997.0 1417.3 L3009.0 1418.2 L3021.0 1419.0 L3033.0 1419.8 L3045.0 1420.6 L3057.0 1421.3 L3069.0 1422.0 L3081.0 1422.7 L3093.0 1423.4 L3105.0 1424.0 L3117.0 1424.7 L3129.0 1425.3 L3141.0 1425.8 L3153.0 1426.4 L3165.0 1427.0 L3177.0 1427.5 L3189.0 1428.0 L3201.0 1428.5 L3213.0 1429.0 L3225.0 1429.5 L3237.0 1429.9 L3249.0 1430.4 L3261.0 1430.8 L3273.0 1431.3 L3285.0 1431.7 L3297.0 1432.1 L3309.0 1432.5 L3321.0 1432.9 L3333.0 1433.2 L3345.0 1433.6 L3357.0 1434.0 L3369.0 1434.3 L3381.0 1434.7 L3393.0 1435.0 L3405.0 1435.4 L3417.0 1435.7 L3429.0 1436.0 L3441.0 1436.3 L3453.0 1436.6 L3465.0 1436.9 L3477.0 1437.2 L3489.0 1437.5 L3501.0 1437.8 L3513.0 1438.1 L3525.0 1438.3 L3537.0 1438.6 L3549.0 1438.9 L3561.0 1439.1 L3573.0 1439.4 L3585.0 1439.6 L3597.0 1439.9 L3609.0 1440.1 L3621.0 1440.4 L3633.0 1440.6 L3645.0 1440.8 L3657.0 1441.1 L3669.0 1441.3 L3681.0 1441.5 L3693.0 1441.7 L3705.0 1441.9 L3717.0 1442.2 L3729.0 1442.4 L3741.0 1442.6 L3753.0 1442.8 L3765.0 1443.0 L3777.0 1443.2 L3789.0 1443.4 L3801.0 1443.5 L3813.0 1443.7 L3825.0 1443.9 L3837.0 1444.1 L3849.0 1444.3 L3861.0 1444.5 L3873.0 1444.6 L3885.0 1444.8 L3897.0 1445.0 L3909.0 1445.2 L3921.0 1445.3 L3933.0 1445.5 L3945.0 1445.7 L3957.0 1445.8 L3969.0 1446.0 L3981.0 1446.1 L3993.0 1446.3 L4005.0 1446.5 L4017.0 1446.6 L4029.0 1446.8 L4039.5 1446.1" fill="none" stroke="#3aaf85" stroke-width="12" stroke-dasharray="55 57" stroke-dashoffset="6"/><path d="M2679.0 1596.4 L2682.0 1594.4 L2685.0 1592.4 L2688.0 1590.5 L2691.0 1588.8 L2694.0 1587.1 L2697.0 1585.4 L2700.0 1583.8 L2703.0 1582.3 L2706.0 1580.9 L2709.0 1579.5 L2712.0 1578.2 L2715.0 1576.9 L2718.0 1575.6 L2721.0 1574.4 L2724.0 1573.2 L2727.0 1572.1 L2730.0 1571.0 L2733.0 1570.0 L2736.0 1568.9 L2739.0 1567.9 L2742.0 1567.0 L2745.0 1566.0 L2748.0 1565.1 L2751.0 1564.2 L2754.0 1563.4 L2757.0 1562.6 L2760.0 1561.7 L2763.0 1560.9 L2766.0 1560.2 L2769.0 1559.4 L2772.0 1558.7 L2775.0 1558.0 L2778.0 1557.2 L2781.0 1556.6 L2784.0 1555.9 L2787.0 1555.2 L2790.0 1554.6 L2793.0 1554.0 L2796.0 1553.4 L2799.0 1552.8 L2802.0 1552.2 L2805.0 1551.6 L2808.0 1551.0 L2811.0 1550.5 L2814.0 1549.9 L2817.0 1549.4 L2820.0 1548.9 L2823.0 1548.4 L2826.0 1547.9 L2829.0 1547.4 L2832.0 1546.9 L2835.0 1546.4 L2838.0 1546.0 L2841.0 1545.5 L2844.0 1545.1 L2847.0 1544.6 L2850.0 1544.2 L2853.0 1543.8 L2856.0 1543.3 L2859.0 1542.9 L2862.0 1542.5 L2865.0 1542.1 L2868.0 1541.7 L2871.0 1541.3 L2874.0 1541.0 L2877.0 1540.6 L2880.0 1540.2 L2883.0 1539.9 L2886.0 1539.5 L2889.0 1539.1 L2892.0 1538.8 L2895.0 1538.5 L2898.0 1538.1 L2901.0 1537.8 L2913.0 1536.5 L2925.0 1535.3 L2937.0 1534.1 L2949.0 1533.0 L2961.0 1532.0 L2973.0 1531.0 L2985.0 1530.0 L2997.0 1529.1 L3009.0 1528.2 L3021.0 1527.4 L3033.0 1526.6 L3045.0 1525.8 L3057.0 1525.1 L3069.0 1524.4 L3081.0 1523.7 L3093.0 1523.0 L3105.0 1522.4 L3117.0 1521.7 L3129.0 1521.1 L3141.0 1520.6 L3153.0 1520.0 L3165.0 1519.4 L3177.0 1518.9 L3189.0 1518.4 L3201.0 1517.9 L3213.0 1517.4 L3225.0 1516.9 L3237.0 1516.5 L3249.0 1516.0 L3261.0 1515.6 L3273.0 1515.1 L3285.0 1514.7 L3297.0 1514.3 L3309.0 1513.9 L3321.0 1513.5 L3333.0 1513.2 L3345.0 1512.8 L3357.0 1512.4 L3369.0 1512.1 L3381.0 1511.7 L3393.0 1511.4 L3405.0 1511.0 L3417.0 1510.7 L3429.0 1510.4 L3441.0 1510.1 L3453.0 1509.8 L3465.0 1509.5 L3477.0 1509.2 L3489.0 1508.9 L3501.0 1508.6 L3513.0 1508.3 L3525.0 1508.1 L3537.0 1507.8 L3549.0 1507.5 L3561.0 1507.3 L3573.0 1507.0 L3585.0 1506.8 L3597.0 1506.5 L3609.0 1506.3 L3621.0 1506.0 L3633.0 1505.8 L3645.0 1505.6 L3657.0 1505.3 L3669.0 1505.1 L3681.0 1504.9 L3693.0 1504.7 L3705.0 1504.5 L3717.0 1504.2 L3729.0 1504.0 L3741.0 1503.8 L3753.0 1503.6 L3765.0 1503.4 L3777.0 1503.2 L3789.0 1503.0 L3801.0 1502.9 L3813.0 1502.7 L3825.0 1502.5 L3837.0 1502.3 L3849.0 1502.1 L3861.0 1501.9 L3873.0 1501.8 L3885.0 1501.6 L3897.0 1501.4 L3909.0 1501.2 L3921.0 1501.1 L3933.0 1500.9 L3945.0 1500.7 L3957.0 1500.6 L3969.0 1500.4 L3981.0 1500.3 L3993.0 1500.1 L4005.0 1499.9 L4017.0 1499.8 L4029.0 1499.6 L4039.5 1500.3" fill="none" stroke="#3aaf85" stroke-width="12" stroke-dasharray="55 57" stroke-dashoffset="6"/><line x1="2678" y1="1473" x2="4039.5" y2="1473" stroke="#3aaf85" stroke-width="13"/>
<path d="M2518 1338 L2518 1608 L4113 1608" fill="none" stroke="#cccccc" stroke-width="8" stroke-linecap="square" stroke-linejoin="miter"/>
<text x="2435.0" y="1591.8" font-size="75" fill="#7f7f7f" text-anchor="end">-20</text>
<text x="2435.0" y="1545.9" font-size="75" fill="#7f7f7f" text-anchor="end">-10</text>
<text x="2435.0" y="1500.0" font-size="75" fill="#7f7f7f" text-anchor="end">0</text>
<text x="2435.0" y="1454.1" font-size="75" fill="#7f7f7f" text-anchor="end">10</text>
<text x="2435.0" y="1408.2" font-size="75" fill="#7f7f7f" text-anchor="end">20</text>
<text x="2589.7" y="1747.2" font-size="75" fill="#7f7f7f" text-anchor="middle">0.0</text>
<text x="3121.7" y="1747.2" font-size="75" fill="#7f7f7f" text-anchor="middle">0.1</text>
<text x="3653.7" y="1747.2" font-size="75" fill="#7f7f7f" text-anchor="middle">0.2</text>
<text x="3315.5" y="1866.5" font-size="83" fill="#4d4d4d" text-anchor="middle">Leverage (h<tspan font-size="58" dy="16">ii</tspan><tspan dy="-16">)</tspan></text>
<text x="2268.0" y="1473.0" font-size="83" fill="#4d4d4d" text-anchor="middle" transform="rotate(-90 2268.0 1473.0)">Std. Residuals</text>
<!-- col -->
<text x="86.0" y="2057.8" font-size="100" fill="#000" text-anchor="start">Collinearity</text>
<text x="86.0" y="2164.8" font-size="83" fill="#000" text-anchor="start">High collinearity (VIF) may inflate parameter uncertainty</text>

<line x1="527" y1="2455.3" x2="2122" y2="2455.3" stroke="#e5e5e5" stroke-width="4"/>
<line x1="527" y1="2394.4" x2="2122" y2="2394.4" stroke="#e5e5e5" stroke-width="4"/>
<line x1="527" y1="2343.7" x2="2122" y2="2343.7" stroke="#e5e5e5" stroke-width="4"/>
<line x1="527" y1="2277.0" x2="2122" y2="2277.0" stroke="#e5e5e5" stroke-width="4"/>
<line x1="711.3" y1="2224" x2="711.3" y2="2494" stroke="#e5e5e5" stroke-width="8"/>
<line x1="1017.8" y1="2224" x2="1017.8" y2="2494" stroke="#e5e5e5" stroke-width="8"/>
<line x1="1324.4" y1="2224" x2="1324.4" y2="2494" stroke="#e5e5e5" stroke-width="8"/>
<line x1="1631.0" y1="2224" x2="1631.0" y2="2494" stroke="#e5e5e5" stroke-width="8"/>
<line x1="1937.5" y1="2224" x2="1937.5" y2="2494" stroke="#e5e5e5" stroke-width="8"/>
<line x1="527" y1="2493.7" x2="2122" y2="2493.7" stroke="#e5e5e5" stroke-width="8"/>
<line x1="527" y1="2416.9" x2="2122" y2="2416.9" stroke="#e5e5e5" stroke-width="8"/>
<line x1="527" y1="2372.0" x2="2122" y2="2372.0" stroke="#e5e5e5" stroke-width="8"/>
<line x1="527" y1="2315.4" x2="2122" y2="2315.4" stroke="#e5e5e5" stroke-width="8"/>
<line x1="527" y1="2238.6" x2="2122" y2="2238.6" stroke="#e5e5e5" stroke-width="8"/>
<rect x="527" y="2224" width="1595" height="14.6" fill="#cd201f" fill-opacity="0.15"/><rect x="527" y="2238.6" width="1595" height="76.1" fill="#1b6ca8" fill-opacity="0.15"/><rect x="527" y="2314.7" width="1595" height="179.3" fill="#3aaf85" fill-opacity="0.15"/><circle cx="711.3" cy="2390.6" r="25.8" fill="#3aaf85"/><circle cx="1017.7" cy="2460.2" r="25.8" fill="#3aaf85"/><circle cx="1324.8" cy="2422.2" r="25.8" fill="#3aaf85"/><circle cx="1630.4" cy="2444.4" r="25.8" fill="#3aaf85"/><circle cx="1937.5" cy="2466.5" r="25.8" fill="#3aaf85"/>
<path d="M527 2224 L527 2494 L2122 2494" fill="none" stroke="#cccccc" stroke-width="8" stroke-linecap="square" stroke-linejoin="miter"/>
<text x="444.0" y="2521.2" font-size="75" fill="#7f7f7f" text-anchor="end">1</text>
<text x="444.0" y="2444.4" font-size="75" fill="#7f7f7f" text-anchor="end">2</text>
<text x="444.0" y="2399.5" font-size="75" fill="#7f7f7f" text-anchor="end">3</text>
<text x="444.0" y="2342.9" font-size="75" fill="#7f7f7f" text-anchor="end">5</text>
<text x="444.0" y="2266.1" font-size="75" fill="#7f7f7f" text-anchor="end">10</text>
<text x="711.3" y="2633.2" font-size="75" fill="#7f7f7f" text-anchor="middle">estado</text>
<text x="1017.8" y="2633.2" font-size="75" fill="#7f7f7f" text-anchor="middle">mediana_edad</text>
<text x="1324.4" y="2633.2" font-size="75" fill="#7f7f7f" text-anchor="middle">mediana_ingresos</text>
<text x="1631.0" y="2633.2" font-size="75" fill="#7f7f7f" text-anchor="middle">pct_desempleo</text>
<text x="1937.5" y="2633.2" font-size="75" fill="#7f7f7f" text-anchor="middle">pct_sec_incompleta</text>
<text x="150.5" y="2359.0" font-size="83" fill="#4d4d4d" text-anchor="middle" transform="rotate(-90 150.5 2359.0)">Variance Inflation</text>
<text x="237.8" y="2359.0" font-size="83" fill="#4d4d4d" text-anchor="middle" transform="rotate(-90 237.8 2359.0)">Factor (VIF, log-scaled)</text>
<line x1="1146" y1="2824" x2="1146" y2="2938" stroke="#3aaf85" stroke-width="14"/>
<circle cx="1146" cy="2881" r="26" fill="#3aaf85"/>
<text x="1255.0" y="2909.0" font-size="75" fill="#4d4d4d" text-anchor="start">Low (&lt; 5)</text>
<!-- qq -->
<text x="2204.0" y="2057.8" font-size="100" fill="#000" text-anchor="start">Normality of Residuals</text>
<text x="2204.0" y="2164.8" font-size="83" fill="#000" text-anchor="start">Dots should fall along the line</text>
<line x1="2677.7" y1="2224" x2="2677.7" y2="2494" stroke="#e5e5e5" stroke-width="4"/>
<line x1="2932.4" y1="2224" x2="2932.4" y2="2494" stroke="#e5e5e5" stroke-width="4"/>
<line x1="3187.1" y1="2224" x2="3187.1" y2="2494" stroke="#e5e5e5" stroke-width="4"/>
<line x1="3441.8" y1="2224" x2="3441.8" y2="2494" stroke="#e5e5e5" stroke-width="4"/>
<line x1="3696.4" y1="2224" x2="3696.4" y2="2494" stroke="#e5e5e5" stroke-width="4"/>
<line x1="3951.2" y1="2224" x2="3951.2" y2="2494" stroke="#e5e5e5" stroke-width="4"/>
<line x1="2518" y1="2473.5" x2="4113" y2="2473.5" stroke="#e5e5e5" stroke-width="4"/>
<line x1="2518" y1="2426.5" x2="4113" y2="2426.5" stroke="#e5e5e5" stroke-width="4"/>
<line x1="2518" y1="2379.5" x2="4113" y2="2379.5" stroke="#e5e5e5" stroke-width="4"/>
<line x1="2518" y1="2332.5" x2="4113" y2="2332.5" stroke="#e5e5e5" stroke-width="4"/>
<line x1="2518" y1="2285.5" x2="4113" y2="2285.5" stroke="#e5e5e5" stroke-width="4"/>
<line x1="2518" y1="2238.5" x2="4113" y2="2238.5" stroke="#e5e5e5" stroke-width="4"/>
<line x1="2550.3" y1="2224" x2="2550.3" y2="2494" stroke="#e5e5e5" stroke-width="8"/>
<line x1="2805.0" y1="2224" x2="2805.0" y2="2494" stroke="#e5e5e5" stroke-width="8"/>
<line x1="3059.7" y1="2224" x2="3059.7" y2="2494" stroke="#e5e5e5" stroke-width="8"/>
<line x1="3314.4" y1="2224" x2="3314.4" y2="2494" stroke="#e5e5e5" stroke-width="8"/>
<line x1="3569.1" y1="2224" x2="3569.1" y2="2494" stroke="#e5e5e5" stroke-width="8"/>
<line x1="3823.8" y1="2224" x2="3823.8" y2="2494" stroke="#e5e5e5" stroke-width="8"/>
<line x1="4078.5" y1="2224" x2="4078.5" y2="2494" stroke="#e5e5e5" stroke-width="8"/>
<line x1="2518" y1="2450.0" x2="4113" y2="2450.0" stroke="#e5e5e5" stroke-width="8"/>
<line x1="2518" y1="2403.0" x2="4113" y2="2403.0" stroke="#e5e5e5" stroke-width="8"/>
<line x1="2518" y1="2356.0" x2="4113" y2="2356.0" stroke="#e5e5e5" stroke-width="8"/>
<line x1="2518" y1="2309.0" x2="4113" y2="2309.0" stroke="#e5e5e5" stroke-width="8"/>
<line x1="2518" y1="2262.0" x2="4113" y2="2262.0" stroke="#e5e5e5" stroke-width="8"/>
<line x1="2518" y1="2356.5" x2="4113" y2="2356.5" stroke="#3aaf85" stroke-width="12"/><g fill="#1b6ca8" fill-opacity="1"><circle cx="2589.4" cy="2348.6" r="16.4"/><circle cx="2684.4" cy="2348.6" r="16.4"/><circle cx="2733.3" cy="2356.7" r="16.4"/><circle cx="2767.8" cy="2362.7" r="16.4"/><circle cx="2793.5" cy="2364.4" r="16.4"/><circle cx="2810.0" cy="2360.8" r="16.4"/><circle cx="2818.8" cy="2362.4" r="16.4"/><circle cx="2826.6" cy="2361.4" r="16.4"/><circle cx="2832.9" cy="2362.1" r="16.4"/><circle cx="2839.1" cy="2362.2" r="16.4"/><circle cx="2843.1" cy="2362.5" r="16.4"/><circle cx="2851.4" cy="2359.6" r="16.4"/><circle cx="2857.6" cy="2362.1" r="16.4"/><circle cx="2863.7" cy="2359.1" r="16.4"/><circle cx="2868.5" cy="2360.5" r="16.4"/><circle cx="2872.6" cy="2362.2" r="16.4"/><circle cx="2880.6" cy="2360.9" r="16.4"/><circle cx="2888.9" cy="2360.1" r="16.4"/><circle cx="2894.9" cy="2359.7" r="16.4"/><circle cx="2901.4" cy="2361.4" r="16.4"/><circle cx="2909.4" cy="2357.7" r="16.4"/><circle cx="2918.0" cy="2360.0" r="16.4"/><circle cx="2925.9" cy="2360.3" r="16.4"/><circle cx="2931.9" cy="2360.7" r="16.4"/><circle cx="2940.3" cy="2359.6" r="16.4"/><circle cx="2948.1" cy="2359.8" r="16.4"/><circle cx="2954.2" cy="2359.6" r="16.4"/><circle cx="2958.5" cy="2357.6" r="16.4"/><circle cx="2964.9" cy="2355.9" r="16.4"/><circle cx="2970.6" cy="2359.0" r="16.4"/><circle cx="2977.8" cy="2356.9" r="16.4"/><circle cx="2986.5" cy="2359.0" r="16.4"/><circle cx="2992.2" cy="2358.9" r="16.4"/><circle cx="2999.0" cy="2358.2" r="16.4"/><circle cx="3005.0" cy="2360.3" r="16.4"/><circle cx="3012.2" cy="2358.4" r="16.4"/><circle cx="3020.0" cy="2359.4" r="16.4"/><circle cx="3024.1" cy="2357.4" r="16.4"/><circle cx="3031.8" cy="2355.2" r="16.4"/><circle cx="3037.8" cy="2353.9" r="16.4"/><circle cx="3042.8" cy="2355.2" r="16.4"/><circle cx="3047.3" cy="2354.4" r="16.4"/><circle cx="3055.8" cy="2355.5" r="16.4"/><circle cx="3062.3" cy="2357.2" r="16.4"/><circle cx="3069.2" cy="2357.0" r="16.4"/><circle cx="3076.4" cy="2355.7" r="16.4"/><circle cx="3080.8" cy="2354.4" r="16.4"/><circle cx="3088.6" cy="2351.3" r="16.4"/><circle cx="3097.2" cy="2351.4" r="16.4"/><circle cx="3103.6" cy="2351.1" r="16.4"/><circle cx="3110.0" cy="2353.0" r="16.4"/><circle cx="3114.3" cy="2354.4" r="16.4"/><circle cx="3120.4" cy="2351.9" r="16.4"/><circle cx="3127.4" cy="2350.7" r="16.4"/><circle cx="3132.9" cy="2351.8" r="16.4"/><circle cx="3139.7" cy="2349.5" r="16.4"/><circle cx="3147.2" cy="2349.1" r="16.4"/><circle cx="3151.3" cy="2348.6" r="16.4"/><circle cx="3155.5" cy="2348.0" r="16.4"/><circle cx="3163.3" cy="2348.7" r="16.4"/><circle cx="3171.8" cy="2349.9" r="16.4"/><circle cx="3176.0" cy="2350.9" r="16.4"/><circle cx="3184.8" cy="2345.8" r="16.4"/><circle cx="3193.3" cy="2347.1" r="16.4"/><circle cx="3199.7" cy="2349.4" r="16.4"/><circle cx="3204.9" cy="2347.3" r="16.4"/><circle cx="3213.6" cy="2348.6" r="16.4"/><circle cx="3219.9" cy="2350.1" r="16.4"/><circle cx="3228.0" cy="2348.5" r="16.4"/><circle cx="3232.6" cy="2348.8" r="16.4"/><circle cx="3238.9" cy="2346.9" r="16.4"/><circle cx="3243.1" cy="2348.7" r="16.4"/><circle cx="3247.7" cy="2348.5" r="16.4"/><circle cx="3255.1" cy="2348.8" r="16.4"/><circle cx="3260.4" cy="2349.6" r="16.4"/><circle cx="3266.5" cy="2350.8" r="16.4"/><circle cx="3273.1" cy="2352.1" r="16.4"/><circle cx="3281.9" cy="2351.1" r="16.4"/><circle cx="3287.1" cy="2348.2" r="16.4"/><circle cx="3295.6" cy="2351.9" r="16.4"/><circle cx="3302.7" cy="2350.0" r="16.4"/><circle cx="3308.0" cy="2351.9" r="16.4"/><circle cx="3314.9" cy="2351.6" r="16.4"/><circle cx="3322.0" cy="2352.7" r="16.4"/><circle cx="3327.0" cy="2350.3" r="16.4"/><circle cx="3335.9" cy="2354.0" r="16.4"/><circle cx="3344.3" cy="2349.9" r="16.4"/><circle cx="3348.6" cy="2351.2" r="16.4"/><circle cx="3354.7" cy="2353.2" r="16.4"/><circle cx="3359.2" cy="2353.0" r="16.4"/><circle cx="3363.6" cy="2350.8" r="16.4"/><circle cx="3371.0" cy="2353.4" r="16.4"/><circle cx="3378.1" cy="2352.8" r="16.4"/><circle cx="3384.5" cy="2352.2" r="16.4"/><circle cx="3390.2" cy="2355.1" r="16.4"/><circle cx="3398.4" cy="2352.0" r="16.4"/><circle cx="3403.0" cy="2355.8" r="16.4"/><circle cx="3410.1" cy="2355.9" r="16.4"/><circle cx="3415.2" cy="2354.4" r="16.4"/><circle cx="3420.5" cy="2356.4" r="16.4"/><circle cx="3426.3" cy="2355.8" r="16.4"/><circle cx="3435.3" cy="2354.4" r="16.4"/><circle cx="3442.0" cy="2356.7" r="16.4"/><circle cx="3450.6" cy="2355.3" r="16.4"/><circle cx="3456.5" cy="2353.9" r="16.4"/><circle cx="3464.9" cy="2354.0" r="16.4"/><circle cx="3469.3" cy="2356.5" r="16.4"/><circle cx="3475.7" cy="2357.3" r="16.4"/><circle cx="3481.2" cy="2357.9" r="16.4"/><circle cx="3485.6" cy="2355.2" r="16.4"/><circle cx="3492.9" cy="2354.8" r="16.4"/><circle cx="3498.4" cy="2358.1" r="16.4"/><circle cx="3505.9" cy="2356.1" r="16.4"/><circle cx="3510.6" cy="2356.6" r="16.4"/><circle cx="3518.2" cy="2356.9" r="16.4"/><circle cx="3522.8" cy="2358.7" r="16.4"/><circle cx="3529.6" cy="2359.9" r="16.4"/><circle cx="3538.3" cy="2360.1" r="16.4"/><circle cx="3544.5" cy="2359.7" r="16.4"/><circle cx="3550.1" cy="2357.4" r="16.4"/><circle cx="3556.1" cy="2360.6" r="16.4"/><circle cx="3564.5" cy="2357.4" r="16.4"/><circle cx="3570.3" cy="2358.1" r="16.4"/><circle cx="3576.2" cy="2358.3" r="16.4"/><circle cx="3582.1" cy="2357.5" r="16.4"/><circle cx="3588.9" cy="2360.6" r="16.4"/><circle cx="3595.6" cy="2361.0" r="16.4"/><circle cx="3602.4" cy="2357.8" r="16.4"/><circle cx="3610.2" cy="2361.5" r="16.4"/><circle cx="3615.6" cy="2357.4" r="16.4"/><circle cx="3622.2" cy="2360.1" r="16.4"/><circle cx="3629.0" cy="2362.4" r="16.4"/><circle cx="3636.3" cy="2361.3" r="16.4"/><circle cx="3640.6" cy="2359.8" r="16.4"/><circle cx="3648.6" cy="2357.1" r="16.4"/><circle cx="3653.0" cy="2360.1" r="16.4"/><circle cx="3661.5" cy="2356.4" r="16.4"/><circle cx="3668.6" cy="2356.3" r="16.4"/><circle cx="3676.4" cy="2358.4" r="16.4"/><circle cx="3681.6" cy="2355.9" r="16.4"/><circle cx="3689.4" cy="2357.0" r="16.4"/><circle cx="3697.2" cy="2356.3" r="16.4"/><circle cx="3702.9" cy="2359.7" r="16.4"/><circle cx="3710.3" cy="2358.0" r="16.4"/><circle cx="3717.0" cy="2359.7" r="16.4"/><circle cx="3724.5" cy="2361.4" r="16.4"/><circle cx="3730.6" cy="2361.5" r="16.4"/><circle cx="3737.9" cy="2362.3" r="16.4"/><circle cx="3745.9" cy="2362.9" r="16.4"/><circle cx="3754.4" cy="2364.3" r="16.4"/><circle cx="3761.6" cy="2362.8" r="16.4"/><circle cx="3769.1" cy="2364.9" r="16.4"/><circle cx="3775.2" cy="2362.6" r="16.4"/><circle cx="3780.0" cy="2362.7" r="16.4"/><circle cx="3788.9" cy="2358.0" r="16.4"/><circle cx="3793.8" cy="2355.6" r="16.4"/><circle cx="3799.9" cy="2354.0" r="16.4"/><circle cx="3808.7" cy="2350.0" r="16.4"/><circle cx="3835.4" cy="2345.9" r="16.4"/><circle cx="3862.1" cy="2345.9" r="16.4"/><circle cx="3895.2" cy="2347.7" r="16.4"/><circle cx="3943.3" cy="2354.8" r="16.4"/><circle cx="4039.5" cy="2365.5" r="16.4"/></g>
<path d="M2518 2224 L2518 2494 L4113 2494" fill="none" stroke="#cccccc" stroke-width="8" stroke-linecap="square" stroke-linejoin="miter"/>
<text x="2435.0" y="2477.5" font-size="75" fill="#7f7f7f" text-anchor="end">-2</text>
<text x="2435.0" y="2430.5" font-size="75" fill="#7f7f7f" text-anchor="end">-1</text>
<text x="2435.0" y="2383.5" font-size="75" fill="#7f7f7f" text-anchor="end">0</text>
<text x="2435.0" y="2336.5" font-size="75" fill="#7f7f7f" text-anchor="end">1</text>
<text x="2435.0" y="2289.5" font-size="75" fill="#7f7f7f" text-anchor="end">2</text>
<text x="2550.3" y="2633.2" font-size="75" fill="#7f7f7f" text-anchor="middle">-3</text>
<text x="2805.0" y="2633.2" font-size="75" fill="#7f7f7f" text-anchor="middle">-2</text>
<text x="3059.7" y="2633.2" font-size="75" fill="#7f7f7f" text-anchor="middle">-1</text>
<text x="3314.4" y="2633.2" font-size="75" fill="#7f7f7f" text-anchor="middle">0</text>
<text x="3569.1" y="2633.2" font-size="75" fill="#7f7f7f" text-anchor="middle">1</text>
<text x="3823.8" y="2633.2" font-size="75" fill="#7f7f7f" text-anchor="middle">2</text>
<text x="4078.5" y="2633.2" font-size="75" fill="#7f7f7f" text-anchor="middle">3</text>
<text x="3315.5" y="2749.5" font-size="83" fill="#4d4d4d" text-anchor="middle">Standard Normal Distribution Quantiles</text>
<text x="2268.8" y="2359.0" font-size="83" fill="#4d4d4d" text-anchor="middle" transform="rotate(-90 2268.8 2359.0)">Sample Quantile Deviations</text>
</svg></body></html>
